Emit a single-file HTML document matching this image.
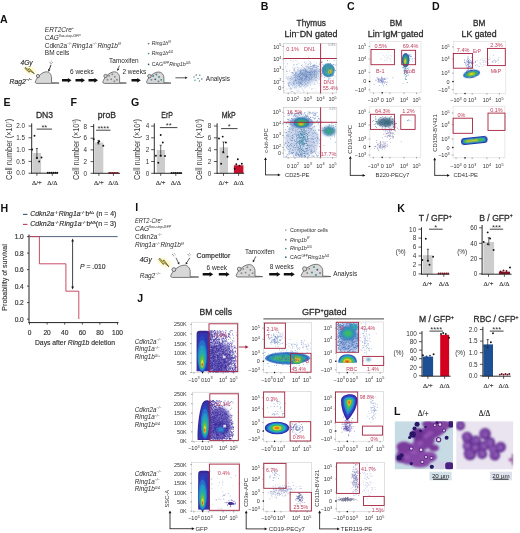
<!DOCTYPE html>
<html><head><meta charset="utf-8"><style>
html,body{margin:0;padding:0;background:#fff;}
body{width:520px;height:533px;overflow:hidden;}
svg{display:block;font-family:"Liberation Sans", sans-serif;-webkit-font-smoothing:antialiased;will-change:transform;}
</style></head><body>
<svg width="520" height="533" viewBox="0 0 520 533">
<defs><filter id="bl1" x="-50%" y="-50%" width="200%" height="200%"><feGaussianBlur stdDeviation="0.9"/></filter><filter id="bl2" x="-50%" y="-50%" width="200%" height="200%"><feGaussianBlur stdDeviation="1.6"/></filter><filter id="bl05" x="-50%" y="-50%" width="200%" height="200%"><feGaussianBlur stdDeviation="0.5"/></filter><filter id="bl065" x="-50%" y="-50%" width="200%" height="200%"><feGaussianBlur stdDeviation="0.85"/></filter><clipPath id="c1"><rect x="283.5" y="43.5" width="53.30000000000001" height="49.5"/></clipPath><clipPath id="c2"><rect x="283.5" y="107.3" width="53.30000000000001" height="50.2"/></clipPath><clipPath id="c3"><rect x="369.9" y="41.7" width="51.10000000000002" height="51.099999999999994"/></clipPath><clipPath id="c4"><rect x="369.9" y="106.2" width="50.900000000000034" height="50.999999999999986"/></clipPath><clipPath id="c5"><rect x="453.3" y="41.6" width="52.5" height="51.800000000000004"/></clipPath><clipPath id="c6"><rect x="453.1" y="106.2" width="51.799999999999955" height="51.60000000000001"/></clipPath><clipPath id="c7"><rect x="191.4" y="322.2" width="46.599999999999994" height="50.30000000000001"/></clipPath><clipPath id="c8"><rect x="192.3" y="392.2" width="46.29999999999998" height="49.10000000000002"/></clipPath><clipPath id="c9"><rect x="191.6" y="462.5" width="48.0" height="48.69999999999999"/></clipPath><clipPath id="c10"><rect x="263.6" y="322.6" width="48.0" height="49.799999999999955"/></clipPath><clipPath id="c11"><rect x="263.3" y="391.7" width="47.69999999999999" height="49.5"/></clipPath><clipPath id="c12"><rect x="263.6" y="462.7" width="48.0" height="48.5"/></clipPath><clipPath id="c13"><rect x="336.2" y="322.0" width="47.5" height="50.5"/></clipPath><clipPath id="c14"><rect x="335.5" y="391.7" width="48.19999999999999" height="49.5"/></clipPath><clipPath id="c15"><rect x="336.6" y="462.7" width="48.0" height="48.80000000000001"/></clipPath><clipPath id="c16"><rect x="394.6" y="421.2" width="58.39999999999998" height="48.19999999999999"/></clipPath><filter id="bl08" x="-50%" y="-50%" width="200%" height="200%"><feGaussianBlur stdDeviation="0.8"/></filter><clipPath id="c17"><rect x="456.2" y="421.2" width="57.19999999999999" height="48.400000000000034"/></clipPath></defs>
<rect x="0" y="0" width="520" height="533" fill="#fff"/>
<text x="0.1" y="22.7" font-size="10.6" fill="#111" font-weight="bold">A</text>
<text x="44.8" y="32.0" font-size="6.5" fill="#2a2a2a" font-style="italic">ERT2Cre<tspan font-size="3.8" dy="-2.60">+</tspan></text>
<text x="44.8" y="39.8" font-size="6.5" fill="#2a2a2a" font-style="italic">CAG<tspan font-size="3.5" dy="-2.60">flox-stop-GFP</tspan></text>
<text x="44.8" y="47.6" font-size="6.5" fill="#2a2a2a">Cdkn2a<tspan font-size="3.3" dy="-2.60">−/−</tspan><tspan dy="2.60" font-style="italic">Ring1a</tspan><tspan font-size="3.3" dy="-2.60">−/−</tspan><tspan dy="2.60" font-style="italic">Ring1b</tspan><tspan font-size="3.3" dy="-2.60" font-style="italic">f/f</tspan></text>
<text x="44.8" y="55.4" font-size="6.5" fill="#2a2a2a">BM cells</text>
<text x="20.5" y="65.0" font-size="6.6" fill="#2a2a2a" font-style="italic" stroke="#2a2a2a" stroke-width="0.16">4Gy</text>
<g transform="translate(24.2,70.5) rotate(-69)"><ellipse cx="2.00" cy="5.30" rx="3.20" ry="6.20" fill="#fbf6c0" filter="url(#bl1)"/><path d="M2.20,0.00 L0.10,5.30 L1.80,5.30 L0.60,10.60 L3.80,3.80 L2.10,3.80 L3.40,0.00 Z" fill="#e8d84a" stroke="#2e2e2e" stroke-width="0.55" stroke-linejoin="round"/></g>
<text x="9.6" y="84.0" font-size="6.8" fill="#2a2a2a" font-style="italic" stroke="#2a2a2a" stroke-width="0.16">Rag2<tspan font-size="4.2" dy="-2.80">−/−</tspan></text>
<path d="M35.30,82.00 C35.91,80.00 36.92,78.00 38.54,76.40 C40.87,73.60 43.91,71.80 46.44,71.80 C49.47,71.80 51.50,74.60 51.50,77.80 L51.50,82.70 C54.54,82.70 57.57,82.80 59.09,83.10 L51.50,83.40 L36.82,83.40 C35.91,83.40 35.10,82.80 35.30,82.00 Z" fill="#d8d8d8" stroke="#3a3a3a" stroke-width="0.65"/>
<circle cx="37.93" cy="76.00" r="1.62" fill="#d8d8d8" stroke="#3a3a3a" stroke-width="0.65"/>
<circle cx="50.00" cy="62.20" r="0.55" fill="#777"/>
<circle cx="51.60" cy="61.00" r="0.55" fill="#999"/>
<circle cx="51.00" cy="63.40" r="0.55" fill="#777"/>
<circle cx="52.60" cy="62.50" r="0.5" fill="#999"/>
<line x1="51.0" y1="64.8" x2="49.30528497696943" y2="69.3626942927746" stroke="#111" stroke-width="0.85"/>
<path d="M48.40,71.80 L48.09,68.91 L50.52,69.82 Z" fill="#111" stroke="none" stroke-width="0.8"/>
<path d="M62.0,79.0 L67.9,79.0 L67.9,77.89999999999999 L71.5,80.3 L67.9,82.7 L67.9,81.6 L62.0,81.6 Z" fill="#111" stroke="none" stroke-width="0.8"/>
<path d="M75.5,79.0 L81.4,79.0 L81.4,77.89999999999999 L85.0,80.3 L81.4,82.7 L81.4,81.6 L75.5,81.6 Z" fill="#111" stroke="none" stroke-width="0.8"/>
<path d="M88.5,79.0 L94.4,79.0 L94.4,77.89999999999999 L98.0,80.3 L94.4,82.7 L94.4,81.6 L88.5,81.6 Z" fill="#111" stroke="none" stroke-width="0.8"/>
<text x="70.0" y="73.8" font-size="6.5" fill="#2a2a2a">6 weeks</text>
<path d="M102.80,82.00 C103.43,80.00 104.48,78.00 106.16,76.40 C108.58,73.60 111.72,71.80 114.35,71.80 C117.50,71.80 119.60,74.60 119.60,77.80 L119.60,82.70 C122.33,82.70 125.06,82.80 126.42,83.10 L119.60,83.40 L104.38,83.40 C103.43,83.40 102.59,82.80 102.80,82.00 Z" fill="#d8d8d8" stroke="#3a3a3a" stroke-width="0.65"/>
<circle cx="105.53" cy="76.00" r="1.68" fill="#d8d8d8" stroke="#3a3a3a" stroke-width="0.65"/>
<circle cx="109.10" cy="75.80" r="0.95" fill="#8a8a8a"/>
<circle cx="112.25" cy="74.30" r="0.95" fill="#8a8a8a"/>
<circle cx="114.88" cy="76.80" r="0.95" fill="#8a8a8a"/>
<circle cx="111.20" cy="79.30" r="0.95" fill="#8a8a8a"/>
<circle cx="116.97" cy="79.80" r="0.95" fill="#8a8a8a"/>
<circle cx="107.52" cy="79.80" r="0.95" fill="#8a8a8a"/>
<circle cx="114.35" cy="81.30" r="0.95" fill="#8a8a8a"/>
<text x="109.0" y="63.4" font-size="6.5" fill="#2a2a2a">Tamoxifen</text>
<line x1="119.4" y1="65.6" x2="118.1640915828119" y2="68.93695272640785" stroke="#111" stroke-width="0.6"/>
<path d="M117.40,71.00 L117.13,68.55 L119.20,69.32 Z" fill="#111" stroke="none" stroke-width="0.8"/>
<text x="122.4" y="73.8" font-size="6.5" fill="#2a2a2a">2 weeks</text>
<path d="M131.5,79.0 L137.20000000000002,79.0 L137.20000000000002,77.89999999999999 L140.8,80.3 L137.20000000000002,82.7 L137.20000000000002,81.6 L131.5,81.6 Z" fill="#111" stroke="none" stroke-width="0.8"/>
<path d="M146.60,82.02 C147.25,80.06 148.33,78.09 150.06,76.52 C152.55,73.77 155.79,72.00 158.49,72.00 C161.74,72.00 163.90,74.75 163.90,77.90 L163.90,82.71 C166.71,82.71 169.52,82.81 170.93,83.10 L163.90,83.40 L148.22,83.40 C147.25,83.40 146.38,82.81 146.60,82.02 Z" fill="#d8d8d8" stroke="#3a3a3a" stroke-width="0.65"/>
<circle cx="149.41" cy="76.13" r="1.73" fill="#d8d8d8" stroke="#3a3a3a" stroke-width="0.65"/>
<circle cx="153.09" cy="75.93" r="0.95" fill="#3e8f88"/>
<circle cx="156.33" cy="74.46" r="0.95" fill="#607b8b"/>
<circle cx="159.03" cy="76.91" r="0.95" fill="#3e8f88"/>
<circle cx="155.25" cy="79.37" r="0.95" fill="#3c5f80"/>
<circle cx="161.20" cy="79.86" r="0.95" fill="#3e8f88"/>
<circle cx="151.47" cy="79.86" r="0.95" fill="#5a8aa0"/>
<circle cx="158.49" cy="81.33" r="0.95" fill="#607b8b"/>
<line x1="175.4" y1="77.8" x2="185.2" y2="77.8" stroke="#111" stroke-width="0.7"/>
<path d="M187.60,77.80 L185.20,79.00 L185.20,76.60 Z" fill="#111" stroke="none" stroke-width="0.8"/>
<circle cx="194.00" cy="77.00" r="0.7" fill="#3e8f88"/>
<circle cx="196.20" cy="75.00" r="0.7" fill="#555"/>
<circle cx="199.80" cy="75.20" r="0.7" fill="#3e8f88"/>
<circle cx="195.00" cy="80.30" r="0.7" fill="#3e8f88"/>
<circle cx="198.00" cy="78.50" r="0.7" fill="#607b8b"/>
<circle cx="201.80" cy="79.00" r="0.7" fill="#3c5f80"/>
<circle cx="199.50" cy="81.00" r="0.7" fill="#3e8f88"/>
<text x="205.8" y="81.2" font-size="6.5" fill="#2a2a2a">Analysis</text>
<circle cx="148.60" cy="43.60" r="0.85" fill="#777"/>
<text x="151.8" y="45.4" font-size="5.2" fill="#2a2a2a"><tspan font-style="italic">Ring1b</tspan><tspan font-size="3.0" dy="-2.40" font-style="italic">f/f</tspan></text>
<circle cx="148.60" cy="53.50" r="0.85" fill="#3e8f88"/>
<text x="151.8" y="55.3" font-size="5.2" fill="#2a2a2a"><tspan font-style="italic">Ring1b</tspan><tspan font-size="3.0" dy="-2.40" font-style="italic">Δ/Δ</tspan></text>
<circle cx="148.60" cy="64.40" r="0.85" fill="#3c5f80"/>
<text x="151.8" y="66.2" font-size="5.2" fill="#2a2a2a">CAG<tspan font-size="3.0" dy="-2.40">GFP</tspan><tspan dy="2.40" font-style="italic">Ring1b</tspan><tspan font-size="3.0" dy="-2.40" font-style="italic">Δ/Δ</tspan></text>
<text x="3.6" y="105.6" font-size="10.6" fill="#111" font-weight="bold">E</text>
<rect x="33.1" y="153.0" width="8.0" height="20.19999999999999" fill="#cdcdcd" stroke="none" stroke-width="0.8"/>
<line x1="31.7" y1="123.4" x2="31.7" y2="173.64999999999998" stroke="#222" stroke-width="0.95"/>
<line x1="31.25" y1="173.2" x2="57.9" y2="173.2" stroke="#222" stroke-width="0.95"/>
<line x1="28.5" y1="126.0" x2="31.7" y2="126.0" stroke="#222" stroke-width="0.75"/>
<text x="25.0" y="128.268" font-size="6.3" fill="#333" text-anchor="end">2.0</text>
<line x1="28.5" y1="137.8" x2="31.7" y2="137.8" stroke="#222" stroke-width="0.75"/>
<text x="25.0" y="140.068" font-size="6.3" fill="#333" text-anchor="end">1.5</text>
<line x1="28.5" y1="149.6" x2="31.7" y2="149.6" stroke="#222" stroke-width="0.75"/>
<text x="25.0" y="151.868" font-size="6.3" fill="#333" text-anchor="end">1.0</text>
<line x1="28.5" y1="161.4" x2="31.7" y2="161.4" stroke="#222" stroke-width="0.75"/>
<text x="25.0" y="163.668" font-size="6.3" fill="#333" text-anchor="end">0.5</text>
<line x1="28.5" y1="173.2" x2="31.7" y2="173.2" stroke="#222" stroke-width="0.75"/>
<text x="25.0" y="175.468" font-size="6.3" fill="#333" text-anchor="end">0.0</text>
<line x1="36.9" y1="148.5" x2="36.9" y2="158.0" stroke="#222" stroke-width="0.7"/>
<line x1="35.8" y1="148.5" x2="38.0" y2="148.5" stroke="#222" stroke-width="0.7"/>
<line x1="35.8" y1="158.0" x2="38.0" y2="158.0" stroke="#222" stroke-width="0.7"/>
<circle cx="34.50" cy="135.80" r="0.95" fill="#111"/>
<circle cx="32.10" cy="149.50" r="0.95" fill="#111"/>
<circle cx="36.90" cy="158.00" r="0.95" fill="#111"/>
<circle cx="41.50" cy="157.50" r="0.95" fill="#111"/>
<circle cx="39.20" cy="161.50" r="0.95" fill="#111"/>
<circle cx="47.80" cy="172.80" r="0.95" fill="#111"/>
<circle cx="49.70" cy="172.80" r="0.95" fill="#111"/>
<circle cx="51.60" cy="172.80" r="0.95" fill="#111"/>
<circle cx="53.50" cy="172.80" r="0.95" fill="#111"/>
<circle cx="55.40" cy="172.80" r="0.95" fill="#111"/>
<circle cx="57.30" cy="172.80" r="0.95" fill="#111"/>
<line x1="36.6" y1="129.1" x2="52.1" y2="129.1" stroke="#444" stroke-width="1.0"/>
<text x="44.35" y="129.9" font-size="7.6" fill="#333" text-anchor="middle" stroke="none">**</text>
<text x="44.5" y="118.0" font-size="8.6" fill="#2a2a2a" text-anchor="middle" stroke="#2a2a2a" stroke-width="0.26">DN3</text>
<line x1="36.9" y1="173.2" x2="36.9" y2="175.79999999999998" stroke="#222" stroke-width="0.75"/>
<text x="36.9" y="185.3" font-size="6.6" fill="#333" text-anchor="middle" font-family="Liberation Serif, serif" stroke="#333" stroke-width="0.16">Δ/+</text>
<line x1="52.3" y1="173.2" x2="52.3" y2="175.79999999999998" stroke="#222" stroke-width="0.75"/>
<text x="52.3" y="185.3" font-size="6.6" fill="#333" text-anchor="middle" font-family="Liberation Serif, serif" stroke="#333" stroke-width="0.16">Δ/Δ</text>
<text x="11.6" y="149.4" font-size="8.8" fill="#3a3a3a" text-anchor="middle" textLength="61" lengthAdjust="spacingAndGlyphs" stroke="none" transform="rotate(-90 11.6 149.4)">Cell number (×10<tspan font-size="4.4" dy="-3.00">7</tspan><tspan dy="3.00">)</tspan></text>
<text x="70.6" y="105.6" font-size="10.6" fill="#111" font-weight="bold">F</text>
<rect x="95.0" y="142.5" width="8.299999999999997" height="30.80000000000001" fill="#cdcdcd" stroke="none" stroke-width="0.8"/>
<line x1="93.7" y1="124.1" x2="93.7" y2="173.75" stroke="#222" stroke-width="0.95"/>
<line x1="93.25" y1="173.3" x2="120.0" y2="173.3" stroke="#222" stroke-width="0.95"/>
<line x1="90.5" y1="126.5" x2="93.7" y2="126.5" stroke="#222" stroke-width="0.75"/>
<text x="87.0" y="128.768" font-size="6.3" fill="#333" text-anchor="end">8</text>
<line x1="90.5" y1="138.2" x2="93.7" y2="138.2" stroke="#222" stroke-width="0.75"/>
<text x="87.0" y="140.468" font-size="6.3" fill="#333" text-anchor="end">6</text>
<line x1="90.5" y1="149.9" x2="93.7" y2="149.9" stroke="#222" stroke-width="0.75"/>
<text x="87.0" y="152.168" font-size="6.3" fill="#333" text-anchor="end">4</text>
<line x1="90.5" y1="161.6" x2="93.7" y2="161.6" stroke="#222" stroke-width="0.75"/>
<text x="87.0" y="163.868" font-size="6.3" fill="#333" text-anchor="end">2</text>
<line x1="90.5" y1="173.3" x2="93.7" y2="173.3" stroke="#222" stroke-width="0.75"/>
<text x="87.0" y="175.568" font-size="6.3" fill="#333" text-anchor="end">0</text>
<line x1="98.5" y1="140.4" x2="98.5" y2="144.0" stroke="#222" stroke-width="0.7"/>
<line x1="97.4" y1="140.4" x2="99.6" y2="140.4" stroke="#222" stroke-width="0.7"/>
<line x1="97.4" y1="144.0" x2="99.6" y2="144.0" stroke="#222" stroke-width="0.7"/>
<circle cx="93.70" cy="139.30" r="0.95" fill="#111"/>
<circle cx="99.30" cy="141.40" r="0.95" fill="#111"/>
<circle cx="103.30" cy="145.70" r="0.95" fill="#111"/>
<circle cx="98.20" cy="142.50" r="0.95" fill="#111"/>
<circle cx="109.20" cy="172.90" r="0.95" fill="#6d0f1c"/>
<circle cx="110.90" cy="172.90" r="0.95" fill="#6d0f1c"/>
<circle cx="112.60" cy="172.90" r="0.95" fill="#6d0f1c"/>
<circle cx="114.30" cy="172.90" r="0.95" fill="#6d0f1c"/>
<circle cx="116.00" cy="172.90" r="0.95" fill="#6d0f1c"/>
<circle cx="117.70" cy="172.90" r="0.95" fill="#6d0f1c"/>
<line x1="96.1" y1="130.2" x2="110.5" y2="130.2" stroke="#444" stroke-width="1.0"/>
<text x="103.3" y="131.0" font-size="7.6" fill="#333" text-anchor="middle" stroke="none">****</text>
<text x="106.9" y="117.8" font-size="8.6" fill="#2a2a2a" text-anchor="middle" stroke="#2a2a2a" stroke-width="0.26">proB</text>
<line x1="98.9" y1="173.3" x2="98.9" y2="175.9" stroke="#222" stroke-width="0.75"/>
<text x="98.9" y="185.3" font-size="6.6" fill="#333" text-anchor="middle" font-family="Liberation Serif, serif" stroke="#333" stroke-width="0.16">Δ/+</text>
<line x1="113.4" y1="173.3" x2="113.4" y2="175.9" stroke="#222" stroke-width="0.75"/>
<text x="113.4" y="185.3" font-size="6.6" fill="#333" text-anchor="middle" font-family="Liberation Serif, serif" stroke="#333" stroke-width="0.16">Δ/Δ</text>
<text x="79.0" y="149.6" font-size="8.8" fill="#3a3a3a" text-anchor="middle" textLength="61" lengthAdjust="spacingAndGlyphs" stroke="none" transform="rotate(-90 79.0 149.6)">Cell number (×10<tspan font-size="4.4" dy="-3.00">5</tspan><tspan dy="3.00">)</tspan></text>
<text x="131.0" y="105.6" font-size="10.6" fill="#111" font-weight="bold">G</text>
<rect x="156.7" y="150.0" width="8.300000000000011" height="23.30000000000001" fill="#cdcdcd" stroke="none" stroke-width="0.8"/>
<line x1="154.3" y1="123.3" x2="154.3" y2="173.75" stroke="#222" stroke-width="0.95"/>
<line x1="153.85000000000002" y1="173.3" x2="182.2" y2="173.3" stroke="#222" stroke-width="0.95"/>
<line x1="151.10000000000002" y1="126.0" x2="154.3" y2="126.0" stroke="#222" stroke-width="0.75"/>
<text x="149.2" y="128.268" font-size="6.3" fill="#333" text-anchor="end">4</text>
<line x1="151.10000000000002" y1="137.8" x2="154.3" y2="137.8" stroke="#222" stroke-width="0.75"/>
<text x="149.2" y="140.068" font-size="6.3" fill="#333" text-anchor="end">3</text>
<line x1="151.10000000000002" y1="149.7" x2="154.3" y2="149.7" stroke="#222" stroke-width="0.75"/>
<text x="149.2" y="151.968" font-size="6.3" fill="#333" text-anchor="end">2</text>
<line x1="151.10000000000002" y1="161.5" x2="154.3" y2="161.5" stroke="#222" stroke-width="0.75"/>
<text x="149.2" y="163.768" font-size="6.3" fill="#333" text-anchor="end">1</text>
<line x1="151.10000000000002" y1="173.3" x2="154.3" y2="173.3" stroke="#222" stroke-width="0.75"/>
<text x="149.2" y="175.568" font-size="6.3" fill="#333" text-anchor="end">0</text>
<line x1="160.7" y1="145.2" x2="160.7" y2="155.7" stroke="#222" stroke-width="0.7"/>
<line x1="159.6" y1="145.2" x2="161.79999999999998" y2="145.2" stroke="#222" stroke-width="0.7"/>
<line x1="159.6" y1="155.7" x2="161.79999999999998" y2="155.7" stroke="#222" stroke-width="0.7"/>
<circle cx="160.70" cy="135.00" r="0.95" fill="#111"/>
<circle cx="162.80" cy="142.50" r="0.95" fill="#111"/>
<circle cx="155.90" cy="155.70" r="0.95" fill="#111"/>
<circle cx="165.00" cy="156.00" r="0.95" fill="#111"/>
<circle cx="158.30" cy="162.70" r="0.95" fill="#111"/>
<circle cx="160.70" cy="155.70" r="0.95" fill="#111"/>
<circle cx="171.50" cy="172.90" r="0.95" fill="#111"/>
<circle cx="173.40" cy="172.90" r="0.95" fill="#111"/>
<circle cx="175.30" cy="172.90" r="0.95" fill="#111"/>
<circle cx="177.20" cy="172.90" r="0.95" fill="#111"/>
<circle cx="179.10" cy="172.90" r="0.95" fill="#111"/>
<circle cx="181.00" cy="172.90" r="0.95" fill="#111"/>
<line x1="159.9" y1="127.6" x2="177.4" y2="127.6" stroke="#444" stroke-width="1.0"/>
<text x="168.65" y="128.4" font-size="7.6" fill="#333" text-anchor="middle" stroke="none">**</text>
<text x="167.1" y="118.4" font-size="8.6" fill="#2a2a2a" text-anchor="middle" textLength="11.6" lengthAdjust="spacingAndGlyphs" stroke="#2a2a2a" stroke-width="0.26">ErP</text>
<line x1="160.7" y1="173.3" x2="160.7" y2="175.9" stroke="#222" stroke-width="0.75"/>
<text x="160.7" y="185.3" font-size="6.6" fill="#333" text-anchor="middle" font-family="Liberation Serif, serif" stroke="#333" stroke-width="0.16">Δ/+</text>
<line x1="175.8" y1="173.3" x2="175.8" y2="175.9" stroke="#222" stroke-width="0.75"/>
<text x="175.8" y="185.3" font-size="6.6" fill="#333" text-anchor="middle" font-family="Liberation Serif, serif" stroke="#333" stroke-width="0.16">Δ/Δ</text>
<text x="140.4" y="149.6" font-size="8.8" fill="#3a3a3a" text-anchor="middle" textLength="61" lengthAdjust="spacingAndGlyphs" stroke="none" transform="rotate(-90 140.4 149.6)">Cell number (×10<tspan font-size="4.4" dy="-3.00">4</tspan><tspan dy="3.00">)</tspan></text>
<rect x="219.5" y="147.3" width="8.5" height="26.0" fill="#cdcdcd" stroke="none" stroke-width="0.8"/>
<rect x="233.9" y="165.3" width="9.5" height="8.0" fill="#c8102e" stroke="none" stroke-width="0.8"/>
<line x1="217.1" y1="123.3" x2="217.1" y2="173.75" stroke="#222" stroke-width="0.95"/>
<line x1="216.65" y1="173.3" x2="244.2" y2="173.3" stroke="#222" stroke-width="0.95"/>
<line x1="213.9" y1="126.0" x2="217.1" y2="126.0" stroke="#222" stroke-width="0.75"/>
<text x="211.2" y="128.268" font-size="6.3" fill="#333" text-anchor="end">8</text>
<line x1="213.9" y1="137.8" x2="217.1" y2="137.8" stroke="#222" stroke-width="0.75"/>
<text x="211.2" y="140.068" font-size="6.3" fill="#333" text-anchor="end">6</text>
<line x1="213.9" y1="149.7" x2="217.1" y2="149.7" stroke="#222" stroke-width="0.75"/>
<text x="211.2" y="151.968" font-size="6.3" fill="#333" text-anchor="end">4</text>
<line x1="213.9" y1="161.5" x2="217.1" y2="161.5" stroke="#222" stroke-width="0.75"/>
<text x="211.2" y="163.768" font-size="6.3" fill="#333" text-anchor="end">2</text>
<line x1="213.9" y1="173.3" x2="217.1" y2="173.3" stroke="#222" stroke-width="0.75"/>
<text x="211.2" y="175.568" font-size="6.3" fill="#333" text-anchor="end">0</text>
<line x1="223.5" y1="142.0" x2="223.5" y2="152.8" stroke="#222" stroke-width="0.7"/>
<line x1="222.4" y1="142.0" x2="224.6" y2="142.0" stroke="#222" stroke-width="0.7"/>
<line x1="222.4" y1="152.8" x2="224.6" y2="152.8" stroke="#222" stroke-width="0.7"/>
<circle cx="222.70" cy="136.60" r="0.95" fill="#111"/>
<circle cx="219.00" cy="138.50" r="0.95" fill="#111"/>
<circle cx="225.90" cy="142.50" r="0.95" fill="#111"/>
<circle cx="227.50" cy="156.80" r="0.95" fill="#111"/>
<circle cx="221.10" cy="163.70" r="0.95" fill="#111"/>
<circle cx="223.20" cy="152.00" r="0.95" fill="#111"/>
<circle cx="237.80" cy="159.20" r="0.95" fill="#111"/>
<circle cx="241.80" cy="163.70" r="0.95" fill="#111"/>
<circle cx="234.70" cy="168.80" r="0.95" fill="#111"/>
<circle cx="239.40" cy="165.60" r="0.95" fill="#111"/>
<circle cx="236.30" cy="164.30" r="0.95" fill="#111"/>
<line x1="221.1" y1="128.6" x2="237.5" y2="128.6" stroke="#444" stroke-width="1.0"/>
<text x="229.3" y="129.4" font-size="7.6" fill="#333" text-anchor="middle" stroke="none">*</text>
<text x="228.7" y="118.1" font-size="8.6" fill="#2a2a2a" text-anchor="middle" textLength="14.0" lengthAdjust="spacingAndGlyphs" stroke="#2a2a2a" stroke-width="0.26">MkP</text>
<line x1="223.5" y1="173.3" x2="223.5" y2="175.9" stroke="#222" stroke-width="0.75"/>
<text x="223.5" y="185.3" font-size="6.6" fill="#333" text-anchor="middle" font-family="Liberation Serif, serif" stroke="#333" stroke-width="0.16">Δ/+</text>
<line x1="238.6" y1="173.3" x2="238.6" y2="175.9" stroke="#222" stroke-width="0.75"/>
<text x="238.6" y="185.3" font-size="6.6" fill="#333" text-anchor="middle" font-family="Liberation Serif, serif" stroke="#333" stroke-width="0.16">Δ/Δ</text>
<text x="202.4" y="149.6" font-size="8.8" fill="#3a3a3a" text-anchor="middle" textLength="61" lengthAdjust="spacingAndGlyphs" stroke="none" transform="rotate(-90 202.4 149.6)">Cell number (×10<tspan font-size="4.4" dy="-3.00">3</tspan><tspan dy="3.00">)</tspan></text>
<text x="397.2" y="212.0" font-size="10.6" fill="#111" font-weight="bold">K</text>
<rect x="422.6" y="255.2" width="10.099999999999966" height="19.0" fill="#cdcdcd" stroke="none" stroke-width="0.8"/>
<line x1="421.5" y1="227.3" x2="421.5" y2="274.65" stroke="#222" stroke-width="0.95"/>
<line x1="421.05" y1="274.2" x2="449.4" y2="274.2" stroke="#222" stroke-width="0.95"/>
<line x1="418.5" y1="229.2" x2="421.5" y2="229.2" stroke="#222" stroke-width="0.75"/>
<text x="416.2" y="231.504" font-size="6.4" fill="#333" text-anchor="end">10</text>
<line x1="418.5" y1="238.1" x2="421.5" y2="238.1" stroke="#222" stroke-width="0.75"/>
<text x="416.2" y="240.404" font-size="6.4" fill="#333" text-anchor="end">8</text>
<line x1="418.5" y1="247.1" x2="421.5" y2="247.1" stroke="#222" stroke-width="0.75"/>
<text x="416.2" y="249.404" font-size="6.4" fill="#333" text-anchor="end">6</text>
<line x1="418.5" y1="256.0" x2="421.5" y2="256.0" stroke="#222" stroke-width="0.75"/>
<text x="416.2" y="258.304" font-size="6.4" fill="#333" text-anchor="end">4</text>
<line x1="418.5" y1="264.9" x2="421.5" y2="264.9" stroke="#222" stroke-width="0.75"/>
<text x="416.2" y="267.20399999999995" font-size="6.4" fill="#333" text-anchor="end">2</text>
<line x1="418.5" y1="273.9" x2="421.5" y2="273.9" stroke="#222" stroke-width="0.75"/>
<text x="416.2" y="276.20399999999995" font-size="6.4" fill="#333" text-anchor="end">0</text>
<line x1="427.9" y1="249.3" x2="427.9" y2="260.8" stroke="#222" stroke-width="0.7"/>
<line x1="426.79999999999995" y1="249.3" x2="429.0" y2="249.3" stroke="#222" stroke-width="0.7"/>
<line x1="426.79999999999995" y1="260.8" x2="429.0" y2="260.8" stroke="#222" stroke-width="0.7"/>
<circle cx="425.80" cy="238.80" r="0.95" fill="#111"/>
<circle cx="422.30" cy="260.00" r="0.95" fill="#111"/>
<circle cx="433.10" cy="256.80" r="0.95" fill="#111"/>
<circle cx="429.50" cy="264.80" r="0.95" fill="#111"/>
<circle cx="427.90" cy="260.80" r="0.95" fill="#111"/>
<circle cx="438.60" cy="273.50" r="0.95" fill="#6d0f1c"/>
<circle cx="440.50" cy="273.50" r="0.95" fill="#6d0f1c"/>
<circle cx="442.40" cy="273.50" r="0.95" fill="#6d0f1c"/>
<circle cx="444.30" cy="273.50" r="0.95" fill="#6d0f1c"/>
<circle cx="446.20" cy="273.50" r="0.95" fill="#6d0f1c"/>
<circle cx="448.10" cy="273.50" r="0.95" fill="#6d0f1c"/>
<line x1="429.0" y1="229.2" x2="442.7" y2="229.2" stroke="#444" stroke-width="1.0"/>
<text x="435.85" y="230.0" font-size="7.6" fill="#333" text-anchor="middle" stroke="none">*</text>
<text x="435.2" y="221.0" font-size="8.6" fill="#2a2a2a" text-anchor="middle" stroke="#2a2a2a" stroke-width="0.26">T / GFP<tspan font-size="5.0" dy="-3.40">+</tspan></text>
<line x1="427.4" y1="274.2" x2="427.4" y2="276.8" stroke="#222" stroke-width="0.75"/>
<text x="427.4" y="286.4" font-size="6.6" fill="#333" text-anchor="middle" font-family="Liberation Serif, serif" stroke="#333" stroke-width="0.16">Δ/+</text>
<line x1="443.8" y1="274.2" x2="443.8" y2="276.8" stroke="#222" stroke-width="0.75"/>
<text x="443.8" y="286.4" font-size="6.6" fill="#333" text-anchor="middle" font-family="Liberation Serif, serif" stroke="#333" stroke-width="0.16">Δ/Δ</text>
<text x="400.8" y="253.5" font-size="6.4" fill="#333" text-anchor="middle">(%)</text>
<rect x="483.4" y="242.0" width="10.700000000000045" height="32.19999999999999" fill="#cdcdcd" stroke="none" stroke-width="0.8"/>
<rect x="498.9" y="271.7" width="11.100000000000023" height="2.5" fill="#8a1426" stroke="none" stroke-width="0.8"/>
<line x1="482.1" y1="225.0" x2="482.1" y2="274.65" stroke="#222" stroke-width="0.95"/>
<line x1="481.65000000000003" y1="274.2" x2="511.6" y2="274.2" stroke="#222" stroke-width="0.95"/>
<line x1="479.1" y1="227.8" x2="482.1" y2="227.8" stroke="#222" stroke-width="0.75"/>
<text x="477.3" y="230.104" font-size="6.4" fill="#333" text-anchor="end">60</text>
<line x1="479.1" y1="243.3" x2="482.1" y2="243.3" stroke="#222" stroke-width="0.75"/>
<text x="477.3" y="245.604" font-size="6.4" fill="#333" text-anchor="end">40</text>
<line x1="479.1" y1="258.7" x2="482.1" y2="258.7" stroke="#222" stroke-width="0.75"/>
<text x="477.3" y="261.00399999999996" font-size="6.4" fill="#333" text-anchor="end">20</text>
<line x1="479.1" y1="273.9" x2="482.1" y2="273.9" stroke="#222" stroke-width="0.75"/>
<text x="477.3" y="276.20399999999995" font-size="6.4" fill="#333" text-anchor="end">0</text>
<line x1="488.8" y1="237.7" x2="488.8" y2="244.9" stroke="#222" stroke-width="0.7"/>
<line x1="487.7" y1="237.7" x2="489.90000000000003" y2="237.7" stroke="#222" stroke-width="0.7"/>
<line x1="487.7" y1="244.9" x2="489.90000000000003" y2="244.9" stroke="#222" stroke-width="0.7"/>
<circle cx="487.70" cy="232.40" r="0.95" fill="#111"/>
<circle cx="483.70" cy="242.00" r="0.95" fill="#111"/>
<circle cx="490.10" cy="238.50" r="0.95" fill="#111"/>
<circle cx="493.60" cy="250.00" r="0.95" fill="#111"/>
<circle cx="487.70" cy="244.10" r="0.95" fill="#111"/>
<circle cx="510.00" cy="267.50" r="0.95" fill="#111"/>
<circle cx="500.50" cy="271.50" r="0.95" fill="#6d0f1c"/>
<circle cx="503.50" cy="270.50" r="0.95" fill="#6d0f1c"/>
<circle cx="506.50" cy="271.00" r="0.95" fill="#6d0f1c"/>
<circle cx="502.00" cy="272.50" r="0.95" fill="#6d0f1c"/>
<line x1="489.8" y1="229.2" x2="503.2" y2="229.2" stroke="#444" stroke-width="1.0"/>
<text x="496.5" y="230.0" font-size="7.6" fill="#333" text-anchor="middle" stroke="none">***</text>
<text x="496.0" y="220.7" font-size="8.6" fill="#2a2a2a" text-anchor="middle" stroke="#2a2a2a" stroke-width="0.26">B / GFP<tspan font-size="5.0" dy="-3.40">+</tspan></text>
<line x1="488.5" y1="274.2" x2="488.5" y2="276.8" stroke="#222" stroke-width="0.75"/>
<text x="488.5" y="286.4" font-size="6.6" fill="#333" text-anchor="middle" font-family="Liberation Serif, serif" stroke="#333" stroke-width="0.16">Δ/+</text>
<line x1="504.4" y1="274.2" x2="504.4" y2="276.8" stroke="#222" stroke-width="0.75"/>
<text x="504.4" y="286.4" font-size="6.6" fill="#333" text-anchor="middle" font-family="Liberation Serif, serif" stroke="#333" stroke-width="0.16">Δ/Δ</text>
<text x="462.2" y="253.5" font-size="6.4" fill="#333" text-anchor="middle">(%)</text>
<rect x="422.6" y="356.6" width="10.5" height="19.599999999999966" fill="#1c4f94" stroke="none" stroke-width="0.8"/>
<rect x="440.2" y="334.8" width="8.900000000000034" height="41.39999999999998" fill="#d4001f" stroke="none" stroke-width="0.8"/>
<line x1="422.0" y1="331.1" x2="422.0" y2="376.65" stroke="#222" stroke-width="0.95"/>
<line x1="421.55" y1="376.2" x2="450.6" y2="376.2" stroke="#222" stroke-width="0.95"/>
<line x1="419.0" y1="333.2" x2="422.0" y2="333.2" stroke="#222" stroke-width="0.75"/>
<text x="416.9" y="335.50399999999996" font-size="6.4" fill="#333" text-anchor="end">100</text>
<line x1="419.0" y1="341.7" x2="422.0" y2="341.7" stroke="#222" stroke-width="0.75"/>
<text x="416.9" y="344.00399999999996" font-size="6.4" fill="#333" text-anchor="end">80</text>
<line x1="419.0" y1="350.2" x2="422.0" y2="350.2" stroke="#222" stroke-width="0.75"/>
<text x="416.9" y="352.50399999999996" font-size="6.4" fill="#333" text-anchor="end">60</text>
<line x1="419.0" y1="358.7" x2="422.0" y2="358.7" stroke="#222" stroke-width="0.75"/>
<text x="416.9" y="361.00399999999996" font-size="6.4" fill="#333" text-anchor="end">40</text>
<line x1="419.0" y1="367.2" x2="422.0" y2="367.2" stroke="#222" stroke-width="0.75"/>
<text x="416.9" y="369.50399999999996" font-size="6.4" fill="#333" text-anchor="end">20</text>
<line x1="419.0" y1="375.8" x2="422.0" y2="375.8" stroke="#222" stroke-width="0.75"/>
<text x="416.9" y="378.104" font-size="6.4" fill="#333" text-anchor="end">0</text>
<circle cx="422.90" cy="355.20" r="0.95" fill="#111"/>
<circle cx="426.50" cy="356.40" r="0.95" fill="#1c3f74"/>
<circle cx="430.00" cy="355.60" r="0.95" fill="#1c3f74"/>
<circle cx="433.60" cy="354.20" r="0.95" fill="#111"/>
<circle cx="441.00" cy="334.00" r="0.95" fill="#111"/>
<circle cx="443.20" cy="333.00" r="0.95" fill="#111"/>
<circle cx="445.80" cy="334.00" r="0.95" fill="#111"/>
<circle cx="449.00" cy="337.80" r="0.95" fill="#111"/>
<line x1="429.5" y1="331.1" x2="443.0" y2="331.1" stroke="#444" stroke-width="1.0"/>
<text x="436.25" y="331.90000000000003" font-size="7.6" fill="#333" text-anchor="middle" stroke="none">****</text>
<text x="436.4" y="322.4" font-size="8.6" fill="#2a2a2a" text-anchor="middle" stroke="#2a2a2a" stroke-width="0.26">M / GFP<tspan font-size="5.0" dy="-3.40">+</tspan></text>
<line x1="427.9" y1="376.2" x2="427.9" y2="378.8" stroke="#222" stroke-width="0.75"/>
<text x="427.9" y="388.4" font-size="6.6" fill="#333" text-anchor="middle" font-family="Liberation Serif, serif" stroke="#333" stroke-width="0.16">Δ/+</text>
<line x1="444.6" y1="376.2" x2="444.6" y2="378.8" stroke="#222" stroke-width="0.75"/>
<text x="444.6" y="388.4" font-size="6.6" fill="#333" text-anchor="middle" font-family="Liberation Serif, serif" stroke="#333" stroke-width="0.16">Δ/Δ</text>
<text x="398.6" y="355.0" font-size="6.4" fill="#333" text-anchor="middle">(%)</text>
<rect x="483.4" y="344.4" width="9.600000000000023" height="31.80000000000001" fill="#1c4f94" stroke="none" stroke-width="0.8"/>
<line x1="482.9" y1="326.8" x2="482.9" y2="376.65" stroke="#222" stroke-width="0.95"/>
<line x1="482.45" y1="376.2" x2="510.8" y2="376.2" stroke="#222" stroke-width="0.95"/>
<line x1="479.9" y1="329.5" x2="482.9" y2="329.5" stroke="#222" stroke-width="0.75"/>
<text x="477.6" y="331.804" font-size="6.4" fill="#333" text-anchor="end">2.0</text>
<line x1="479.9" y1="341.1" x2="482.9" y2="341.1" stroke="#222" stroke-width="0.75"/>
<text x="477.6" y="343.404" font-size="6.4" fill="#333" text-anchor="end">1.5</text>
<line x1="479.9" y1="352.7" x2="482.9" y2="352.7" stroke="#222" stroke-width="0.75"/>
<text x="477.6" y="355.00399999999996" font-size="6.4" fill="#333" text-anchor="end">1.0</text>
<line x1="479.9" y1="364.3" x2="482.9" y2="364.3" stroke="#222" stroke-width="0.75"/>
<text x="477.6" y="366.604" font-size="6.4" fill="#333" text-anchor="end">0.5</text>
<line x1="479.9" y1="375.8" x2="482.9" y2="375.8" stroke="#222" stroke-width="0.75"/>
<text x="477.6" y="378.104" font-size="6.4" fill="#333" text-anchor="end">0.0</text>
<line x1="487.7" y1="339.6" x2="487.7" y2="347.9" stroke="#222" stroke-width="0.7"/>
<line x1="486.59999999999997" y1="339.6" x2="488.8" y2="339.6" stroke="#222" stroke-width="0.7"/>
<line x1="486.59999999999997" y1="347.9" x2="488.8" y2="347.9" stroke="#222" stroke-width="0.7"/>
<circle cx="493.00" cy="333.20" r="0.95" fill="#111"/>
<circle cx="490.90" cy="342.30" r="0.95" fill="#111"/>
<circle cx="484.50" cy="346.30" r="0.95" fill="#1c3f74"/>
<circle cx="499.80" cy="374.60" r="0.95" fill="#6d0f1c"/>
<circle cx="501.70" cy="374.00" r="0.95" fill="#6d0f1c"/>
<circle cx="503.60" cy="374.60" r="0.95" fill="#6d0f1c"/>
<circle cx="505.50" cy="374.00" r="0.95" fill="#6d0f1c"/>
<circle cx="507.40" cy="374.60" r="0.95" fill="#6d0f1c"/>
<circle cx="509.30" cy="374.00" r="0.95" fill="#6d0f1c"/>
<line x1="489.8" y1="331.1" x2="503.6" y2="331.1" stroke="#444" stroke-width="1.0"/>
<text x="496.70000000000005" y="331.90000000000003" font-size="7.6" fill="#333" text-anchor="middle" stroke="none">***</text>
<text x="496.0" y="322.4" font-size="8.4" fill="#2a2a2a" text-anchor="middle" stroke="#2a2a2a" stroke-width="0.26">RBC / GFP<tspan font-size="5.0" dy="-3.40">+</tspan></text>
<line x1="488.5" y1="376.2" x2="488.5" y2="378.8" stroke="#222" stroke-width="0.75"/>
<text x="488.5" y="388.4" font-size="6.6" fill="#333" text-anchor="middle" font-family="Liberation Serif, serif" stroke="#333" stroke-width="0.16">Δ/+</text>
<line x1="503.6" y1="376.2" x2="503.6" y2="378.8" stroke="#222" stroke-width="0.75"/>
<text x="503.6" y="388.4" font-size="6.6" fill="#333" text-anchor="middle" font-family="Liberation Serif, serif" stroke="#333" stroke-width="0.16">Δ/Δ</text>
<text x="460.2" y="355.0" font-size="6.4" fill="#333" text-anchor="middle">(%)</text>
<text x="0.6" y="212.0" font-size="10.6" fill="#111" font-weight="bold">H</text>
<line x1="23.0" y1="214.4" x2="27.4" y2="214.4" stroke="#3e5470" stroke-width="1.1"/>
<line x1="23.0" y1="224.4" x2="27.4" y2="224.4" stroke="#c23a55" stroke-width="1.1"/>
<text x="30.3" y="216.2" font-size="6.6" fill="#333" textLength="86" lengthAdjust="spacingAndGlyphs" stroke="#333" stroke-width="0.16"><tspan font-style="italic">Cdkn2a</tspan><tspan font-size="3.2" dy="-2.40">−/−</tspan><tspan dy="2.40" font-style="italic">Ring1a</tspan><tspan font-size="3.2" dy="-2.40">−/−</tspan><tspan dy="2.40">b</tspan><tspan font-size="3.2" dy="-2.40">Δ/+</tspan><tspan dy="2.40"> (n = 4)</tspan></text>
<text x="30.3" y="226.4" font-size="6.6" fill="#333" textLength="86" lengthAdjust="spacingAndGlyphs" stroke="#333" stroke-width="0.16"><tspan font-style="italic">Cdkn2a</tspan><tspan font-size="3.2" dy="-2.40">−/−</tspan><tspan dy="2.40" font-style="italic">Ring1a</tspan><tspan font-size="3.2" dy="-2.40">−/−</tspan><tspan dy="2.40">b</tspan><tspan font-size="3.2" dy="-2.40">Δ/Δ</tspan><tspan dy="2.40">(n = 3)</tspan></text>
<line x1="29.0" y1="234.5" x2="29.0" y2="322.8" stroke="#222" stroke-width="1.0"/>
<line x1="28.5" y1="322.6" x2="118.5" y2="322.6" stroke="#222" stroke-width="1.0"/>
<line x1="27.0" y1="236.6" x2="29.0" y2="236.6" stroke="#222" stroke-width="0.8"/>
<text x="23.8" y="239.0" font-size="6.6" fill="#333" text-anchor="end" stroke="#333" stroke-width="0.16">1.0</text>
<line x1="27.0" y1="253.1" x2="29.0" y2="253.1" stroke="#222" stroke-width="0.8"/>
<text x="23.8" y="255.5" font-size="6.6" fill="#333" text-anchor="end" stroke="#333" stroke-width="0.16">0.8</text>
<line x1="27.0" y1="269.6" x2="29.0" y2="269.6" stroke="#222" stroke-width="0.8"/>
<text x="23.8" y="272.0" font-size="6.6" fill="#333" text-anchor="end" stroke="#333" stroke-width="0.16">0.6</text>
<line x1="27.0" y1="286.1" x2="29.0" y2="286.1" stroke="#222" stroke-width="0.8"/>
<text x="23.8" y="288.5" font-size="6.6" fill="#333" text-anchor="end" stroke="#333" stroke-width="0.16">0.4</text>
<line x1="27.0" y1="302.6" x2="29.0" y2="302.6" stroke="#222" stroke-width="0.8"/>
<text x="23.8" y="305.0" font-size="6.6" fill="#333" text-anchor="end" stroke="#333" stroke-width="0.16">0.2</text>
<line x1="27.0" y1="319.1" x2="29.0" y2="319.1" stroke="#222" stroke-width="0.8"/>
<text x="23.8" y="321.5" font-size="6.6" fill="#333" text-anchor="end" stroke="#333" stroke-width="0.16">0.0</text>
<line x1="29.5" y1="322.6" x2="29.5" y2="324.6" stroke="#222" stroke-width="0.8"/>
<text x="29.5" y="334.6" font-size="6.6" fill="#333" text-anchor="middle" stroke="#333" stroke-width="0.16">0</text>
<line x1="47.1" y1="322.6" x2="47.1" y2="324.6" stroke="#222" stroke-width="0.8"/>
<text x="47.1" y="334.6" font-size="6.6" fill="#333" text-anchor="middle" stroke="#333" stroke-width="0.16">20</text>
<line x1="64.7" y1="322.6" x2="64.7" y2="324.6" stroke="#222" stroke-width="0.8"/>
<text x="64.7" y="334.6" font-size="6.6" fill="#333" text-anchor="middle" stroke="#333" stroke-width="0.16">40</text>
<line x1="82.3" y1="322.6" x2="82.3" y2="324.6" stroke="#222" stroke-width="0.8"/>
<text x="82.3" y="334.6" font-size="6.6" fill="#333" text-anchor="middle" stroke="#333" stroke-width="0.16">60</text>
<line x1="99.9" y1="322.6" x2="99.9" y2="324.6" stroke="#222" stroke-width="0.8"/>
<text x="99.9" y="334.6" font-size="6.6" fill="#333" text-anchor="middle" stroke="#333" stroke-width="0.16">80</text>
<line x1="117.5" y1="322.6" x2="117.5" y2="324.6" stroke="#222" stroke-width="0.8"/>
<text x="117.5" y="334.6" font-size="6.6" fill="#333" text-anchor="middle" stroke="#333" stroke-width="0.16">100</text>
<text x="75" y="344.6" font-size="6.8" fill="#333" text-anchor="middle" stroke="#333" stroke-width="0.16">Days after <tspan font-style="italic">Ring1b</tspan> deletion</text>
<text x="7.0" y="277.4" font-size="7.2" fill="#3a3a3a" text-anchor="middle" textLength="66.5" lengthAdjust="spacingAndGlyphs" transform="rotate(-90 7.0 277.4)" stroke="#3a3a3a" stroke-width="0.16">Probability of survival</text>
<path d="M29.3,236.60 L117.6,236.60" fill="none" stroke="#3e5470" stroke-width="0.9"/>
<path d="M29.3,236.60 L39.4,236.60 L39.4,263.8 L65.9,263.8 L65.9,291.2 L78.8,291.2 L78.8,319.10" fill="none" stroke="#c23a55" stroke-width="0.9"/>
<line x1="72.6" y1="240.5" x2="72.6" y2="287.6" stroke="#111" stroke-width="0.8"/>
<path d="M72.6,238.6 L71.3,241.6 L73.9,241.6 Z" fill="#111" stroke="none" stroke-width="0.8"/>
<path d="M72.6,289.6 L71.3,286.6 L73.9,286.6 Z" fill="#111" stroke="none" stroke-width="0.8"/>
<text x="80.0" y="269.2" font-size="6.8" fill="#333" stroke="#333" stroke-width="0.16"><tspan font-style="italic">P</tspan> = .010</text>
<text x="135.2" y="211.3" font-size="10.6" fill="#111" font-weight="bold">I</text>
<text x="135.0" y="222.8" font-size="6.5" fill="#2a2a2a" font-style="italic" textLength="27.6" lengthAdjust="spacingAndGlyphs">ERT2-Cre<tspan font-size="3.8" dy="-2.60">+</tspan></text>
<text x="135.0" y="230.8" font-size="6.5" fill="#2a2a2a" font-style="italic">CAG<tspan font-size="3.6" dy="-2.60">flox-stop-GFP</tspan></text>
<text x="135.0" y="238.9" font-size="6.5" fill="#2a2a2a">Cdkn2a<tspan font-size="3.3" dy="-2.60">−/−</tspan></text>
<text x="135.0" y="247.2" font-size="6.5" fill="#2a2a2a" font-style="italic">Ring1a<tspan font-size="3.3" dy="-2.60">−/−</tspan><tspan dy="2.60">Ring1b</tspan><tspan font-size="3.3" dy="-2.60">f/f</tspan></text>
<text x="139.7" y="261.9" font-size="6.6" fill="#2a2a2a" font-style="italic" stroke="#2a2a2a" stroke-width="0.16">4Gy</text>
<g transform="translate(157.9,261.7) rotate(-62)"><ellipse cx="2.30" cy="6.09" rx="3.68" ry="7.13" fill="#fbf6c0" filter="url(#bl1)"/><path d="M2.53,0.00 L0.11,6.09 L2.07,6.09 L0.69,12.19 L4.37,4.37 L2.42,4.37 L3.91,0.00 Z" fill="#e8d84a" stroke="#2e2e2e" stroke-width="0.55" stroke-linejoin="round"/></g>
<text x="139.7" y="277.9" font-size="6.5" fill="#2a2a2a" font-style="italic">Rag2<tspan font-size="3.8" dy="-2.80">−/−</tspan></text>
<path d="M170.70,275.93 C171.43,273.83 172.65,271.72 174.60,270.04 C177.40,267.09 181.06,265.20 184.11,265.20 C187.76,265.20 190.20,268.15 190.20,271.51 L190.20,276.67 C193.61,276.67 197.02,276.77 198.73,277.09 L190.20,277.41 L172.53,277.41 C171.43,277.41 170.46,276.77 170.70,275.93 Z" fill="#d8d8d8" stroke="#3a3a3a" stroke-width="0.65"/>
<circle cx="173.87" cy="269.62" r="1.95" fill="#d8d8d8" stroke="#3a3a3a" stroke-width="0.65"/>
<circle cx="172.60" cy="254.50" r="0.55" fill="#777"/>
<circle cx="174.20" cy="253.30" r="0.55" fill="#999"/>
<circle cx="173.60" cy="255.70" r="0.55" fill="#777"/>
<circle cx="175.20" cy="254.80" r="0.5" fill="#999"/>
<circle cx="188.00" cy="254.50" r="0.55" fill="#777"/>
<circle cx="189.60" cy="253.30" r="0.55" fill="#999"/>
<circle cx="189.00" cy="255.70" r="0.55" fill="#777"/>
<circle cx="190.60" cy="254.80" r="0.5" fill="#999"/>
<line x1="176.0" y1="257.8" x2="178.2958244013409" y2="262.5307896754903" stroke="#111" stroke-width="0.65"/>
<path d="M179.30,264.60 L177.26,263.03 L179.33,262.03 Z" fill="#111" stroke="none" stroke-width="0.8"/>
<line x1="189.8" y1="257.8" x2="186.8086336256604" y2="262.64316460607364" stroke="#111" stroke-width="0.65"/>
<path d="M185.60,264.60 L185.83,262.04 L187.79,263.25 Z" fill="#111" stroke="none" stroke-width="0.8"/>
<text x="196.5" y="257.7" font-size="6.9" fill="#2a2a2a" stroke="#2a2a2a" stroke-width="0.16">Competitor</text>
<text x="206.5" y="269.5" font-size="6.5" fill="#2a2a2a">6 week</text>
<path d="M202.7,273.0 L209.6,273.0 L209.6,271.90000000000003 L213.2,274.3 L209.6,276.7 L209.6,275.6 L202.7,275.6 Z" fill="#111" stroke="none" stroke-width="0.8"/>
<path d="M218.8,273.0 L226.0,273.0 L226.0,271.90000000000003 L229.6,274.3 L226.0,276.7 L226.0,275.6 L218.8,275.6 Z" fill="#111" stroke="none" stroke-width="0.8"/>
<path d="M236.20,275.51 C236.91,273.37 238.08,271.23 239.96,269.52 C242.66,266.53 246.19,264.60 249.12,264.60 C252.65,264.60 255.00,267.59 255.00,271.02 L255.00,276.26 C258.06,276.26 261.11,276.37 262.64,276.69 L255.00,277.01 L237.96,277.01 C236.91,277.01 235.96,276.37 236.20,275.51 Z" fill="#d8d8d8" stroke="#3a3a3a" stroke-width="0.65"/>
<circle cx="239.25" cy="269.09" r="1.88" fill="#d8d8d8" stroke="#3a3a3a" stroke-width="0.65"/>
<circle cx="243.25" cy="268.88" r="0.95" fill="#8a8a8a"/>
<circle cx="247.36" cy="267.27" r="0.95" fill="#8a8a8a"/>
<circle cx="250.30" cy="269.95" r="0.95" fill="#8a8a8a"/>
<circle cx="245.60" cy="272.62" r="0.95" fill="#8a8a8a"/>
<circle cx="252.65" cy="273.16" r="0.95" fill="#8a8a8a"/>
<circle cx="241.49" cy="273.16" r="0.95" fill="#8a8a8a"/>
<circle cx="249.12" cy="275.08" r="0.95" fill="#8a8a8a"/>
<text x="245.0" y="253.6" font-size="6.5" fill="#2a2a2a">Tamoxifen</text>
<line x1="255.8" y1="256.4" x2="253.8285912696499" y2="260.3428174607002" stroke="#111" stroke-width="0.65"/>
<path d="M252.80,262.40 L252.80,259.83 L254.86,260.86 Z" fill="#111" stroke="none" stroke-width="0.8"/>
<text x="269.8" y="269.1" font-size="6.5" fill="#2a2a2a">8 weeks</text>
<path d="M269.2,273.0 L276.79999999999995,273.0 L276.79999999999995,271.90000000000003 L280.4,274.3 L276.79999999999995,276.7 L276.79999999999995,275.6 L269.2,275.6 Z" fill="#111" stroke="none" stroke-width="0.8"/>
<path d="M283.8,273.0 L291.2,273.0 L291.2,271.90000000000003 L294.8,274.3 L291.2,276.7 L291.2,275.6 L283.8,275.6 Z" fill="#111" stroke="none" stroke-width="0.8"/>
<path d="M301.20,275.39 C302.01,273.21 303.35,271.04 305.50,269.30 C308.59,266.26 312.62,264.30 315.98,264.30 C320.01,264.30 322.70,267.34 322.70,270.82 L322.70,276.15 C325.93,276.15 329.15,276.26 330.76,276.58 L322.70,276.91 L303.22,276.91 C302.01,276.91 300.93,276.26 301.20,275.39 Z" fill="#d8d8d8" stroke="#3a3a3a" stroke-width="0.65"/>
<circle cx="304.69" cy="268.87" r="2.15" fill="#d8d8d8" stroke="#3a3a3a" stroke-width="0.65"/>
<circle cx="309.26" cy="268.65" r="0.95" fill="#8a8a8a"/>
<circle cx="313.97" cy="267.02" r="0.95" fill="#3e8f88"/>
<circle cx="317.32" cy="269.73" r="0.95" fill="#3c5f80"/>
<circle cx="311.95" cy="272.45" r="0.95" fill="#3e8f88"/>
<circle cx="320.01" cy="273.00" r="0.95" fill="#607b8b"/>
<circle cx="307.25" cy="273.00" r="0.95" fill="#8a8a8a"/>
<circle cx="315.98" cy="274.95" r="0.95" fill="#3e8f88"/>
<text x="333.3" y="275.8" font-size="6.4" fill="#2a2a2a">Analysis</text>
<circle cx="285.80" cy="230.00" r="0.85" fill="#999"/>
<text x="290.0" y="231.8" font-size="5.3" fill="#2a2a2a">Competitor cells</text>
<circle cx="285.80" cy="239.70" r="0.85" fill="#777"/>
<text x="290.0" y="241.5" font-size="5.3" fill="#2a2a2a"><tspan font-style="italic">Ring1b</tspan><tspan font-size="3.0" dy="-2.40" font-style="italic">f/f</tspan></text>
<circle cx="285.80" cy="248.50" r="0.85" fill="#3e8f88"/>
<text x="290.0" y="250.3" font-size="5.3" fill="#2a2a2a"><tspan font-style="italic">Ring1b</tspan><tspan font-size="3.0" dy="-2.40" font-style="italic">Δ/Δ</tspan></text>
<circle cx="285.80" cy="257.20" r="0.85" fill="#3c5f80"/>
<text x="290.0" y="259.0" font-size="5.3" fill="#2a2a2a">CAG<tspan font-size="3.0" dy="-2.40">GFP</tspan><tspan dy="2.40" font-style="italic">Ring1b</tspan><tspan font-size="3.0" dy="-2.40" font-style="italic">Δ/Δ</tspan></text>
<text x="260.8" y="9.6" font-size="10.6" fill="#111" font-weight="bold">B</text>
<text x="296.6" y="26.2" font-size="8.2" fill="#2a2a2a" textLength="29.4" lengthAdjust="spacingAndGlyphs" stroke="#2a2a2a" stroke-width="0.26">Thymus</text>
<text x="284.6" y="37.2" font-size="8.2" fill="#2a2a2a" textLength="52.9" lengthAdjust="spacingAndGlyphs" stroke="#2a2a2a" stroke-width="0.26">Lin<tspan font-size="4.8" dy="-3.00">−</tspan><tspan dy="3.00">DN gated</tspan></text>
<rect x="283.5" y="43.5" width="53.30000000000001" height="49.5" fill="none" stroke="#bdbdbd" stroke-width="0.55"/>
<g clip-path="url(#c1)">
<g filter="url(#bl2)" transform="rotate(-20 305 77)"><ellipse cx="305.00" cy="77.00" rx="18" ry="9" fill="#b4c4e2" fill-opacity="0.55"/><ellipse cx="305.00" cy="77.00" rx="12" ry="6" fill="#98b0d8" fill-opacity="0.5"/></g>
<g fill-opacity="0.72"><path fill="#7d97c9" d="M304.6 77.9h0.8v0.8h-0.8zM308.8 80.1h0.8v0.8h-0.8zM296.2 73.5h0.8v0.8h-0.8zM315.1 77.0h0.8v0.8h-0.8zM299.7 71.1h0.8v0.8h-0.8zM304.7 76.5h0.8v0.8h-0.8zM313.9 76.4h0.8v0.8h-0.8zM310.8 78.4h0.8v0.8h-0.8zM311.6 79.3h0.8v0.8h-0.8zM295.3 77.9h0.8v0.8h-0.8zM313.0 64.5h0.8v0.8h-0.8zM293.1 81.6h0.8v0.8h-0.8zM305.5 72.1h0.8v0.8h-0.8zM296.5 76.7h0.8v0.8h-0.8zM303.7 73.2h0.8v0.8h-0.8zM308.2 56.8h0.8v0.8h-0.8zM300.4 79.8h0.8v0.8h-0.8zM293.5 75.1h0.8v0.8h-0.8zM315.4 65.4h0.8v0.8h-0.8zM316.4 65.7h0.8v0.8h-0.8zM305.4 69.1h0.8v0.8h-0.8zM301.6 79.9h0.8v0.8h-0.8zM319.8 65.3h0.8v0.8h-0.8zM319.7 73.2h0.8v0.8h-0.8zM305.4 70.8h0.8v0.8h-0.8zM302.1 78.7h0.8v0.8h-0.8zM310.2 70.8h0.8v0.8h-0.8zM311.7 68.1h0.8v0.8h-0.8zM302.2 79.9h0.8v0.8h-0.8zM313.9 75.7h0.8v0.8h-0.8zM306.4 76.3h0.8v0.8h-0.8zM300.1 78.4h0.8v0.8h-0.8zM299.6 72.4h0.8v0.8h-0.8zM304.3 85.1h0.8v0.8h-0.8zM314.6 69.7h0.8v0.8h-0.8zM316.5 71.6h0.8v0.8h-0.8zM300.4 76.9h0.8v0.8h-0.8zM298.5 85.1h0.8v0.8h-0.8zM304.9 68.5h0.8v0.8h-0.8zM305.8 70.4h0.8v0.8h-0.8zM314.7 78.7h0.8v0.8h-0.8zM299.8 79.8h0.8v0.8h-0.8zM310.7 75.3h0.8v0.8h-0.8zM301.3 79.0h0.8v0.8h-0.8zM310.2 84.4h0.8v0.8h-0.8zM296.1 80.0h0.8v0.8h-0.8zM310.1 66.5h0.8v0.8h-0.8zM305.6 83.5h0.8v0.8h-0.8zM309.3 72.0h0.8v0.8h-0.8zM309.2 67.9h0.8v0.8h-0.8zM310.3 69.5h0.8v0.8h-0.8zM292.2 78.4h0.8v0.8h-0.8zM301.4 69.0h0.8v0.8h-0.8zM307.5 79.2h0.8v0.8h-0.8zM304.4 74.5h0.8v0.8h-0.8zM307.9 68.1h0.8v0.8h-0.8zM306.9 77.3h0.8v0.8h-0.8zM304.0 74.4h0.8v0.8h-0.8zM288.6 83.3h0.8v0.8h-0.8zM307.0 75.3h0.8v0.8h-0.8zM296.2 82.1h0.8v0.8h-0.8zM307.9 76.7h0.8v0.8h-0.8zM293.7 82.7h0.8v0.8h-0.8zM307.6 72.8h0.8v0.8h-0.8zM319.7 65.6h0.8v0.8h-0.8zM312.3 65.2h0.8v0.8h-0.8zM306.4 70.1h0.8v0.8h-0.8zM290.7 76.0h0.8v0.8h-0.8zM305.6 71.5h0.8v0.8h-0.8zM302.1 81.7h0.8v0.8h-0.8zM313.6 70.9h0.8v0.8h-0.8zM308.0 72.8h0.8v0.8h-0.8zM310.3 73.6h0.8v0.8h-0.8zM293.0 83.8h0.8v0.8h-0.8zM288.7 84.6h0.8v0.8h-0.8zM308.4 71.9h0.8v0.8h-0.8zM299.8 71.0h0.8v0.8h-0.8zM318.8 70.7h0.8v0.8h-0.8z"/><path fill="#5a88b8" d="M315.9 73.0h0.8v0.8h-0.8zM300.0 71.9h0.8v0.8h-0.8zM288.4 84.9h0.8v0.8h-0.8zM304.0 68.2h0.8v0.8h-0.8zM305.8 79.8h0.8v0.8h-0.8zM305.8 77.5h0.8v0.8h-0.8zM295.3 76.5h0.8v0.8h-0.8zM304.9 77.8h0.8v0.8h-0.8zM299.9 76.8h0.8v0.8h-0.8zM302.0 72.2h0.8v0.8h-0.8zM290.9 79.2h0.8v0.8h-0.8zM300.5 77.5h0.8v0.8h-0.8zM288.9 86.3h0.8v0.8h-0.8zM314.4 74.4h0.8v0.8h-0.8zM311.0 68.5h0.8v0.8h-0.8zM306.5 72.6h0.8v0.8h-0.8zM315.5 67.3h0.8v0.8h-0.8zM303.9 78.5h0.8v0.8h-0.8zM313.3 74.1h0.8v0.8h-0.8zM300.5 76.9h0.8v0.8h-0.8zM313.5 71.2h0.8v0.8h-0.8zM307.9 77.0h0.8v0.8h-0.8zM308.0 74.4h0.8v0.8h-0.8zM305.8 74.3h0.8v0.8h-0.8zM316.6 69.7h0.8v0.8h-0.8zM299.7 79.1h0.8v0.8h-0.8zM296.3 76.9h0.8v0.8h-0.8zM294.9 79.5h0.8v0.8h-0.8zM298.2 69.7h0.8v0.8h-0.8zM294.5 86.8h0.8v0.8h-0.8zM301.0 65.0h0.8v0.8h-0.8zM307.8 82.3h0.8v0.8h-0.8zM298.8 74.6h0.8v0.8h-0.8zM308.9 79.1h0.8v0.8h-0.8zM316.0 74.5h0.8v0.8h-0.8zM304.0 81.9h0.8v0.8h-0.8zM304.5 75.7h0.8v0.8h-0.8zM309.6 71.6h0.8v0.8h-0.8zM310.1 73.4h0.8v0.8h-0.8zM316.2 69.5h0.8v0.8h-0.8zM286.0 71.3h0.8v0.8h-0.8zM306.2 74.4h0.8v0.8h-0.8zM317.3 66.3h0.8v0.8h-0.8zM304.6 73.1h0.8v0.8h-0.8zM301.7 75.4h0.8v0.8h-0.8zM310.1 68.2h0.8v0.8h-0.8zM296.5 64.1h0.8v0.8h-0.8zM292.8 72.4h0.8v0.8h-0.8zM300.4 83.2h0.8v0.8h-0.8zM306.8 72.6h0.8v0.8h-0.8zM305.5 71.7h0.8v0.8h-0.8zM294.3 70.6h0.8v0.8h-0.8zM302.1 73.1h0.8v0.8h-0.8zM293.5 68.5h0.8v0.8h-0.8zM300.4 86.2h0.8v0.8h-0.8zM301.6 81.4h0.8v0.8h-0.8zM299.0 77.4h0.8v0.8h-0.8zM314.4 66.6h0.8v0.8h-0.8zM318.0 65.9h0.8v0.8h-0.8zM305.5 76.5h0.8v0.8h-0.8zM302.4 76.6h0.8v0.8h-0.8zM303.8 73.1h0.8v0.8h-0.8zM315.8 79.8h0.8v0.8h-0.8zM306.7 77.8h0.8v0.8h-0.8zM315.2 79.9h0.8v0.8h-0.8z"/><path fill="#a7b7da" d="M287.8 76.6h0.8v0.8h-0.8zM306.7 71.7h0.8v0.8h-0.8zM297.4 75.7h0.8v0.8h-0.8zM315.8 74.4h0.8v0.8h-0.8zM294.0 76.8h0.8v0.8h-0.8zM304.6 84.4h0.8v0.8h-0.8zM312.5 73.8h0.8v0.8h-0.8zM311.1 76.5h0.8v0.8h-0.8zM303.1 80.0h0.8v0.8h-0.8zM318.7 72.0h0.8v0.8h-0.8zM296.7 74.5h0.8v0.8h-0.8zM305.1 72.0h0.8v0.8h-0.8zM293.6 87.3h0.8v0.8h-0.8zM300.2 80.3h0.8v0.8h-0.8zM302.7 74.5h0.8v0.8h-0.8zM315.6 68.1h0.8v0.8h-0.8zM314.7 70.3h0.8v0.8h-0.8zM311.0 69.4h0.8v0.8h-0.8zM296.1 73.2h0.8v0.8h-0.8zM307.3 64.4h0.8v0.8h-0.8zM312.6 70.1h0.8v0.8h-0.8zM305.1 65.9h0.8v0.8h-0.8zM316.9 70.9h0.8v0.8h-0.8zM306.2 71.5h0.8v0.8h-0.8zM292.0 85.1h0.8v0.8h-0.8zM311.5 72.7h0.8v0.8h-0.8zM303.2 81.6h0.8v0.8h-0.8zM296.0 81.5h0.8v0.8h-0.8zM300.4 71.3h0.8v0.8h-0.8zM319.0 63.3h0.8v0.8h-0.8zM301.1 79.6h0.8v0.8h-0.8zM319.5 77.3h0.8v0.8h-0.8zM308.5 71.2h0.8v0.8h-0.8zM302.6 75.8h0.8v0.8h-0.8zM298.6 81.5h0.8v0.8h-0.8zM305.9 72.3h0.8v0.8h-0.8zM299.9 76.5h0.8v0.8h-0.8zM319.2 69.4h0.8v0.8h-0.8zM299.3 77.1h0.8v0.8h-0.8zM312.2 70.8h0.8v0.8h-0.8zM301.3 77.4h0.8v0.8h-0.8zM315.4 69.1h0.8v0.8h-0.8zM300.3 81.2h0.8v0.8h-0.8zM303.6 66.8h0.8v0.8h-0.8zM308.3 67.0h0.8v0.8h-0.8zM312.9 70.1h0.8v0.8h-0.8zM293.8 77.1h0.8v0.8h-0.8zM303.3 73.9h0.8v0.8h-0.8zM310.3 81.7h0.8v0.8h-0.8zM298.7 62.8h0.8v0.8h-0.8zM304.0 67.8h0.8v0.8h-0.8zM309.2 72.6h0.8v0.8h-0.8zM314.9 71.1h0.8v0.8h-0.8zM313.7 70.8h0.8v0.8h-0.8zM313.3 65.6h0.8v0.8h-0.8zM306.3 74.4h0.8v0.8h-0.8zM307.0 71.7h0.8v0.8h-0.8zM307.4 66.7h0.8v0.8h-0.8zM301.4 78.7h0.8v0.8h-0.8zM303.0 74.1h0.8v0.8h-0.8zM304.4 77.2h0.8v0.8h-0.8zM298.2 85.3h0.8v0.8h-0.8zM297.8 84.2h0.8v0.8h-0.8zM314.2 75.4h0.8v0.8h-0.8zM313.2 75.4h0.8v0.8h-0.8zM293.9 87.7h0.8v0.8h-0.8zM316.7 66.5h0.8v0.8h-0.8zM304.1 87.8h0.8v0.8h-0.8zM312.7 71.8h0.8v0.8h-0.8zM306.1 79.1h0.8v0.8h-0.8zM299.9 77.8h0.8v0.8h-0.8zM302.5 69.5h0.8v0.8h-0.8zM300.2 77.2h0.8v0.8h-0.8zM304.2 78.3h0.8v0.8h-0.8zM313.3 57.8h0.8v0.8h-0.8zM318.2 73.5h0.8v0.8h-0.8zM296.0 87.7h0.8v0.8h-0.8zM302.6 84.0h0.8v0.8h-0.8zM305.9 72.6h0.8v0.8h-0.8zM311.8 72.5h0.8v0.8h-0.8zM305.8 62.8h0.8v0.8h-0.8zM309.9 78.2h0.8v0.8h-0.8zM308.6 75.9h0.8v0.8h-0.8zM309.0 77.0h0.8v0.8h-0.8zM307.9 78.0h0.8v0.8h-0.8zM303.6 80.4h0.8v0.8h-0.8zM317.1 71.8h0.8v0.8h-0.8zM319.4 70.6h0.8v0.8h-0.8zM307.7 74.3h0.8v0.8h-0.8zM308.7 72.1h0.8v0.8h-0.8zM302.3 66.4h0.8v0.8h-0.8zM300.7 74.4h0.8v0.8h-0.8zM311.1 75.0h0.8v0.8h-0.8zM300.0 73.3h0.8v0.8h-0.8zM296.2 82.4h0.8v0.8h-0.8zM297.0 74.1h0.8v0.8h-0.8zM295.8 81.5h0.8v0.8h-0.8zM319.1 83.2h0.8v0.8h-0.8zM297.5 70.2h0.8v0.8h-0.8zM287.1 82.7h0.8v0.8h-0.8zM294.6 75.4h0.8v0.8h-0.8zM299.1 73.6h0.8v0.8h-0.8zM304.7 77.0h0.8v0.8h-0.8zM300.8 67.7h0.8v0.8h-0.8zM304.6 81.3h0.8v0.8h-0.8zM311.6 79.3h0.8v0.8h-0.8zM306.7 74.9h0.8v0.8h-0.8zM312.5 66.9h0.8v0.8h-0.8zM296.2 74.9h0.8v0.8h-0.8zM316.2 70.4h0.8v0.8h-0.8zM317.3 72.4h0.8v0.8h-0.8zM303.1 69.6h0.8v0.8h-0.8zM304.8 87.1h0.8v0.8h-0.8zM306.7 78.1h0.8v0.8h-0.8zM310.4 77.6h0.8v0.8h-0.8zM296.7 86.0h0.8v0.8h-0.8zM309.4 68.3h0.8v0.8h-0.8zM298.5 75.8h0.8v0.8h-0.8zM301.4 76.9h0.8v0.8h-0.8zM315.7 65.1h0.8v0.8h-0.8zM300.9 83.7h0.8v0.8h-0.8zM305.9 74.7h0.8v0.8h-0.8zM315.2 70.5h0.8v0.8h-0.8zM296.9 68.9h0.8v0.8h-0.8zM300.8 75.3h0.8v0.8h-0.8zM306.7 73.3h0.8v0.8h-0.8zM296.1 86.7h0.8v0.8h-0.8zM301.4 75.2h0.8v0.8h-0.8zM295.2 72.6h0.8v0.8h-0.8zM298.4 74.8h0.8v0.8h-0.8zM314.3 77.6h0.8v0.8h-0.8zM302.5 70.2h0.8v0.8h-0.8zM306.5 85.4h0.8v0.8h-0.8zM310.1 66.0h0.8v0.8h-0.8zM297.9 71.0h0.8v0.8h-0.8zM296.5 65.5h0.8v0.8h-0.8zM301.7 76.0h0.8v0.8h-0.8zM291.4 88.1h0.8v0.8h-0.8zM314.1 68.4h0.8v0.8h-0.8zM307.2 66.7h0.8v0.8h-0.8zM305.1 68.8h0.8v0.8h-0.8zM317.6 68.4h0.8v0.8h-0.8zM307.8 70.9h0.8v0.8h-0.8zM299.0 76.1h0.8v0.8h-0.8zM288.3 83.5h0.8v0.8h-0.8zM311.0 76.3h0.8v0.8h-0.8zM306.1 72.1h0.8v0.8h-0.8zM300.8 84.7h0.8v0.8h-0.8zM308.0 74.6h0.8v0.8h-0.8zM311.4 79.9h0.8v0.8h-0.8zM302.1 75.5h0.8v0.8h-0.8zM307.5 76.5h0.8v0.8h-0.8zM319.0 69.6h0.8v0.8h-0.8zM304.3 72.9h0.8v0.8h-0.8zM302.0 88.4h0.8v0.8h-0.8zM292.0 82.0h0.8v0.8h-0.8zM283.4 76.9h0.8v0.8h-0.8zM298.9 83.5h0.8v0.8h-0.8zM307.1 84.5h0.8v0.8h-0.8zM304.3 77.1h0.8v0.8h-0.8zM305.9 71.0h0.8v0.8h-0.8zM311.5 67.6h0.8v0.8h-0.8zM300.0 77.0h0.8v0.8h-0.8zM304.7 64.4h0.8v0.8h-0.8zM303.6 77.4h0.8v0.8h-0.8zM311.0 74.3h0.8v0.8h-0.8zM306.1 75.9h0.8v0.8h-0.8zM316.4 72.0h0.8v0.8h-0.8zM306.4 72.8h0.8v0.8h-0.8zM309.6 66.4h0.8v0.8h-0.8zM312.5 70.7h0.8v0.8h-0.8zM306.3 76.9h0.8v0.8h-0.8zM293.2 73.1h0.8v0.8h-0.8zM300.4 78.7h0.8v0.8h-0.8zM315.1 76.5h0.8v0.8h-0.8zM309.1 67.5h0.8v0.8h-0.8zM310.1 62.5h0.8v0.8h-0.8zM293.7 74.3h0.8v0.8h-0.8zM311.2 63.0h0.8v0.8h-0.8zM313.9 74.0h0.8v0.8h-0.8zM316.0 76.0h0.8v0.8h-0.8z"/><path fill="#8fa6d2" d="M314.7 72.0h0.8v0.8h-0.8zM305.6 77.6h0.8v0.8h-0.8zM300.3 82.0h0.8v0.8h-0.8zM289.5 88.4h0.8v0.8h-0.8zM296.6 75.7h0.8v0.8h-0.8zM313.6 69.0h0.8v0.8h-0.8zM303.1 74.3h0.8v0.8h-0.8zM314.2 70.2h0.8v0.8h-0.8zM304.3 70.6h0.8v0.8h-0.8zM294.1 80.8h0.8v0.8h-0.8zM301.8 70.3h0.8v0.8h-0.8zM307.3 78.3h0.8v0.8h-0.8zM294.9 79.0h0.8v0.8h-0.8zM307.1 71.5h0.8v0.8h-0.8zM306.0 71.1h0.8v0.8h-0.8zM305.8 75.5h0.8v0.8h-0.8zM318.9 71.0h0.8v0.8h-0.8zM309.3 82.5h0.8v0.8h-0.8zM305.0 74.9h0.8v0.8h-0.8zM303.1 69.3h0.8v0.8h-0.8zM297.1 79.7h0.8v0.8h-0.8zM299.7 79.9h0.8v0.8h-0.8zM314.5 69.4h0.8v0.8h-0.8zM311.5 71.3h0.8v0.8h-0.8zM307.5 76.9h0.8v0.8h-0.8zM303.4 73.1h0.8v0.8h-0.8zM314.2 73.6h0.8v0.8h-0.8zM307.9 74.0h0.8v0.8h-0.8zM311.0 70.1h0.8v0.8h-0.8zM292.5 82.8h0.8v0.8h-0.8zM311.9 71.5h0.8v0.8h-0.8zM294.6 73.9h0.8v0.8h-0.8zM299.6 77.1h0.8v0.8h-0.8zM286.1 69.5h0.8v0.8h-0.8zM312.7 72.6h0.8v0.8h-0.8zM302.6 75.4h0.8v0.8h-0.8zM290.7 72.0h0.8v0.8h-0.8zM294.7 74.6h0.8v0.8h-0.8zM308.7 73.6h0.8v0.8h-0.8zM294.5 77.1h0.8v0.8h-0.8zM301.1 70.9h0.8v0.8h-0.8zM306.5 76.1h0.8v0.8h-0.8zM307.7 81.5h0.8v0.8h-0.8zM307.2 74.9h0.8v0.8h-0.8zM298.8 70.4h0.8v0.8h-0.8zM316.8 82.6h0.8v0.8h-0.8zM310.8 74.6h0.8v0.8h-0.8zM315.5 65.4h0.8v0.8h-0.8zM305.6 73.3h0.8v0.8h-0.8zM316.5 74.7h0.8v0.8h-0.8zM304.3 78.3h0.8v0.8h-0.8zM300.5 78.7h0.8v0.8h-0.8zM299.8 81.3h0.8v0.8h-0.8zM310.8 72.1h0.8v0.8h-0.8zM301.1 77.4h0.8v0.8h-0.8zM297.3 79.1h0.8v0.8h-0.8zM305.7 71.4h0.8v0.8h-0.8zM312.7 79.4h0.8v0.8h-0.8zM303.0 69.9h0.8v0.8h-0.8zM317.0 68.3h0.8v0.8h-0.8zM295.1 74.1h0.8v0.8h-0.8zM309.9 68.5h0.8v0.8h-0.8zM295.7 79.1h0.8v0.8h-0.8zM304.7 75.3h0.8v0.8h-0.8zM307.1 74.0h0.8v0.8h-0.8zM301.0 77.3h0.8v0.8h-0.8zM290.1 82.4h0.8v0.8h-0.8zM311.1 66.3h0.8v0.8h-0.8zM297.0 75.3h0.8v0.8h-0.8zM317.4 78.0h0.8v0.8h-0.8zM289.7 77.9h0.8v0.8h-0.8zM303.0 72.3h0.8v0.8h-0.8zM300.1 75.2h0.8v0.8h-0.8z"/><path fill="#6a86bf" d="M295.0 76.3h0.8v0.8h-0.8zM315.0 71.3h0.8v0.8h-0.8zM309.9 71.9h0.8v0.8h-0.8zM298.9 74.5h0.8v0.8h-0.8zM302.7 69.7h0.8v0.8h-0.8zM303.6 72.2h0.8v0.8h-0.8zM299.8 72.9h0.8v0.8h-0.8zM304.1 72.8h0.8v0.8h-0.8zM309.8 62.8h0.8v0.8h-0.8zM305.2 71.7h0.8v0.8h-0.8zM305.1 63.4h0.8v0.8h-0.8zM307.5 85.5h0.8v0.8h-0.8zM310.7 70.4h0.8v0.8h-0.8zM311.6 71.1h0.8v0.8h-0.8zM312.9 70.8h0.8v0.8h-0.8zM305.0 78.6h0.8v0.8h-0.8zM316.0 77.1h0.8v0.8h-0.8zM312.8 66.6h0.8v0.8h-0.8zM295.7 72.2h0.8v0.8h-0.8zM300.2 71.9h0.8v0.8h-0.8zM288.0 83.6h0.8v0.8h-0.8zM297.2 76.4h0.8v0.8h-0.8zM314.6 70.5h0.8v0.8h-0.8zM299.3 76.2h0.8v0.8h-0.8zM300.0 73.4h0.8v0.8h-0.8zM316.3 74.7h0.8v0.8h-0.8zM307.5 74.2h0.8v0.8h-0.8zM296.1 83.2h0.8v0.8h-0.8zM295.5 60.3h0.8v0.8h-0.8zM306.8 65.6h0.8v0.8h-0.8zM297.3 77.9h0.8v0.8h-0.8zM295.7 79.8h0.8v0.8h-0.8zM312.0 69.5h0.8v0.8h-0.8zM309.1 78.2h0.8v0.8h-0.8zM306.2 66.6h0.8v0.8h-0.8zM302.6 74.1h0.8v0.8h-0.8zM306.1 75.0h0.8v0.8h-0.8zM297.8 75.7h0.8v0.8h-0.8zM307.9 74.9h0.8v0.8h-0.8zM286.7 77.5h0.8v0.8h-0.8zM311.0 75.8h0.8v0.8h-0.8zM313.5 66.8h0.8v0.8h-0.8zM301.5 64.8h0.8v0.8h-0.8zM305.7 84.3h0.8v0.8h-0.8zM305.2 76.2h0.8v0.8h-0.8zM294.2 69.2h0.8v0.8h-0.8zM300.6 79.3h0.8v0.8h-0.8zM307.5 74.2h0.8v0.8h-0.8zM315.3 73.7h0.8v0.8h-0.8zM298.8 82.2h0.8v0.8h-0.8zM301.3 74.3h0.8v0.8h-0.8zM304.5 73.8h0.8v0.8h-0.8zM310.6 70.9h0.8v0.8h-0.8zM304.8 80.5h0.8v0.8h-0.8zM302.9 79.8h0.8v0.8h-0.8zM307.5 82.9h0.8v0.8h-0.8zM298.1 74.1h0.8v0.8h-0.8zM316.2 71.5h0.8v0.8h-0.8zM294.9 72.6h0.8v0.8h-0.8zM299.2 78.4h0.8v0.8h-0.8zM306.6 76.7h0.8v0.8h-0.8zM309.6 78.4h0.8v0.8h-0.8zM301.1 74.2h0.8v0.8h-0.8zM299.1 84.3h0.8v0.8h-0.8zM301.3 79.6h0.8v0.8h-0.8zM304.2 79.1h0.8v0.8h-0.8zM305.6 77.5h0.8v0.8h-0.8zM290.0 87.5h0.8v0.8h-0.8zM314.0 75.3h0.8v0.8h-0.8zM319.1 64.2h0.8v0.8h-0.8zM294.6 80.6h0.8v0.8h-0.8zM301.9 84.1h0.8v0.8h-0.8zM300.7 70.0h0.8v0.8h-0.8zM298.7 75.7h0.8v0.8h-0.8zM306.5 69.5h0.8v0.8h-0.8zM310.3 79.5h0.8v0.8h-0.8zM304.7 71.6h0.8v0.8h-0.8z"/><path fill="#5d7cb8" d="M312.7 65.2h0.8v0.8h-0.8zM314.5 73.5h0.8v0.8h-0.8zM314.4 63.9h0.8v0.8h-0.8zM295.0 80.1h0.8v0.8h-0.8zM301.3 74.5h0.8v0.8h-0.8zM299.4 77.2h0.8v0.8h-0.8zM301.1 78.3h0.8v0.8h-0.8zM299.8 81.6h0.8v0.8h-0.8zM309.3 72.5h0.8v0.8h-0.8zM310.4 65.8h0.8v0.8h-0.8zM309.4 77.4h0.8v0.8h-0.8zM306.0 73.6h0.8v0.8h-0.8zM311.8 65.9h0.8v0.8h-0.8zM297.5 75.4h0.8v0.8h-0.8zM306.4 76.4h0.8v0.8h-0.8zM306.8 72.3h0.8v0.8h-0.8zM310.3 74.0h0.8v0.8h-0.8zM308.6 73.5h0.8v0.8h-0.8zM301.0 72.6h0.8v0.8h-0.8zM315.9 69.8h0.8v0.8h-0.8zM309.2 74.1h0.8v0.8h-0.8zM309.5 72.0h0.8v0.8h-0.8zM297.3 66.9h0.8v0.8h-0.8zM305.8 76.3h0.8v0.8h-0.8zM301.7 74.0h0.8v0.8h-0.8zM293.6 82.8h0.8v0.8h-0.8zM311.5 77.0h0.8v0.8h-0.8zM304.8 83.5h0.8v0.8h-0.8zM314.3 71.8h0.8v0.8h-0.8zM302.1 72.9h0.8v0.8h-0.8zM307.7 77.5h0.8v0.8h-0.8zM306.1 74.8h0.8v0.8h-0.8zM305.2 70.3h0.8v0.8h-0.8zM297.6 76.0h0.8v0.8h-0.8zM302.2 73.0h0.8v0.8h-0.8zM301.4 79.1h0.8v0.8h-0.8zM295.7 75.0h0.8v0.8h-0.8zM313.4 73.2h0.8v0.8h-0.8zM318.8 78.6h0.8v0.8h-0.8zM311.9 68.4h0.8v0.8h-0.8zM297.7 82.6h0.8v0.8h-0.8zM305.1 81.2h0.8v0.8h-0.8zM291.7 72.3h0.8v0.8h-0.8zM306.4 71.1h0.8v0.8h-0.8zM301.5 84.3h0.8v0.8h-0.8zM294.2 68.5h0.8v0.8h-0.8zM308.3 66.5h0.8v0.8h-0.8zM305.3 79.5h0.8v0.8h-0.8zM312.1 72.3h0.8v0.8h-0.8zM298.5 67.8h0.8v0.8h-0.8zM285.6 76.0h0.8v0.8h-0.8zM311.8 77.0h0.8v0.8h-0.8zM291.9 91.2h0.8v0.8h-0.8zM300.0 71.1h0.8v0.8h-0.8zM300.2 69.5h0.8v0.8h-0.8zM294.9 73.5h0.8v0.8h-0.8zM306.7 79.4h0.8v0.8h-0.8zM318.8 68.9h0.8v0.8h-0.8zM299.8 72.8h0.8v0.8h-0.8zM307.2 76.0h0.8v0.8h-0.8zM293.3 70.0h0.8v0.8h-0.8zM305.8 79.4h0.8v0.8h-0.8zM289.8 78.2h0.8v0.8h-0.8zM303.7 79.7h0.8v0.8h-0.8zM302.9 75.3h0.8v0.8h-0.8zM307.9 71.4h0.8v0.8h-0.8zM299.1 75.9h0.8v0.8h-0.8zM288.3 85.5h0.8v0.8h-0.8zM308.7 66.8h0.8v0.8h-0.8zM300.5 77.7h0.8v0.8h-0.8zM305.0 71.0h0.8v0.8h-0.8zM308.7 76.5h0.8v0.8h-0.8zM300.0 75.1h0.8v0.8h-0.8zM306.6 75.7h0.8v0.8h-0.8zM316.0 67.0h0.8v0.8h-0.8zM302.2 77.8h0.8v0.8h-0.8zM308.5 72.2h0.8v0.8h-0.8zM302.0 77.9h0.8v0.8h-0.8zM293.3 83.5h0.8v0.8h-0.8zM297.9 77.5h0.8v0.8h-0.8z"/><path fill="#4a78b0" d="M302.6 74.6h0.8v0.8h-0.8zM293.4 64.6h0.8v0.8h-0.8zM290.7 84.2h0.8v0.8h-0.8zM306.8 71.7h0.8v0.8h-0.8zM304.4 70.3h0.8v0.8h-0.8zM313.5 66.3h0.8v0.8h-0.8zM314.4 84.0h0.8v0.8h-0.8zM312.1 76.7h0.8v0.8h-0.8zM306.1 77.3h0.8v0.8h-0.8zM299.0 79.0h0.8v0.8h-0.8zM297.9 80.7h0.8v0.8h-0.8zM303.4 76.4h0.8v0.8h-0.8zM306.2 76.7h0.8v0.8h-0.8zM295.8 71.7h0.8v0.8h-0.8zM288.9 82.2h0.8v0.8h-0.8zM306.3 76.3h0.8v0.8h-0.8zM304.5 73.4h0.8v0.8h-0.8zM313.8 65.0h0.8v0.8h-0.8zM298.7 82.9h0.8v0.8h-0.8zM296.8 73.8h0.8v0.8h-0.8zM311.2 73.4h0.8v0.8h-0.8zM311.5 73.9h0.8v0.8h-0.8zM309.6 71.9h0.8v0.8h-0.8zM318.1 70.7h0.8v0.8h-0.8zM291.5 77.5h0.8v0.8h-0.8zM299.1 85.5h0.8v0.8h-0.8zM314.3 71.8h0.8v0.8h-0.8zM301.4 70.5h0.8v0.8h-0.8zM308.2 64.2h0.8v0.8h-0.8zM299.0 73.3h0.8v0.8h-0.8zM293.8 84.5h0.8v0.8h-0.8zM292.2 72.3h0.8v0.8h-0.8zM309.3 76.5h0.8v0.8h-0.8zM300.5 72.7h0.8v0.8h-0.8zM310.2 64.0h0.8v0.8h-0.8zM309.7 74.6h0.8v0.8h-0.8zM308.0 80.3h0.8v0.8h-0.8zM303.1 70.5h0.8v0.8h-0.8zM314.6 76.7h0.8v0.8h-0.8zM310.1 75.5h0.8v0.8h-0.8zM305.2 74.2h0.8v0.8h-0.8zM302.5 71.8h0.8v0.8h-0.8zM313.3 64.9h0.8v0.8h-0.8zM302.1 80.5h0.8v0.8h-0.8zM314.1 65.2h0.8v0.8h-0.8zM314.2 72.0h0.8v0.8h-0.8zM301.5 77.2h0.8v0.8h-0.8zM311.8 72.0h0.8v0.8h-0.8zM299.7 70.3h0.8v0.8h-0.8zM309.5 70.4h0.8v0.8h-0.8zM314.3 71.2h0.8v0.8h-0.8zM312.1 74.7h0.8v0.8h-0.8zM300.9 83.0h0.8v0.8h-0.8zM303.9 78.0h0.8v0.8h-0.8zM298.7 81.8h0.8v0.8h-0.8zM294.4 74.6h0.8v0.8h-0.8zM304.8 69.3h0.8v0.8h-0.8zM304.4 75.5h0.8v0.8h-0.8zM302.1 73.5h0.8v0.8h-0.8zM300.1 83.0h0.8v0.8h-0.8zM305.2 76.5h0.8v0.8h-0.8zM304.5 74.7h0.8v0.8h-0.8zM300.7 82.2h0.8v0.8h-0.8zM293.7 76.9h0.8v0.8h-0.8zM298.2 78.9h0.8v0.8h-0.8zM304.2 61.7h0.8v0.8h-0.8zM301.7 77.5h0.8v0.8h-0.8zM311.1 77.6h0.8v0.8h-0.8z"/></g>
<g fill-opacity="0.6"><path fill="#8fa6d2" d="M296.1 90.4h0.8v0.8h-0.8zM311.6 88.3h0.8v0.8h-0.8zM317.9 75.9h0.8v0.8h-0.8zM283.8 90.2h0.8v0.8h-0.8zM290.2 60.2h0.8v0.8h-0.8zM288.5 78.5h0.8v0.8h-0.8zM309.2 87.4h0.8v0.8h-0.8zM314.1 61.4h0.8v0.8h-0.8zM292.2 73.6h0.8v0.8h-0.8zM285.6 73.9h0.8v0.8h-0.8zM316.6 80.2h0.8v0.8h-0.8zM302.9 90.1h0.8v0.8h-0.8zM287.5 79.2h0.8v0.8h-0.8zM316.0 62.4h0.8v0.8h-0.8zM304.2 68.7h0.8v0.8h-0.8zM305.4 78.4h0.8v0.8h-0.8zM299.9 77.7h0.8v0.8h-0.8zM292.0 66.9h0.8v0.8h-0.8zM285.2 60.3h0.8v0.8h-0.8zM296.0 84.8h0.8v0.8h-0.8zM291.3 91.3h0.8v0.8h-0.8zM317.2 73.4h0.8v0.8h-0.8zM296.0 81.9h0.8v0.8h-0.8zM305.4 68.8h0.8v0.8h-0.8zM292.9 80.4h0.8v0.8h-0.8zM283.3 84.9h0.8v0.8h-0.8zM287.4 72.7h0.8v0.8h-0.8zM302.3 79.3h0.8v0.8h-0.8zM297.0 69.5h0.8v0.8h-0.8zM294.2 64.4h0.8v0.8h-0.8zM302.8 92.6h0.8v0.8h-0.8zM297.3 71.4h0.8v0.8h-0.8zM298.1 76.1h0.8v0.8h-0.8zM311.1 89.3h0.8v0.8h-0.8zM306.2 76.9h0.8v0.8h-0.8zM289.8 80.4h0.8v0.8h-0.8zM287.0 78.4h0.8v0.8h-0.8zM283.5 59.7h0.8v0.8h-0.8zM311.2 78.3h0.8v0.8h-0.8zM288.4 76.7h0.8v0.8h-0.8zM306.8 82.2h0.8v0.8h-0.8zM293.2 60.7h0.8v0.8h-0.8zM286.8 89.4h0.8v0.8h-0.8zM285.4 65.9h0.8v0.8h-0.8zM318.9 61.8h0.8v0.8h-0.8zM298.2 72.8h0.8v0.8h-0.8zM291.8 60.8h0.8v0.8h-0.8zM303.0 85.6h0.8v0.8h-0.8zM288.9 71.3h0.8v0.8h-0.8zM297.9 80.4h0.8v0.8h-0.8zM290.7 91.0h0.8v0.8h-0.8zM290.6 87.9h0.8v0.8h-0.8zM302.6 73.0h0.8v0.8h-0.8zM283.7 83.1h0.8v0.8h-0.8zM303.6 71.5h0.8v0.8h-0.8zM310.8 66.0h0.8v0.8h-0.8zM297.8 89.6h0.8v0.8h-0.8z"/><path fill="#a7b7da" d="M285.7 71.4h0.8v0.8h-0.8zM310.5 61.6h0.8v0.8h-0.8zM284.1 86.2h0.8v0.8h-0.8zM283.9 91.5h0.8v0.8h-0.8zM292.3 86.6h0.8v0.8h-0.8zM306.4 74.9h0.8v0.8h-0.8zM308.8 63.0h0.8v0.8h-0.8zM309.3 61.1h0.8v0.8h-0.8zM287.1 63.6h0.8v0.8h-0.8zM302.9 67.1h0.8v0.8h-0.8zM297.6 90.9h0.8v0.8h-0.8zM304.9 79.5h0.8v0.8h-0.8zM283.5 63.2h0.8v0.8h-0.8zM306.2 86.3h0.8v0.8h-0.8zM286.8 63.6h0.8v0.8h-0.8zM287.2 71.1h0.8v0.8h-0.8zM302.6 64.5h0.8v0.8h-0.8zM300.6 86.6h0.8v0.8h-0.8zM283.6 71.3h0.8v0.8h-0.8zM316.5 63.8h0.8v0.8h-0.8zM294.9 87.5h0.8v0.8h-0.8zM315.7 91.2h0.8v0.8h-0.8zM307.8 74.6h0.8v0.8h-0.8zM307.8 77.0h0.8v0.8h-0.8zM303.6 78.6h0.8v0.8h-0.8zM295.6 77.1h0.8v0.8h-0.8zM289.4 70.1h0.8v0.8h-0.8zM313.3 76.5h0.8v0.8h-0.8zM297.6 62.9h0.8v0.8h-0.8zM315.8 76.6h0.8v0.8h-0.8zM304.1 73.2h0.8v0.8h-0.8zM287.0 62.9h0.8v0.8h-0.8zM305.5 86.2h0.8v0.8h-0.8zM285.1 67.5h0.8v0.8h-0.8zM284.7 90.3h0.8v0.8h-0.8zM297.3 83.3h0.8v0.8h-0.8zM300.8 85.8h0.8v0.8h-0.8zM313.3 71.2h0.8v0.8h-0.8zM284.0 86.2h0.8v0.8h-0.8zM299.3 87.2h0.8v0.8h-0.8zM290.9 88.4h0.8v0.8h-0.8zM310.0 84.9h0.8v0.8h-0.8zM290.0 89.0h0.8v0.8h-0.8zM294.5 67.1h0.8v0.8h-0.8zM315.3 88.0h0.8v0.8h-0.8z"/><path fill="#b8c4e0" d="M312.9 88.2h0.8v0.8h-0.8zM305.7 65.2h0.8v0.8h-0.8zM300.1 79.0h0.8v0.8h-0.8zM317.3 72.4h0.8v0.8h-0.8zM297.6 90.7h0.8v0.8h-0.8zM295.5 67.6h0.8v0.8h-0.8zM312.5 89.7h0.8v0.8h-0.8zM288.5 82.1h0.8v0.8h-0.8zM307.5 67.1h0.8v0.8h-0.8zM318.5 85.2h0.8v0.8h-0.8zM284.4 80.8h0.8v0.8h-0.8zM298.9 91.0h0.8v0.8h-0.8zM301.8 88.8h0.8v0.8h-0.8zM286.3 77.6h0.8v0.8h-0.8zM297.2 77.7h0.8v0.8h-0.8zM303.0 91.6h0.8v0.8h-0.8zM294.9 70.4h0.8v0.8h-0.8zM293.5 92.2h0.8v0.8h-0.8zM285.6 88.4h0.8v0.8h-0.8zM307.1 76.7h0.8v0.8h-0.8zM286.6 87.9h0.8v0.8h-0.8zM288.6 87.7h0.8v0.8h-0.8zM315.0 79.7h0.8v0.8h-0.8zM314.2 82.5h0.8v0.8h-0.8zM309.5 69.3h0.8v0.8h-0.8zM294.9 85.6h0.8v0.8h-0.8zM296.9 67.3h0.8v0.8h-0.8zM318.1 66.4h0.8v0.8h-0.8zM284.9 78.3h0.8v0.8h-0.8zM294.1 77.3h0.8v0.8h-0.8zM313.3 83.6h0.8v0.8h-0.8zM318.3 75.7h0.8v0.8h-0.8zM307.1 69.4h0.8v0.8h-0.8zM313.1 92.3h0.8v0.8h-0.8zM290.7 89.1h0.8v0.8h-0.8zM306.4 61.0h0.8v0.8h-0.8zM308.3 59.7h0.8v0.8h-0.8zM307.5 66.1h0.8v0.8h-0.8zM317.7 75.8h0.8v0.8h-0.8zM294.9 83.2h0.8v0.8h-0.8zM297.2 61.4h0.8v0.8h-0.8zM304.4 91.3h0.8v0.8h-0.8zM294.6 89.3h0.8v0.8h-0.8zM294.2 79.5h0.8v0.8h-0.8zM286.3 65.2h0.8v0.8h-0.8zM289.9 91.7h0.8v0.8h-0.8zM297.6 71.6h0.8v0.8h-0.8zM302.6 72.3h0.8v0.8h-0.8zM306.9 91.3h0.8v0.8h-0.8zM297.3 75.0h0.8v0.8h-0.8zM308.9 62.7h0.8v0.8h-0.8zM287.9 82.9h0.8v0.8h-0.8zM304.9 74.2h0.8v0.8h-0.8zM307.9 62.6h0.8v0.8h-0.8zM307.1 78.4h0.8v0.8h-0.8zM289.6 87.7h0.8v0.8h-0.8zM312.9 72.8h0.8v0.8h-0.8zM317.3 65.4h0.8v0.8h-0.8z"/></g>
<g filter="url(#bl05)"><ellipse cx="328.30" cy="70.30" rx="6.6" ry="7.3" fill="#6a9ccc" fill-opacity="0.9"/><ellipse cx="328.30" cy="70.30" rx="5.8" ry="6.4" fill="#3a8cb4" fill-opacity="1"/><ellipse cx="328.80" cy="70.60" rx="4.6" ry="5.0" fill="#3aa0a0" fill-opacity="1"/><ellipse cx="329.40" cy="71.00" rx="3.4" ry="3.6" fill="#4ab078" fill-opacity="1"/><ellipse cx="330.00" cy="71.40" rx="2.2" ry="2.4" fill="#b8c030" fill-opacity="1"/><ellipse cx="330.30" cy="71.60" rx="1.2" ry="1.3" fill="#e0b020" fill-opacity="1"/></g>
<g fill-opacity="0.8"><path fill="#2a8aa0" d="M325.4 63.9h0.8v0.8h-0.8zM328.0 78.6h0.8v0.8h-0.8zM329.4 68.8h0.8v0.8h-0.8zM324.6 66.9h0.8v0.8h-0.8zM331.6 76.0h0.8v0.8h-0.8zM322.2 66.9h0.8v0.8h-0.8zM333.2 66.9h0.8v0.8h-0.8zM329.7 69.1h0.8v0.8h-0.8zM328.6 66.9h0.8v0.8h-0.8zM325.3 70.1h0.8v0.8h-0.8zM331.8 74.7h0.8v0.8h-0.8zM328.9 68.0h0.8v0.8h-0.8zM330.2 74.1h0.8v0.8h-0.8zM327.9 68.0h0.8v0.8h-0.8zM326.8 71.4h0.8v0.8h-0.8zM321.4 62.3h0.8v0.8h-0.8zM333.0 74.2h0.8v0.8h-0.8zM324.5 74.1h0.8v0.8h-0.8zM322.2 73.3h0.8v0.8h-0.8zM323.8 69.5h0.8v0.8h-0.8zM329.9 68.4h0.8v0.8h-0.8zM335.1 70.1h0.8v0.8h-0.8zM323.8 67.8h0.8v0.8h-0.8zM327.3 65.9h0.8v0.8h-0.8zM324.1 68.1h0.8v0.8h-0.8zM322.2 70.7h0.8v0.8h-0.8zM327.1 67.6h0.8v0.8h-0.8zM329.6 67.9h0.8v0.8h-0.8zM328.9 67.9h0.8v0.8h-0.8zM323.1 69.5h0.8v0.8h-0.8zM327.7 68.6h0.8v0.8h-0.8zM330.7 64.8h0.8v0.8h-0.8zM322.0 68.3h0.8v0.8h-0.8zM328.6 69.7h0.8v0.8h-0.8zM324.8 74.1h0.8v0.8h-0.8zM325.7 74.3h0.8v0.8h-0.8z"/><path fill="#7aa4d0" d="M328.6 69.3h0.8v0.8h-0.8zM327.9 68.0h0.8v0.8h-0.8zM327.6 71.8h0.8v0.8h-0.8zM324.5 71.4h0.8v0.8h-0.8zM326.1 65.1h0.8v0.8h-0.8zM328.1 73.3h0.8v0.8h-0.8zM324.2 77.1h0.8v0.8h-0.8zM324.3 67.0h0.8v0.8h-0.8zM321.8 61.0h0.8v0.8h-0.8zM332.9 71.4h0.8v0.8h-0.8zM335.9 63.8h0.8v0.8h-0.8zM327.0 67.4h0.8v0.8h-0.8zM327.9 69.6h0.8v0.8h-0.8zM329.6 67.3h0.8v0.8h-0.8zM326.0 72.5h0.8v0.8h-0.8zM330.2 76.1h0.8v0.8h-0.8zM331.5 64.5h0.8v0.8h-0.8zM330.5 69.3h0.8v0.8h-0.8zM328.1 74.1h0.8v0.8h-0.8zM321.3 72.9h0.8v0.8h-0.8zM333.3 78.4h0.8v0.8h-0.8zM332.5 69.7h0.8v0.8h-0.8zM332.9 72.7h0.8v0.8h-0.8zM333.7 60.1h0.8v0.8h-0.8zM329.7 78.0h0.8v0.8h-0.8z"/><path fill="#5a90c4" d="M334.5 76.5h0.8v0.8h-0.8zM321.4 62.1h0.8v0.8h-0.8zM333.4 69.8h0.8v0.8h-0.8zM321.9 69.6h0.8v0.8h-0.8zM323.6 72.3h0.8v0.8h-0.8zM329.0 72.3h0.8v0.8h-0.8zM329.0 73.6h0.8v0.8h-0.8zM332.1 75.2h0.8v0.8h-0.8zM328.1 67.2h0.8v0.8h-0.8zM330.9 71.3h0.8v0.8h-0.8zM331.9 70.6h0.8v0.8h-0.8zM327.2 72.7h0.8v0.8h-0.8zM327.7 65.9h0.8v0.8h-0.8zM325.7 66.5h0.8v0.8h-0.8zM323.4 66.1h0.8v0.8h-0.8zM330.6 65.8h0.8v0.8h-0.8zM328.4 70.1h0.8v0.8h-0.8zM323.7 69.4h0.8v0.8h-0.8zM326.4 71.3h0.8v0.8h-0.8zM322.0 71.6h0.8v0.8h-0.8zM333.3 70.5h0.8v0.8h-0.8zM326.0 70.5h0.8v0.8h-0.8zM320.4 74.1h0.8v0.8h-0.8zM333.4 75.1h0.8v0.8h-0.8z"/><path fill="#3a7ab0" d="M327.7 68.7h0.8v0.8h-0.8zM334.6 64.6h0.8v0.8h-0.8zM333.9 68.8h0.8v0.8h-0.8zM325.0 69.0h0.8v0.8h-0.8zM329.7 73.5h0.8v0.8h-0.8zM332.5 70.3h0.8v0.8h-0.8zM330.6 72.4h0.8v0.8h-0.8zM326.7 75.5h0.8v0.8h-0.8zM333.0 69.2h0.8v0.8h-0.8zM329.8 75.2h0.8v0.8h-0.8zM327.0 68.4h0.8v0.8h-0.8zM329.5 67.0h0.8v0.8h-0.8zM325.3 66.5h0.8v0.8h-0.8zM328.9 71.3h0.8v0.8h-0.8zM322.6 64.3h0.8v0.8h-0.8zM331.2 65.8h0.8v0.8h-0.8zM330.6 69.3h0.8v0.8h-0.8zM329.3 78.4h0.8v0.8h-0.8zM328.6 74.8h0.8v0.8h-0.8zM327.1 60.1h0.8v0.8h-0.8zM331.1 73.9h0.8v0.8h-0.8zM320.8 61.8h0.8v0.8h-0.8zM328.3 67.5h0.8v0.8h-0.8zM326.9 70.7h0.8v0.8h-0.8zM330.1 63.0h0.8v0.8h-0.8zM332.0 73.2h0.8v0.8h-0.8zM332.9 64.1h0.8v0.8h-0.8zM321.5 75.6h0.8v0.8h-0.8zM332.1 66.2h0.8v0.8h-0.8z"/></g>
</g>
<line x1="283.5" y1="58.5" x2="336.8" y2="58.5" stroke="#a5223f" stroke-width="0.95"/>
<line x1="320.6" y1="43.5" x2="320.6" y2="93.0" stroke="#a5223f" stroke-width="0.95"/>
<text x="281.4" y="48.5" font-size="5.5" fill="#333" text-anchor="end">10<tspan font-size="3.8" dy="-2.30">5</tspan></text>
<text x="281.4" y="60.9" font-size="5.5" fill="#333" text-anchor="end">10<tspan font-size="3.8" dy="-2.30">4</tspan></text>
<text x="281.4" y="71.6" font-size="5.5" fill="#333" text-anchor="end">10<tspan font-size="3.8" dy="-2.30">3</tspan></text>
<text x="281.4" y="83.5" font-size="5.5" fill="#333" text-anchor="end">10<tspan font-size="3.8" dy="-2.30">2</tspan></text>
<text x="281.4" y="89.7" font-size="5.5" fill="#333" text-anchor="end">0</text>
<text x="288.2" y="101.0" font-size="5.5" fill="#333" text-anchor="middle">0</text>
<text x="294.9" y="101.0" font-size="5.5" fill="#333" text-anchor="middle">10<tspan font-size="3.8" dy="-2.30">2</tspan></text>
<text x="307.7" y="101.0" font-size="5.5" fill="#333" text-anchor="middle">10<tspan font-size="3.8" dy="-2.30">3</tspan></text>
<text x="320.4" y="101.0" font-size="5.5" fill="#333" text-anchor="middle">10<tspan font-size="3.8" dy="-2.30">4</tspan></text>
<text x="332.6" y="101.0" font-size="5.5" fill="#333" text-anchor="middle">10<tspan font-size="3.8" dy="-2.30">5</tspan></text>
<line x1="282.2" y1="46.5" x2="283.8" y2="46.5" stroke="#666" stroke-width="0.55"/>
<line x1="282.2" y1="58.9" x2="283.8" y2="58.9" stroke="#666" stroke-width="0.55"/>
<line x1="282.2" y1="69.6" x2="283.8" y2="69.6" stroke="#666" stroke-width="0.55"/>
<line x1="282.2" y1="81.5" x2="283.8" y2="81.5" stroke="#666" stroke-width="0.55"/>
<line x1="282.2" y1="87.7" x2="283.8" y2="87.7" stroke="#666" stroke-width="0.55"/>
<line x1="288.2" y1="92.7" x2="288.2" y2="94.3" stroke="#666" stroke-width="0.55"/>
<line x1="294.9" y1="92.7" x2="294.9" y2="94.3" stroke="#666" stroke-width="0.55"/>
<line x1="307.7" y1="92.7" x2="307.7" y2="94.3" stroke="#666" stroke-width="0.55"/>
<line x1="320.4" y1="92.7" x2="320.4" y2="94.3" stroke="#666" stroke-width="0.55"/>
<line x1="332.6" y1="92.7" x2="332.6" y2="94.3" stroke="#666" stroke-width="0.55"/>
<text x="286.3" y="50.9" font-size="5.5" fill="#c0415e">0.1%</text>
<text x="304.0" y="50.9" font-size="5.5" fill="#c0415e">DN1</text>
<text x="323.4" y="84.3" font-size="5.3" fill="#c0415e">DN3</text>
<text x="322.9" y="90.2" font-size="5.3" fill="#c0415e">55.4%</text>
<text x="335.5" y="46.0" font-size="2.6" fill="#888" text-anchor="end">0.18%</text>
<rect x="283.5" y="107.3" width="53.30000000000001" height="50.2" fill="none" stroke="#bdbdbd" stroke-width="0.55"/>
<g clip-path="url(#c2)">
<g filter="url(#bl2)"><ellipse cx="302.00" cy="140.00" rx="17" ry="17" fill="#b0c0e0" fill-opacity="0.6"/></g>
<g fill-opacity="0.8"><path fill="#a7b7da" d="M294.6 126.8h0.8v0.8h-0.8zM303.1 146.1h0.8v0.8h-0.8zM308.9 121.5h0.8v0.8h-0.8zM306.0 117.1h0.8v0.8h-0.8zM299.7 137.9h0.8v0.8h-0.8zM308.4 113.3h0.8v0.8h-0.8zM301.8 138.5h0.8v0.8h-0.8zM302.3 135.6h0.8v0.8h-0.8zM302.3 148.1h0.8v0.8h-0.8zM298.9 139.2h0.8v0.8h-0.8zM301.9 149.1h0.8v0.8h-0.8zM311.3 146.6h0.8v0.8h-0.8zM305.5 130.1h0.8v0.8h-0.8zM284.6 149.6h0.8v0.8h-0.8zM309.5 125.7h0.8v0.8h-0.8zM287.3 149.3h0.8v0.8h-0.8zM296.5 120.6h0.8v0.8h-0.8zM296.1 154.3h0.8v0.8h-0.8zM311.4 139.1h0.8v0.8h-0.8zM284.5 149.2h0.8v0.8h-0.8zM302.6 122.1h0.8v0.8h-0.8zM302.0 131.5h0.8v0.8h-0.8zM316.4 138.8h0.8v0.8h-0.8zM312.4 152.0h0.8v0.8h-0.8zM303.1 127.6h0.8v0.8h-0.8zM314.7 132.5h0.8v0.8h-0.8zM284.2 149.3h0.8v0.8h-0.8zM297.9 133.6h0.8v0.8h-0.8zM303.4 114.8h0.8v0.8h-0.8zM306.7 142.8h0.8v0.8h-0.8zM313.9 125.4h0.8v0.8h-0.8zM296.8 150.4h0.8v0.8h-0.8zM305.9 121.4h0.8v0.8h-0.8zM304.4 151.9h0.8v0.8h-0.8zM303.8 117.9h0.8v0.8h-0.8zM290.8 144.2h0.8v0.8h-0.8zM298.7 127.0h0.8v0.8h-0.8zM300.8 130.5h0.8v0.8h-0.8zM290.7 112.6h0.8v0.8h-0.8zM312.5 152.7h0.8v0.8h-0.8zM302.8 122.1h0.8v0.8h-0.8zM307.9 118.0h0.8v0.8h-0.8zM296.2 131.4h0.8v0.8h-0.8zM289.0 143.0h0.8v0.8h-0.8zM294.7 128.7h0.8v0.8h-0.8zM289.1 153.9h0.8v0.8h-0.8zM310.4 122.1h0.8v0.8h-0.8zM296.3 139.1h0.8v0.8h-0.8zM309.1 138.3h0.8v0.8h-0.8zM283.6 120.8h0.8v0.8h-0.8zM295.4 116.2h0.8v0.8h-0.8zM298.9 118.7h0.8v0.8h-0.8zM309.8 117.3h0.8v0.8h-0.8zM299.8 115.5h0.8v0.8h-0.8zM309.2 127.6h0.8v0.8h-0.8zM306.0 120.2h0.8v0.8h-0.8zM303.1 139.6h0.8v0.8h-0.8zM294.1 145.0h0.8v0.8h-0.8zM296.9 148.3h0.8v0.8h-0.8zM292.2 143.2h0.8v0.8h-0.8zM300.4 134.6h0.8v0.8h-0.8zM299.1 142.2h0.8v0.8h-0.8zM306.8 133.7h0.8v0.8h-0.8zM313.2 121.2h0.8v0.8h-0.8zM301.0 131.8h0.8v0.8h-0.8zM304.6 141.2h0.8v0.8h-0.8zM292.5 143.6h0.8v0.8h-0.8zM297.8 137.5h0.8v0.8h-0.8zM314.8 135.5h0.8v0.8h-0.8zM293.2 136.0h0.8v0.8h-0.8zM309.9 113.3h0.8v0.8h-0.8zM306.5 116.1h0.8v0.8h-0.8zM311.8 144.3h0.8v0.8h-0.8zM301.0 113.2h0.8v0.8h-0.8zM293.5 134.0h0.8v0.8h-0.8zM309.8 121.7h0.8v0.8h-0.8zM305.4 116.1h0.8v0.8h-0.8zM295.9 134.3h0.8v0.8h-0.8zM311.5 119.2h0.8v0.8h-0.8zM312.6 156.1h0.8v0.8h-0.8zM289.6 153.3h0.8v0.8h-0.8zM313.2 138.2h0.8v0.8h-0.8zM295.0 124.1h0.8v0.8h-0.8zM294.2 117.7h0.8v0.8h-0.8zM313.5 111.6h0.8v0.8h-0.8zM307.5 121.1h0.8v0.8h-0.8zM300.0 156.3h0.8v0.8h-0.8zM292.4 128.3h0.8v0.8h-0.8zM298.1 150.1h0.8v0.8h-0.8zM294.8 114.3h0.8v0.8h-0.8zM299.7 153.4h0.8v0.8h-0.8zM295.1 121.7h0.8v0.8h-0.8zM290.5 150.5h0.8v0.8h-0.8zM290.4 125.4h0.8v0.8h-0.8zM295.4 130.4h0.8v0.8h-0.8zM294.4 150.2h0.8v0.8h-0.8zM284.3 113.3h0.8v0.8h-0.8zM290.6 111.7h0.8v0.8h-0.8zM310.2 134.0h0.8v0.8h-0.8zM303.7 116.9h0.8v0.8h-0.8zM317.3 156.1h0.8v0.8h-0.8zM292.6 137.7h0.8v0.8h-0.8zM302.3 150.4h0.8v0.8h-0.8zM305.1 115.2h0.8v0.8h-0.8zM305.3 148.9h0.8v0.8h-0.8zM315.1 116.7h0.8v0.8h-0.8zM311.4 135.1h0.8v0.8h-0.8zM296.2 155.4h0.8v0.8h-0.8z"/><path fill="#5d7cb8" d="M293.1 124.0h0.8v0.8h-0.8zM306.3 140.5h0.8v0.8h-0.8zM307.7 130.0h0.8v0.8h-0.8zM317.2 138.3h0.8v0.8h-0.8zM313.9 126.1h0.8v0.8h-0.8zM307.2 139.0h0.8v0.8h-0.8zM312.9 133.3h0.8v0.8h-0.8zM307.0 136.6h0.8v0.8h-0.8zM296.3 135.7h0.8v0.8h-0.8zM306.1 121.8h0.8v0.8h-0.8zM291.0 137.5h0.8v0.8h-0.8zM316.0 140.5h0.8v0.8h-0.8zM296.5 141.7h0.8v0.8h-0.8zM314.6 120.8h0.8v0.8h-0.8zM297.4 113.1h0.8v0.8h-0.8zM311.2 152.7h0.8v0.8h-0.8zM292.1 137.4h0.8v0.8h-0.8zM307.8 145.5h0.8v0.8h-0.8zM312.5 138.4h0.8v0.8h-0.8zM307.4 152.7h0.8v0.8h-0.8zM315.3 133.2h0.8v0.8h-0.8zM300.8 111.9h0.8v0.8h-0.8zM306.6 124.4h0.8v0.8h-0.8zM301.2 155.9h0.8v0.8h-0.8zM289.0 145.2h0.8v0.8h-0.8zM302.5 124.7h0.8v0.8h-0.8zM299.6 112.1h0.8v0.8h-0.8zM312.6 155.3h0.8v0.8h-0.8zM313.2 117.4h0.8v0.8h-0.8zM298.9 151.5h0.8v0.8h-0.8zM299.3 143.7h0.8v0.8h-0.8zM305.5 139.5h0.8v0.8h-0.8zM307.2 138.8h0.8v0.8h-0.8zM309.6 141.1h0.8v0.8h-0.8zM314.1 114.9h0.8v0.8h-0.8zM298.7 114.3h0.8v0.8h-0.8zM291.8 149.7h0.8v0.8h-0.8zM304.8 123.1h0.8v0.8h-0.8zM287.8 121.7h0.8v0.8h-0.8zM297.5 116.9h0.8v0.8h-0.8zM308.9 155.5h0.8v0.8h-0.8zM290.4 112.3h0.8v0.8h-0.8zM294.8 130.6h0.8v0.8h-0.8zM295.3 153.8h0.8v0.8h-0.8zM310.7 149.8h0.8v0.8h-0.8zM287.0 140.4h0.8v0.8h-0.8zM284.2 144.5h0.8v0.8h-0.8zM316.2 120.9h0.8v0.8h-0.8zM295.5 143.6h0.8v0.8h-0.8zM305.8 116.4h0.8v0.8h-0.8zM300.4 155.1h0.8v0.8h-0.8zM314.8 137.7h0.8v0.8h-0.8zM311.3 138.5h0.8v0.8h-0.8zM305.7 148.3h0.8v0.8h-0.8zM290.8 145.1h0.8v0.8h-0.8zM319.4 142.9h0.8v0.8h-0.8zM305.3 131.4h0.8v0.8h-0.8zM301.2 144.4h0.8v0.8h-0.8zM292.3 153.1h0.8v0.8h-0.8zM310.7 122.4h0.8v0.8h-0.8zM287.2 126.2h0.8v0.8h-0.8zM295.9 143.2h0.8v0.8h-0.8zM298.4 141.8h0.8v0.8h-0.8zM290.9 132.1h0.8v0.8h-0.8zM313.4 156.3h0.8v0.8h-0.8zM295.6 130.2h0.8v0.8h-0.8zM286.8 135.6h0.8v0.8h-0.8zM296.2 126.8h0.8v0.8h-0.8zM292.8 127.4h0.8v0.8h-0.8zM294.7 140.9h0.8v0.8h-0.8zM302.8 121.5h0.8v0.8h-0.8zM319.1 118.8h0.8v0.8h-0.8zM298.2 153.9h0.8v0.8h-0.8zM287.8 142.1h0.8v0.8h-0.8zM287.3 144.8h0.8v0.8h-0.8zM298.4 113.1h0.8v0.8h-0.8zM288.1 148.9h0.8v0.8h-0.8zM309.5 128.6h0.8v0.8h-0.8zM297.7 119.5h0.8v0.8h-0.8zM297.4 130.9h0.8v0.8h-0.8zM292.9 147.4h0.8v0.8h-0.8zM311.7 138.3h0.8v0.8h-0.8zM292.0 153.0h0.8v0.8h-0.8zM295.1 114.8h0.8v0.8h-0.8zM308.2 150.2h0.8v0.8h-0.8zM315.3 114.6h0.8v0.8h-0.8zM310.2 121.3h0.8v0.8h-0.8zM299.6 137.4h0.8v0.8h-0.8zM307.3 125.6h0.8v0.8h-0.8zM305.5 139.8h0.8v0.8h-0.8zM307.4 148.6h0.8v0.8h-0.8zM311.8 152.0h0.8v0.8h-0.8zM297.0 153.4h0.8v0.8h-0.8zM312.9 146.3h0.8v0.8h-0.8zM295.1 147.0h0.8v0.8h-0.8zM319.3 129.7h0.8v0.8h-0.8zM298.3 140.8h0.8v0.8h-0.8zM312.3 123.5h0.8v0.8h-0.8zM300.5 126.6h0.8v0.8h-0.8zM290.0 143.9h0.8v0.8h-0.8zM298.1 137.3h0.8v0.8h-0.8zM287.9 151.4h0.8v0.8h-0.8zM299.5 126.2h0.8v0.8h-0.8zM302.7 118.4h0.8v0.8h-0.8zM305.0 117.8h0.8v0.8h-0.8zM285.6 123.4h0.8v0.8h-0.8zM303.3 126.4h0.8v0.8h-0.8zM297.7 147.1h0.8v0.8h-0.8zM295.9 120.1h0.8v0.8h-0.8zM292.2 119.1h0.8v0.8h-0.8zM299.6 117.9h0.8v0.8h-0.8zM310.5 129.7h0.8v0.8h-0.8zM296.2 139.8h0.8v0.8h-0.8zM307.8 140.3h0.8v0.8h-0.8zM311.2 150.9h0.8v0.8h-0.8zM307.2 120.5h0.8v0.8h-0.8zM301.4 141.3h0.8v0.8h-0.8zM299.2 155.7h0.8v0.8h-0.8zM302.7 138.1h0.8v0.8h-0.8zM301.8 139.3h0.8v0.8h-0.8zM291.9 126.6h0.8v0.8h-0.8zM304.6 139.9h0.8v0.8h-0.8zM304.6 116.3h0.8v0.8h-0.8zM288.3 136.2h0.8v0.8h-0.8z"/><path fill="#6a86bf" d="M296.2 137.7h0.8v0.8h-0.8zM286.7 122.6h0.8v0.8h-0.8zM295.2 115.8h0.8v0.8h-0.8zM298.6 136.1h0.8v0.8h-0.8zM315.5 144.9h0.8v0.8h-0.8zM297.7 126.1h0.8v0.8h-0.8zM297.3 129.1h0.8v0.8h-0.8zM307.8 118.5h0.8v0.8h-0.8zM308.6 132.0h0.8v0.8h-0.8zM289.5 114.5h0.8v0.8h-0.8zM307.9 125.0h0.8v0.8h-0.8zM308.3 118.6h0.8v0.8h-0.8zM314.0 151.3h0.8v0.8h-0.8zM292.7 116.4h0.8v0.8h-0.8zM304.0 142.9h0.8v0.8h-0.8zM291.0 140.1h0.8v0.8h-0.8zM297.4 126.7h0.8v0.8h-0.8zM318.6 129.4h0.8v0.8h-0.8zM303.5 132.0h0.8v0.8h-0.8zM297.8 134.3h0.8v0.8h-0.8zM297.9 137.7h0.8v0.8h-0.8zM290.1 139.6h0.8v0.8h-0.8zM319.5 125.5h0.8v0.8h-0.8zM306.5 153.4h0.8v0.8h-0.8zM314.1 112.9h0.8v0.8h-0.8zM309.3 131.2h0.8v0.8h-0.8zM305.8 141.4h0.8v0.8h-0.8zM310.3 150.6h0.8v0.8h-0.8zM299.6 150.3h0.8v0.8h-0.8zM292.4 137.5h0.8v0.8h-0.8zM318.6 152.7h0.8v0.8h-0.8zM312.4 112.0h0.8v0.8h-0.8zM294.6 148.5h0.8v0.8h-0.8zM286.2 122.9h0.8v0.8h-0.8zM309.4 145.1h0.8v0.8h-0.8zM310.9 129.5h0.8v0.8h-0.8zM312.5 112.8h0.8v0.8h-0.8zM313.1 140.9h0.8v0.8h-0.8zM301.8 154.0h0.8v0.8h-0.8zM288.7 131.5h0.8v0.8h-0.8zM300.4 120.6h0.8v0.8h-0.8zM297.2 115.8h0.8v0.8h-0.8zM289.0 113.4h0.8v0.8h-0.8zM316.7 137.1h0.8v0.8h-0.8zM295.3 133.4h0.8v0.8h-0.8zM309.5 144.8h0.8v0.8h-0.8zM306.8 149.7h0.8v0.8h-0.8zM303.4 130.0h0.8v0.8h-0.8zM300.7 153.9h0.8v0.8h-0.8zM308.5 135.0h0.8v0.8h-0.8zM298.7 149.3h0.8v0.8h-0.8zM307.1 118.9h0.8v0.8h-0.8zM296.3 152.5h0.8v0.8h-0.8zM289.0 131.5h0.8v0.8h-0.8zM296.6 123.9h0.8v0.8h-0.8zM299.2 130.7h0.8v0.8h-0.8zM285.1 128.9h0.8v0.8h-0.8zM293.7 143.5h0.8v0.8h-0.8zM288.1 142.2h0.8v0.8h-0.8zM312.5 136.2h0.8v0.8h-0.8zM308.5 123.4h0.8v0.8h-0.8zM307.7 145.4h0.8v0.8h-0.8zM310.7 128.1h0.8v0.8h-0.8zM304.8 142.9h0.8v0.8h-0.8zM288.8 146.4h0.8v0.8h-0.8zM312.7 151.3h0.8v0.8h-0.8zM303.3 138.9h0.8v0.8h-0.8zM314.2 118.7h0.8v0.8h-0.8zM306.3 149.9h0.8v0.8h-0.8zM296.3 139.0h0.8v0.8h-0.8zM309.5 124.2h0.8v0.8h-0.8zM305.2 156.3h0.8v0.8h-0.8zM314.1 142.0h0.8v0.8h-0.8zM299.4 147.7h0.8v0.8h-0.8zM301.6 115.5h0.8v0.8h-0.8zM298.9 151.7h0.8v0.8h-0.8zM309.3 147.3h0.8v0.8h-0.8zM301.2 129.6h0.8v0.8h-0.8zM298.3 127.6h0.8v0.8h-0.8zM295.9 144.8h0.8v0.8h-0.8zM298.3 124.6h0.8v0.8h-0.8zM295.7 153.3h0.8v0.8h-0.8zM295.9 133.7h0.8v0.8h-0.8zM298.0 117.8h0.8v0.8h-0.8zM296.4 116.0h0.8v0.8h-0.8zM291.6 122.0h0.8v0.8h-0.8zM306.9 147.0h0.8v0.8h-0.8zM291.9 135.2h0.8v0.8h-0.8zM292.4 138.2h0.8v0.8h-0.8zM293.8 143.5h0.8v0.8h-0.8zM289.7 151.4h0.8v0.8h-0.8zM313.8 112.7h0.8v0.8h-0.8zM306.9 136.3h0.8v0.8h-0.8zM288.0 119.1h0.8v0.8h-0.8zM312.3 151.7h0.8v0.8h-0.8zM311.0 137.7h0.8v0.8h-0.8zM314.4 148.7h0.8v0.8h-0.8zM285.7 143.3h0.8v0.8h-0.8zM314.2 132.0h0.8v0.8h-0.8zM288.4 153.5h0.8v0.8h-0.8zM297.4 154.3h0.8v0.8h-0.8zM302.2 120.1h0.8v0.8h-0.8zM305.4 142.9h0.8v0.8h-0.8zM306.9 145.0h0.8v0.8h-0.8zM306.6 150.0h0.8v0.8h-0.8zM292.4 130.3h0.8v0.8h-0.8zM289.1 150.9h0.8v0.8h-0.8zM301.2 154.9h0.8v0.8h-0.8zM296.8 144.8h0.8v0.8h-0.8zM294.0 133.8h0.8v0.8h-0.8zM306.1 115.5h0.8v0.8h-0.8zM316.3 121.8h0.8v0.8h-0.8zM313.5 126.8h0.8v0.8h-0.8zM304.9 113.9h0.8v0.8h-0.8zM295.0 128.8h0.8v0.8h-0.8zM290.9 143.1h0.8v0.8h-0.8zM316.5 115.8h0.8v0.8h-0.8zM295.4 131.7h0.8v0.8h-0.8zM301.8 133.2h0.8v0.8h-0.8zM297.1 135.3h0.8v0.8h-0.8zM292.9 155.3h0.8v0.8h-0.8zM317.4 134.0h0.8v0.8h-0.8z"/><path fill="#b8c4e0" d="M295.4 143.6h0.8v0.8h-0.8zM304.5 125.4h0.8v0.8h-0.8zM311.6 156.5h0.8v0.8h-0.8zM296.0 143.9h0.8v0.8h-0.8zM310.9 140.8h0.8v0.8h-0.8zM314.3 145.0h0.8v0.8h-0.8zM299.8 137.9h0.8v0.8h-0.8zM317.0 146.4h0.8v0.8h-0.8zM299.7 115.6h0.8v0.8h-0.8zM292.5 123.7h0.8v0.8h-0.8zM305.8 128.5h0.8v0.8h-0.8zM314.2 137.6h0.8v0.8h-0.8zM284.9 150.8h0.8v0.8h-0.8zM298.3 141.6h0.8v0.8h-0.8zM291.3 136.4h0.8v0.8h-0.8zM301.3 153.9h0.8v0.8h-0.8zM301.3 136.0h0.8v0.8h-0.8zM310.6 150.1h0.8v0.8h-0.8zM296.4 126.1h0.8v0.8h-0.8zM285.7 133.3h0.8v0.8h-0.8zM308.5 130.7h0.8v0.8h-0.8zM299.2 137.6h0.8v0.8h-0.8zM316.4 120.7h0.8v0.8h-0.8zM309.0 141.7h0.8v0.8h-0.8zM293.1 125.6h0.8v0.8h-0.8zM299.3 156.2h0.8v0.8h-0.8zM290.9 115.4h0.8v0.8h-0.8zM283.5 154.7h0.8v0.8h-0.8zM305.7 141.0h0.8v0.8h-0.8zM306.9 119.0h0.8v0.8h-0.8zM312.1 122.1h0.8v0.8h-0.8zM287.0 114.8h0.8v0.8h-0.8zM303.0 153.0h0.8v0.8h-0.8zM294.5 133.3h0.8v0.8h-0.8zM301.6 119.9h0.8v0.8h-0.8zM295.0 130.2h0.8v0.8h-0.8zM312.5 126.9h0.8v0.8h-0.8zM304.1 148.4h0.8v0.8h-0.8zM306.7 126.0h0.8v0.8h-0.8zM313.7 138.4h0.8v0.8h-0.8zM298.6 125.6h0.8v0.8h-0.8zM292.6 132.2h0.8v0.8h-0.8zM319.4 153.4h0.8v0.8h-0.8zM303.7 132.0h0.8v0.8h-0.8zM315.2 156.9h0.8v0.8h-0.8zM303.8 120.5h0.8v0.8h-0.8zM302.0 150.3h0.8v0.8h-0.8zM302.2 136.6h0.8v0.8h-0.8zM289.8 111.8h0.8v0.8h-0.8zM283.2 157.0h0.8v0.8h-0.8zM296.3 123.3h0.8v0.8h-0.8zM294.9 129.8h0.8v0.8h-0.8zM310.0 121.9h0.8v0.8h-0.8zM305.6 150.8h0.8v0.8h-0.8zM290.1 133.2h0.8v0.8h-0.8zM292.7 119.9h0.8v0.8h-0.8zM298.4 139.7h0.8v0.8h-0.8zM307.9 138.2h0.8v0.8h-0.8zM311.1 138.5h0.8v0.8h-0.8zM303.3 148.6h0.8v0.8h-0.8zM313.4 152.3h0.8v0.8h-0.8zM303.0 113.4h0.8v0.8h-0.8zM294.3 116.0h0.8v0.8h-0.8zM295.0 149.4h0.8v0.8h-0.8zM296.7 156.4h0.8v0.8h-0.8zM307.5 146.4h0.8v0.8h-0.8zM284.3 143.5h0.8v0.8h-0.8zM307.5 122.1h0.8v0.8h-0.8zM290.7 146.8h0.8v0.8h-0.8zM305.3 112.3h0.8v0.8h-0.8zM313.8 122.5h0.8v0.8h-0.8zM298.7 121.4h0.8v0.8h-0.8zM289.4 148.8h0.8v0.8h-0.8zM301.0 136.3h0.8v0.8h-0.8zM288.1 154.8h0.8v0.8h-0.8zM295.7 118.6h0.8v0.8h-0.8zM296.4 151.7h0.8v0.8h-0.8zM295.2 141.2h0.8v0.8h-0.8zM303.3 136.6h0.8v0.8h-0.8zM286.3 129.8h0.8v0.8h-0.8zM306.8 131.8h0.8v0.8h-0.8zM304.4 135.7h0.8v0.8h-0.8zM300.4 118.7h0.8v0.8h-0.8zM295.8 141.8h0.8v0.8h-0.8zM317.3 119.4h0.8v0.8h-0.8zM313.6 133.6h0.8v0.8h-0.8zM311.0 121.4h0.8v0.8h-0.8zM296.0 126.1h0.8v0.8h-0.8zM290.5 135.1h0.8v0.8h-0.8zM296.2 148.6h0.8v0.8h-0.8zM315.7 132.1h0.8v0.8h-0.8zM293.3 156.4h0.8v0.8h-0.8zM318.6 150.9h0.8v0.8h-0.8zM289.7 138.1h0.8v0.8h-0.8zM292.7 135.9h0.8v0.8h-0.8zM301.8 135.8h0.8v0.8h-0.8zM297.0 122.0h0.8v0.8h-0.8zM300.3 135.1h0.8v0.8h-0.8zM289.7 126.7h0.8v0.8h-0.8z"/><path fill="#5a88b8" d="M301.6 152.3h0.8v0.8h-0.8zM292.3 137.6h0.8v0.8h-0.8zM305.1 115.2h0.8v0.8h-0.8zM306.6 153.6h0.8v0.8h-0.8zM315.1 112.8h0.8v0.8h-0.8zM302.5 149.8h0.8v0.8h-0.8zM303.5 119.9h0.8v0.8h-0.8zM309.1 122.6h0.8v0.8h-0.8zM295.0 141.0h0.8v0.8h-0.8zM304.0 157.1h0.8v0.8h-0.8zM296.5 135.3h0.8v0.8h-0.8zM297.8 113.4h0.8v0.8h-0.8zM307.2 143.9h0.8v0.8h-0.8zM309.8 112.0h0.8v0.8h-0.8zM289.4 127.5h0.8v0.8h-0.8zM298.2 143.3h0.8v0.8h-0.8zM288.5 134.8h0.8v0.8h-0.8zM312.1 133.4h0.8v0.8h-0.8zM297.5 147.2h0.8v0.8h-0.8zM313.4 130.1h0.8v0.8h-0.8zM299.9 126.8h0.8v0.8h-0.8zM297.5 132.8h0.8v0.8h-0.8zM309.8 145.7h0.8v0.8h-0.8zM293.1 152.1h0.8v0.8h-0.8zM299.6 149.7h0.8v0.8h-0.8zM310.3 116.9h0.8v0.8h-0.8zM307.6 152.6h0.8v0.8h-0.8zM296.3 143.4h0.8v0.8h-0.8zM302.8 137.0h0.8v0.8h-0.8zM289.9 148.3h0.8v0.8h-0.8zM314.3 150.2h0.8v0.8h-0.8zM302.8 127.1h0.8v0.8h-0.8zM302.6 116.4h0.8v0.8h-0.8zM296.1 136.2h0.8v0.8h-0.8zM306.2 116.0h0.8v0.8h-0.8zM311.4 141.8h0.8v0.8h-0.8zM294.5 147.3h0.8v0.8h-0.8zM301.9 116.9h0.8v0.8h-0.8zM285.2 142.6h0.8v0.8h-0.8zM297.8 117.7h0.8v0.8h-0.8zM310.1 127.9h0.8v0.8h-0.8zM318.7 118.3h0.8v0.8h-0.8zM297.6 135.4h0.8v0.8h-0.8zM300.0 120.6h0.8v0.8h-0.8zM311.4 128.5h0.8v0.8h-0.8zM294.1 114.7h0.8v0.8h-0.8zM310.6 153.2h0.8v0.8h-0.8zM318.9 139.6h0.8v0.8h-0.8zM292.8 128.2h0.8v0.8h-0.8zM310.8 148.6h0.8v0.8h-0.8zM297.1 149.8h0.8v0.8h-0.8zM289.8 124.8h0.8v0.8h-0.8zM317.2 120.8h0.8v0.8h-0.8zM296.4 152.3h0.8v0.8h-0.8zM287.2 119.0h0.8v0.8h-0.8zM289.5 119.8h0.8v0.8h-0.8zM283.6 131.6h0.8v0.8h-0.8zM303.8 116.1h0.8v0.8h-0.8zM286.8 154.0h0.8v0.8h-0.8zM292.0 118.6h0.8v0.8h-0.8zM319.6 126.8h0.8v0.8h-0.8zM293.2 146.6h0.8v0.8h-0.8zM298.8 120.3h0.8v0.8h-0.8zM297.5 120.0h0.8v0.8h-0.8zM304.2 126.2h0.8v0.8h-0.8zM316.7 112.3h0.8v0.8h-0.8zM296.6 116.8h0.8v0.8h-0.8zM308.8 146.6h0.8v0.8h-0.8zM300.0 127.4h0.8v0.8h-0.8zM304.2 112.6h0.8v0.8h-0.8zM286.5 135.1h0.8v0.8h-0.8zM297.4 118.0h0.8v0.8h-0.8zM292.8 129.7h0.8v0.8h-0.8zM305.1 153.5h0.8v0.8h-0.8zM311.6 131.8h0.8v0.8h-0.8zM309.0 154.7h0.8v0.8h-0.8zM291.8 128.9h0.8v0.8h-0.8zM292.2 135.1h0.8v0.8h-0.8zM312.7 139.1h0.8v0.8h-0.8zM289.7 148.7h0.8v0.8h-0.8zM304.1 121.6h0.8v0.8h-0.8zM288.5 128.7h0.8v0.8h-0.8zM295.4 118.4h0.8v0.8h-0.8zM290.0 119.7h0.8v0.8h-0.8zM319.4 121.4h0.8v0.8h-0.8zM299.3 116.9h0.8v0.8h-0.8zM297.6 132.0h0.8v0.8h-0.8zM299.4 116.9h0.8v0.8h-0.8zM304.6 131.6h0.8v0.8h-0.8zM304.6 131.8h0.8v0.8h-0.8zM297.1 123.9h0.8v0.8h-0.8zM289.2 128.5h0.8v0.8h-0.8zM297.9 148.0h0.8v0.8h-0.8zM310.5 124.0h0.8v0.8h-0.8zM308.2 127.8h0.8v0.8h-0.8zM283.3 149.6h0.8v0.8h-0.8zM313.4 115.0h0.8v0.8h-0.8zM303.3 135.7h0.8v0.8h-0.8zM317.1 135.8h0.8v0.8h-0.8zM299.2 156.4h0.8v0.8h-0.8zM318.2 129.6h0.8v0.8h-0.8zM305.9 130.7h0.8v0.8h-0.8zM300.8 153.0h0.8v0.8h-0.8zM314.5 117.7h0.8v0.8h-0.8zM285.9 146.6h0.8v0.8h-0.8zM288.5 115.1h0.8v0.8h-0.8zM301.3 154.4h0.8v0.8h-0.8zM296.8 140.8h0.8v0.8h-0.8zM290.8 153.3h0.8v0.8h-0.8zM305.8 151.4h0.8v0.8h-0.8z"/><path fill="#8fa6d2" d="M296.2 146.8h0.8v0.8h-0.8zM318.1 117.8h0.8v0.8h-0.8zM302.5 149.8h0.8v0.8h-0.8zM287.6 118.6h0.8v0.8h-0.8zM296.7 141.9h0.8v0.8h-0.8zM289.9 136.1h0.8v0.8h-0.8zM315.3 114.2h0.8v0.8h-0.8zM288.4 153.3h0.8v0.8h-0.8zM293.4 125.4h0.8v0.8h-0.8zM294.0 114.7h0.8v0.8h-0.8zM300.0 113.1h0.8v0.8h-0.8zM302.7 122.5h0.8v0.8h-0.8zM306.0 116.6h0.8v0.8h-0.8zM313.2 114.9h0.8v0.8h-0.8zM310.5 138.6h0.8v0.8h-0.8zM283.2 133.8h0.8v0.8h-0.8zM299.3 141.7h0.8v0.8h-0.8zM307.4 150.2h0.8v0.8h-0.8zM308.9 139.4h0.8v0.8h-0.8zM316.3 125.7h0.8v0.8h-0.8zM296.4 151.8h0.8v0.8h-0.8zM286.2 147.1h0.8v0.8h-0.8zM292.0 152.8h0.8v0.8h-0.8zM300.3 151.6h0.8v0.8h-0.8zM306.3 145.3h0.8v0.8h-0.8zM300.3 133.4h0.8v0.8h-0.8zM303.5 149.0h0.8v0.8h-0.8zM307.7 156.3h0.8v0.8h-0.8zM317.0 137.7h0.8v0.8h-0.8zM298.7 126.9h0.8v0.8h-0.8zM298.0 153.2h0.8v0.8h-0.8zM307.3 119.8h0.8v0.8h-0.8zM313.8 114.2h0.8v0.8h-0.8zM312.0 123.0h0.8v0.8h-0.8zM291.7 112.9h0.8v0.8h-0.8zM308.8 112.3h0.8v0.8h-0.8zM298.0 113.9h0.8v0.8h-0.8zM316.1 155.4h0.8v0.8h-0.8zM308.2 133.3h0.8v0.8h-0.8zM299.1 115.5h0.8v0.8h-0.8zM316.2 112.7h0.8v0.8h-0.8zM305.1 157.0h0.8v0.8h-0.8zM290.7 128.1h0.8v0.8h-0.8zM310.1 118.8h0.8v0.8h-0.8zM305.2 152.7h0.8v0.8h-0.8zM299.4 118.1h0.8v0.8h-0.8zM291.4 114.2h0.8v0.8h-0.8zM304.6 131.0h0.8v0.8h-0.8zM304.7 117.7h0.8v0.8h-0.8zM302.6 150.5h0.8v0.8h-0.8zM289.0 151.9h0.8v0.8h-0.8zM294.6 112.9h0.8v0.8h-0.8zM303.4 120.9h0.8v0.8h-0.8zM289.0 118.5h0.8v0.8h-0.8zM292.0 149.1h0.8v0.8h-0.8zM305.2 119.8h0.8v0.8h-0.8zM311.5 145.9h0.8v0.8h-0.8zM306.4 118.6h0.8v0.8h-0.8zM312.6 122.0h0.8v0.8h-0.8zM309.5 145.1h0.8v0.8h-0.8zM293.7 135.9h0.8v0.8h-0.8zM295.5 112.8h0.8v0.8h-0.8zM307.1 122.9h0.8v0.8h-0.8zM308.8 119.3h0.8v0.8h-0.8zM299.4 152.1h0.8v0.8h-0.8zM289.4 127.4h0.8v0.8h-0.8zM290.3 120.9h0.8v0.8h-0.8zM298.3 145.9h0.8v0.8h-0.8zM300.0 137.7h0.8v0.8h-0.8zM309.5 135.2h0.8v0.8h-0.8zM297.5 145.9h0.8v0.8h-0.8zM306.5 148.7h0.8v0.8h-0.8zM294.1 124.1h0.8v0.8h-0.8zM306.8 148.4h0.8v0.8h-0.8zM299.2 140.3h0.8v0.8h-0.8zM304.9 132.6h0.8v0.8h-0.8zM296.7 156.6h0.8v0.8h-0.8zM316.8 142.9h0.8v0.8h-0.8zM312.9 114.2h0.8v0.8h-0.8zM290.5 126.9h0.8v0.8h-0.8zM301.1 134.0h0.8v0.8h-0.8zM301.4 135.6h0.8v0.8h-0.8zM305.6 118.0h0.8v0.8h-0.8zM302.5 147.8h0.8v0.8h-0.8zM289.1 149.8h0.8v0.8h-0.8zM301.7 118.1h0.8v0.8h-0.8zM312.7 136.2h0.8v0.8h-0.8zM295.9 151.6h0.8v0.8h-0.8zM294.2 139.9h0.8v0.8h-0.8zM313.8 155.5h0.8v0.8h-0.8zM309.8 143.3h0.8v0.8h-0.8zM309.9 119.4h0.8v0.8h-0.8zM295.6 134.7h0.8v0.8h-0.8zM311.5 145.7h0.8v0.8h-0.8zM298.5 122.9h0.8v0.8h-0.8zM308.7 114.1h0.8v0.8h-0.8zM304.1 112.6h0.8v0.8h-0.8zM284.8 156.3h0.8v0.8h-0.8zM305.3 132.4h0.8v0.8h-0.8zM304.1 116.9h0.8v0.8h-0.8zM307.0 113.6h0.8v0.8h-0.8zM303.4 136.1h0.8v0.8h-0.8zM306.9 113.6h0.8v0.8h-0.8zM291.6 128.4h0.8v0.8h-0.8zM304.7 156.2h0.8v0.8h-0.8zM306.5 122.0h0.8v0.8h-0.8zM301.3 153.9h0.8v0.8h-0.8zM285.2 141.9h0.8v0.8h-0.8zM295.6 127.5h0.8v0.8h-0.8zM314.5 147.5h0.8v0.8h-0.8zM312.1 117.1h0.8v0.8h-0.8zM298.1 137.4h0.8v0.8h-0.8zM306.1 139.8h0.8v0.8h-0.8zM309.2 147.7h0.8v0.8h-0.8zM291.4 113.7h0.8v0.8h-0.8zM311.4 155.5h0.8v0.8h-0.8zM309.4 113.1h0.8v0.8h-0.8zM300.5 145.5h0.8v0.8h-0.8zM313.6 143.0h0.8v0.8h-0.8zM316.2 154.3h0.8v0.8h-0.8zM303.1 119.1h0.8v0.8h-0.8zM289.8 138.0h0.8v0.8h-0.8z"/><path fill="#7d97c9" d="M309.5 111.8h0.8v0.8h-0.8zM291.5 146.0h0.8v0.8h-0.8zM297.4 121.2h0.8v0.8h-0.8zM294.0 112.7h0.8v0.8h-0.8zM304.2 143.4h0.8v0.8h-0.8zM318.0 123.7h0.8v0.8h-0.8zM313.4 141.8h0.8v0.8h-0.8zM298.3 154.2h0.8v0.8h-0.8zM314.0 118.0h0.8v0.8h-0.8zM315.1 118.2h0.8v0.8h-0.8zM303.5 134.8h0.8v0.8h-0.8zM314.5 123.3h0.8v0.8h-0.8zM290.4 153.4h0.8v0.8h-0.8zM300.2 120.8h0.8v0.8h-0.8zM295.7 154.6h0.8v0.8h-0.8zM296.3 141.7h0.8v0.8h-0.8zM286.2 137.9h0.8v0.8h-0.8zM308.3 143.8h0.8v0.8h-0.8zM303.7 151.5h0.8v0.8h-0.8zM306.3 128.7h0.8v0.8h-0.8zM316.4 134.2h0.8v0.8h-0.8zM295.0 149.5h0.8v0.8h-0.8zM312.2 127.4h0.8v0.8h-0.8zM308.1 153.6h0.8v0.8h-0.8zM299.5 134.5h0.8v0.8h-0.8zM293.4 155.9h0.8v0.8h-0.8zM301.9 138.4h0.8v0.8h-0.8zM301.7 121.1h0.8v0.8h-0.8zM300.0 146.6h0.8v0.8h-0.8zM297.6 111.9h0.8v0.8h-0.8zM305.3 156.1h0.8v0.8h-0.8zM306.9 121.5h0.8v0.8h-0.8zM310.7 122.9h0.8v0.8h-0.8zM312.5 142.1h0.8v0.8h-0.8zM304.0 121.7h0.8v0.8h-0.8zM291.9 152.2h0.8v0.8h-0.8zM292.5 134.8h0.8v0.8h-0.8zM295.6 134.0h0.8v0.8h-0.8zM301.5 135.3h0.8v0.8h-0.8zM303.5 114.5h0.8v0.8h-0.8zM308.1 141.6h0.8v0.8h-0.8zM296.3 114.5h0.8v0.8h-0.8zM302.0 155.8h0.8v0.8h-0.8zM311.0 151.1h0.8v0.8h-0.8zM291.0 140.2h0.8v0.8h-0.8zM306.8 132.8h0.8v0.8h-0.8zM305.8 118.7h0.8v0.8h-0.8zM307.0 124.6h0.8v0.8h-0.8zM305.5 137.3h0.8v0.8h-0.8zM296.7 129.2h0.8v0.8h-0.8zM305.0 156.0h0.8v0.8h-0.8zM306.1 141.4h0.8v0.8h-0.8zM307.3 134.8h0.8v0.8h-0.8zM308.3 118.7h0.8v0.8h-0.8zM286.1 132.0h0.8v0.8h-0.8zM292.6 134.6h0.8v0.8h-0.8zM298.4 132.9h0.8v0.8h-0.8zM298.8 151.2h0.8v0.8h-0.8zM303.6 130.4h0.8v0.8h-0.8zM309.8 122.3h0.8v0.8h-0.8zM313.7 132.2h0.8v0.8h-0.8zM313.1 147.5h0.8v0.8h-0.8zM287.7 114.6h0.8v0.8h-0.8zM305.8 141.6h0.8v0.8h-0.8zM303.0 124.9h0.8v0.8h-0.8zM306.4 143.1h0.8v0.8h-0.8zM287.3 126.2h0.8v0.8h-0.8zM292.0 138.3h0.8v0.8h-0.8zM313.3 141.3h0.8v0.8h-0.8zM292.9 150.1h0.8v0.8h-0.8zM303.3 144.9h0.8v0.8h-0.8zM295.2 116.5h0.8v0.8h-0.8zM317.5 152.4h0.8v0.8h-0.8zM286.8 148.0h0.8v0.8h-0.8zM293.7 115.3h0.8v0.8h-0.8zM318.3 122.0h0.8v0.8h-0.8zM306.2 130.5h0.8v0.8h-0.8zM297.9 116.2h0.8v0.8h-0.8zM297.0 125.0h0.8v0.8h-0.8zM303.9 153.1h0.8v0.8h-0.8zM306.0 133.3h0.8v0.8h-0.8zM307.8 117.1h0.8v0.8h-0.8zM297.8 117.3h0.8v0.8h-0.8zM315.1 130.2h0.8v0.8h-0.8zM306.6 151.3h0.8v0.8h-0.8zM299.3 136.0h0.8v0.8h-0.8zM291.3 113.6h0.8v0.8h-0.8zM304.3 131.9h0.8v0.8h-0.8zM296.4 115.1h0.8v0.8h-0.8zM300.1 123.9h0.8v0.8h-0.8zM317.8 155.1h0.8v0.8h-0.8zM317.6 141.6h0.8v0.8h-0.8zM296.4 152.4h0.8v0.8h-0.8zM301.7 156.5h0.8v0.8h-0.8zM304.7 134.1h0.8v0.8h-0.8zM284.4 137.3h0.8v0.8h-0.8zM309.3 132.5h0.8v0.8h-0.8zM317.3 139.6h0.8v0.8h-0.8zM294.2 144.9h0.8v0.8h-0.8zM309.3 149.0h0.8v0.8h-0.8zM291.2 112.6h0.8v0.8h-0.8zM300.4 132.7h0.8v0.8h-0.8zM286.7 154.7h0.8v0.8h-0.8zM302.7 155.1h0.8v0.8h-0.8zM314.7 151.7h0.8v0.8h-0.8zM307.7 111.6h0.8v0.8h-0.8zM313.7 145.5h0.8v0.8h-0.8zM291.4 126.3h0.8v0.8h-0.8zM307.2 115.6h0.8v0.8h-0.8zM302.5 129.3h0.8v0.8h-0.8zM316.6 155.0h0.8v0.8h-0.8zM295.5 122.3h0.8v0.8h-0.8zM306.0 150.6h0.8v0.8h-0.8zM294.9 155.3h0.8v0.8h-0.8zM305.0 141.3h0.8v0.8h-0.8z"/><path fill="#4a78b0" d="M305.5 148.0h0.8v0.8h-0.8zM287.0 144.9h0.8v0.8h-0.8zM307.8 127.5h0.8v0.8h-0.8zM296.0 145.8h0.8v0.8h-0.8zM287.5 133.8h0.8v0.8h-0.8zM307.0 136.3h0.8v0.8h-0.8zM314.9 113.5h0.8v0.8h-0.8zM296.9 113.5h0.8v0.8h-0.8zM300.8 114.1h0.8v0.8h-0.8zM294.3 122.9h0.8v0.8h-0.8zM288.5 119.9h0.8v0.8h-0.8zM310.5 116.7h0.8v0.8h-0.8zM288.7 123.6h0.8v0.8h-0.8zM300.0 153.5h0.8v0.8h-0.8zM291.3 152.1h0.8v0.8h-0.8zM307.2 145.1h0.8v0.8h-0.8zM288.0 145.9h0.8v0.8h-0.8zM311.4 112.8h0.8v0.8h-0.8zM306.9 148.2h0.8v0.8h-0.8zM315.6 151.4h0.8v0.8h-0.8zM309.2 118.1h0.8v0.8h-0.8zM301.5 152.5h0.8v0.8h-0.8zM293.1 115.7h0.8v0.8h-0.8zM317.5 120.4h0.8v0.8h-0.8zM311.5 144.6h0.8v0.8h-0.8zM288.0 112.2h0.8v0.8h-0.8zM311.2 121.3h0.8v0.8h-0.8zM310.7 124.1h0.8v0.8h-0.8zM315.1 153.0h0.8v0.8h-0.8zM303.7 151.2h0.8v0.8h-0.8zM305.3 133.2h0.8v0.8h-0.8zM288.1 122.5h0.8v0.8h-0.8zM298.6 115.2h0.8v0.8h-0.8zM300.2 126.3h0.8v0.8h-0.8zM317.7 137.8h0.8v0.8h-0.8zM299.6 150.4h0.8v0.8h-0.8zM302.5 143.4h0.8v0.8h-0.8zM299.9 136.7h0.8v0.8h-0.8zM301.4 114.0h0.8v0.8h-0.8zM307.1 137.4h0.8v0.8h-0.8zM305.2 123.4h0.8v0.8h-0.8zM292.1 120.6h0.8v0.8h-0.8zM301.4 122.2h0.8v0.8h-0.8zM298.7 127.6h0.8v0.8h-0.8zM301.8 144.0h0.8v0.8h-0.8zM317.9 118.2h0.8v0.8h-0.8zM295.6 154.6h0.8v0.8h-0.8zM306.5 133.3h0.8v0.8h-0.8zM307.8 155.7h0.8v0.8h-0.8zM301.1 149.3h0.8v0.8h-0.8zM309.3 111.7h0.8v0.8h-0.8zM301.8 119.2h0.8v0.8h-0.8zM302.1 122.9h0.8v0.8h-0.8zM301.8 116.6h0.8v0.8h-0.8zM287.6 121.3h0.8v0.8h-0.8zM311.6 149.9h0.8v0.8h-0.8zM298.4 155.1h0.8v0.8h-0.8zM297.8 118.9h0.8v0.8h-0.8zM296.9 137.9h0.8v0.8h-0.8zM319.6 121.1h0.8v0.8h-0.8zM289.7 129.6h0.8v0.8h-0.8zM297.0 120.7h0.8v0.8h-0.8zM303.8 156.0h0.8v0.8h-0.8zM294.3 114.2h0.8v0.8h-0.8zM304.9 138.8h0.8v0.8h-0.8zM307.3 116.3h0.8v0.8h-0.8zM317.7 123.4h0.8v0.8h-0.8zM299.7 112.4h0.8v0.8h-0.8zM304.6 138.0h0.8v0.8h-0.8zM319.3 146.1h0.8v0.8h-0.8zM297.6 120.7h0.8v0.8h-0.8zM301.8 120.3h0.8v0.8h-0.8zM303.5 144.5h0.8v0.8h-0.8zM286.3 156.1h0.8v0.8h-0.8zM308.3 132.3h0.8v0.8h-0.8zM291.9 140.1h0.8v0.8h-0.8zM296.3 118.0h0.8v0.8h-0.8zM305.8 126.1h0.8v0.8h-0.8zM303.7 133.3h0.8v0.8h-0.8zM306.2 141.0h0.8v0.8h-0.8zM300.3 154.0h0.8v0.8h-0.8zM307.5 138.1h0.8v0.8h-0.8zM287.8 131.0h0.8v0.8h-0.8zM308.4 116.5h0.8v0.8h-0.8zM283.8 116.0h0.8v0.8h-0.8zM310.4 151.7h0.8v0.8h-0.8zM306.1 143.1h0.8v0.8h-0.8zM317.5 116.3h0.8v0.8h-0.8zM306.6 114.9h0.8v0.8h-0.8zM307.7 128.4h0.8v0.8h-0.8zM300.4 133.1h0.8v0.8h-0.8zM316.2 148.7h0.8v0.8h-0.8zM298.2 123.8h0.8v0.8h-0.8zM291.3 123.7h0.8v0.8h-0.8zM316.9 156.4h0.8v0.8h-0.8zM293.7 144.9h0.8v0.8h-0.8zM285.6 132.1h0.8v0.8h-0.8zM300.1 128.9h0.8v0.8h-0.8zM301.0 133.6h0.8v0.8h-0.8zM291.0 118.1h0.8v0.8h-0.8z"/></g>
<g fill-opacity="0.85"><path fill="#4a90b0" d="M301.0 131.0h0.8v0.8h-0.8zM302.6 145.3h0.8v0.8h-0.8zM301.2 137.1h0.8v0.8h-0.8zM300.9 140.0h0.8v0.8h-0.8zM303.8 143.6h0.8v0.8h-0.8zM300.6 132.6h0.8v0.8h-0.8zM306.4 139.2h0.8v0.8h-0.8zM304.0 152.8h0.8v0.8h-0.8zM298.8 131.6h0.8v0.8h-0.8zM301.6 147.8h0.8v0.8h-0.8zM298.1 135.0h0.8v0.8h-0.8zM299.1 137.6h0.8v0.8h-0.8zM298.8 155.5h0.8v0.8h-0.8zM305.2 136.0h0.8v0.8h-0.8zM299.8 145.0h0.8v0.8h-0.8zM297.3 136.9h0.8v0.8h-0.8zM300.2 139.9h0.8v0.8h-0.8zM304.6 151.4h0.8v0.8h-0.8zM303.4 127.1h0.8v0.8h-0.8zM304.0 128.8h0.8v0.8h-0.8zM304.4 138.2h0.8v0.8h-0.8zM302.3 146.5h0.8v0.8h-0.8zM300.7 132.8h0.8v0.8h-0.8zM302.9 131.9h0.8v0.8h-0.8zM303.0 133.8h0.8v0.8h-0.8zM302.5 135.5h0.8v0.8h-0.8zM303.8 131.7h0.8v0.8h-0.8zM304.8 150.8h0.8v0.8h-0.8zM300.0 147.1h0.8v0.8h-0.8zM299.0 147.9h0.8v0.8h-0.8zM299.1 131.1h0.8v0.8h-0.8zM301.0 140.1h0.8v0.8h-0.8zM301.7 137.8h0.8v0.8h-0.8zM301.8 134.1h0.8v0.8h-0.8zM301.0 139.4h0.8v0.8h-0.8zM303.3 136.1h0.8v0.8h-0.8zM303.7 142.8h0.8v0.8h-0.8zM305.2 140.5h0.8v0.8h-0.8zM301.1 134.4h0.8v0.8h-0.8zM303.8 144.2h0.8v0.8h-0.8z"/><path fill="#3e7fa8" d="M303.3 136.3h0.8v0.8h-0.8zM302.4 141.8h0.8v0.8h-0.8zM298.4 140.9h0.8v0.8h-0.8zM300.6 141.1h0.8v0.8h-0.8zM300.5 153.7h0.8v0.8h-0.8zM303.5 142.8h0.8v0.8h-0.8zM301.1 129.0h0.8v0.8h-0.8zM306.5 147.9h0.8v0.8h-0.8zM300.5 148.4h0.8v0.8h-0.8zM301.0 129.8h0.8v0.8h-0.8zM301.1 141.9h0.8v0.8h-0.8zM304.1 143.2h0.8v0.8h-0.8zM300.3 134.2h0.8v0.8h-0.8zM302.5 143.7h0.8v0.8h-0.8zM304.4 130.8h0.8v0.8h-0.8zM303.0 136.4h0.8v0.8h-0.8zM301.9 143.7h0.8v0.8h-0.8zM299.5 142.9h0.8v0.8h-0.8zM300.4 131.5h0.8v0.8h-0.8zM302.4 134.8h0.8v0.8h-0.8zM304.5 155.1h0.8v0.8h-0.8zM299.7 146.3h0.8v0.8h-0.8zM302.1 134.1h0.8v0.8h-0.8zM302.3 138.5h0.8v0.8h-0.8zM300.5 138.5h0.8v0.8h-0.8zM304.8 139.0h0.8v0.8h-0.8zM304.9 130.4h0.8v0.8h-0.8zM300.1 131.4h0.8v0.8h-0.8zM299.5 133.6h0.8v0.8h-0.8zM305.5 148.3h0.8v0.8h-0.8zM299.5 133.4h0.8v0.8h-0.8zM300.0 146.4h0.8v0.8h-0.8zM297.3 141.6h0.8v0.8h-0.8zM302.4 150.2h0.8v0.8h-0.8zM299.8 144.9h0.8v0.8h-0.8zM301.0 149.4h0.8v0.8h-0.8zM301.8 142.4h0.8v0.8h-0.8zM302.4 131.4h0.8v0.8h-0.8zM304.2 133.7h0.8v0.8h-0.8zM300.8 141.4h0.8v0.8h-0.8zM301.5 142.8h0.8v0.8h-0.8zM303.7 152.9h0.8v0.8h-0.8zM304.0 134.3h0.8v0.8h-0.8zM304.0 155.3h0.8v0.8h-0.8zM299.1 135.7h0.8v0.8h-0.8zM301.9 143.6h0.8v0.8h-0.8z"/><path fill="#3a88a8" d="M304.2 129.5h0.8v0.8h-0.8zM299.5 140.0h0.8v0.8h-0.8zM303.8 127.5h0.8v0.8h-0.8zM301.2 149.1h0.8v0.8h-0.8zM303.1 143.5h0.8v0.8h-0.8zM305.8 135.2h0.8v0.8h-0.8zM302.6 153.3h0.8v0.8h-0.8zM294.1 139.6h0.8v0.8h-0.8zM302.7 150.3h0.8v0.8h-0.8zM298.9 140.8h0.8v0.8h-0.8zM303.4 142.3h0.8v0.8h-0.8zM303.1 139.6h0.8v0.8h-0.8zM302.3 131.5h0.8v0.8h-0.8zM297.6 149.1h0.8v0.8h-0.8zM303.0 136.9h0.8v0.8h-0.8zM296.6 142.5h0.8v0.8h-0.8zM301.0 137.0h0.8v0.8h-0.8zM308.4 138.5h0.8v0.8h-0.8zM305.6 134.4h0.8v0.8h-0.8zM303.1 129.3h0.8v0.8h-0.8zM299.8 137.2h0.8v0.8h-0.8zM303.7 136.7h0.8v0.8h-0.8zM299.3 144.2h0.8v0.8h-0.8zM302.9 140.3h0.8v0.8h-0.8zM302.6 141.6h0.8v0.8h-0.8zM299.5 135.0h0.8v0.8h-0.8zM301.3 157.0h0.8v0.8h-0.8zM303.5 137.4h0.8v0.8h-0.8zM299.4 141.6h0.8v0.8h-0.8zM302.1 131.1h0.8v0.8h-0.8zM299.6 137.6h0.8v0.8h-0.8zM298.5 154.0h0.8v0.8h-0.8zM297.7 134.1h0.8v0.8h-0.8zM303.6 145.9h0.8v0.8h-0.8zM305.3 137.8h0.8v0.8h-0.8zM301.8 141.7h0.8v0.8h-0.8zM303.6 151.0h0.8v0.8h-0.8zM300.6 141.0h0.8v0.8h-0.8zM301.4 141.2h0.8v0.8h-0.8z"/><path fill="#2f8a9a" d="M307.0 139.5h0.8v0.8h-0.8zM301.3 143.4h0.8v0.8h-0.8zM298.9 140.3h0.8v0.8h-0.8zM302.2 137.4h0.8v0.8h-0.8zM300.4 137.3h0.8v0.8h-0.8zM300.0 133.3h0.8v0.8h-0.8zM302.8 130.4h0.8v0.8h-0.8zM300.6 139.6h0.8v0.8h-0.8zM299.5 142.9h0.8v0.8h-0.8zM301.0 151.3h0.8v0.8h-0.8zM298.9 142.4h0.8v0.8h-0.8zM300.0 142.8h0.8v0.8h-0.8zM302.4 141.2h0.8v0.8h-0.8zM298.9 144.4h0.8v0.8h-0.8zM307.0 134.1h0.8v0.8h-0.8zM302.5 140.3h0.8v0.8h-0.8zM306.6 144.9h0.8v0.8h-0.8zM304.2 139.0h0.8v0.8h-0.8zM307.1 141.3h0.8v0.8h-0.8zM301.2 134.9h0.8v0.8h-0.8zM299.8 125.8h0.8v0.8h-0.8zM303.3 136.8h0.8v0.8h-0.8zM302.0 139.9h0.8v0.8h-0.8zM303.4 143.9h0.8v0.8h-0.8zM304.1 136.6h0.8v0.8h-0.8zM299.8 141.8h0.8v0.8h-0.8zM303.3 133.7h0.8v0.8h-0.8zM299.5 148.6h0.8v0.8h-0.8zM301.8 133.2h0.8v0.8h-0.8z"/></g>
<g filter="url(#bl05)"><ellipse cx="301.50" cy="122.80" rx="12" ry="6.0" fill="#7a9ad0" fill-opacity="0.8"/><ellipse cx="301.50" cy="122.80" rx="8.2" ry="5.0" fill="#3a80b4" fill-opacity="1"/><ellipse cx="301.50" cy="122.80" rx="6.4" ry="4.0" fill="#2a96a0" fill-opacity="1"/><ellipse cx="301.50" cy="122.80" rx="4.8" ry="3.0" fill="#3aa870" fill-opacity="1"/><ellipse cx="301.10" cy="123.80" rx="3.2" ry="2.1" fill="#80b840" fill-opacity="1"/><ellipse cx="301.10" cy="124.20" rx="1.7" ry="1.2" fill="#d0b428" fill-opacity="1"/></g>
<g filter="url(#bl1)"><ellipse cx="329.00" cy="131.00" rx="7.2" ry="5.2" fill="#7aa0c8" fill-opacity="0.85"/><ellipse cx="329.00" cy="131.00" rx="5.8" ry="4.0" fill="#3a8aac" fill-opacity="1"/><ellipse cx="329.00" cy="131.00" rx="4.0" ry="2.8" fill="#35a090" fill-opacity="1"/><ellipse cx="329.00" cy="131.00" rx="2.2" ry="1.6" fill="#48ac70" fill-opacity="1"/></g>
<g fill-opacity="0.85"><path fill="#5a90c0" d="M329.3 125.4h0.8v0.8h-0.8zM334.0 136.5h0.8v0.8h-0.8zM327.6 127.1h0.8v0.8h-0.8zM331.5 130.5h0.8v0.8h-0.8zM325.7 130.8h0.8v0.8h-0.8zM332.7 125.3h0.8v0.8h-0.8zM320.3 131.9h0.8v0.8h-0.8zM331.1 124.8h0.8v0.8h-0.8zM327.3 132.8h0.8v0.8h-0.8zM332.3 129.0h0.8v0.8h-0.8zM331.6 122.9h0.8v0.8h-0.8zM323.3 130.2h0.8v0.8h-0.8zM321.4 120.8h0.8v0.8h-0.8zM321.9 127.6h0.8v0.8h-0.8zM330.0 138.5h0.8v0.8h-0.8zM334.1 134.6h0.8v0.8h-0.8zM330.6 129.3h0.8v0.8h-0.8zM325.0 128.0h0.8v0.8h-0.8zM323.6 145.2h0.8v0.8h-0.8zM327.5 134.3h0.8v0.8h-0.8zM327.8 129.3h0.8v0.8h-0.8zM333.4 127.1h0.8v0.8h-0.8zM327.4 132.5h0.8v0.8h-0.8zM330.9 129.6h0.8v0.8h-0.8z"/><path fill="#3a8aac" d="M321.6 130.3h0.8v0.8h-0.8zM328.4 133.5h0.8v0.8h-0.8zM322.3 130.2h0.8v0.8h-0.8zM332.4 128.3h0.8v0.8h-0.8zM328.3 127.5h0.8v0.8h-0.8zM331.8 128.4h0.8v0.8h-0.8zM335.2 124.3h0.8v0.8h-0.8zM329.9 127.7h0.8v0.8h-0.8zM324.2 127.4h0.8v0.8h-0.8zM334.2 129.2h0.8v0.8h-0.8zM333.0 125.5h0.8v0.8h-0.8zM322.1 130.3h0.8v0.8h-0.8zM330.2 134.9h0.8v0.8h-0.8zM327.4 134.9h0.8v0.8h-0.8zM327.6 128.9h0.8v0.8h-0.8zM327.8 126.5h0.8v0.8h-0.8zM330.3 127.9h0.8v0.8h-0.8zM328.8 124.3h0.8v0.8h-0.8zM328.4 129.5h0.8v0.8h-0.8zM326.1 129.8h0.8v0.8h-0.8zM330.4 129.8h0.8v0.8h-0.8zM328.7 125.4h0.8v0.8h-0.8zM335.2 126.3h0.8v0.8h-0.8zM334.9 141.7h0.8v0.8h-0.8zM327.8 133.8h0.8v0.8h-0.8zM324.5 126.9h0.8v0.8h-0.8z"/></g>
</g>
<line x1="283.5" y1="122.3" x2="337.0" y2="122.3" stroke="#a5223f" stroke-width="0.95"/>
<line x1="320.6" y1="107.3" x2="320.6" y2="157.5" stroke="#a5223f" stroke-width="0.95"/>
<text x="281.0" y="114.3" font-size="5.5" fill="#333" text-anchor="end">10<tspan font-size="3.8" dy="-2.30">5</tspan></text>
<text x="281.0" y="125.8" font-size="5.5" fill="#333" text-anchor="end">10<tspan font-size="3.8" dy="-2.30">4</tspan></text>
<text x="281.0" y="137.6" font-size="5.5" fill="#333" text-anchor="end">10<tspan font-size="3.8" dy="-2.30">3</tspan></text>
<text x="281.0" y="149.4" font-size="5.5" fill="#333" text-anchor="end">10<tspan font-size="3.8" dy="-2.30">2</tspan></text>
<text x="281.0" y="155.1" font-size="5.5" fill="#333" text-anchor="end">0</text>
<text x="288.2" y="167.6" font-size="5.5" fill="#333" text-anchor="middle">0</text>
<text x="294.9" y="167.6" font-size="5.5" fill="#333" text-anchor="middle">10<tspan font-size="3.8" dy="-2.30">2</tspan></text>
<text x="307.7" y="167.6" font-size="5.5" fill="#333" text-anchor="middle">10<tspan font-size="3.8" dy="-2.30">3</tspan></text>
<text x="320.4" y="167.6" font-size="5.5" fill="#333" text-anchor="middle">10<tspan font-size="3.8" dy="-2.30">4</tspan></text>
<text x="332.6" y="167.6" font-size="5.5" fill="#333" text-anchor="middle">10<tspan font-size="3.8" dy="-2.30">5</tspan></text>
<line x1="282.2" y1="112.3" x2="283.8" y2="112.3" stroke="#666" stroke-width="0.55"/>
<line x1="282.2" y1="123.8" x2="283.8" y2="123.8" stroke="#666" stroke-width="0.55"/>
<line x1="282.2" y1="135.6" x2="283.8" y2="135.6" stroke="#666" stroke-width="0.55"/>
<line x1="282.2" y1="147.4" x2="283.8" y2="147.4" stroke="#666" stroke-width="0.55"/>
<line x1="282.2" y1="153.1" x2="283.8" y2="153.1" stroke="#666" stroke-width="0.55"/>
<line x1="288.2" y1="157.2" x2="288.2" y2="158.8" stroke="#666" stroke-width="0.55"/>
<line x1="294.9" y1="157.2" x2="294.9" y2="158.8" stroke="#666" stroke-width="0.55"/>
<line x1="307.7" y1="157.2" x2="307.7" y2="158.8" stroke="#666" stroke-width="0.55"/>
<line x1="320.4" y1="157.2" x2="320.4" y2="158.8" stroke="#666" stroke-width="0.55"/>
<line x1="332.6" y1="157.2" x2="332.6" y2="158.8" stroke="#666" stroke-width="0.55"/>
<text x="286.8" y="114.4" font-size="5.5" fill="#c0415e">16.5%</text>
<text x="320.8" y="155.8" font-size="5.5" fill="#c0415e">17.7%</text>
<text x="335.5" y="110.0" font-size="2.6" fill="#888" text-anchor="end">0.5%</text>
<text x="268.5" y="140.6" font-size="5.8" fill="#333" text-anchor="middle" transform="rotate(-90 268.5 140.6)">c-kit-APC</text>
<line x1="265.5" y1="174.9" x2="265.5" y2="159.39999999999998" stroke="#111" stroke-width="0.8"/>
<path d="M265.5,157.2 L264.1,160.0 L266.9,160.0 Z" fill="#111" stroke="none" stroke-width="0.8"/>
<line x1="265.1" y1="174.9" x2="278.40000000000003" y2="174.9" stroke="#111" stroke-width="0.8"/>
<path d="M280.6,174.9 L277.8,173.5 L277.8,176.3 Z" fill="#111" stroke="none" stroke-width="0.8"/>
<text x="285.0" y="177.4" font-size="5.8" fill="#333">CD25-PE</text>
<text x="347.0" y="9.6" font-size="10.6" fill="#111" font-weight="bold">C</text>
<text x="396.0" y="26.2" font-size="8.2" fill="#2a2a2a" text-anchor="middle" stroke="#2a2a2a" stroke-width="0.26">BM</text>
<text x="367.8" y="37.2" font-size="8.2" fill="#2a2a2a" textLength="55.6" lengthAdjust="spacingAndGlyphs" stroke="#2a2a2a" stroke-width="0.26">Lin<tspan font-size="4.8" dy="-3.00">−</tspan><tspan dy="3.00">IgM</tspan><tspan font-size="4.8" dy="-3.00">−</tspan><tspan dy="3.00">gated</tspan></text>
<rect x="369.9" y="41.7" width="51.10000000000002" height="51.099999999999994" fill="none" stroke="#d5d5d5" stroke-width="0.55"/>
<g clip-path="url(#c3)">
<g fill-opacity="0.85"><path fill="#6a7ab8" d="M378.4 80.0h0.8v0.8h-0.8zM383.1 85.5h0.8v0.8h-0.8zM382.0 80.6h0.8v0.8h-0.8zM378.0 79.2h0.8v0.8h-0.8zM380.4 79.5h0.8v0.8h-0.8zM380.8 78.6h0.8v0.8h-0.8zM379.6 80.2h0.8v0.8h-0.8zM386.7 77.8h0.8v0.8h-0.8zM381.3 76.6h0.8v0.8h-0.8zM380.1 80.1h0.8v0.8h-0.8zM380.4 79.7h0.8v0.8h-0.8zM385.7 82.2h0.8v0.8h-0.8zM381.4 80.8h0.8v0.8h-0.8zM381.0 80.1h0.8v0.8h-0.8zM383.1 80.5h0.8v0.8h-0.8zM381.6 81.1h0.8v0.8h-0.8zM392.5 77.5h0.8v0.8h-0.8zM380.8 80.9h0.8v0.8h-0.8zM377.6 78.0h0.8v0.8h-0.8z"/><path fill="#8a8ac8" d="M380.7 81.0h0.8v0.8h-0.8zM383.3 78.4h0.8v0.8h-0.8zM378.1 79.1h0.8v0.8h-0.8zM378.2 79.4h0.8v0.8h-0.8zM381.5 82.4h0.8v0.8h-0.8zM373.7 83.9h0.8v0.8h-0.8zM387.3 81.7h0.8v0.8h-0.8zM380.5 82.5h0.8v0.8h-0.8zM378.0 80.8h0.8v0.8h-0.8zM378.9 81.1h0.8v0.8h-0.8zM378.5 80.4h0.8v0.8h-0.8zM383.7 80.9h0.8v0.8h-0.8zM380.8 80.7h0.8v0.8h-0.8zM384.1 78.4h0.8v0.8h-0.8zM377.7 78.6h0.8v0.8h-0.8zM381.0 77.0h0.8v0.8h-0.8zM384.1 78.0h0.8v0.8h-0.8zM379.2 85.0h0.8v0.8h-0.8zM385.1 80.9h0.8v0.8h-0.8zM375.7 80.2h0.8v0.8h-0.8zM376.8 78.7h0.8v0.8h-0.8zM382.5 82.3h0.8v0.8h-0.8zM379.5 81.9h0.8v0.8h-0.8zM384.7 77.8h0.8v0.8h-0.8zM383.8 79.0h0.8v0.8h-0.8zM381.7 78.6h0.8v0.8h-0.8zM378.3 77.7h0.8v0.8h-0.8zM381.8 79.4h0.8v0.8h-0.8zM375.4 79.8h0.8v0.8h-0.8z"/><path fill="#7d8fc9" d="M382.8 78.4h0.8v0.8h-0.8zM384.3 82.4h0.8v0.8h-0.8zM382.4 84.3h0.8v0.8h-0.8zM382.1 82.4h0.8v0.8h-0.8zM383.9 78.8h0.8v0.8h-0.8zM382.5 81.9h0.8v0.8h-0.8zM381.5 81.9h0.8v0.8h-0.8zM386.2 84.1h0.8v0.8h-0.8zM382.1 81.5h0.8v0.8h-0.8zM381.9 81.4h0.8v0.8h-0.8zM382.0 78.8h0.8v0.8h-0.8zM377.6 82.2h0.8v0.8h-0.8zM384.0 82.7h0.8v0.8h-0.8zM381.6 77.5h0.8v0.8h-0.8zM381.6 78.2h0.8v0.8h-0.8zM383.0 81.0h0.8v0.8h-0.8zM379.4 79.0h0.8v0.8h-0.8zM376.7 77.3h0.8v0.8h-0.8zM380.9 79.6h0.8v0.8h-0.8zM384.6 78.9h0.8v0.8h-0.8z"/><path fill="#a0a8d8" d="M379.5 79.1h0.8v0.8h-0.8zM381.1 78.8h0.8v0.8h-0.8zM377.4 80.9h0.8v0.8h-0.8zM383.5 82.5h0.8v0.8h-0.8zM379.9 78.4h0.8v0.8h-0.8zM378.3 81.0h0.8v0.8h-0.8zM379.2 78.5h0.8v0.8h-0.8zM383.1 79.5h0.8v0.8h-0.8zM382.3 79.7h0.8v0.8h-0.8zM385.3 79.1h0.8v0.8h-0.8zM385.5 78.9h0.8v0.8h-0.8zM379.9 80.2h0.8v0.8h-0.8z"/></g>
<g fill-opacity="0.85"><path fill="#b8d0e0" d="M386.4 59.7h0.8v0.8h-0.8zM390.3 55.1h0.8v0.8h-0.8zM390.8 56.4h0.8v0.8h-0.8zM389.4 58.5h0.8v0.8h-0.8zM386.0 55.2h0.8v0.8h-0.8zM383.2 55.2h0.8v0.8h-0.8z"/><path fill="#a7c8da" d="M380.4 58.6h0.8v0.8h-0.8zM386.9 57.1h0.8v0.8h-0.8zM390.5 60.6h0.8v0.8h-0.8zM384.6 56.5h0.8v0.8h-0.8zM386.6 58.5h0.8v0.8h-0.8zM387.7 51.5h0.8v0.8h-0.8zM390.3 58.5h0.8v0.8h-0.8zM388.4 55.7h0.8v0.8h-0.8zM384.1 60.2h0.8v0.8h-0.8z"/></g>
<g fill-opacity="0.85"><path fill="#3a9ab0" d="M404.5 69.9h0.8v0.8h-0.8zM406.1 63.8h0.8v0.8h-0.8zM406.6 71.0h0.8v0.8h-0.8zM405.1 78.9h0.8v0.8h-0.8zM406.7 68.3h0.8v0.8h-0.8zM402.2 66.9h0.8v0.8h-0.8zM405.9 79.1h0.8v0.8h-0.8zM404.2 67.5h0.8v0.8h-0.8zM406.9 82.1h0.8v0.8h-0.8zM404.6 66.3h0.8v0.8h-0.8zM405.6 65.6h0.8v0.8h-0.8zM408.3 69.2h0.8v0.8h-0.8zM405.2 71.3h0.8v0.8h-0.8zM406.7 74.9h0.8v0.8h-0.8zM405.3 69.3h0.8v0.8h-0.8zM404.3 72.0h0.8v0.8h-0.8zM405.8 72.0h0.8v0.8h-0.8zM406.0 71.0h0.8v0.8h-0.8zM403.3 65.6h0.8v0.8h-0.8z"/><path fill="#7d97c9" d="M405.6 72.2h0.8v0.8h-0.8zM407.7 72.3h0.8v0.8h-0.8zM405.0 70.6h0.8v0.8h-0.8zM405.0 68.1h0.8v0.8h-0.8zM407.6 68.2h0.8v0.8h-0.8zM405.4 60.5h0.8v0.8h-0.8zM404.5 62.0h0.8v0.8h-0.8zM404.2 68.8h0.8v0.8h-0.8zM402.7 83.0h0.8v0.8h-0.8zM404.6 70.0h0.8v0.8h-0.8zM404.0 72.0h0.8v0.8h-0.8zM405.9 70.6h0.8v0.8h-0.8zM405.4 66.8h0.8v0.8h-0.8zM406.2 71.0h0.8v0.8h-0.8zM403.3 67.7h0.8v0.8h-0.8zM404.4 73.6h0.8v0.8h-0.8zM406.2 75.4h0.8v0.8h-0.8zM405.0 74.1h0.8v0.8h-0.8z"/><path fill="#5a9abf" d="M407.4 73.2h0.8v0.8h-0.8zM404.9 70.1h0.8v0.8h-0.8zM406.0 75.9h0.8v0.8h-0.8zM405.3 76.4h0.8v0.8h-0.8zM403.5 73.3h0.8v0.8h-0.8zM403.2 69.7h0.8v0.8h-0.8zM404.5 65.3h0.8v0.8h-0.8zM407.0 72.9h0.8v0.8h-0.8zM404.8 68.0h0.8v0.8h-0.8zM404.5 67.0h0.8v0.8h-0.8zM403.7 62.3h0.8v0.8h-0.8zM405.2 77.9h0.8v0.8h-0.8zM405.4 73.9h0.8v0.8h-0.8zM404.6 75.4h0.8v0.8h-0.8zM406.8 72.2h0.8v0.8h-0.8zM406.3 64.9h0.8v0.8h-0.8zM403.2 61.3h0.8v0.8h-0.8zM405.1 64.6h0.8v0.8h-0.8zM405.1 77.7h0.8v0.8h-0.8z"/><path fill="#6f8fc6" d="M406.4 69.7h0.8v0.8h-0.8zM408.2 71.8h0.8v0.8h-0.8zM406.2 73.1h0.8v0.8h-0.8zM406.6 68.8h0.8v0.8h-0.8zM405.3 68.1h0.8v0.8h-0.8zM408.6 67.0h0.8v0.8h-0.8zM403.2 67.1h0.8v0.8h-0.8zM405.3 70.3h0.8v0.8h-0.8zM403.6 71.0h0.8v0.8h-0.8zM404.2 70.3h0.8v0.8h-0.8zM403.8 69.9h0.8v0.8h-0.8zM404.4 68.7h0.8v0.8h-0.8zM408.3 74.6h0.8v0.8h-0.8zM404.4 71.3h0.8v0.8h-0.8z"/></g>
<g fill-opacity="0.85"><path fill="#8aa6d8" d="M406.2 59.6h0.8v0.8h-0.8zM409.0 57.9h0.8v0.8h-0.8zM407.0 57.3h0.8v0.8h-0.8zM411.1 56.1h0.8v0.8h-0.8zM406.4 58.3h0.8v0.8h-0.8zM408.9 55.4h0.8v0.8h-0.8zM411.7 59.4h0.8v0.8h-0.8zM409.2 59.7h0.8v0.8h-0.8zM406.1 56.2h0.8v0.8h-0.8zM405.1 56.6h0.8v0.8h-0.8zM408.1 57.7h0.8v0.8h-0.8zM407.9 54.0h0.8v0.8h-0.8z"/><path fill="#6f8fd0" d="M407.6 59.9h0.8v0.8h-0.8zM408.9 54.7h0.8v0.8h-0.8zM409.3 55.6h0.8v0.8h-0.8zM404.1 54.9h0.8v0.8h-0.8zM405.2 59.3h0.8v0.8h-0.8zM412.0 60.7h0.8v0.8h-0.8zM406.1 55.7h0.8v0.8h-0.8zM414.1 57.9h0.8v0.8h-0.8zM408.5 56.3h0.8v0.8h-0.8zM407.9 55.6h0.8v0.8h-0.8zM407.8 56.2h0.8v0.8h-0.8zM406.5 55.4h0.8v0.8h-0.8zM409.6 57.9h0.8v0.8h-0.8zM410.5 55.8h0.8v0.8h-0.8z"/><path fill="#5a7ac0" d="M408.2 54.7h0.8v0.8h-0.8zM407.9 55.6h0.8v0.8h-0.8zM408.4 57.4h0.8v0.8h-0.8zM404.5 55.6h0.8v0.8h-0.8zM408.4 58.9h0.8v0.8h-0.8zM408.7 54.4h0.8v0.8h-0.8zM405.9 55.9h0.8v0.8h-0.8zM410.5 54.4h0.8v0.8h-0.8zM408.4 54.5h0.8v0.8h-0.8zM408.7 54.4h0.8v0.8h-0.8zM410.2 56.0h0.8v0.8h-0.8zM411.7 58.0h0.8v0.8h-0.8zM408.3 59.4h0.8v0.8h-0.8zM408.0 56.0h0.8v0.8h-0.8z"/></g>
<g filter="url(#bl05)"><ellipse cx="405.60" cy="60.20" rx="3.8" ry="7.2" fill="#3a5aa8" fill-opacity="1"/><ellipse cx="405.60" cy="60.20" rx="3.0" ry="6.0" fill="#2a7aa8" fill-opacity="1"/><ellipse cx="405.60" cy="60.20" rx="2.2" ry="4.6" fill="#2a9a90" fill-opacity="1"/><ellipse cx="405.30" cy="61.00" rx="1.6" ry="3.4" fill="#60b048" fill-opacity="1"/><ellipse cx="405.20" cy="61.60" rx="1.0" ry="2.4" fill="#e0d020" fill-opacity="1"/></g>
</g>
<rect x="371.0" y="49.5" width="23.399999999999977" height="15.200000000000003" fill="none" stroke="#a5223f" stroke-width="0.9"/>
<rect x="401.7" y="50.3" width="13.900000000000034" height="14.400000000000006" fill="none" stroke="#a5223f" stroke-width="0.9"/>
<text x="366.2" y="48.6" font-size="5.5" fill="#333" text-anchor="end">10<tspan font-size="3.8" dy="-2.30">5</tspan></text>
<text x="366.2" y="61.0" font-size="5.5" fill="#333" text-anchor="end">10<tspan font-size="3.8" dy="-2.30">4</tspan></text>
<text x="366.2" y="74.4" font-size="5.5" fill="#333" text-anchor="end">10<tspan font-size="3.8" dy="-2.30">3</tspan></text>
<text x="366.2" y="83.4" font-size="5.5" fill="#333" text-anchor="end">0</text>
<text x="366.2" y="91.8" font-size="5.5" fill="#333" text-anchor="end">−10<tspan font-size="3.8" dy="-2.30">3</tspan></text>
<text x="373.4" y="101.9" font-size="5.5" fill="#333" text-anchor="middle">−10<tspan font-size="3.8" dy="-2.30">3</tspan></text>
<text x="382.2" y="101.9" font-size="5.5" fill="#333" text-anchor="middle">0</text>
<text x="389.9" y="101.9" font-size="5.5" fill="#333" text-anchor="middle">10<tspan font-size="3.8" dy="-2.30">3</tspan></text>
<text x="404.0" y="101.9" font-size="5.5" fill="#333" text-anchor="middle">10<tspan font-size="3.8" dy="-2.30">4</tspan></text>
<text x="416.5" y="101.9" font-size="5.5" fill="#333" text-anchor="middle">10<tspan font-size="3.8" dy="-2.30">5</tspan></text>
<line x1="368.59999999999997" y1="46.6" x2="370.2" y2="46.6" stroke="#666" stroke-width="0.55"/>
<line x1="368.59999999999997" y1="59.0" x2="370.2" y2="59.0" stroke="#666" stroke-width="0.55"/>
<line x1="368.59999999999997" y1="72.4" x2="370.2" y2="72.4" stroke="#666" stroke-width="0.55"/>
<line x1="368.59999999999997" y1="81.4" x2="370.2" y2="81.4" stroke="#666" stroke-width="0.55"/>
<line x1="368.59999999999997" y1="89.8" x2="370.2" y2="89.8" stroke="#666" stroke-width="0.55"/>
<line x1="373.4" y1="92.5" x2="373.4" y2="94.1" stroke="#666" stroke-width="0.55"/>
<line x1="382.2" y1="92.5" x2="382.2" y2="94.1" stroke="#666" stroke-width="0.55"/>
<line x1="389.9" y1="92.5" x2="389.9" y2="94.1" stroke="#666" stroke-width="0.55"/>
<line x1="404.0" y1="92.5" x2="404.0" y2="94.1" stroke="#666" stroke-width="0.55"/>
<line x1="416.5" y1="92.5" x2="416.5" y2="94.1" stroke="#666" stroke-width="0.55"/>
<circle cx="369.60" cy="81.40" r="0.75" fill="#111"/>
<circle cx="382.20" cy="92.80" r="0.7" fill="#111"/>
<text x="374.4" y="48.1" font-size="5.5" fill="#c0415e">0.5%</text>
<text x="402.8" y="48.1" font-size="5.5" fill="#c0415e">69.4%</text>
<text x="376.0" y="72.7" font-size="5.5" fill="#c0415e">B-1</text>
<text x="403.9" y="72.7" font-size="5.5" fill="#c0415e">proB</text>
<rect x="369.9" y="106.2" width="50.900000000000034" height="50.999999999999986" fill="none" stroke="#d5d5d5" stroke-width="0.55"/>
<g clip-path="url(#c4)">
<g fill-opacity="0.85"><path fill="#8b8cb8" d="M392.4 137.5h0.8v0.8h-0.8zM383.0 119.2h0.8v0.8h-0.8zM388.5 132.3h0.8v0.8h-0.8zM383.3 133.8h0.8v0.8h-0.8zM391.7 136.1h0.8v0.8h-0.8zM387.9 132.7h0.8v0.8h-0.8zM400.8 141.4h0.8v0.8h-0.8zM389.7 135.2h0.8v0.8h-0.8zM393.1 129.8h0.8v0.8h-0.8zM389.6 131.7h0.8v0.8h-0.8zM390.3 141.8h0.8v0.8h-0.8zM385.4 125.0h0.8v0.8h-0.8zM384.4 125.4h0.8v0.8h-0.8zM393.8 123.4h0.8v0.8h-0.8zM394.9 129.6h0.8v0.8h-0.8zM388.1 127.2h0.8v0.8h-0.8zM390.4 123.4h0.8v0.8h-0.8zM389.7 132.0h0.8v0.8h-0.8zM391.7 133.5h0.8v0.8h-0.8zM386.8 125.7h0.8v0.8h-0.8zM393.0 136.4h0.8v0.8h-0.8zM390.0 132.8h0.8v0.8h-0.8zM388.6 132.5h0.8v0.8h-0.8zM388.5 129.5h0.8v0.8h-0.8zM386.8 137.0h0.8v0.8h-0.8zM391.9 123.6h0.8v0.8h-0.8zM387.4 129.7h0.8v0.8h-0.8zM383.4 130.0h0.8v0.8h-0.8zM387.0 132.7h0.8v0.8h-0.8zM386.6 132.9h0.8v0.8h-0.8zM395.0 126.5h0.8v0.8h-0.8zM388.0 126.9h0.8v0.8h-0.8zM390.7 128.2h0.8v0.8h-0.8zM384.7 136.1h0.8v0.8h-0.8z"/><path fill="#a0a0c8" d="M387.7 132.4h0.8v0.8h-0.8zM386.7 141.0h0.8v0.8h-0.8zM389.1 131.0h0.8v0.8h-0.8zM389.7 134.0h0.8v0.8h-0.8zM387.1 130.8h0.8v0.8h-0.8zM388.9 134.4h0.8v0.8h-0.8zM394.9 123.9h0.8v0.8h-0.8zM385.3 126.9h0.8v0.8h-0.8zM389.4 129.1h0.8v0.8h-0.8zM388.8 129.1h0.8v0.8h-0.8zM385.9 133.1h0.8v0.8h-0.8zM383.7 124.6h0.8v0.8h-0.8zM389.0 139.0h0.8v0.8h-0.8zM388.3 135.1h0.8v0.8h-0.8zM388.1 128.9h0.8v0.8h-0.8zM381.9 137.5h0.8v0.8h-0.8zM389.3 127.0h0.8v0.8h-0.8zM384.6 132.4h0.8v0.8h-0.8zM386.5 133.1h0.8v0.8h-0.8zM391.0 130.2h0.8v0.8h-0.8zM393.8 134.2h0.8v0.8h-0.8zM391.3 129.9h0.8v0.8h-0.8zM384.9 131.3h0.8v0.8h-0.8zM398.5 129.1h0.8v0.8h-0.8zM389.1 134.6h0.8v0.8h-0.8zM390.3 136.2h0.8v0.8h-0.8zM392.9 126.1h0.8v0.8h-0.8zM385.3 130.3h0.8v0.8h-0.8zM389.0 136.1h0.8v0.8h-0.8zM386.8 126.0h0.8v0.8h-0.8zM387.7 125.0h0.8v0.8h-0.8zM387.3 131.0h0.8v0.8h-0.8zM391.2 132.5h0.8v0.8h-0.8z"/><path fill="#7478b0" d="M392.6 137.8h0.8v0.8h-0.8zM392.5 131.9h0.8v0.8h-0.8zM389.1 130.0h0.8v0.8h-0.8zM395.3 130.7h0.8v0.8h-0.8zM394.2 129.9h0.8v0.8h-0.8zM387.8 135.2h0.8v0.8h-0.8zM392.2 134.7h0.8v0.8h-0.8zM391.7 127.0h0.8v0.8h-0.8zM390.1 132.8h0.8v0.8h-0.8zM390.3 138.2h0.8v0.8h-0.8zM385.8 124.0h0.8v0.8h-0.8zM389.4 128.0h0.8v0.8h-0.8zM390.7 133.0h0.8v0.8h-0.8zM392.8 125.6h0.8v0.8h-0.8zM387.5 124.9h0.8v0.8h-0.8zM393.0 135.9h0.8v0.8h-0.8zM386.8 126.3h0.8v0.8h-0.8zM389.6 135.5h0.8v0.8h-0.8zM397.0 128.3h0.8v0.8h-0.8zM391.7 127.0h0.8v0.8h-0.8zM385.6 133.7h0.8v0.8h-0.8zM394.9 127.2h0.8v0.8h-0.8zM388.9 124.6h0.8v0.8h-0.8z"/><path fill="#9a9ac8" d="M392.0 133.2h0.8v0.8h-0.8zM386.5 136.0h0.8v0.8h-0.8zM390.4 129.6h0.8v0.8h-0.8zM385.6 130.1h0.8v0.8h-0.8zM387.4 125.0h0.8v0.8h-0.8zM390.5 130.6h0.8v0.8h-0.8zM392.8 136.1h0.8v0.8h-0.8zM380.3 125.6h0.8v0.8h-0.8zM389.1 131.4h0.8v0.8h-0.8zM387.0 135.8h0.8v0.8h-0.8zM387.5 132.8h0.8v0.8h-0.8zM389.9 135.5h0.8v0.8h-0.8zM386.6 129.3h0.8v0.8h-0.8zM393.1 127.1h0.8v0.8h-0.8zM390.4 130.2h0.8v0.8h-0.8zM384.7 128.6h0.8v0.8h-0.8zM384.8 127.6h0.8v0.8h-0.8zM387.8 135.6h0.8v0.8h-0.8zM393.2 132.9h0.8v0.8h-0.8zM396.8 126.8h0.8v0.8h-0.8z"/></g>
<g fill-opacity="0.85"><path fill="#a0a0c8" d="M381.5 143.9h0.8v0.8h-0.8zM381.8 146.0h0.8v0.8h-0.8zM380.3 141.8h0.8v0.8h-0.8zM379.8 146.6h0.8v0.8h-0.8zM381.8 146.4h0.8v0.8h-0.8zM379.6 147.3h0.8v0.8h-0.8zM384.0 148.7h0.8v0.8h-0.8zM385.0 147.2h0.8v0.8h-0.8zM380.3 145.0h0.8v0.8h-0.8zM386.8 146.1h0.8v0.8h-0.8zM378.2 144.7h0.8v0.8h-0.8zM380.3 145.8h0.8v0.8h-0.8zM380.4 146.0h0.8v0.8h-0.8zM382.3 141.6h0.8v0.8h-0.8zM382.6 144.6h0.8v0.8h-0.8zM382.8 144.7h0.8v0.8h-0.8zM384.1 143.0h0.8v0.8h-0.8zM379.8 144.5h0.8v0.8h-0.8zM383.0 141.6h0.8v0.8h-0.8zM387.0 145.0h0.8v0.8h-0.8zM382.2 148.9h0.8v0.8h-0.8zM381.8 146.2h0.8v0.8h-0.8zM380.3 143.9h0.8v0.8h-0.8zM383.7 147.4h0.8v0.8h-0.8zM382.2 148.9h0.8v0.8h-0.8z"/><path fill="#8a8ab8" d="M384.6 146.5h0.8v0.8h-0.8zM380.8 146.8h0.8v0.8h-0.8zM379.8 142.5h0.8v0.8h-0.8zM377.1 147.9h0.8v0.8h-0.8zM377.2 148.5h0.8v0.8h-0.8zM382.3 147.2h0.8v0.8h-0.8zM385.7 145.4h0.8v0.8h-0.8zM376.1 141.9h0.8v0.8h-0.8zM374.8 145.9h0.8v0.8h-0.8zM377.7 143.8h0.8v0.8h-0.8zM383.8 145.9h0.8v0.8h-0.8zM379.1 146.6h0.8v0.8h-0.8zM380.5 148.1h0.8v0.8h-0.8zM379.7 147.3h0.8v0.8h-0.8zM379.5 143.2h0.8v0.8h-0.8zM380.5 143.6h0.8v0.8h-0.8zM379.2 146.2h0.8v0.8h-0.8zM378.7 146.5h0.8v0.8h-0.8zM379.5 147.4h0.8v0.8h-0.8zM384.5 144.3h0.8v0.8h-0.8zM378.4 149.4h0.8v0.8h-0.8zM384.7 141.6h0.8v0.8h-0.8zM382.2 145.2h0.8v0.8h-0.8zM383.6 146.6h0.8v0.8h-0.8zM383.4 143.6h0.8v0.8h-0.8zM379.4 146.0h0.8v0.8h-0.8zM382.2 147.5h0.8v0.8h-0.8z"/><path fill="#7a7ab0" d="M384.0 145.6h0.8v0.8h-0.8zM380.1 140.9h0.8v0.8h-0.8zM385.0 142.8h0.8v0.8h-0.8zM374.0 148.2h0.8v0.8h-0.8zM377.4 143.7h0.8v0.8h-0.8zM383.1 146.1h0.8v0.8h-0.8zM382.4 146.7h0.8v0.8h-0.8zM386.7 143.7h0.8v0.8h-0.8zM379.3 145.0h0.8v0.8h-0.8zM385.2 145.3h0.8v0.8h-0.8zM378.3 150.3h0.8v0.8h-0.8zM377.5 147.0h0.8v0.8h-0.8zM374.5 146.1h0.8v0.8h-0.8zM380.2 141.9h0.8v0.8h-0.8zM376.2 140.2h0.8v0.8h-0.8zM375.5 146.1h0.8v0.8h-0.8zM380.2 144.6h0.8v0.8h-0.8zM377.3 144.6h0.8v0.8h-0.8z"/></g>
<g fill-opacity="0.85"><path fill="#5a9abf" d="M407.0 120.2h0.8v0.8h-0.8zM407.6 119.9h0.8v0.8h-0.8zM408.7 119.7h0.8v0.8h-0.8zM407.3 120.0h0.8v0.8h-0.8zM410.6 120.5h0.8v0.8h-0.8zM408.1 119.6h0.8v0.8h-0.8z"/></g>
<g filter="url(#bl1)"><ellipse cx="385.60" cy="122.20" rx="9" ry="4.6" fill="#90a0c0" fill-opacity="0.75"/><ellipse cx="385.60" cy="122.20" rx="7.6" ry="3.6" fill="#5a7a98" fill-opacity="0.95"/><ellipse cx="385.60" cy="122.20" rx="5.6" ry="2.8" fill="#3a6a7e" fill-opacity="1"/><ellipse cx="385.60" cy="122.20" rx="3.4" ry="1.8" fill="#2e6670" fill-opacity="1"/></g>
<g fill-opacity="0.85"><path fill="#6a7fa0" d="M387.4 122.2h0.8v0.8h-0.8zM387.2 118.5h0.8v0.8h-0.8zM384.0 120.3h0.8v0.8h-0.8zM389.3 119.9h0.8v0.8h-0.8zM385.5 117.7h0.8v0.8h-0.8zM380.8 117.0h0.8v0.8h-0.8zM380.8 120.4h0.8v0.8h-0.8zM390.6 121.3h0.8v0.8h-0.8zM380.5 120.4h0.8v0.8h-0.8zM374.7 117.4h0.8v0.8h-0.8zM388.7 126.3h0.8v0.8h-0.8zM377.2 123.4h0.8v0.8h-0.8zM395.4 123.3h0.8v0.8h-0.8zM382.4 119.8h0.8v0.8h-0.8zM385.6 124.0h0.8v0.8h-0.8zM380.6 125.1h0.8v0.8h-0.8zM383.1 122.0h0.8v0.8h-0.8zM386.9 123.7h0.8v0.8h-0.8zM382.4 116.2h0.8v0.8h-0.8zM384.9 126.0h0.8v0.8h-0.8zM381.4 120.8h0.8v0.8h-0.8zM385.0 116.8h0.8v0.8h-0.8zM385.7 121.8h0.8v0.8h-0.8zM383.2 121.6h0.8v0.8h-0.8zM392.4 118.9h0.8v0.8h-0.8zM387.6 119.3h0.8v0.8h-0.8zM384.2 120.7h0.8v0.8h-0.8zM392.7 120.0h0.8v0.8h-0.8zM381.9 121.7h0.8v0.8h-0.8zM375.0 126.1h0.8v0.8h-0.8zM388.8 118.8h0.8v0.8h-0.8zM382.6 122.5h0.8v0.8h-0.8zM381.8 120.4h0.8v0.8h-0.8zM379.3 122.8h0.8v0.8h-0.8zM376.0 122.4h0.8v0.8h-0.8zM394.3 121.7h0.8v0.8h-0.8zM383.2 119.9h0.8v0.8h-0.8zM384.3 121.1h0.8v0.8h-0.8zM380.2 119.2h0.8v0.8h-0.8zM381.4 124.3h0.8v0.8h-0.8zM387.8 124.2h0.8v0.8h-0.8zM382.6 118.0h0.8v0.8h-0.8zM373.0 120.1h0.8v0.8h-0.8zM385.5 125.2h0.8v0.8h-0.8zM389.1 123.3h0.8v0.8h-0.8zM383.2 120.5h0.8v0.8h-0.8zM389.4 121.0h0.8v0.8h-0.8zM384.5 119.8h0.8v0.8h-0.8zM385.9 122.3h0.8v0.8h-0.8zM381.3 121.3h0.8v0.8h-0.8zM387.4 119.3h0.8v0.8h-0.8zM385.4 120.4h0.8v0.8h-0.8zM383.6 119.0h0.8v0.8h-0.8zM381.0 123.1h0.8v0.8h-0.8zM387.9 124.6h0.8v0.8h-0.8zM383.9 120.3h0.8v0.8h-0.8zM381.8 122.6h0.8v0.8h-0.8zM382.1 123.4h0.8v0.8h-0.8zM386.6 123.6h0.8v0.8h-0.8zM385.6 119.0h0.8v0.8h-0.8zM395.6 123.2h0.8v0.8h-0.8zM390.1 125.6h0.8v0.8h-0.8z"/><path fill="#2f6a7a" d="M385.4 120.1h0.8v0.8h-0.8zM387.9 123.4h0.8v0.8h-0.8zM378.1 119.0h0.8v0.8h-0.8zM379.1 124.9h0.8v0.8h-0.8zM385.5 125.8h0.8v0.8h-0.8zM392.9 124.0h0.8v0.8h-0.8zM384.9 124.1h0.8v0.8h-0.8zM385.6 119.7h0.8v0.8h-0.8zM391.9 121.1h0.8v0.8h-0.8zM386.1 122.1h0.8v0.8h-0.8zM391.9 118.9h0.8v0.8h-0.8zM384.1 119.8h0.8v0.8h-0.8zM384.3 120.4h0.8v0.8h-0.8zM379.2 121.7h0.8v0.8h-0.8zM390.8 122.2h0.8v0.8h-0.8zM378.2 121.7h0.8v0.8h-0.8zM378.3 120.2h0.8v0.8h-0.8zM382.1 124.3h0.8v0.8h-0.8zM379.8 123.0h0.8v0.8h-0.8zM376.2 121.4h0.8v0.8h-0.8zM383.2 120.8h0.8v0.8h-0.8zM394.5 123.1h0.8v0.8h-0.8zM389.0 121.5h0.8v0.8h-0.8zM378.5 123.6h0.8v0.8h-0.8zM376.0 127.2h0.8v0.8h-0.8zM391.0 116.3h0.8v0.8h-0.8zM393.5 121.5h0.8v0.8h-0.8zM377.5 120.9h0.8v0.8h-0.8zM388.7 123.6h0.8v0.8h-0.8zM388.4 123.8h0.8v0.8h-0.8zM385.0 125.9h0.8v0.8h-0.8zM388.8 122.6h0.8v0.8h-0.8zM377.6 124.3h0.8v0.8h-0.8zM383.6 120.2h0.8v0.8h-0.8zM387.7 124.4h0.8v0.8h-0.8zM386.8 122.8h0.8v0.8h-0.8zM394.2 123.8h0.8v0.8h-0.8zM381.2 119.2h0.8v0.8h-0.8zM392.1 123.1h0.8v0.8h-0.8z"/><path fill="#5a6a8a" d="M376.1 121.2h0.8v0.8h-0.8zM386.9 124.0h0.8v0.8h-0.8zM379.4 123.7h0.8v0.8h-0.8zM391.4 118.5h0.8v0.8h-0.8zM384.4 117.4h0.8v0.8h-0.8zM392.0 122.8h0.8v0.8h-0.8zM377.4 122.2h0.8v0.8h-0.8zM392.4 118.3h0.8v0.8h-0.8zM377.1 123.3h0.8v0.8h-0.8zM381.9 122.1h0.8v0.8h-0.8zM390.0 122.6h0.8v0.8h-0.8zM387.3 121.2h0.8v0.8h-0.8zM384.4 122.8h0.8v0.8h-0.8zM381.5 125.4h0.8v0.8h-0.8zM392.6 118.6h0.8v0.8h-0.8zM380.2 121.4h0.8v0.8h-0.8zM388.4 118.8h0.8v0.8h-0.8zM382.1 126.0h0.8v0.8h-0.8zM383.8 119.4h0.8v0.8h-0.8zM382.4 119.4h0.8v0.8h-0.8zM381.8 123.0h0.8v0.8h-0.8zM382.5 124.5h0.8v0.8h-0.8zM389.7 124.1h0.8v0.8h-0.8zM389.0 124.9h0.8v0.8h-0.8zM383.3 125.4h0.8v0.8h-0.8zM387.0 122.9h0.8v0.8h-0.8zM386.4 122.4h0.8v0.8h-0.8zM379.4 117.8h0.8v0.8h-0.8zM382.9 118.1h0.8v0.8h-0.8zM372.3 120.9h0.8v0.8h-0.8zM387.8 121.7h0.8v0.8h-0.8zM388.6 118.9h0.8v0.8h-0.8zM387.8 122.4h0.8v0.8h-0.8zM395.9 123.1h0.8v0.8h-0.8zM382.7 123.2h0.8v0.8h-0.8zM394.3 121.6h0.8v0.8h-0.8zM381.0 124.3h0.8v0.8h-0.8zM385.9 124.7h0.8v0.8h-0.8zM381.5 119.2h0.8v0.8h-0.8zM389.3 122.1h0.8v0.8h-0.8zM385.4 124.0h0.8v0.8h-0.8zM392.0 121.2h0.8v0.8h-0.8zM381.2 120.1h0.8v0.8h-0.8zM373.7 124.2h0.8v0.8h-0.8zM385.4 122.4h0.8v0.8h-0.8zM383.5 119.5h0.8v0.8h-0.8zM382.9 123.4h0.8v0.8h-0.8z"/><path fill="#3c6f86" d="M393.3 125.9h0.8v0.8h-0.8zM384.9 122.2h0.8v0.8h-0.8zM380.8 124.7h0.8v0.8h-0.8zM380.3 124.4h0.8v0.8h-0.8zM374.9 120.9h0.8v0.8h-0.8zM389.3 124.8h0.8v0.8h-0.8zM388.6 121.8h0.8v0.8h-0.8zM380.3 121.0h0.8v0.8h-0.8zM394.6 125.0h0.8v0.8h-0.8zM378.5 123.3h0.8v0.8h-0.8zM388.8 120.3h0.8v0.8h-0.8zM379.7 123.7h0.8v0.8h-0.8zM388.3 122.2h0.8v0.8h-0.8zM389.1 125.2h0.8v0.8h-0.8zM389.3 120.4h0.8v0.8h-0.8zM382.8 119.8h0.8v0.8h-0.8zM386.8 122.7h0.8v0.8h-0.8zM386.4 117.9h0.8v0.8h-0.8zM382.9 122.5h0.8v0.8h-0.8zM381.9 127.6h0.8v0.8h-0.8zM375.0 116.0h0.8v0.8h-0.8zM384.3 123.6h0.8v0.8h-0.8zM389.0 117.6h0.8v0.8h-0.8zM387.0 122.5h0.8v0.8h-0.8zM375.5 118.6h0.8v0.8h-0.8zM389.3 118.6h0.8v0.8h-0.8zM389.7 117.7h0.8v0.8h-0.8zM381.9 122.5h0.8v0.8h-0.8zM387.9 125.8h0.8v0.8h-0.8zM391.4 121.7h0.8v0.8h-0.8zM379.0 121.4h0.8v0.8h-0.8zM384.0 125.0h0.8v0.8h-0.8zM385.7 119.9h0.8v0.8h-0.8zM385.9 126.0h0.8v0.8h-0.8z"/><path fill="#4d7f96" d="M386.4 119.9h0.8v0.8h-0.8zM387.2 119.3h0.8v0.8h-0.8zM386.6 124.9h0.8v0.8h-0.8zM384.7 122.3h0.8v0.8h-0.8zM394.1 124.1h0.8v0.8h-0.8zM389.4 124.6h0.8v0.8h-0.8zM384.5 125.9h0.8v0.8h-0.8zM380.3 120.9h0.8v0.8h-0.8zM388.7 121.4h0.8v0.8h-0.8zM383.1 119.7h0.8v0.8h-0.8zM375.0 123.6h0.8v0.8h-0.8zM391.0 122.0h0.8v0.8h-0.8zM384.8 123.6h0.8v0.8h-0.8zM384.9 120.6h0.8v0.8h-0.8zM380.8 123.2h0.8v0.8h-0.8zM376.4 121.2h0.8v0.8h-0.8zM381.4 124.6h0.8v0.8h-0.8zM383.6 124.2h0.8v0.8h-0.8zM382.4 122.5h0.8v0.8h-0.8zM394.2 121.1h0.8v0.8h-0.8zM389.6 119.3h0.8v0.8h-0.8zM376.7 122.7h0.8v0.8h-0.8zM384.6 119.4h0.8v0.8h-0.8zM391.1 121.6h0.8v0.8h-0.8zM380.9 123.1h0.8v0.8h-0.8zM381.8 120.6h0.8v0.8h-0.8zM375.4 119.4h0.8v0.8h-0.8zM380.9 122.8h0.8v0.8h-0.8zM380.1 117.0h0.8v0.8h-0.8zM379.1 119.4h0.8v0.8h-0.8zM383.4 120.2h0.8v0.8h-0.8zM383.2 123.2h0.8v0.8h-0.8zM384.9 124.8h0.8v0.8h-0.8zM380.5 124.2h0.8v0.8h-0.8zM390.3 116.6h0.8v0.8h-0.8zM380.8 120.1h0.8v0.8h-0.8zM383.0 120.6h0.8v0.8h-0.8zM384.4 121.3h0.8v0.8h-0.8z"/></g>
</g>
<rect x="370.5" y="114.3" width="23.899999999999977" height="15.100000000000009" fill="none" stroke="#a5223f" stroke-width="0.9"/>
<rect x="400.8" y="114.9" width="14.300000000000011" height="14.5" fill="none" stroke="#a5223f" stroke-width="0.9"/>
<text x="366.2" y="114.2" font-size="5.5" fill="#333" text-anchor="end">10<tspan font-size="3.8" dy="-2.30">5</tspan></text>
<text x="366.2" y="127.0" font-size="5.5" fill="#333" text-anchor="end">10<tspan font-size="3.8" dy="-2.30">4</tspan></text>
<text x="366.2" y="141.0" font-size="5.5" fill="#333" text-anchor="end">10<tspan font-size="3.8" dy="-2.30">3</tspan></text>
<text x="366.2" y="148.6" font-size="5.5" fill="#333" text-anchor="end">0</text>
<text x="366.2" y="157.0" font-size="5.5" fill="#333" text-anchor="end">−10<tspan font-size="3.8" dy="-2.30">3</tspan></text>
<text x="373.4" y="167.8" font-size="5.5" fill="#333" text-anchor="middle">−10<tspan font-size="3.8" dy="-2.30">3</tspan></text>
<text x="382.2" y="167.8" font-size="5.5" fill="#333" text-anchor="middle">0</text>
<text x="389.9" y="167.8" font-size="5.5" fill="#333" text-anchor="middle">10<tspan font-size="3.8" dy="-2.30">3</tspan></text>
<text x="404.0" y="167.8" font-size="5.5" fill="#333" text-anchor="middle">10<tspan font-size="3.8" dy="-2.30">4</tspan></text>
<text x="416.5" y="167.8" font-size="5.5" fill="#333" text-anchor="middle">10<tspan font-size="3.8" dy="-2.30">5</tspan></text>
<line x1="368.59999999999997" y1="112.2" x2="370.2" y2="112.2" stroke="#666" stroke-width="0.55"/>
<line x1="368.59999999999997" y1="125.0" x2="370.2" y2="125.0" stroke="#666" stroke-width="0.55"/>
<line x1="368.59999999999997" y1="139.0" x2="370.2" y2="139.0" stroke="#666" stroke-width="0.55"/>
<line x1="368.59999999999997" y1="146.6" x2="370.2" y2="146.6" stroke="#666" stroke-width="0.55"/>
<line x1="368.59999999999997" y1="155.0" x2="370.2" y2="155.0" stroke="#666" stroke-width="0.55"/>
<line x1="373.4" y1="156.89999999999998" x2="373.4" y2="158.5" stroke="#666" stroke-width="0.55"/>
<line x1="382.2" y1="156.89999999999998" x2="382.2" y2="158.5" stroke="#666" stroke-width="0.55"/>
<line x1="389.9" y1="156.89999999999998" x2="389.9" y2="158.5" stroke="#666" stroke-width="0.55"/>
<line x1="404.0" y1="156.89999999999998" x2="404.0" y2="158.5" stroke="#666" stroke-width="0.55"/>
<line x1="416.5" y1="156.89999999999998" x2="416.5" y2="158.5" stroke="#666" stroke-width="0.55"/>
<circle cx="369.60" cy="146.60" r="0.75" fill="#111"/>
<circle cx="382.20" cy="157.20" r="0.7" fill="#111"/>
<text x="374.9" y="112.7" font-size="5.5" fill="#c0415e">64.3%</text>
<text x="402.2" y="112.7" font-size="5.5" fill="#c0415e">1.2%</text>
<text x="352.4" y="139.3" font-size="5.8" fill="#333" text-anchor="middle" transform="rotate(-90 352.4 139.3)">CD19-APC</text>
<line x1="350.3" y1="175.4" x2="350.3" y2="158.2" stroke="#111" stroke-width="0.8"/>
<path d="M350.3,156.0 L348.90000000000003,158.8 L351.7,158.8 Z" fill="#111" stroke="none" stroke-width="0.8"/>
<line x1="349.90000000000003" y1="175.4" x2="363.2" y2="175.4" stroke="#111" stroke-width="0.8"/>
<path d="M365.4,175.4 L362.59999999999997,174.0 L362.59999999999997,176.8 Z" fill="#111" stroke="none" stroke-width="0.8"/>
<text x="375.6" y="177.4" font-size="5.8" fill="#333">B220-PECy7</text>
<text x="432.0" y="9.6" font-size="10.6" fill="#111" font-weight="bold">D</text>
<text x="479.2" y="26.2" font-size="8.2" fill="#2a2a2a" text-anchor="middle" stroke="#2a2a2a" stroke-width="0.26">BM</text>
<text x="461.5" y="37.2" font-size="8.2" fill="#2a2a2a" textLength="35.1" lengthAdjust="spacingAndGlyphs" stroke="#2a2a2a" stroke-width="0.26">LK gated</text>
<rect x="453.3" y="41.6" width="52.5" height="51.800000000000004" fill="none" stroke="#d5d5d5" stroke-width="0.55"/>
<g clip-path="url(#c5)">
<g fill-opacity="0.85"><path fill="#7d8fc9" d="M467.3 64.0h0.8v0.8h-0.8zM470.4 67.6h0.8v0.8h-0.8zM467.4 70.3h0.8v0.8h-0.8zM470.7 62.1h0.8v0.8h-0.8zM471.2 63.3h0.8v0.8h-0.8zM466.6 61.4h0.8v0.8h-0.8zM465.9 63.5h0.8v0.8h-0.8zM470.7 66.5h0.8v0.8h-0.8zM463.9 59.3h0.8v0.8h-0.8zM469.4 62.6h0.8v0.8h-0.8zM467.9 69.1h0.8v0.8h-0.8zM468.3 65.1h0.8v0.8h-0.8zM469.7 66.7h0.8v0.8h-0.8zM469.7 69.6h0.8v0.8h-0.8zM468.7 62.3h0.8v0.8h-0.8zM466.2 70.2h0.8v0.8h-0.8zM467.0 67.5h0.8v0.8h-0.8z"/><path fill="#8a7ac8" d="M472.2 61.4h0.8v0.8h-0.8zM468.2 62.4h0.8v0.8h-0.8zM468.4 66.0h0.8v0.8h-0.8zM471.3 60.7h0.8v0.8h-0.8zM472.6 67.9h0.8v0.8h-0.8zM470.2 60.0h0.8v0.8h-0.8zM468.3 64.1h0.8v0.8h-0.8zM470.6 61.4h0.8v0.8h-0.8zM470.7 67.1h0.8v0.8h-0.8zM468.0 63.8h0.8v0.8h-0.8zM468.9 63.4h0.8v0.8h-0.8zM471.0 61.9h0.8v0.8h-0.8zM465.2 62.6h0.8v0.8h-0.8zM471.9 66.6h0.8v0.8h-0.8zM465.1 64.5h0.8v0.8h-0.8zM471.0 56.8h0.8v0.8h-0.8zM466.4 66.6h0.8v0.8h-0.8z"/><path fill="#5d6cb8" d="M466.2 65.2h0.8v0.8h-0.8zM468.3 67.4h0.8v0.8h-0.8zM474.9 61.6h0.8v0.8h-0.8zM467.4 67.7h0.8v0.8h-0.8zM469.3 59.4h0.8v0.8h-0.8zM468.5 62.6h0.8v0.8h-0.8zM466.7 60.9h0.8v0.8h-0.8zM466.3 71.1h0.8v0.8h-0.8zM468.6 67.9h0.8v0.8h-0.8zM468.2 70.4h0.8v0.8h-0.8zM466.6 62.5h0.8v0.8h-0.8zM464.1 62.1h0.8v0.8h-0.8zM471.0 63.5h0.8v0.8h-0.8zM473.2 62.6h0.8v0.8h-0.8z"/><path fill="#4a5aa8" d="M469.7 62.1h0.8v0.8h-0.8zM469.1 66.0h0.8v0.8h-0.8zM470.7 68.6h0.8v0.8h-0.8zM467.4 64.4h0.8v0.8h-0.8zM468.0 60.0h0.8v0.8h-0.8zM467.6 58.1h0.8v0.8h-0.8zM467.9 61.8h0.8v0.8h-0.8zM468.1 60.7h0.8v0.8h-0.8zM466.5 60.2h0.8v0.8h-0.8zM467.7 68.4h0.8v0.8h-0.8zM467.4 70.5h0.8v0.8h-0.8zM467.4 58.9h0.8v0.8h-0.8zM467.9 62.5h0.8v0.8h-0.8zM470.4 65.5h0.8v0.8h-0.8zM467.6 56.6h0.8v0.8h-0.8zM471.5 63.4h0.8v0.8h-0.8zM468.3 66.7h0.8v0.8h-0.8zM475.1 61.5h0.8v0.8h-0.8zM464.0 60.4h0.8v0.8h-0.8zM467.6 61.2h0.8v0.8h-0.8zM467.9 65.7h0.8v0.8h-0.8zM468.9 61.4h0.8v0.8h-0.8z"/></g>
<g fill-opacity="0.85"><path fill="#8fa6d2" d="M497.7 58.7h0.8v0.8h-0.8zM488.7 59.1h0.8v0.8h-0.8zM480.3 59.5h0.8v0.8h-0.8zM495.2 60.9h0.8v0.8h-0.8zM494.4 60.5h0.8v0.8h-0.8zM484.6 64.4h0.8v0.8h-0.8zM485.4 61.7h0.8v0.8h-0.8zM487.7 62.5h0.8v0.8h-0.8zM475.1 65.1h0.8v0.8h-0.8zM495.1 62.0h0.8v0.8h-0.8zM478.6 66.2h0.8v0.8h-0.8zM491.8 61.8h0.8v0.8h-0.8zM495.4 60.6h0.8v0.8h-0.8zM486.8 61.4h0.8v0.8h-0.8zM498.3 59.7h0.8v0.8h-0.8zM484.7 58.2h0.8v0.8h-0.8zM487.6 62.5h0.8v0.8h-0.8zM496.0 60.9h0.8v0.8h-0.8zM488.1 59.5h0.8v0.8h-0.8zM480.6 63.7h0.8v0.8h-0.8zM498.5 57.3h0.8v0.8h-0.8zM476.8 60.2h0.8v0.8h-0.8zM481.7 58.4h0.8v0.8h-0.8zM485.4 60.8h0.8v0.8h-0.8zM493.1 55.3h0.8v0.8h-0.8z"/><path fill="#c0b0dc" d="M487.3 62.6h0.8v0.8h-0.8zM487.5 58.5h0.8v0.8h-0.8zM490.2 58.0h0.8v0.8h-0.8zM483.4 61.6h0.8v0.8h-0.8zM482.6 61.9h0.8v0.8h-0.8zM493.6 59.5h0.8v0.8h-0.8zM488.3 63.5h0.8v0.8h-0.8zM492.5 61.5h0.8v0.8h-0.8zM492.5 61.0h0.8v0.8h-0.8zM472.6 62.1h0.8v0.8h-0.8zM467.3 67.2h0.8v0.8h-0.8zM476.5 64.1h0.8v0.8h-0.8zM483.0 62.0h0.8v0.8h-0.8zM482.0 60.2h0.8v0.8h-0.8zM497.7 62.8h0.8v0.8h-0.8zM483.6 60.1h0.8v0.8h-0.8zM492.6 60.6h0.8v0.8h-0.8zM489.5 64.7h0.8v0.8h-0.8zM486.9 58.4h0.8v0.8h-0.8z"/><path fill="#a7b7da" d="M497.6 60.0h0.8v0.8h-0.8zM492.6 62.3h0.8v0.8h-0.8zM481.8 66.2h0.8v0.8h-0.8zM494.2 59.7h0.8v0.8h-0.8zM485.9 65.3h0.8v0.8h-0.8zM477.4 65.3h0.8v0.8h-0.8zM479.1 66.1h0.8v0.8h-0.8zM479.4 62.4h0.8v0.8h-0.8zM473.3 59.8h0.8v0.8h-0.8zM489.3 56.8h0.8v0.8h-0.8zM491.8 61.1h0.8v0.8h-0.8zM483.0 64.4h0.8v0.8h-0.8zM487.5 63.4h0.8v0.8h-0.8zM479.8 62.7h0.8v0.8h-0.8z"/></g>
<g filter="url(#bl05)" transform="rotate(-12 471.6 74.0)"><ellipse cx="471.60" cy="74.00" rx="8.6" ry="3.9" fill="#2a4ab0" fill-opacity="1"/><ellipse cx="471.60" cy="74.00" rx="7.4" ry="3.1" fill="#2a9ac8" fill-opacity="1"/><ellipse cx="471.60" cy="74.00" rx="6.0" ry="2.5" fill="#3aac58" fill-opacity="1"/><ellipse cx="471.60" cy="74.00" rx="3.6" ry="1.7" fill="#9cc42c" fill-opacity="1"/><ellipse cx="471.60" cy="74.00" rx="2.0" ry="1.1" fill="#e0d020" fill-opacity="1"/></g>
</g>
<rect x="453.3" y="53.5" width="19.19999999999999" height="14.700000000000003" fill="none" stroke="#a5223f" stroke-width="0.9"/>
<rect x="487.5" y="48.4" width="17.80000000000001" height="17.199999999999996" fill="none" stroke="#a5223f" stroke-width="0.9"/>
<text x="449.6" y="48.9" font-size="5.5" fill="#333" text-anchor="end">10<tspan font-size="3.8" dy="-2.30">5</tspan></text>
<text x="449.6" y="61.0" font-size="5.5" fill="#333" text-anchor="end">10<tspan font-size="3.8" dy="-2.30">4</tspan></text>
<text x="449.6" y="75.1" font-size="5.5" fill="#333" text-anchor="end">10<tspan font-size="3.8" dy="-2.30">3</tspan></text>
<text x="449.6" y="83.6" font-size="5.5" fill="#333" text-anchor="end">0</text>
<text x="449.6" y="91.7" font-size="5.5" fill="#333" text-anchor="end">−10<tspan font-size="3.8" dy="-2.30">3</tspan></text>
<text x="456.0" y="101.9" font-size="5.5" fill="#333" text-anchor="middle">−10<tspan font-size="3.8" dy="-2.30">3</tspan></text>
<text x="465.0" y="101.9" font-size="5.5" fill="#333" text-anchor="middle">0</text>
<text x="472.2" y="101.9" font-size="5.5" fill="#333" text-anchor="middle">10<tspan font-size="3.8" dy="-2.30">3</tspan></text>
<text x="486.9" y="101.9" font-size="5.5" fill="#333" text-anchor="middle">10<tspan font-size="3.8" dy="-2.30">4</tspan></text>
<text x="499.4" y="101.9" font-size="5.5" fill="#333" text-anchor="middle">10<tspan font-size="3.8" dy="-2.30">5</tspan></text>
<line x1="452.0" y1="46.9" x2="453.6" y2="46.9" stroke="#666" stroke-width="0.55"/>
<line x1="452.0" y1="59.0" x2="453.6" y2="59.0" stroke="#666" stroke-width="0.55"/>
<line x1="452.0" y1="73.1" x2="453.6" y2="73.1" stroke="#666" stroke-width="0.55"/>
<line x1="452.0" y1="81.6" x2="453.6" y2="81.6" stroke="#666" stroke-width="0.55"/>
<line x1="452.0" y1="89.7" x2="453.6" y2="89.7" stroke="#666" stroke-width="0.55"/>
<line x1="456.0" y1="93.10000000000001" x2="456.0" y2="94.7" stroke="#666" stroke-width="0.55"/>
<line x1="465.0" y1="93.10000000000001" x2="465.0" y2="94.7" stroke="#666" stroke-width="0.55"/>
<line x1="472.2" y1="93.10000000000001" x2="472.2" y2="94.7" stroke="#666" stroke-width="0.55"/>
<line x1="486.9" y1="93.10000000000001" x2="486.9" y2="94.7" stroke="#666" stroke-width="0.55"/>
<line x1="499.4" y1="93.10000000000001" x2="499.4" y2="94.7" stroke="#666" stroke-width="0.55"/>
<circle cx="453.00" cy="81.60" r="0.75" fill="#111"/>
<circle cx="465.00" cy="93.40" r="0.7" fill="#111"/>
<text x="456.8" y="51.6" font-size="5.5" fill="#c0415e">7.4%</text>
<text x="473.0" y="52.6" font-size="4.8" fill="#c0415e">ErP</text>
<text x="490.2" y="46.7" font-size="5.5" fill="#c0415e">2.3%</text>
<text x="490.8" y="73.1" font-size="5.2" fill="#c0415e">MkP</text>
<rect x="453.1" y="106.2" width="51.799999999999955" height="51.60000000000001" fill="none" stroke="#d5d5d5" stroke-width="0.55"/>
<g clip-path="url(#c6)">
<g filter="url(#bl05)" transform="rotate(-6 474.3 140.4)"><rect x="461.0" y="136.9" width="26.6" height="7.2" rx="3.6" fill="#1c2a98"/><rect x="462.0" y="137.7" width="24.6" height="5.6" rx="2.8" fill="#2a5cc8"/><rect x="463.0" y="138.4" width="22.4" height="4.2" rx="2.1" fill="#2aa8c0"/><rect x="464.0" y="139.0" width="19.4" height="3.0" rx="1.5" fill="#48b848"/><rect x="466.0" y="139.6" width="12.0" height="1.8" rx="0.9" fill="#b8c430"/></g>
</g>
<rect x="453.1" y="118.2" width="19.399999999999977" height="15.100000000000009" fill="none" stroke="#a5223f" stroke-width="0.9"/>
<rect x="488.0" y="113.1" width="17.0" height="17.30000000000001" fill="none" stroke="#a5223f" stroke-width="0.9"/>
<text x="449.6" y="115.0" font-size="5.5" fill="#333" text-anchor="end">10<tspan font-size="3.8" dy="-2.30">5</tspan></text>
<text x="449.6" y="126.7" font-size="5.5" fill="#333" text-anchor="end">10<tspan font-size="3.8" dy="-2.30">4</tspan></text>
<text x="449.6" y="141.0" font-size="5.5" fill="#333" text-anchor="end">10<tspan font-size="3.8" dy="-2.30">3</tspan></text>
<text x="449.6" y="149.6" font-size="5.5" fill="#333" text-anchor="end">0</text>
<text x="449.6" y="157.0" font-size="5.5" fill="#333" text-anchor="end">−10<tspan font-size="3.8" dy="-2.30">3</tspan></text>
<text x="456.0" y="167.8" font-size="5.5" fill="#333" text-anchor="middle">−10<tspan font-size="3.8" dy="-2.30">3</tspan></text>
<text x="465.0" y="167.8" font-size="5.5" fill="#333" text-anchor="middle">0</text>
<text x="472.2" y="167.8" font-size="5.5" fill="#333" text-anchor="middle">10<tspan font-size="3.8" dy="-2.30">3</tspan></text>
<text x="486.9" y="167.8" font-size="5.5" fill="#333" text-anchor="middle">10<tspan font-size="3.8" dy="-2.30">4</tspan></text>
<text x="499.4" y="167.8" font-size="5.5" fill="#333" text-anchor="middle">10<tspan font-size="3.8" dy="-2.30">5</tspan></text>
<line x1="451.8" y1="113.0" x2="453.40000000000003" y2="113.0" stroke="#666" stroke-width="0.55"/>
<line x1="451.8" y1="124.7" x2="453.40000000000003" y2="124.7" stroke="#666" stroke-width="0.55"/>
<line x1="451.8" y1="139.0" x2="453.40000000000003" y2="139.0" stroke="#666" stroke-width="0.55"/>
<line x1="451.8" y1="147.6" x2="453.40000000000003" y2="147.6" stroke="#666" stroke-width="0.55"/>
<line x1="451.8" y1="155.0" x2="453.40000000000003" y2="155.0" stroke="#666" stroke-width="0.55"/>
<line x1="456.0" y1="157.5" x2="456.0" y2="159.10000000000002" stroke="#666" stroke-width="0.55"/>
<line x1="465.0" y1="157.5" x2="465.0" y2="159.10000000000002" stroke="#666" stroke-width="0.55"/>
<line x1="472.2" y1="157.5" x2="472.2" y2="159.10000000000002" stroke="#666" stroke-width="0.55"/>
<line x1="486.9" y1="157.5" x2="486.9" y2="159.10000000000002" stroke="#666" stroke-width="0.55"/>
<line x1="499.4" y1="157.5" x2="499.4" y2="159.10000000000002" stroke="#666" stroke-width="0.55"/>
<circle cx="452.80" cy="147.60" r="0.75" fill="#111"/>
<circle cx="465.00" cy="157.80" r="0.7" fill="#111"/>
<text x="457.4" y="116.7" font-size="5.5" fill="#c0415e">0%</text>
<text x="490.2" y="111.8" font-size="5.5" fill="#c0415e">0.1%</text>
<text x="436.6" y="133.0" font-size="5.8" fill="#333" text-anchor="middle" transform="rotate(-90 436.6 133.0)">CD150-BV421</text>
<line x1="434.7" y1="175.4" x2="434.7" y2="159.7" stroke="#111" stroke-width="0.8"/>
<path d="M434.7,157.5 L433.3,160.3 L436.09999999999997,160.3 Z" fill="#111" stroke="none" stroke-width="0.8"/>
<line x1="434.3" y1="175.4" x2="447.6" y2="175.4" stroke="#111" stroke-width="0.8"/>
<path d="M449.8,175.4 L447.0,174.0 L447.0,176.8 Z" fill="#111" stroke="none" stroke-width="0.8"/>
<text x="453.4" y="177.4" font-size="5.8" fill="#333">CD41-PE</text>
<text x="137.2" y="302.2" font-size="10.6" fill="#111" font-weight="bold">J</text>
<text x="215.7" y="314.8" font-size="8.6" fill="#2a2a2a" text-anchor="middle" stroke="#2a2a2a" stroke-width="0.26">BM cells</text>
<text x="302.0" y="314.8" font-size="8.4" fill="#2a2a2a" textLength="44.5" lengthAdjust="spacingAndGlyphs" stroke="#2a2a2a" stroke-width="0.26">GFP<tspan font-size="5.0" dy="-3.20">+</tspan><tspan dy="3.20">gated</tspan></text>
<line x1="263.4" y1="318.8" x2="384.0" y2="318.8" stroke="#6a6a6a" stroke-width="1.3"/>
<text x="134.8" y="343.8" font-size="6.3" fill="#2a2a2a" font-style="italic">Cdkn2a<tspan font-size="3.3" dy="-2.60">−/−</tspan></text>
<text x="134.8" y="351.45" font-size="6.3" fill="#2a2a2a" font-style="italic">Ring1a<tspan font-size="3.3" dy="-2.60">−/−</tspan></text>
<text x="134.8" y="359.1" font-size="6.3" fill="#2a2a2a" font-style="italic">Ring1b<tspan font-size="3.3" dy="-2.60">Δ/+</tspan></text>
<text x="134.8" y="411.8" font-size="6.3" fill="#2a2a2a" font-style="italic">Cdkn2a<tspan font-size="3.3" dy="-2.60">−/−</tspan></text>
<text x="134.8" y="419.45" font-size="6.3" fill="#2a2a2a" font-style="italic">Ring1a<tspan font-size="3.3" dy="-2.60">−/−</tspan></text>
<text x="134.8" y="427.1" font-size="6.3" fill="#2a2a2a" font-style="italic">Ring1b<tspan font-size="3.3" dy="-2.60">Δ/Δ</tspan></text>
<text x="134.8" y="475.9" font-size="6.3" fill="#2a2a2a" font-style="italic">Cdkn2a<tspan font-size="3.3" dy="-2.60">−/−</tspan></text>
<text x="134.8" y="483.54999999999995" font-size="6.3" fill="#2a2a2a" font-style="italic">Ring1a<tspan font-size="3.3" dy="-2.60">−/−</tspan></text>
<text x="134.8" y="491.2" font-size="6.3" fill="#2a2a2a" font-style="italic">Ring1b<tspan font-size="3.3" dy="-2.60">Δ/Δ</tspan></text>
<rect x="191.4" y="322.2" width="46.599999999999994" height="50.30000000000001" fill="none" stroke="#c8c8c8" stroke-width="0.55"/>
<g clip-path="url(#c7)">
<g filter="url(#bl2)"><ellipse cx="220.00" cy="357.00" rx="12" ry="14" fill="#5a4cb4" fill-opacity="0.6"/><ellipse cx="218.00" cy="365.00" rx="9" ry="6" fill="#4a3aa8" fill-opacity="0.5"/></g>
<g fill-opacity="0.8"><path fill="#3a2896" d="M224.6 347.4h0.8v0.8h-0.8zM224.3 352.1h0.8v0.8h-0.8zM221.5 338.6h0.8v0.8h-0.8zM213.4 359.6h0.8v0.8h-0.8zM219.2 358.0h0.8v0.8h-0.8zM211.5 344.8h0.8v0.8h-0.8zM229.1 356.6h0.8v0.8h-0.8zM214.3 361.3h0.8v0.8h-0.8zM224.5 360.7h0.8v0.8h-0.8zM230.8 362.1h0.8v0.8h-0.8zM212.3 362.9h0.8v0.8h-0.8zM226.8 346.7h0.8v0.8h-0.8zM213.0 339.8h0.8v0.8h-0.8zM218.4 361.7h0.8v0.8h-0.8zM210.7 338.8h0.8v0.8h-0.8zM212.0 370.2h0.8v0.8h-0.8zM225.6 346.9h0.8v0.8h-0.8zM208.6 359.9h0.8v0.8h-0.8zM234.6 364.6h0.8v0.8h-0.8zM215.9 347.5h0.8v0.8h-0.8zM234.9 356.7h0.8v0.8h-0.8zM219.9 346.0h0.8v0.8h-0.8zM222.3 349.8h0.8v0.8h-0.8zM210.6 360.6h0.8v0.8h-0.8zM225.2 358.9h0.8v0.8h-0.8zM233.4 360.9h0.8v0.8h-0.8zM212.7 351.9h0.8v0.8h-0.8zM210.5 370.9h0.8v0.8h-0.8zM208.9 352.8h0.8v0.8h-0.8zM224.9 368.6h0.8v0.8h-0.8zM222.8 351.0h0.8v0.8h-0.8zM221.1 359.1h0.8v0.8h-0.8zM227.0 358.7h0.8v0.8h-0.8zM233.7 362.7h0.8v0.8h-0.8zM214.4 367.9h0.8v0.8h-0.8zM210.7 334.3h0.8v0.8h-0.8zM212.5 332.3h0.8v0.8h-0.8zM221.1 335.7h0.8v0.8h-0.8zM218.8 364.5h0.8v0.8h-0.8zM210.0 348.9h0.8v0.8h-0.8zM224.4 356.6h0.8v0.8h-0.8zM225.6 366.2h0.8v0.8h-0.8zM209.4 346.8h0.8v0.8h-0.8zM225.2 355.6h0.8v0.8h-0.8zM221.2 371.4h0.8v0.8h-0.8zM212.9 342.6h0.8v0.8h-0.8zM212.4 349.2h0.8v0.8h-0.8zM216.9 356.3h0.8v0.8h-0.8zM224.8 362.4h0.8v0.8h-0.8zM216.2 352.8h0.8v0.8h-0.8zM216.7 363.2h0.8v0.8h-0.8zM218.9 359.6h0.8v0.8h-0.8zM213.1 346.0h0.8v0.8h-0.8zM220.5 368.7h0.8v0.8h-0.8zM211.9 335.7h0.8v0.8h-0.8zM219.9 360.0h0.8v0.8h-0.8zM210.5 359.5h0.8v0.8h-0.8zM214.9 371.3h0.8v0.8h-0.8zM216.5 363.3h0.8v0.8h-0.8zM215.0 332.4h0.8v0.8h-0.8zM221.1 368.1h0.8v0.8h-0.8zM228.1 347.6h0.8v0.8h-0.8zM214.0 362.7h0.8v0.8h-0.8zM210.2 367.5h0.8v0.8h-0.8zM216.0 347.1h0.8v0.8h-0.8zM212.1 365.6h0.8v0.8h-0.8zM213.6 359.1h0.8v0.8h-0.8zM226.4 369.4h0.8v0.8h-0.8zM213.5 345.5h0.8v0.8h-0.8zM228.3 358.4h0.8v0.8h-0.8zM209.2 364.8h0.8v0.8h-0.8zM225.7 369.6h0.8v0.8h-0.8zM214.3 371.0h0.8v0.8h-0.8zM223.6 370.1h0.8v0.8h-0.8zM218.5 370.0h0.8v0.8h-0.8zM230.0 358.2h0.8v0.8h-0.8zM212.8 351.6h0.8v0.8h-0.8zM215.2 368.9h0.8v0.8h-0.8zM225.5 355.3h0.8v0.8h-0.8zM211.8 353.3h0.8v0.8h-0.8zM209.9 334.9h0.8v0.8h-0.8zM217.0 347.9h0.8v0.8h-0.8zM210.5 362.8h0.8v0.8h-0.8zM215.5 369.2h0.8v0.8h-0.8zM217.5 371.7h0.8v0.8h-0.8zM212.4 366.0h0.8v0.8h-0.8zM222.4 368.6h0.8v0.8h-0.8zM232.0 340.4h0.8v0.8h-0.8zM225.6 349.9h0.8v0.8h-0.8zM211.5 371.1h0.8v0.8h-0.8zM230.5 371.3h0.8v0.8h-0.8zM225.2 364.7h0.8v0.8h-0.8zM210.0 332.6h0.8v0.8h-0.8zM231.2 355.0h0.8v0.8h-0.8zM220.7 365.2h0.8v0.8h-0.8zM209.1 349.6h0.8v0.8h-0.8zM219.2 365.9h0.8v0.8h-0.8zM227.3 363.6h0.8v0.8h-0.8zM219.6 362.3h0.8v0.8h-0.8zM215.8 337.0h0.8v0.8h-0.8zM233.9 357.7h0.8v0.8h-0.8zM211.5 342.3h0.8v0.8h-0.8zM212.0 356.5h0.8v0.8h-0.8zM233.2 351.9h0.8v0.8h-0.8zM230.0 350.3h0.8v0.8h-0.8zM214.1 366.6h0.8v0.8h-0.8zM218.6 349.1h0.8v0.8h-0.8zM218.2 368.5h0.8v0.8h-0.8zM228.0 368.6h0.8v0.8h-0.8zM231.5 371.0h0.8v0.8h-0.8zM234.7 351.1h0.8v0.8h-0.8zM220.4 348.2h0.8v0.8h-0.8zM225.2 367.1h0.8v0.8h-0.8zM222.9 356.8h0.8v0.8h-0.8zM212.3 347.1h0.8v0.8h-0.8zM230.8 364.0h0.8v0.8h-0.8zM209.9 371.1h0.8v0.8h-0.8zM217.0 368.2h0.8v0.8h-0.8zM214.4 361.6h0.8v0.8h-0.8zM224.3 345.3h0.8v0.8h-0.8zM209.8 337.5h0.8v0.8h-0.8zM234.1 361.3h0.8v0.8h-0.8zM223.3 352.6h0.8v0.8h-0.8zM225.5 370.0h0.8v0.8h-0.8zM228.1 334.7h0.8v0.8h-0.8zM210.6 352.4h0.8v0.8h-0.8zM210.1 355.7h0.8v0.8h-0.8zM210.1 366.7h0.8v0.8h-0.8zM210.5 360.9h0.8v0.8h-0.8zM234.2 366.8h0.8v0.8h-0.8zM210.4 363.3h0.8v0.8h-0.8zM230.3 350.0h0.8v0.8h-0.8zM220.7 371.8h0.8v0.8h-0.8zM211.8 345.2h0.8v0.8h-0.8zM225.1 366.1h0.8v0.8h-0.8zM210.5 361.6h0.8v0.8h-0.8zM218.8 348.5h0.8v0.8h-0.8zM230.1 358.1h0.8v0.8h-0.8zM217.4 354.7h0.8v0.8h-0.8zM217.9 341.4h0.8v0.8h-0.8zM229.1 371.2h0.8v0.8h-0.8zM214.2 333.0h0.8v0.8h-0.8zM209.8 359.2h0.8v0.8h-0.8zM217.9 349.3h0.8v0.8h-0.8zM211.0 354.8h0.8v0.8h-0.8zM208.9 344.3h0.8v0.8h-0.8zM215.8 345.8h0.8v0.8h-0.8zM209.4 362.2h0.8v0.8h-0.8zM213.2 355.0h0.8v0.8h-0.8zM234.2 368.9h0.8v0.8h-0.8zM209.4 350.3h0.8v0.8h-0.8zM226.5 356.2h0.8v0.8h-0.8zM221.8 339.8h0.8v0.8h-0.8zM228.6 346.2h0.8v0.8h-0.8zM219.5 356.5h0.8v0.8h-0.8zM224.7 366.7h0.8v0.8h-0.8zM221.0 369.8h0.8v0.8h-0.8zM222.8 337.2h0.8v0.8h-0.8zM221.6 340.0h0.8v0.8h-0.8zM211.3 367.0h0.8v0.8h-0.8zM222.5 371.3h0.8v0.8h-0.8zM210.8 346.0h0.8v0.8h-0.8zM226.1 361.7h0.8v0.8h-0.8zM228.1 368.8h0.8v0.8h-0.8zM222.4 360.2h0.8v0.8h-0.8zM209.7 353.9h0.8v0.8h-0.8zM211.1 357.7h0.8v0.8h-0.8zM212.5 356.2h0.8v0.8h-0.8zM211.0 366.5h0.8v0.8h-0.8zM229.7 362.5h0.8v0.8h-0.8zM219.8 364.4h0.8v0.8h-0.8zM213.5 363.4h0.8v0.8h-0.8zM230.6 362.0h0.8v0.8h-0.8zM210.8 332.5h0.8v0.8h-0.8zM215.1 353.4h0.8v0.8h-0.8zM209.7 333.3h0.8v0.8h-0.8zM216.3 367.0h0.8v0.8h-0.8zM215.4 365.8h0.8v0.8h-0.8zM209.2 367.0h0.8v0.8h-0.8zM232.6 362.7h0.8v0.8h-0.8zM211.2 331.1h0.8v0.8h-0.8zM222.4 364.0h0.8v0.8h-0.8zM230.6 344.9h0.8v0.8h-0.8zM232.4 358.4h0.8v0.8h-0.8zM211.1 353.2h0.8v0.8h-0.8zM222.8 367.1h0.8v0.8h-0.8zM209.1 353.7h0.8v0.8h-0.8zM229.7 356.6h0.8v0.8h-0.8zM212.8 357.4h0.8v0.8h-0.8zM215.4 362.9h0.8v0.8h-0.8zM220.1 367.3h0.8v0.8h-0.8zM214.2 335.9h0.8v0.8h-0.8zM229.0 357.8h0.8v0.8h-0.8zM217.1 370.0h0.8v0.8h-0.8zM212.7 348.7h0.8v0.8h-0.8zM226.1 370.4h0.8v0.8h-0.8zM223.4 351.2h0.8v0.8h-0.8zM217.8 365.7h0.8v0.8h-0.8zM232.6 371.8h0.8v0.8h-0.8zM223.1 341.2h0.8v0.8h-0.8zM224.0 370.4h0.8v0.8h-0.8zM211.7 347.9h0.8v0.8h-0.8zM231.6 330.5h0.8v0.8h-0.8zM228.5 354.7h0.8v0.8h-0.8zM217.3 365.8h0.8v0.8h-0.8zM219.2 369.7h0.8v0.8h-0.8zM214.3 346.8h0.8v0.8h-0.8zM208.9 340.3h0.8v0.8h-0.8zM209.6 358.0h0.8v0.8h-0.8zM215.4 355.6h0.8v0.8h-0.8zM226.7 353.6h0.8v0.8h-0.8zM218.5 363.6h0.8v0.8h-0.8zM227.8 371.1h0.8v0.8h-0.8zM209.7 330.6h0.8v0.8h-0.8zM219.7 364.7h0.8v0.8h-0.8zM212.5 349.6h0.8v0.8h-0.8zM228.4 363.3h0.8v0.8h-0.8zM212.8 363.9h0.8v0.8h-0.8zM215.8 372.1h0.8v0.8h-0.8zM220.8 371.7h0.8v0.8h-0.8zM214.5 346.0h0.8v0.8h-0.8zM224.5 358.0h0.8v0.8h-0.8zM224.7 358.4h0.8v0.8h-0.8zM213.6 358.5h0.8v0.8h-0.8zM232.1 340.5h0.8v0.8h-0.8zM221.1 363.7h0.8v0.8h-0.8zM208.6 348.4h0.8v0.8h-0.8zM230.2 356.9h0.8v0.8h-0.8zM222.0 341.3h0.8v0.8h-0.8zM219.7 353.6h0.8v0.8h-0.8zM222.1 356.9h0.8v0.8h-0.8zM218.4 358.9h0.8v0.8h-0.8zM221.6 368.5h0.8v0.8h-0.8zM223.2 358.7h0.8v0.8h-0.8zM220.7 366.2h0.8v0.8h-0.8zM228.7 363.8h0.8v0.8h-0.8zM217.3 368.1h0.8v0.8h-0.8zM230.6 363.5h0.8v0.8h-0.8zM209.2 358.9h0.8v0.8h-0.8zM219.0 351.0h0.8v0.8h-0.8zM221.0 367.1h0.8v0.8h-0.8zM225.0 345.3h0.8v0.8h-0.8zM214.2 349.7h0.8v0.8h-0.8zM225.7 354.5h0.8v0.8h-0.8zM215.4 359.0h0.8v0.8h-0.8zM217.4 365.0h0.8v0.8h-0.8zM209.2 332.7h0.8v0.8h-0.8zM231.8 360.9h0.8v0.8h-0.8zM223.0 366.2h0.8v0.8h-0.8zM219.9 345.1h0.8v0.8h-0.8zM232.0 356.7h0.8v0.8h-0.8zM211.8 347.4h0.8v0.8h-0.8zM227.8 332.9h0.8v0.8h-0.8zM218.6 350.6h0.8v0.8h-0.8zM215.3 354.5h0.8v0.8h-0.8zM211.5 349.4h0.8v0.8h-0.8zM215.4 354.4h0.8v0.8h-0.8zM227.7 349.8h0.8v0.8h-0.8zM220.5 351.8h0.8v0.8h-0.8zM214.0 346.3h0.8v0.8h-0.8zM215.4 363.0h0.8v0.8h-0.8zM234.9 366.6h0.8v0.8h-0.8zM215.2 346.7h0.8v0.8h-0.8zM227.8 357.5h0.8v0.8h-0.8zM220.0 331.7h0.8v0.8h-0.8zM215.4 346.1h0.8v0.8h-0.8zM220.7 354.7h0.8v0.8h-0.8zM225.1 335.2h0.8v0.8h-0.8zM226.9 371.5h0.8v0.8h-0.8zM221.2 367.2h0.8v0.8h-0.8zM217.1 361.4h0.8v0.8h-0.8zM216.0 337.5h0.8v0.8h-0.8zM219.4 350.5h0.8v0.8h-0.8zM221.0 357.4h0.8v0.8h-0.8zM222.7 349.3h0.8v0.8h-0.8zM210.4 337.4h0.8v0.8h-0.8zM218.2 363.0h0.8v0.8h-0.8zM221.0 363.0h0.8v0.8h-0.8zM220.7 332.6h0.8v0.8h-0.8zM226.3 362.0h0.8v0.8h-0.8zM222.1 358.5h0.8v0.8h-0.8zM211.6 352.3h0.8v0.8h-0.8zM212.4 367.5h0.8v0.8h-0.8zM216.9 351.8h0.8v0.8h-0.8zM217.2 359.0h0.8v0.8h-0.8zM210.1 350.3h0.8v0.8h-0.8zM213.1 360.9h0.8v0.8h-0.8zM210.7 338.7h0.8v0.8h-0.8zM234.3 364.2h0.8v0.8h-0.8zM213.0 352.5h0.8v0.8h-0.8zM213.4 347.0h0.8v0.8h-0.8zM211.7 345.7h0.8v0.8h-0.8zM227.7 372.0h0.8v0.8h-0.8zM223.9 335.5h0.8v0.8h-0.8zM215.2 358.5h0.8v0.8h-0.8zM217.1 364.7h0.8v0.8h-0.8zM220.3 361.8h0.8v0.8h-0.8zM224.6 341.3h0.8v0.8h-0.8zM213.9 370.0h0.8v0.8h-0.8zM218.2 369.4h0.8v0.8h-0.8zM224.4 368.3h0.8v0.8h-0.8zM225.4 332.5h0.8v0.8h-0.8zM216.2 371.1h0.8v0.8h-0.8zM210.1 339.5h0.8v0.8h-0.8zM221.1 349.7h0.8v0.8h-0.8zM214.2 354.4h0.8v0.8h-0.8zM216.5 345.5h0.8v0.8h-0.8zM227.4 362.2h0.8v0.8h-0.8zM214.0 356.1h0.8v0.8h-0.8zM216.7 364.8h0.8v0.8h-0.8zM208.9 370.1h0.8v0.8h-0.8zM223.0 338.2h0.8v0.8h-0.8zM220.8 355.2h0.8v0.8h-0.8zM211.0 346.7h0.8v0.8h-0.8zM216.4 345.0h0.8v0.8h-0.8zM226.0 368.4h0.8v0.8h-0.8zM220.6 364.6h0.8v0.8h-0.8zM209.8 350.8h0.8v0.8h-0.8z"/><path fill="#5040b0" d="M222.4 363.2h0.8v0.8h-0.8zM224.8 353.8h0.8v0.8h-0.8zM229.1 351.7h0.8v0.8h-0.8zM230.7 366.5h0.8v0.8h-0.8zM220.9 359.9h0.8v0.8h-0.8zM218.0 333.4h0.8v0.8h-0.8zM223.1 370.0h0.8v0.8h-0.8zM215.3 332.6h0.8v0.8h-0.8zM228.9 363.9h0.8v0.8h-0.8zM210.2 367.6h0.8v0.8h-0.8zM209.7 370.5h0.8v0.8h-0.8zM235.4 369.8h0.8v0.8h-0.8zM212.3 353.4h0.8v0.8h-0.8zM209.2 366.0h0.8v0.8h-0.8zM234.2 360.1h0.8v0.8h-0.8zM214.2 336.8h0.8v0.8h-0.8zM217.4 357.4h0.8v0.8h-0.8zM217.4 349.9h0.8v0.8h-0.8zM216.6 333.3h0.8v0.8h-0.8zM214.6 339.3h0.8v0.8h-0.8zM224.7 355.8h0.8v0.8h-0.8zM231.8 372.1h0.8v0.8h-0.8zM211.4 343.9h0.8v0.8h-0.8zM214.0 368.8h0.8v0.8h-0.8zM212.1 335.2h0.8v0.8h-0.8zM219.1 352.7h0.8v0.8h-0.8zM216.8 358.2h0.8v0.8h-0.8zM235.9 355.9h0.8v0.8h-0.8zM211.5 352.0h0.8v0.8h-0.8zM221.7 348.7h0.8v0.8h-0.8zM214.6 367.2h0.8v0.8h-0.8zM216.6 345.2h0.8v0.8h-0.8zM223.5 366.2h0.8v0.8h-0.8zM211.2 365.3h0.8v0.8h-0.8zM215.0 368.6h0.8v0.8h-0.8zM221.9 344.0h0.8v0.8h-0.8zM210.2 369.1h0.8v0.8h-0.8zM214.0 366.5h0.8v0.8h-0.8zM225.6 359.9h0.8v0.8h-0.8zM231.6 370.7h0.8v0.8h-0.8zM220.1 359.2h0.8v0.8h-0.8zM211.1 352.0h0.8v0.8h-0.8zM219.4 364.4h0.8v0.8h-0.8zM209.5 354.1h0.8v0.8h-0.8zM211.1 356.6h0.8v0.8h-0.8zM227.4 358.1h0.8v0.8h-0.8zM234.7 347.3h0.8v0.8h-0.8zM215.4 339.4h0.8v0.8h-0.8zM209.8 332.0h0.8v0.8h-0.8zM211.3 366.0h0.8v0.8h-0.8zM229.0 347.0h0.8v0.8h-0.8zM218.8 360.8h0.8v0.8h-0.8zM214.3 342.9h0.8v0.8h-0.8zM212.4 345.3h0.8v0.8h-0.8zM212.0 357.0h0.8v0.8h-0.8zM215.8 368.0h0.8v0.8h-0.8zM231.4 358.2h0.8v0.8h-0.8zM214.7 369.7h0.8v0.8h-0.8zM224.0 352.5h0.8v0.8h-0.8zM211.4 347.5h0.8v0.8h-0.8zM218.8 331.7h0.8v0.8h-0.8zM216.6 370.3h0.8v0.8h-0.8zM214.3 334.5h0.8v0.8h-0.8zM214.3 330.5h0.8v0.8h-0.8zM231.8 361.5h0.8v0.8h-0.8zM220.0 370.2h0.8v0.8h-0.8zM230.4 368.6h0.8v0.8h-0.8zM212.3 343.6h0.8v0.8h-0.8zM208.9 363.3h0.8v0.8h-0.8zM223.7 370.5h0.8v0.8h-0.8zM222.2 362.2h0.8v0.8h-0.8zM216.2 370.5h0.8v0.8h-0.8zM219.6 363.5h0.8v0.8h-0.8zM220.2 356.9h0.8v0.8h-0.8zM213.1 360.6h0.8v0.8h-0.8zM219.7 344.1h0.8v0.8h-0.8zM209.6 362.6h0.8v0.8h-0.8zM212.6 338.9h0.8v0.8h-0.8zM220.8 371.9h0.8v0.8h-0.8zM222.8 365.7h0.8v0.8h-0.8zM216.7 331.3h0.8v0.8h-0.8zM210.0 336.1h0.8v0.8h-0.8zM212.1 338.2h0.8v0.8h-0.8zM233.2 372.1h0.8v0.8h-0.8zM220.1 348.5h0.8v0.8h-0.8zM223.3 360.3h0.8v0.8h-0.8zM221.7 344.2h0.8v0.8h-0.8zM216.1 347.8h0.8v0.8h-0.8zM210.6 347.4h0.8v0.8h-0.8zM220.0 366.2h0.8v0.8h-0.8zM214.1 371.1h0.8v0.8h-0.8zM221.8 344.2h0.8v0.8h-0.8zM230.5 361.1h0.8v0.8h-0.8zM220.4 367.0h0.8v0.8h-0.8zM223.8 348.0h0.8v0.8h-0.8zM209.6 361.2h0.8v0.8h-0.8zM230.4 359.2h0.8v0.8h-0.8zM219.4 368.0h0.8v0.8h-0.8zM211.9 358.4h0.8v0.8h-0.8zM209.2 349.1h0.8v0.8h-0.8zM217.6 351.5h0.8v0.8h-0.8zM213.9 343.3h0.8v0.8h-0.8zM227.0 355.2h0.8v0.8h-0.8zM226.9 337.2h0.8v0.8h-0.8zM215.0 369.0h0.8v0.8h-0.8zM224.4 358.0h0.8v0.8h-0.8zM214.0 336.5h0.8v0.8h-0.8zM221.4 370.3h0.8v0.8h-0.8zM220.1 362.0h0.8v0.8h-0.8zM215.4 352.1h0.8v0.8h-0.8zM220.7 335.1h0.8v0.8h-0.8zM216.3 368.9h0.8v0.8h-0.8zM209.7 350.8h0.8v0.8h-0.8zM208.9 344.7h0.8v0.8h-0.8zM220.4 366.4h0.8v0.8h-0.8zM218.7 358.7h0.8v0.8h-0.8zM226.0 366.8h0.8v0.8h-0.8zM211.8 346.4h0.8v0.8h-0.8zM223.2 369.2h0.8v0.8h-0.8zM221.5 362.9h0.8v0.8h-0.8zM228.8 364.2h0.8v0.8h-0.8zM210.3 366.5h0.8v0.8h-0.8zM213.8 365.5h0.8v0.8h-0.8zM220.8 364.0h0.8v0.8h-0.8zM211.6 349.1h0.8v0.8h-0.8zM224.6 368.9h0.8v0.8h-0.8zM231.1 371.8h0.8v0.8h-0.8zM211.9 361.9h0.8v0.8h-0.8zM227.4 367.0h0.8v0.8h-0.8zM212.4 362.8h0.8v0.8h-0.8zM230.8 346.3h0.8v0.8h-0.8zM220.1 364.6h0.8v0.8h-0.8zM226.9 353.5h0.8v0.8h-0.8zM218.8 359.5h0.8v0.8h-0.8zM216.0 354.1h0.8v0.8h-0.8zM210.7 370.8h0.8v0.8h-0.8zM221.7 347.1h0.8v0.8h-0.8zM209.0 368.4h0.8v0.8h-0.8zM229.2 370.7h0.8v0.8h-0.8zM208.9 364.2h0.8v0.8h-0.8zM209.5 368.1h0.8v0.8h-0.8zM221.1 346.4h0.8v0.8h-0.8zM224.9 363.9h0.8v0.8h-0.8zM221.0 357.8h0.8v0.8h-0.8zM211.6 360.4h0.8v0.8h-0.8zM212.3 360.6h0.8v0.8h-0.8zM212.0 364.6h0.8v0.8h-0.8zM212.1 371.7h0.8v0.8h-0.8zM219.5 342.1h0.8v0.8h-0.8zM224.5 345.8h0.8v0.8h-0.8zM212.8 350.9h0.8v0.8h-0.8zM230.7 368.3h0.8v0.8h-0.8zM225.6 353.6h0.8v0.8h-0.8zM227.0 360.6h0.8v0.8h-0.8zM214.7 367.5h0.8v0.8h-0.8zM220.1 367.2h0.8v0.8h-0.8zM225.6 350.7h0.8v0.8h-0.8zM210.0 337.7h0.8v0.8h-0.8zM224.7 348.0h0.8v0.8h-0.8zM220.2 348.4h0.8v0.8h-0.8zM220.6 359.8h0.8v0.8h-0.8zM214.5 344.7h0.8v0.8h-0.8zM235.4 368.2h0.8v0.8h-0.8zM222.8 345.8h0.8v0.8h-0.8zM235.6 361.9h0.8v0.8h-0.8zM235.4 358.9h0.8v0.8h-0.8zM218.7 362.2h0.8v0.8h-0.8zM225.9 350.0h0.8v0.8h-0.8zM210.0 346.9h0.8v0.8h-0.8zM211.1 358.6h0.8v0.8h-0.8zM218.6 362.9h0.8v0.8h-0.8zM210.2 354.8h0.8v0.8h-0.8zM229.3 352.2h0.8v0.8h-0.8zM211.3 349.4h0.8v0.8h-0.8zM211.7 363.9h0.8v0.8h-0.8zM220.6 335.7h0.8v0.8h-0.8zM230.3 369.1h0.8v0.8h-0.8zM226.4 357.7h0.8v0.8h-0.8zM216.8 352.0h0.8v0.8h-0.8zM212.0 343.2h0.8v0.8h-0.8zM221.3 336.3h0.8v0.8h-0.8zM216.9 330.0h0.8v0.8h-0.8zM214.7 361.5h0.8v0.8h-0.8zM222.1 343.8h0.8v0.8h-0.8zM234.2 353.5h0.8v0.8h-0.8zM211.1 362.0h0.8v0.8h-0.8zM215.4 346.4h0.8v0.8h-0.8zM210.7 356.6h0.8v0.8h-0.8zM212.4 360.6h0.8v0.8h-0.8zM221.1 359.3h0.8v0.8h-0.8zM223.6 366.7h0.8v0.8h-0.8zM213.9 363.8h0.8v0.8h-0.8zM216.5 332.6h0.8v0.8h-0.8zM228.0 371.6h0.8v0.8h-0.8zM224.7 364.7h0.8v0.8h-0.8zM225.7 358.5h0.8v0.8h-0.8zM210.4 344.8h0.8v0.8h-0.8zM217.8 351.4h0.8v0.8h-0.8zM235.3 363.4h0.8v0.8h-0.8zM209.2 340.1h0.8v0.8h-0.8zM208.6 342.5h0.8v0.8h-0.8zM228.4 335.5h0.8v0.8h-0.8zM220.8 345.8h0.8v0.8h-0.8zM217.8 365.8h0.8v0.8h-0.8zM222.1 338.0h0.8v0.8h-0.8zM211.5 339.2h0.8v0.8h-0.8zM229.9 368.5h0.8v0.8h-0.8zM219.4 337.9h0.8v0.8h-0.8zM226.2 353.0h0.8v0.8h-0.8zM214.8 340.9h0.8v0.8h-0.8zM212.4 336.6h0.8v0.8h-0.8zM222.3 342.2h0.8v0.8h-0.8zM225.2 371.9h0.8v0.8h-0.8zM209.3 367.8h0.8v0.8h-0.8zM218.4 338.6h0.8v0.8h-0.8zM212.8 336.5h0.8v0.8h-0.8zM233.1 337.7h0.8v0.8h-0.8zM210.2 367.4h0.8v0.8h-0.8zM224.1 361.9h0.8v0.8h-0.8zM233.1 350.7h0.8v0.8h-0.8zM229.3 370.5h0.8v0.8h-0.8zM221.6 360.5h0.8v0.8h-0.8zM214.4 357.7h0.8v0.8h-0.8zM210.7 332.8h0.8v0.8h-0.8zM216.1 360.5h0.8v0.8h-0.8zM219.1 345.0h0.8v0.8h-0.8zM214.6 342.2h0.8v0.8h-0.8zM213.6 360.3h0.8v0.8h-0.8zM226.4 340.2h0.8v0.8h-0.8zM209.3 348.3h0.8v0.8h-0.8zM223.2 349.8h0.8v0.8h-0.8zM209.9 355.2h0.8v0.8h-0.8zM216.0 361.9h0.8v0.8h-0.8zM228.4 356.5h0.8v0.8h-0.8zM209.2 352.9h0.8v0.8h-0.8zM208.8 355.5h0.8v0.8h-0.8zM213.8 364.4h0.8v0.8h-0.8zM220.7 348.3h0.8v0.8h-0.8zM226.4 335.9h0.8v0.8h-0.8zM209.8 333.5h0.8v0.8h-0.8zM217.7 337.4h0.8v0.8h-0.8zM235.3 360.3h0.8v0.8h-0.8zM215.5 347.2h0.8v0.8h-0.8zM214.0 361.7h0.8v0.8h-0.8zM213.9 357.1h0.8v0.8h-0.8zM232.4 351.7h0.8v0.8h-0.8zM213.9 335.4h0.8v0.8h-0.8zM213.4 369.7h0.8v0.8h-0.8zM217.9 344.9h0.8v0.8h-0.8zM218.4 347.8h0.8v0.8h-0.8zM212.9 371.7h0.8v0.8h-0.8zM223.6 369.6h0.8v0.8h-0.8zM231.6 346.7h0.8v0.8h-0.8zM230.6 368.3h0.8v0.8h-0.8zM224.7 360.4h0.8v0.8h-0.8zM217.5 366.0h0.8v0.8h-0.8zM233.5 370.7h0.8v0.8h-0.8zM212.9 341.0h0.8v0.8h-0.8zM229.2 333.8h0.8v0.8h-0.8zM233.2 358.5h0.8v0.8h-0.8zM232.5 365.7h0.8v0.8h-0.8zM221.6 349.5h0.8v0.8h-0.8zM217.8 371.8h0.8v0.8h-0.8zM210.5 346.5h0.8v0.8h-0.8zM225.5 368.3h0.8v0.8h-0.8zM210.9 356.7h0.8v0.8h-0.8zM224.8 368.1h0.8v0.8h-0.8zM234.9 366.6h0.8v0.8h-0.8zM212.1 348.9h0.8v0.8h-0.8zM208.6 356.4h0.8v0.8h-0.8zM222.1 369.9h0.8v0.8h-0.8zM222.6 371.7h0.8v0.8h-0.8zM210.8 347.5h0.8v0.8h-0.8zM217.3 341.5h0.8v0.8h-0.8zM224.4 360.9h0.8v0.8h-0.8zM224.3 359.4h0.8v0.8h-0.8zM226.8 364.2h0.8v0.8h-0.8zM213.5 353.1h0.8v0.8h-0.8zM209.9 362.5h0.8v0.8h-0.8zM214.2 369.7h0.8v0.8h-0.8zM210.0 331.1h0.8v0.8h-0.8zM216.2 365.7h0.8v0.8h-0.8zM222.1 358.9h0.8v0.8h-0.8zM235.8 365.7h0.8v0.8h-0.8zM224.7 341.1h0.8v0.8h-0.8zM234.7 351.0h0.8v0.8h-0.8zM232.0 351.4h0.8v0.8h-0.8zM226.4 354.7h0.8v0.8h-0.8zM229.7 355.4h0.8v0.8h-0.8zM218.3 345.5h0.8v0.8h-0.8zM211.7 347.0h0.8v0.8h-0.8zM219.4 353.4h0.8v0.8h-0.8zM224.8 367.8h0.8v0.8h-0.8zM219.1 354.3h0.8v0.8h-0.8zM210.3 365.5h0.8v0.8h-0.8zM219.0 349.1h0.8v0.8h-0.8zM213.7 363.2h0.8v0.8h-0.8zM210.0 363.4h0.8v0.8h-0.8zM210.0 357.0h0.8v0.8h-0.8zM212.8 349.9h0.8v0.8h-0.8zM208.7 334.7h0.8v0.8h-0.8zM212.0 369.9h0.8v0.8h-0.8zM217.9 366.5h0.8v0.8h-0.8zM213.7 365.6h0.8v0.8h-0.8zM211.4 358.6h0.8v0.8h-0.8zM215.3 351.5h0.8v0.8h-0.8zM223.2 331.6h0.8v0.8h-0.8zM232.9 353.4h0.8v0.8h-0.8zM223.1 371.2h0.8v0.8h-0.8z"/><path fill="#6a5cbc" d="M209.6 347.5h0.8v0.8h-0.8zM216.5 337.3h0.8v0.8h-0.8zM211.0 355.8h0.8v0.8h-0.8zM225.4 370.3h0.8v0.8h-0.8zM216.4 351.6h0.8v0.8h-0.8zM211.9 364.6h0.8v0.8h-0.8zM210.1 361.4h0.8v0.8h-0.8zM225.3 347.8h0.8v0.8h-0.8zM210.3 345.8h0.8v0.8h-0.8zM228.0 369.1h0.8v0.8h-0.8zM213.9 362.0h0.8v0.8h-0.8zM223.5 363.2h0.8v0.8h-0.8zM220.7 342.5h0.8v0.8h-0.8zM213.6 371.3h0.8v0.8h-0.8zM223.8 363.5h0.8v0.8h-0.8zM213.3 357.9h0.8v0.8h-0.8zM228.0 355.6h0.8v0.8h-0.8zM228.2 339.3h0.8v0.8h-0.8zM209.4 365.3h0.8v0.8h-0.8zM222.2 330.7h0.8v0.8h-0.8zM211.4 355.8h0.8v0.8h-0.8zM214.7 331.8h0.8v0.8h-0.8zM225.4 366.7h0.8v0.8h-0.8zM213.2 345.9h0.8v0.8h-0.8zM208.7 344.8h0.8v0.8h-0.8zM209.6 344.6h0.8v0.8h-0.8zM214.0 351.0h0.8v0.8h-0.8zM209.9 356.6h0.8v0.8h-0.8zM214.6 347.8h0.8v0.8h-0.8zM235.3 365.6h0.8v0.8h-0.8zM210.2 357.9h0.8v0.8h-0.8zM210.6 348.7h0.8v0.8h-0.8zM212.4 359.9h0.8v0.8h-0.8zM225.4 355.6h0.8v0.8h-0.8zM232.7 335.3h0.8v0.8h-0.8zM217.3 364.6h0.8v0.8h-0.8zM229.7 356.3h0.8v0.8h-0.8zM223.7 343.4h0.8v0.8h-0.8zM209.0 369.7h0.8v0.8h-0.8zM210.1 369.5h0.8v0.8h-0.8zM231.1 366.6h0.8v0.8h-0.8zM219.5 370.0h0.8v0.8h-0.8zM233.9 356.0h0.8v0.8h-0.8zM227.1 349.6h0.8v0.8h-0.8zM210.1 362.0h0.8v0.8h-0.8zM214.3 339.4h0.8v0.8h-0.8zM220.7 368.9h0.8v0.8h-0.8zM213.8 353.4h0.8v0.8h-0.8zM231.3 357.4h0.8v0.8h-0.8zM211.4 350.0h0.8v0.8h-0.8zM208.9 359.2h0.8v0.8h-0.8zM209.0 332.2h0.8v0.8h-0.8zM210.7 362.2h0.8v0.8h-0.8zM217.4 361.1h0.8v0.8h-0.8zM221.8 358.3h0.8v0.8h-0.8zM213.6 361.1h0.8v0.8h-0.8zM225.2 360.4h0.8v0.8h-0.8zM225.9 345.0h0.8v0.8h-0.8zM211.1 355.9h0.8v0.8h-0.8zM234.4 355.2h0.8v0.8h-0.8zM217.5 352.5h0.8v0.8h-0.8zM223.6 358.0h0.8v0.8h-0.8zM224.4 338.8h0.8v0.8h-0.8zM216.3 348.5h0.8v0.8h-0.8zM209.7 338.5h0.8v0.8h-0.8zM212.6 369.8h0.8v0.8h-0.8zM222.0 366.5h0.8v0.8h-0.8zM224.0 358.0h0.8v0.8h-0.8zM231.1 363.4h0.8v0.8h-0.8zM226.0 337.6h0.8v0.8h-0.8zM218.6 366.6h0.8v0.8h-0.8zM217.0 331.7h0.8v0.8h-0.8zM211.8 364.9h0.8v0.8h-0.8zM220.4 349.6h0.8v0.8h-0.8zM230.4 360.3h0.8v0.8h-0.8zM215.2 362.4h0.8v0.8h-0.8zM210.5 333.8h0.8v0.8h-0.8zM222.2 330.4h0.8v0.8h-0.8zM221.1 338.8h0.8v0.8h-0.8zM221.5 364.9h0.8v0.8h-0.8zM218.8 367.4h0.8v0.8h-0.8zM229.6 367.1h0.8v0.8h-0.8zM215.4 344.9h0.8v0.8h-0.8zM222.5 354.2h0.8v0.8h-0.8zM226.7 356.7h0.8v0.8h-0.8zM225.1 340.1h0.8v0.8h-0.8zM223.5 359.0h0.8v0.8h-0.8zM223.7 364.1h0.8v0.8h-0.8zM210.5 365.8h0.8v0.8h-0.8zM221.8 344.4h0.8v0.8h-0.8zM209.3 357.3h0.8v0.8h-0.8zM225.3 338.0h0.8v0.8h-0.8zM219.9 363.5h0.8v0.8h-0.8zM222.2 346.3h0.8v0.8h-0.8zM208.6 357.0h0.8v0.8h-0.8zM230.9 363.5h0.8v0.8h-0.8zM214.8 371.1h0.8v0.8h-0.8zM214.9 357.7h0.8v0.8h-0.8zM221.2 351.8h0.8v0.8h-0.8zM213.1 361.3h0.8v0.8h-0.8zM218.2 359.4h0.8v0.8h-0.8zM209.7 371.7h0.8v0.8h-0.8zM208.7 357.5h0.8v0.8h-0.8zM211.9 366.8h0.8v0.8h-0.8zM211.5 367.8h0.8v0.8h-0.8zM211.8 365.6h0.8v0.8h-0.8zM227.8 356.6h0.8v0.8h-0.8zM229.3 361.9h0.8v0.8h-0.8zM215.9 369.6h0.8v0.8h-0.8zM225.3 351.3h0.8v0.8h-0.8zM211.6 343.1h0.8v0.8h-0.8zM225.4 372.0h0.8v0.8h-0.8zM219.0 369.1h0.8v0.8h-0.8zM217.5 368.0h0.8v0.8h-0.8zM227.7 348.0h0.8v0.8h-0.8zM211.9 371.7h0.8v0.8h-0.8zM224.0 354.6h0.8v0.8h-0.8zM210.6 365.8h0.8v0.8h-0.8zM214.9 356.2h0.8v0.8h-0.8zM217.0 366.8h0.8v0.8h-0.8zM229.7 370.6h0.8v0.8h-0.8zM208.7 332.7h0.8v0.8h-0.8zM218.3 361.6h0.8v0.8h-0.8zM220.5 350.6h0.8v0.8h-0.8zM209.8 354.2h0.8v0.8h-0.8zM209.1 371.9h0.8v0.8h-0.8zM213.3 347.3h0.8v0.8h-0.8zM215.9 336.8h0.8v0.8h-0.8zM214.1 370.4h0.8v0.8h-0.8zM216.5 360.4h0.8v0.8h-0.8zM214.9 363.6h0.8v0.8h-0.8zM224.6 365.3h0.8v0.8h-0.8zM221.2 353.5h0.8v0.8h-0.8zM218.1 345.9h0.8v0.8h-0.8zM215.9 348.9h0.8v0.8h-0.8zM217.7 355.1h0.8v0.8h-0.8zM213.3 363.4h0.8v0.8h-0.8zM216.7 369.9h0.8v0.8h-0.8zM221.0 367.4h0.8v0.8h-0.8zM209.2 369.0h0.8v0.8h-0.8zM222.6 350.9h0.8v0.8h-0.8zM214.2 343.9h0.8v0.8h-0.8zM209.4 353.2h0.8v0.8h-0.8zM219.2 360.7h0.8v0.8h-0.8zM217.9 334.9h0.8v0.8h-0.8zM210.0 339.6h0.8v0.8h-0.8zM218.3 335.9h0.8v0.8h-0.8zM210.2 359.0h0.8v0.8h-0.8zM211.7 366.5h0.8v0.8h-0.8zM223.7 368.3h0.8v0.8h-0.8zM227.4 358.7h0.8v0.8h-0.8zM212.5 336.3h0.8v0.8h-0.8zM225.9 330.5h0.8v0.8h-0.8zM232.6 354.2h0.8v0.8h-0.8zM223.0 370.1h0.8v0.8h-0.8zM210.3 347.2h0.8v0.8h-0.8zM215.6 346.5h0.8v0.8h-0.8zM212.3 368.1h0.8v0.8h-0.8zM230.1 330.5h0.8v0.8h-0.8zM226.9 370.4h0.8v0.8h-0.8zM210.5 355.7h0.8v0.8h-0.8zM209.3 362.9h0.8v0.8h-0.8zM212.3 346.9h0.8v0.8h-0.8zM216.0 362.3h0.8v0.8h-0.8zM228.3 336.3h0.8v0.8h-0.8zM231.6 346.6h0.8v0.8h-0.8zM232.2 354.9h0.8v0.8h-0.8zM210.2 371.2h0.8v0.8h-0.8zM219.2 363.5h0.8v0.8h-0.8zM221.1 337.5h0.8v0.8h-0.8zM221.0 362.3h0.8v0.8h-0.8zM209.8 369.6h0.8v0.8h-0.8zM214.9 370.8h0.8v0.8h-0.8zM218.0 331.6h0.8v0.8h-0.8zM223.4 335.6h0.8v0.8h-0.8zM230.7 361.0h0.8v0.8h-0.8zM235.8 368.7h0.8v0.8h-0.8zM224.3 341.4h0.8v0.8h-0.8zM214.9 355.8h0.8v0.8h-0.8zM213.7 342.3h0.8v0.8h-0.8zM219.8 360.7h0.8v0.8h-0.8zM216.2 339.8h0.8v0.8h-0.8zM225.4 356.4h0.8v0.8h-0.8zM210.8 355.8h0.8v0.8h-0.8zM211.4 360.8h0.8v0.8h-0.8zM224.8 371.4h0.8v0.8h-0.8zM221.9 347.5h0.8v0.8h-0.8zM225.1 352.0h0.8v0.8h-0.8zM220.5 362.1h0.8v0.8h-0.8zM217.4 367.4h0.8v0.8h-0.8zM235.5 356.8h0.8v0.8h-0.8zM228.1 370.7h0.8v0.8h-0.8zM224.9 337.4h0.8v0.8h-0.8zM219.8 354.2h0.8v0.8h-0.8zM210.0 354.7h0.8v0.8h-0.8zM217.7 358.4h0.8v0.8h-0.8zM211.1 334.0h0.8v0.8h-0.8zM218.2 367.9h0.8v0.8h-0.8zM211.3 347.5h0.8v0.8h-0.8zM226.4 356.7h0.8v0.8h-0.8zM228.7 358.8h0.8v0.8h-0.8zM221.1 357.8h0.8v0.8h-0.8zM228.6 358.9h0.8v0.8h-0.8zM212.8 351.3h0.8v0.8h-0.8zM211.5 334.9h0.8v0.8h-0.8zM225.2 367.9h0.8v0.8h-0.8zM224.4 367.1h0.8v0.8h-0.8zM232.0 348.8h0.8v0.8h-0.8zM223.2 358.9h0.8v0.8h-0.8zM209.0 353.5h0.8v0.8h-0.8zM234.8 356.1h0.8v0.8h-0.8zM224.1 352.0h0.8v0.8h-0.8zM214.1 362.2h0.8v0.8h-0.8zM214.3 350.1h0.8v0.8h-0.8zM208.9 348.3h0.8v0.8h-0.8zM227.0 349.6h0.8v0.8h-0.8zM211.4 358.9h0.8v0.8h-0.8zM211.5 368.2h0.8v0.8h-0.8zM215.2 340.6h0.8v0.8h-0.8zM229.9 346.7h0.8v0.8h-0.8zM231.7 362.9h0.8v0.8h-0.8zM221.0 361.8h0.8v0.8h-0.8zM232.1 359.5h0.8v0.8h-0.8zM225.6 358.4h0.8v0.8h-0.8zM209.3 351.1h0.8v0.8h-0.8zM210.6 359.3h0.8v0.8h-0.8zM215.1 342.8h0.8v0.8h-0.8zM217.1 336.3h0.8v0.8h-0.8zM210.8 365.7h0.8v0.8h-0.8zM226.8 364.9h0.8v0.8h-0.8zM221.3 363.6h0.8v0.8h-0.8zM212.3 367.8h0.8v0.8h-0.8zM216.8 330.8h0.8v0.8h-0.8zM221.1 357.5h0.8v0.8h-0.8zM211.6 350.0h0.8v0.8h-0.8zM217.6 360.6h0.8v0.8h-0.8zM211.8 334.0h0.8v0.8h-0.8zM223.6 350.4h0.8v0.8h-0.8zM235.3 368.8h0.8v0.8h-0.8zM231.7 370.6h0.8v0.8h-0.8zM216.8 342.1h0.8v0.8h-0.8zM213.6 357.4h0.8v0.8h-0.8zM227.6 356.8h0.8v0.8h-0.8zM212.0 354.7h0.8v0.8h-0.8zM208.9 367.3h0.8v0.8h-0.8zM217.7 363.7h0.8v0.8h-0.8zM218.1 343.2h0.8v0.8h-0.8zM226.4 365.0h0.8v0.8h-0.8zM232.9 362.9h0.8v0.8h-0.8zM222.5 334.6h0.8v0.8h-0.8zM211.3 350.2h0.8v0.8h-0.8zM208.7 357.1h0.8v0.8h-0.8zM221.4 361.8h0.8v0.8h-0.8zM225.5 357.5h0.8v0.8h-0.8zM228.8 333.4h0.8v0.8h-0.8zM230.0 342.7h0.8v0.8h-0.8zM230.2 369.0h0.8v0.8h-0.8zM218.8 330.8h0.8v0.8h-0.8zM220.0 333.9h0.8v0.8h-0.8zM212.7 368.0h0.8v0.8h-0.8zM227.6 355.2h0.8v0.8h-0.8zM212.2 367.5h0.8v0.8h-0.8zM209.0 371.7h0.8v0.8h-0.8zM212.4 342.8h0.8v0.8h-0.8zM222.2 367.1h0.8v0.8h-0.8zM229.2 369.3h0.8v0.8h-0.8zM225.5 372.0h0.8v0.8h-0.8zM234.8 352.1h0.8v0.8h-0.8zM209.8 359.2h0.8v0.8h-0.8zM212.2 334.8h0.8v0.8h-0.8zM208.6 362.1h0.8v0.8h-0.8zM228.0 362.3h0.8v0.8h-0.8zM212.2 349.2h0.8v0.8h-0.8zM212.7 363.1h0.8v0.8h-0.8zM209.5 340.3h0.8v0.8h-0.8zM213.9 355.5h0.8v0.8h-0.8zM213.5 343.5h0.8v0.8h-0.8zM209.1 367.5h0.8v0.8h-0.8zM210.7 351.2h0.8v0.8h-0.8zM212.9 350.6h0.8v0.8h-0.8zM224.5 337.8h0.8v0.8h-0.8zM213.8 358.8h0.8v0.8h-0.8zM217.4 370.8h0.8v0.8h-0.8zM214.6 357.3h0.8v0.8h-0.8zM214.2 332.0h0.8v0.8h-0.8zM215.5 367.3h0.8v0.8h-0.8zM223.8 351.3h0.8v0.8h-0.8zM219.4 343.9h0.8v0.8h-0.8zM222.4 370.6h0.8v0.8h-0.8zM231.2 351.5h0.8v0.8h-0.8zM223.6 365.0h0.8v0.8h-0.8zM217.3 367.9h0.8v0.8h-0.8zM219.8 353.5h0.8v0.8h-0.8zM232.4 357.0h0.8v0.8h-0.8zM222.7 346.3h0.8v0.8h-0.8zM213.1 364.0h0.8v0.8h-0.8zM219.4 341.3h0.8v0.8h-0.8zM218.6 351.8h0.8v0.8h-0.8zM210.7 366.0h0.8v0.8h-0.8zM211.7 337.1h0.8v0.8h-0.8zM211.2 356.9h0.8v0.8h-0.8zM233.1 353.5h0.8v0.8h-0.8zM220.8 344.0h0.8v0.8h-0.8zM227.7 362.7h0.8v0.8h-0.8zM225.6 368.9h0.8v0.8h-0.8zM210.9 355.8h0.8v0.8h-0.8zM208.7 355.1h0.8v0.8h-0.8zM218.0 351.2h0.8v0.8h-0.8zM223.7 366.1h0.8v0.8h-0.8zM213.2 339.9h0.8v0.8h-0.8zM229.1 363.5h0.8v0.8h-0.8zM213.6 371.2h0.8v0.8h-0.8zM214.0 364.9h0.8v0.8h-0.8zM213.4 332.9h0.8v0.8h-0.8zM231.3 345.6h0.8v0.8h-0.8zM216.7 365.1h0.8v0.8h-0.8zM221.1 331.0h0.8v0.8h-0.8zM220.5 352.2h0.8v0.8h-0.8zM232.6 360.2h0.8v0.8h-0.8zM234.1 362.4h0.8v0.8h-0.8zM212.4 352.7h0.8v0.8h-0.8zM209.0 363.2h0.8v0.8h-0.8zM219.5 370.1h0.8v0.8h-0.8zM213.9 369.0h0.8v0.8h-0.8zM223.3 369.0h0.8v0.8h-0.8zM210.9 336.2h0.8v0.8h-0.8zM219.1 364.8h0.8v0.8h-0.8zM221.7 361.0h0.8v0.8h-0.8zM227.7 346.4h0.8v0.8h-0.8zM225.2 361.8h0.8v0.8h-0.8zM210.3 352.4h0.8v0.8h-0.8zM222.4 348.9h0.8v0.8h-0.8zM212.7 357.8h0.8v0.8h-0.8zM214.3 338.6h0.8v0.8h-0.8zM209.2 349.8h0.8v0.8h-0.8zM213.4 364.2h0.8v0.8h-0.8zM219.7 356.3h0.8v0.8h-0.8zM219.1 362.2h0.8v0.8h-0.8zM227.8 362.3h0.8v0.8h-0.8zM213.6 357.5h0.8v0.8h-0.8zM214.0 340.2h0.8v0.8h-0.8zM222.9 370.9h0.8v0.8h-0.8zM221.9 333.0h0.8v0.8h-0.8zM231.0 344.6h0.8v0.8h-0.8zM232.1 350.4h0.8v0.8h-0.8zM222.5 339.7h0.8v0.8h-0.8zM230.0 363.3h0.8v0.8h-0.8zM225.5 370.3h0.8v0.8h-0.8zM214.1 340.9h0.8v0.8h-0.8zM214.3 355.4h0.8v0.8h-0.8zM214.8 365.2h0.8v0.8h-0.8zM209.3 346.1h0.8v0.8h-0.8z"/><path fill="#3a30a0" d="M230.8 370.7h0.8v0.8h-0.8zM209.1 333.8h0.8v0.8h-0.8zM218.0 368.2h0.8v0.8h-0.8zM216.4 336.9h0.8v0.8h-0.8zM212.7 360.3h0.8v0.8h-0.8zM229.7 334.8h0.8v0.8h-0.8zM226.2 370.2h0.8v0.8h-0.8zM226.4 350.5h0.8v0.8h-0.8zM227.0 370.2h0.8v0.8h-0.8zM224.4 370.8h0.8v0.8h-0.8zM215.0 353.7h0.8v0.8h-0.8zM212.4 334.8h0.8v0.8h-0.8zM208.8 349.6h0.8v0.8h-0.8zM214.2 330.1h0.8v0.8h-0.8zM216.8 350.2h0.8v0.8h-0.8zM221.7 342.7h0.8v0.8h-0.8zM210.2 368.4h0.8v0.8h-0.8zM210.1 351.5h0.8v0.8h-0.8zM217.4 347.4h0.8v0.8h-0.8zM214.2 346.5h0.8v0.8h-0.8zM213.7 350.2h0.8v0.8h-0.8zM218.7 358.4h0.8v0.8h-0.8zM208.8 348.9h0.8v0.8h-0.8zM210.3 343.9h0.8v0.8h-0.8zM213.9 370.0h0.8v0.8h-0.8zM225.2 367.1h0.8v0.8h-0.8zM231.6 357.8h0.8v0.8h-0.8zM208.7 369.6h0.8v0.8h-0.8zM217.3 358.2h0.8v0.8h-0.8zM218.9 356.0h0.8v0.8h-0.8zM212.8 368.7h0.8v0.8h-0.8zM230.9 347.7h0.8v0.8h-0.8zM226.7 357.4h0.8v0.8h-0.8zM228.9 348.1h0.8v0.8h-0.8zM220.3 365.6h0.8v0.8h-0.8zM229.2 360.3h0.8v0.8h-0.8zM223.7 352.2h0.8v0.8h-0.8zM223.7 362.5h0.8v0.8h-0.8zM219.5 367.9h0.8v0.8h-0.8zM228.6 334.3h0.8v0.8h-0.8zM225.6 357.0h0.8v0.8h-0.8zM218.3 348.8h0.8v0.8h-0.8zM215.0 346.3h0.8v0.8h-0.8zM226.1 341.0h0.8v0.8h-0.8zM217.3 370.9h0.8v0.8h-0.8zM228.7 345.7h0.8v0.8h-0.8zM223.6 359.1h0.8v0.8h-0.8zM222.1 334.1h0.8v0.8h-0.8zM214.6 348.8h0.8v0.8h-0.8zM209.5 362.0h0.8v0.8h-0.8zM210.7 358.3h0.8v0.8h-0.8zM217.9 354.8h0.8v0.8h-0.8zM212.6 353.4h0.8v0.8h-0.8zM215.8 367.0h0.8v0.8h-0.8zM226.2 369.7h0.8v0.8h-0.8zM221.4 364.8h0.8v0.8h-0.8zM225.7 367.3h0.8v0.8h-0.8zM210.0 359.4h0.8v0.8h-0.8zM212.0 365.4h0.8v0.8h-0.8zM231.5 355.2h0.8v0.8h-0.8zM208.6 346.2h0.8v0.8h-0.8zM211.8 332.6h0.8v0.8h-0.8zM218.6 368.7h0.8v0.8h-0.8zM216.1 338.3h0.8v0.8h-0.8zM212.6 358.1h0.8v0.8h-0.8zM212.0 356.5h0.8v0.8h-0.8zM221.5 357.2h0.8v0.8h-0.8zM209.4 330.8h0.8v0.8h-0.8zM220.1 371.9h0.8v0.8h-0.8zM224.6 361.0h0.8v0.8h-0.8zM209.5 356.9h0.8v0.8h-0.8zM209.8 352.8h0.8v0.8h-0.8zM219.5 355.2h0.8v0.8h-0.8zM224.9 332.3h0.8v0.8h-0.8zM211.4 366.2h0.8v0.8h-0.8zM228.7 369.4h0.8v0.8h-0.8zM215.4 371.8h0.8v0.8h-0.8zM218.3 370.5h0.8v0.8h-0.8zM233.6 345.2h0.8v0.8h-0.8zM210.7 341.2h0.8v0.8h-0.8zM216.8 333.7h0.8v0.8h-0.8zM218.8 351.4h0.8v0.8h-0.8zM222.7 359.5h0.8v0.8h-0.8zM226.3 354.5h0.8v0.8h-0.8zM231.0 357.0h0.8v0.8h-0.8zM230.0 359.0h0.8v0.8h-0.8zM211.0 368.5h0.8v0.8h-0.8zM227.7 360.6h0.8v0.8h-0.8zM233.3 360.3h0.8v0.8h-0.8zM224.8 367.8h0.8v0.8h-0.8zM213.0 331.1h0.8v0.8h-0.8zM225.8 362.6h0.8v0.8h-0.8zM218.0 339.6h0.8v0.8h-0.8zM213.6 369.9h0.8v0.8h-0.8zM210.8 371.4h0.8v0.8h-0.8zM213.6 370.5h0.8v0.8h-0.8zM226.2 370.0h0.8v0.8h-0.8zM210.1 346.9h0.8v0.8h-0.8zM213.6 356.3h0.8v0.8h-0.8zM226.2 339.0h0.8v0.8h-0.8zM224.7 361.6h0.8v0.8h-0.8zM234.9 370.2h0.8v0.8h-0.8zM210.5 362.0h0.8v0.8h-0.8zM233.0 370.0h0.8v0.8h-0.8zM214.9 357.2h0.8v0.8h-0.8zM212.8 370.6h0.8v0.8h-0.8zM226.4 335.4h0.8v0.8h-0.8zM220.3 350.4h0.8v0.8h-0.8zM211.5 347.3h0.8v0.8h-0.8zM222.7 353.4h0.8v0.8h-0.8zM214.6 366.6h0.8v0.8h-0.8zM212.7 368.1h0.8v0.8h-0.8zM223.0 350.4h0.8v0.8h-0.8zM216.5 360.6h0.8v0.8h-0.8zM230.5 363.2h0.8v0.8h-0.8zM223.9 366.7h0.8v0.8h-0.8zM216.6 338.8h0.8v0.8h-0.8zM214.5 362.5h0.8v0.8h-0.8zM224.5 343.0h0.8v0.8h-0.8zM222.8 371.6h0.8v0.8h-0.8zM225.5 353.3h0.8v0.8h-0.8zM217.2 340.4h0.8v0.8h-0.8zM226.6 368.8h0.8v0.8h-0.8zM233.5 346.5h0.8v0.8h-0.8zM218.3 358.2h0.8v0.8h-0.8zM224.3 334.9h0.8v0.8h-0.8zM209.0 347.0h0.8v0.8h-0.8zM210.8 350.6h0.8v0.8h-0.8zM215.4 338.6h0.8v0.8h-0.8zM234.1 371.5h0.8v0.8h-0.8zM216.8 335.1h0.8v0.8h-0.8zM225.9 367.3h0.8v0.8h-0.8zM224.7 353.0h0.8v0.8h-0.8zM234.2 363.4h0.8v0.8h-0.8zM224.3 360.8h0.8v0.8h-0.8zM217.8 356.6h0.8v0.8h-0.8zM214.4 359.9h0.8v0.8h-0.8zM209.4 366.9h0.8v0.8h-0.8zM233.9 365.3h0.8v0.8h-0.8zM222.8 345.3h0.8v0.8h-0.8zM232.4 368.5h0.8v0.8h-0.8zM229.8 357.8h0.8v0.8h-0.8zM225.5 367.3h0.8v0.8h-0.8zM209.3 365.7h0.8v0.8h-0.8zM231.1 343.5h0.8v0.8h-0.8zM224.3 352.2h0.8v0.8h-0.8zM227.2 341.8h0.8v0.8h-0.8zM221.2 365.3h0.8v0.8h-0.8zM218.3 367.2h0.8v0.8h-0.8zM213.6 353.5h0.8v0.8h-0.8zM221.6 333.3h0.8v0.8h-0.8zM220.9 367.2h0.8v0.8h-0.8zM218.9 370.1h0.8v0.8h-0.8zM212.9 346.2h0.8v0.8h-0.8zM217.6 365.9h0.8v0.8h-0.8zM233.9 357.2h0.8v0.8h-0.8zM228.2 365.8h0.8v0.8h-0.8zM223.6 359.0h0.8v0.8h-0.8zM223.7 371.7h0.8v0.8h-0.8zM222.8 361.1h0.8v0.8h-0.8zM234.6 368.0h0.8v0.8h-0.8zM216.1 337.8h0.8v0.8h-0.8zM218.6 350.0h0.8v0.8h-0.8zM225.2 330.4h0.8v0.8h-0.8zM220.9 370.7h0.8v0.8h-0.8zM231.4 356.4h0.8v0.8h-0.8zM230.3 341.4h0.8v0.8h-0.8zM234.5 357.3h0.8v0.8h-0.8zM210.2 370.7h0.8v0.8h-0.8zM213.7 361.2h0.8v0.8h-0.8zM212.3 359.3h0.8v0.8h-0.8zM217.1 339.2h0.8v0.8h-0.8zM216.7 334.0h0.8v0.8h-0.8zM216.5 370.8h0.8v0.8h-0.8zM216.3 371.0h0.8v0.8h-0.8zM211.9 337.1h0.8v0.8h-0.8zM212.9 361.5h0.8v0.8h-0.8zM234.9 370.8h0.8v0.8h-0.8zM220.7 367.3h0.8v0.8h-0.8zM209.6 351.4h0.8v0.8h-0.8zM232.2 333.6h0.8v0.8h-0.8zM220.2 336.0h0.8v0.8h-0.8zM236.1 334.7h0.8v0.8h-0.8zM214.1 332.9h0.8v0.8h-0.8zM215.1 365.4h0.8v0.8h-0.8zM219.6 358.6h0.8v0.8h-0.8zM211.5 350.4h0.8v0.8h-0.8zM217.3 336.2h0.8v0.8h-0.8zM220.5 364.6h0.8v0.8h-0.8zM211.3 367.8h0.8v0.8h-0.8zM234.6 347.2h0.8v0.8h-0.8zM214.3 344.4h0.8v0.8h-0.8zM211.3 335.5h0.8v0.8h-0.8zM228.8 364.1h0.8v0.8h-0.8zM212.6 351.8h0.8v0.8h-0.8zM213.3 355.4h0.8v0.8h-0.8zM231.2 360.8h0.8v0.8h-0.8zM223.2 361.2h0.8v0.8h-0.8zM214.1 347.2h0.8v0.8h-0.8zM209.5 336.2h0.8v0.8h-0.8zM222.0 339.9h0.8v0.8h-0.8zM216.2 371.8h0.8v0.8h-0.8zM226.2 336.6h0.8v0.8h-0.8zM231.8 349.1h0.8v0.8h-0.8zM229.5 363.6h0.8v0.8h-0.8zM220.2 347.3h0.8v0.8h-0.8zM214.0 369.6h0.8v0.8h-0.8zM216.9 345.9h0.8v0.8h-0.8zM211.4 337.4h0.8v0.8h-0.8zM235.4 369.9h0.8v0.8h-0.8zM229.7 337.3h0.8v0.8h-0.8zM209.8 347.1h0.8v0.8h-0.8zM219.6 346.8h0.8v0.8h-0.8zM234.7 355.1h0.8v0.8h-0.8zM225.3 357.9h0.8v0.8h-0.8zM216.0 368.8h0.8v0.8h-0.8zM217.3 360.0h0.8v0.8h-0.8zM215.8 354.9h0.8v0.8h-0.8zM227.1 355.1h0.8v0.8h-0.8zM214.2 340.0h0.8v0.8h-0.8zM222.6 358.8h0.8v0.8h-0.8zM218.6 370.6h0.8v0.8h-0.8zM209.8 363.2h0.8v0.8h-0.8zM224.1 366.5h0.8v0.8h-0.8zM210.0 364.6h0.8v0.8h-0.8zM224.5 346.7h0.8v0.8h-0.8zM216.2 342.5h0.8v0.8h-0.8zM223.6 333.9h0.8v0.8h-0.8zM209.4 341.5h0.8v0.8h-0.8zM221.9 370.1h0.8v0.8h-0.8zM216.1 370.1h0.8v0.8h-0.8zM222.1 355.8h0.8v0.8h-0.8zM223.7 339.6h0.8v0.8h-0.8zM224.8 336.0h0.8v0.8h-0.8zM216.3 340.7h0.8v0.8h-0.8zM233.2 362.3h0.8v0.8h-0.8zM210.6 353.3h0.8v0.8h-0.8zM212.8 360.9h0.8v0.8h-0.8zM213.5 357.9h0.8v0.8h-0.8zM216.3 368.2h0.8v0.8h-0.8zM214.2 366.6h0.8v0.8h-0.8zM226.9 365.0h0.8v0.8h-0.8zM226.1 370.9h0.8v0.8h-0.8zM219.9 364.5h0.8v0.8h-0.8zM208.8 368.0h0.8v0.8h-0.8zM218.1 369.1h0.8v0.8h-0.8zM210.2 343.9h0.8v0.8h-0.8zM215.6 343.1h0.8v0.8h-0.8zM230.2 366.5h0.8v0.8h-0.8zM214.7 370.1h0.8v0.8h-0.8zM223.3 347.4h0.8v0.8h-0.8zM210.9 340.0h0.8v0.8h-0.8zM229.4 346.2h0.8v0.8h-0.8zM230.9 351.2h0.8v0.8h-0.8zM231.8 356.6h0.8v0.8h-0.8zM218.7 339.5h0.8v0.8h-0.8zM232.7 357.5h0.8v0.8h-0.8zM208.9 369.8h0.8v0.8h-0.8zM213.1 330.9h0.8v0.8h-0.8zM218.9 342.0h0.8v0.8h-0.8zM212.9 368.5h0.8v0.8h-0.8zM227.4 351.5h0.8v0.8h-0.8zM216.3 348.3h0.8v0.8h-0.8zM214.2 368.9h0.8v0.8h-0.8zM212.1 354.3h0.8v0.8h-0.8zM217.1 337.2h0.8v0.8h-0.8zM226.7 344.0h0.8v0.8h-0.8zM225.4 349.8h0.8v0.8h-0.8zM222.6 361.8h0.8v0.8h-0.8zM221.3 369.1h0.8v0.8h-0.8zM213.0 344.7h0.8v0.8h-0.8zM218.5 350.7h0.8v0.8h-0.8zM210.0 360.6h0.8v0.8h-0.8zM231.6 360.1h0.8v0.8h-0.8zM227.8 361.2h0.8v0.8h-0.8zM215.4 334.9h0.8v0.8h-0.8zM210.6 365.7h0.8v0.8h-0.8zM228.1 336.1h0.8v0.8h-0.8zM212.1 363.2h0.8v0.8h-0.8zM225.5 354.2h0.8v0.8h-0.8zM225.0 364.8h0.8v0.8h-0.8zM211.3 332.4h0.8v0.8h-0.8zM217.6 340.8h0.8v0.8h-0.8zM223.2 352.9h0.8v0.8h-0.8zM224.4 355.6h0.8v0.8h-0.8zM210.3 342.2h0.8v0.8h-0.8zM230.5 370.7h0.8v0.8h-0.8zM234.6 370.9h0.8v0.8h-0.8zM217.3 343.2h0.8v0.8h-0.8zM228.6 366.1h0.8v0.8h-0.8zM224.6 350.8h0.8v0.8h-0.8zM228.9 336.6h0.8v0.8h-0.8zM216.1 369.3h0.8v0.8h-0.8zM214.5 364.8h0.8v0.8h-0.8zM211.2 345.4h0.8v0.8h-0.8zM226.8 368.3h0.8v0.8h-0.8zM210.9 340.6h0.8v0.8h-0.8zM223.1 338.3h0.8v0.8h-0.8zM209.6 339.3h0.8v0.8h-0.8zM224.8 360.8h0.8v0.8h-0.8zM212.8 350.8h0.8v0.8h-0.8zM211.4 354.5h0.8v0.8h-0.8zM220.8 361.9h0.8v0.8h-0.8zM213.6 334.3h0.8v0.8h-0.8zM215.5 348.6h0.8v0.8h-0.8zM217.3 351.4h0.8v0.8h-0.8zM235.5 367.0h0.8v0.8h-0.8zM214.1 369.0h0.8v0.8h-0.8zM225.2 371.5h0.8v0.8h-0.8zM211.5 342.1h0.8v0.8h-0.8zM219.1 365.9h0.8v0.8h-0.8zM231.8 346.0h0.8v0.8h-0.8zM215.5 365.9h0.8v0.8h-0.8zM226.0 357.3h0.8v0.8h-0.8zM212.5 358.1h0.8v0.8h-0.8zM231.5 344.2h0.8v0.8h-0.8zM210.8 365.5h0.8v0.8h-0.8zM221.5 345.1h0.8v0.8h-0.8zM214.0 356.3h0.8v0.8h-0.8zM218.7 361.9h0.8v0.8h-0.8zM209.8 341.8h0.8v0.8h-0.8zM217.2 368.1h0.8v0.8h-0.8zM228.0 368.4h0.8v0.8h-0.8zM210.6 345.4h0.8v0.8h-0.8zM219.3 343.1h0.8v0.8h-0.8zM209.3 341.3h0.8v0.8h-0.8zM209.0 355.7h0.8v0.8h-0.8zM217.2 356.8h0.8v0.8h-0.8zM218.7 371.5h0.8v0.8h-0.8zM222.8 352.7h0.8v0.8h-0.8zM217.8 349.9h0.8v0.8h-0.8zM214.4 363.7h0.8v0.8h-0.8zM215.3 355.9h0.8v0.8h-0.8zM215.9 371.6h0.8v0.8h-0.8zM213.6 356.0h0.8v0.8h-0.8zM212.9 360.1h0.8v0.8h-0.8zM225.1 369.1h0.8v0.8h-0.8zM209.7 354.9h0.8v0.8h-0.8zM219.6 346.5h0.8v0.8h-0.8zM215.8 361.9h0.8v0.8h-0.8zM225.1 336.7h0.8v0.8h-0.8zM217.8 341.8h0.8v0.8h-0.8zM214.7 351.4h0.8v0.8h-0.8zM220.4 353.3h0.8v0.8h-0.8zM230.8 329.9h0.8v0.8h-0.8zM213.8 364.2h0.8v0.8h-0.8zM213.0 354.0h0.8v0.8h-0.8zM226.6 362.2h0.8v0.8h-0.8zM211.7 363.1h0.8v0.8h-0.8zM229.0 351.3h0.8v0.8h-0.8zM217.6 340.7h0.8v0.8h-0.8zM210.2 371.6h0.8v0.8h-0.8zM221.7 360.5h0.8v0.8h-0.8zM230.9 363.9h0.8v0.8h-0.8zM215.9 346.6h0.8v0.8h-0.8zM227.6 364.5h0.8v0.8h-0.8zM220.6 370.2h0.8v0.8h-0.8zM211.4 333.7h0.8v0.8h-0.8z"/><path fill="#8a80cc" d="M211.3 354.6h0.8v0.8h-0.8zM226.7 355.0h0.8v0.8h-0.8zM213.3 355.2h0.8v0.8h-0.8zM211.3 342.6h0.8v0.8h-0.8zM235.3 363.0h0.8v0.8h-0.8zM213.8 348.6h0.8v0.8h-0.8zM230.4 361.7h0.8v0.8h-0.8zM235.9 370.6h0.8v0.8h-0.8zM211.9 361.2h0.8v0.8h-0.8zM214.6 349.1h0.8v0.8h-0.8zM208.7 345.7h0.8v0.8h-0.8zM226.8 344.5h0.8v0.8h-0.8zM216.3 363.6h0.8v0.8h-0.8zM217.8 356.3h0.8v0.8h-0.8zM214.4 362.2h0.8v0.8h-0.8zM215.0 342.6h0.8v0.8h-0.8zM223.2 359.9h0.8v0.8h-0.8zM212.1 353.2h0.8v0.8h-0.8zM216.0 336.5h0.8v0.8h-0.8zM224.8 363.4h0.8v0.8h-0.8zM228.2 371.6h0.8v0.8h-0.8zM212.2 358.7h0.8v0.8h-0.8zM219.2 361.0h0.8v0.8h-0.8zM230.8 364.0h0.8v0.8h-0.8zM224.3 354.5h0.8v0.8h-0.8zM217.3 367.5h0.8v0.8h-0.8zM222.6 355.0h0.8v0.8h-0.8zM231.7 369.4h0.8v0.8h-0.8zM220.4 352.0h0.8v0.8h-0.8zM219.5 352.2h0.8v0.8h-0.8zM227.9 349.5h0.8v0.8h-0.8zM209.8 364.4h0.8v0.8h-0.8zM222.9 361.5h0.8v0.8h-0.8zM220.7 345.8h0.8v0.8h-0.8zM230.1 363.5h0.8v0.8h-0.8zM211.8 349.7h0.8v0.8h-0.8zM217.6 337.2h0.8v0.8h-0.8zM209.5 370.5h0.8v0.8h-0.8zM234.4 366.8h0.8v0.8h-0.8zM212.6 369.0h0.8v0.8h-0.8zM216.6 372.0h0.8v0.8h-0.8zM232.5 350.4h0.8v0.8h-0.8zM224.6 340.5h0.8v0.8h-0.8zM211.5 356.5h0.8v0.8h-0.8zM236.1 353.0h0.8v0.8h-0.8zM225.8 358.6h0.8v0.8h-0.8zM212.9 344.1h0.8v0.8h-0.8zM234.8 368.1h0.8v0.8h-0.8zM216.9 371.5h0.8v0.8h-0.8zM214.7 359.4h0.8v0.8h-0.8zM221.2 354.0h0.8v0.8h-0.8zM229.7 369.7h0.8v0.8h-0.8zM222.6 365.8h0.8v0.8h-0.8zM212.5 334.7h0.8v0.8h-0.8zM216.2 368.0h0.8v0.8h-0.8zM212.8 371.8h0.8v0.8h-0.8zM229.1 370.1h0.8v0.8h-0.8zM212.0 331.5h0.8v0.8h-0.8zM228.1 341.9h0.8v0.8h-0.8zM210.8 369.4h0.8v0.8h-0.8zM215.7 349.9h0.8v0.8h-0.8zM231.8 368.0h0.8v0.8h-0.8zM217.4 370.2h0.8v0.8h-0.8zM213.9 336.7h0.8v0.8h-0.8zM215.3 344.4h0.8v0.8h-0.8zM213.6 369.8h0.8v0.8h-0.8zM216.8 369.6h0.8v0.8h-0.8zM213.7 345.2h0.8v0.8h-0.8zM227.7 367.3h0.8v0.8h-0.8zM209.6 354.6h0.8v0.8h-0.8zM214.4 341.0h0.8v0.8h-0.8zM226.0 361.4h0.8v0.8h-0.8zM217.0 370.9h0.8v0.8h-0.8zM223.9 366.3h0.8v0.8h-0.8zM217.6 362.2h0.8v0.8h-0.8zM212.4 341.5h0.8v0.8h-0.8zM222.6 358.0h0.8v0.8h-0.8zM219.3 350.8h0.8v0.8h-0.8zM212.3 331.0h0.8v0.8h-0.8zM211.0 370.0h0.8v0.8h-0.8zM216.5 369.2h0.8v0.8h-0.8zM217.8 354.2h0.8v0.8h-0.8zM209.9 336.5h0.8v0.8h-0.8zM228.5 370.6h0.8v0.8h-0.8zM222.2 366.4h0.8v0.8h-0.8zM234.7 354.7h0.8v0.8h-0.8zM224.0 340.2h0.8v0.8h-0.8zM210.1 358.4h0.8v0.8h-0.8zM223.0 368.6h0.8v0.8h-0.8zM214.6 352.7h0.8v0.8h-0.8zM217.4 345.3h0.8v0.8h-0.8zM213.0 344.4h0.8v0.8h-0.8zM226.8 362.0h0.8v0.8h-0.8zM222.3 354.2h0.8v0.8h-0.8zM220.6 333.5h0.8v0.8h-0.8zM221.6 356.7h0.8v0.8h-0.8zM219.2 367.7h0.8v0.8h-0.8zM228.5 347.9h0.8v0.8h-0.8zM229.3 368.5h0.8v0.8h-0.8zM223.4 364.3h0.8v0.8h-0.8zM231.0 342.8h0.8v0.8h-0.8zM216.2 350.3h0.8v0.8h-0.8zM222.8 340.4h0.8v0.8h-0.8zM211.9 345.0h0.8v0.8h-0.8zM235.1 369.8h0.8v0.8h-0.8zM219.8 364.2h0.8v0.8h-0.8zM213.1 348.2h0.8v0.8h-0.8zM225.4 368.9h0.8v0.8h-0.8zM216.5 370.3h0.8v0.8h-0.8zM225.5 347.6h0.8v0.8h-0.8zM212.7 363.9h0.8v0.8h-0.8zM211.6 343.0h0.8v0.8h-0.8zM209.3 369.0h0.8v0.8h-0.8zM224.5 359.0h0.8v0.8h-0.8zM226.3 350.8h0.8v0.8h-0.8zM226.2 341.2h0.8v0.8h-0.8zM214.7 369.6h0.8v0.8h-0.8zM217.8 371.9h0.8v0.8h-0.8zM213.3 343.3h0.8v0.8h-0.8zM214.2 339.0h0.8v0.8h-0.8zM224.9 360.3h0.8v0.8h-0.8zM228.9 362.3h0.8v0.8h-0.8zM213.2 344.5h0.8v0.8h-0.8zM208.9 339.3h0.8v0.8h-0.8zM223.6 332.4h0.8v0.8h-0.8zM218.0 368.5h0.8v0.8h-0.8zM211.2 348.0h0.8v0.8h-0.8zM232.5 351.7h0.8v0.8h-0.8zM218.5 335.6h0.8v0.8h-0.8zM214.2 350.9h0.8v0.8h-0.8zM210.6 359.4h0.8v0.8h-0.8zM215.0 348.9h0.8v0.8h-0.8zM223.5 345.7h0.8v0.8h-0.8zM216.1 359.2h0.8v0.8h-0.8zM229.5 362.0h0.8v0.8h-0.8zM226.2 359.3h0.8v0.8h-0.8zM221.9 355.1h0.8v0.8h-0.8zM226.5 366.5h0.8v0.8h-0.8zM229.1 345.1h0.8v0.8h-0.8zM219.6 364.7h0.8v0.8h-0.8zM215.6 347.0h0.8v0.8h-0.8zM216.0 368.4h0.8v0.8h-0.8zM218.8 353.0h0.8v0.8h-0.8zM228.4 369.4h0.8v0.8h-0.8zM214.7 350.4h0.8v0.8h-0.8zM209.1 336.1h0.8v0.8h-0.8zM227.5 357.2h0.8v0.8h-0.8zM215.8 335.0h0.8v0.8h-0.8zM231.1 356.2h0.8v0.8h-0.8zM215.9 362.5h0.8v0.8h-0.8zM210.1 356.9h0.8v0.8h-0.8zM209.6 356.9h0.8v0.8h-0.8zM231.0 358.7h0.8v0.8h-0.8zM219.2 351.1h0.8v0.8h-0.8zM214.0 363.3h0.8v0.8h-0.8zM215.2 370.2h0.8v0.8h-0.8zM209.3 369.8h0.8v0.8h-0.8zM224.2 352.5h0.8v0.8h-0.8zM223.3 366.9h0.8v0.8h-0.8zM220.9 343.2h0.8v0.8h-0.8zM213.3 366.1h0.8v0.8h-0.8zM213.1 364.5h0.8v0.8h-0.8zM209.6 347.5h0.8v0.8h-0.8zM228.2 359.1h0.8v0.8h-0.8zM218.8 366.8h0.8v0.8h-0.8zM210.0 360.7h0.8v0.8h-0.8zM229.4 368.1h0.8v0.8h-0.8zM218.4 335.8h0.8v0.8h-0.8zM214.2 334.4h0.8v0.8h-0.8zM222.1 339.4h0.8v0.8h-0.8zM210.7 370.7h0.8v0.8h-0.8zM213.0 368.0h0.8v0.8h-0.8zM218.3 357.7h0.8v0.8h-0.8zM222.7 355.6h0.8v0.8h-0.8zM227.3 348.1h0.8v0.8h-0.8zM213.3 356.0h0.8v0.8h-0.8zM211.4 348.9h0.8v0.8h-0.8zM214.8 367.8h0.8v0.8h-0.8zM210.4 345.3h0.8v0.8h-0.8zM215.7 339.2h0.8v0.8h-0.8zM216.6 366.6h0.8v0.8h-0.8zM232.8 348.7h0.8v0.8h-0.8zM209.8 359.9h0.8v0.8h-0.8zM216.0 351.3h0.8v0.8h-0.8zM221.4 352.0h0.8v0.8h-0.8zM219.2 365.3h0.8v0.8h-0.8zM216.1 344.5h0.8v0.8h-0.8zM231.1 362.1h0.8v0.8h-0.8zM226.1 357.4h0.8v0.8h-0.8zM223.3 357.8h0.8v0.8h-0.8zM224.7 335.0h0.8v0.8h-0.8zM214.4 361.0h0.8v0.8h-0.8zM235.0 348.2h0.8v0.8h-0.8zM220.3 343.2h0.8v0.8h-0.8zM235.9 348.1h0.8v0.8h-0.8zM226.0 364.3h0.8v0.8h-0.8zM211.9 350.7h0.8v0.8h-0.8zM225.6 339.8h0.8v0.8h-0.8zM216.1 341.3h0.8v0.8h-0.8zM212.7 368.6h0.8v0.8h-0.8zM226.0 349.5h0.8v0.8h-0.8zM213.2 362.1h0.8v0.8h-0.8zM224.0 354.3h0.8v0.8h-0.8zM208.6 357.3h0.8v0.8h-0.8zM231.6 356.3h0.8v0.8h-0.8zM222.1 360.1h0.8v0.8h-0.8zM214.1 358.6h0.8v0.8h-0.8zM219.3 362.2h0.8v0.8h-0.8zM213.5 367.0h0.8v0.8h-0.8zM220.1 364.0h0.8v0.8h-0.8zM228.4 356.6h0.8v0.8h-0.8zM235.5 371.0h0.8v0.8h-0.8zM217.2 339.1h0.8v0.8h-0.8zM222.3 339.6h0.8v0.8h-0.8zM231.6 342.1h0.8v0.8h-0.8zM217.8 370.5h0.8v0.8h-0.8zM218.8 339.5h0.8v0.8h-0.8zM211.2 366.5h0.8v0.8h-0.8zM214.5 370.4h0.8v0.8h-0.8zM235.6 331.9h0.8v0.8h-0.8zM232.4 364.0h0.8v0.8h-0.8zM222.1 361.7h0.8v0.8h-0.8zM209.3 343.5h0.8v0.8h-0.8zM226.7 355.7h0.8v0.8h-0.8zM218.3 369.7h0.8v0.8h-0.8zM228.9 353.3h0.8v0.8h-0.8zM210.1 352.5h0.8v0.8h-0.8zM232.9 361.4h0.8v0.8h-0.8zM210.9 350.8h0.8v0.8h-0.8zM221.3 348.7h0.8v0.8h-0.8zM234.3 365.0h0.8v0.8h-0.8zM211.7 370.9h0.8v0.8h-0.8zM215.9 359.9h0.8v0.8h-0.8zM227.6 368.8h0.8v0.8h-0.8zM231.5 362.4h0.8v0.8h-0.8zM215.6 348.3h0.8v0.8h-0.8zM226.0 350.6h0.8v0.8h-0.8zM226.1 352.4h0.8v0.8h-0.8zM218.4 353.9h0.8v0.8h-0.8zM209.2 366.2h0.8v0.8h-0.8zM221.8 341.6h0.8v0.8h-0.8zM230.1 355.6h0.8v0.8h-0.8zM228.8 353.2h0.8v0.8h-0.8zM209.3 360.4h0.8v0.8h-0.8zM229.3 358.9h0.8v0.8h-0.8zM224.1 334.3h0.8v0.8h-0.8zM212.8 352.7h0.8v0.8h-0.8zM222.4 351.2h0.8v0.8h-0.8zM222.2 348.1h0.8v0.8h-0.8zM214.3 361.2h0.8v0.8h-0.8zM223.6 344.1h0.8v0.8h-0.8zM211.6 335.2h0.8v0.8h-0.8zM221.6 361.2h0.8v0.8h-0.8zM227.0 360.6h0.8v0.8h-0.8zM216.3 363.1h0.8v0.8h-0.8zM222.5 366.9h0.8v0.8h-0.8zM230.5 338.6h0.8v0.8h-0.8zM230.9 350.9h0.8v0.8h-0.8zM232.1 330.0h0.8v0.8h-0.8zM230.6 368.3h0.8v0.8h-0.8zM215.1 356.7h0.8v0.8h-0.8zM232.4 350.9h0.8v0.8h-0.8zM211.7 335.9h0.8v0.8h-0.8zM220.5 360.5h0.8v0.8h-0.8zM221.2 346.8h0.8v0.8h-0.8zM213.0 344.8h0.8v0.8h-0.8zM226.7 360.0h0.8v0.8h-0.8zM208.7 368.1h0.8v0.8h-0.8zM217.4 357.1h0.8v0.8h-0.8zM210.3 364.0h0.8v0.8h-0.8zM218.7 361.2h0.8v0.8h-0.8zM227.5 371.2h0.8v0.8h-0.8zM214.4 372.0h0.8v0.8h-0.8zM231.2 359.8h0.8v0.8h-0.8zM209.1 370.9h0.8v0.8h-0.8zM212.1 371.2h0.8v0.8h-0.8zM220.4 332.4h0.8v0.8h-0.8zM217.1 365.7h0.8v0.8h-0.8zM214.9 357.8h0.8v0.8h-0.8zM215.3 338.7h0.8v0.8h-0.8zM215.8 365.7h0.8v0.8h-0.8zM214.1 367.3h0.8v0.8h-0.8zM218.8 348.2h0.8v0.8h-0.8zM229.3 358.6h0.8v0.8h-0.8zM223.4 346.3h0.8v0.8h-0.8zM211.1 331.8h0.8v0.8h-0.8zM217.9 370.9h0.8v0.8h-0.8zM214.4 366.2h0.8v0.8h-0.8zM228.8 367.6h0.8v0.8h-0.8zM210.3 358.8h0.8v0.8h-0.8zM210.1 341.4h0.8v0.8h-0.8zM210.7 367.2h0.8v0.8h-0.8zM213.5 348.8h0.8v0.8h-0.8zM214.8 355.1h0.8v0.8h-0.8zM210.1 368.6h0.8v0.8h-0.8zM210.1 361.8h0.8v0.8h-0.8zM212.9 362.3h0.8v0.8h-0.8zM218.8 348.5h0.8v0.8h-0.8zM208.9 369.4h0.8v0.8h-0.8zM229.3 363.4h0.8v0.8h-0.8zM217.8 367.2h0.8v0.8h-0.8zM215.8 359.5h0.8v0.8h-0.8zM215.7 366.8h0.8v0.8h-0.8zM211.7 370.1h0.8v0.8h-0.8zM209.2 339.6h0.8v0.8h-0.8zM217.2 367.9h0.8v0.8h-0.8z"/><path fill="#2e2488" d="M228.9 358.6h0.8v0.8h-0.8zM209.8 362.8h0.8v0.8h-0.8zM226.8 371.6h0.8v0.8h-0.8zM227.8 360.1h0.8v0.8h-0.8zM222.7 351.6h0.8v0.8h-0.8zM214.6 330.4h0.8v0.8h-0.8zM235.1 358.3h0.8v0.8h-0.8zM213.9 339.0h0.8v0.8h-0.8zM212.4 350.1h0.8v0.8h-0.8zM211.6 350.7h0.8v0.8h-0.8zM212.4 367.0h0.8v0.8h-0.8zM213.5 367.8h0.8v0.8h-0.8zM218.0 349.4h0.8v0.8h-0.8zM222.4 340.9h0.8v0.8h-0.8zM214.7 351.0h0.8v0.8h-0.8zM213.4 340.1h0.8v0.8h-0.8zM223.2 349.2h0.8v0.8h-0.8zM218.6 363.1h0.8v0.8h-0.8zM209.6 348.5h0.8v0.8h-0.8zM213.6 351.9h0.8v0.8h-0.8zM215.7 368.4h0.8v0.8h-0.8zM215.7 334.0h0.8v0.8h-0.8zM223.5 363.5h0.8v0.8h-0.8zM212.0 365.4h0.8v0.8h-0.8zM217.8 372.0h0.8v0.8h-0.8zM222.6 368.0h0.8v0.8h-0.8zM209.0 346.7h0.8v0.8h-0.8zM226.2 356.0h0.8v0.8h-0.8zM215.5 351.0h0.8v0.8h-0.8zM223.7 371.4h0.8v0.8h-0.8zM220.9 356.5h0.8v0.8h-0.8zM222.3 350.9h0.8v0.8h-0.8zM212.1 362.6h0.8v0.8h-0.8zM216.0 349.3h0.8v0.8h-0.8zM228.4 349.7h0.8v0.8h-0.8zM223.7 360.0h0.8v0.8h-0.8zM213.5 336.1h0.8v0.8h-0.8zM216.7 366.2h0.8v0.8h-0.8zM224.6 357.8h0.8v0.8h-0.8zM209.8 357.9h0.8v0.8h-0.8zM209.5 366.1h0.8v0.8h-0.8zM220.4 369.3h0.8v0.8h-0.8zM213.9 333.7h0.8v0.8h-0.8zM225.5 342.5h0.8v0.8h-0.8zM219.0 364.4h0.8v0.8h-0.8zM210.1 342.5h0.8v0.8h-0.8zM211.8 363.5h0.8v0.8h-0.8zM219.0 342.1h0.8v0.8h-0.8zM211.5 366.7h0.8v0.8h-0.8zM219.0 367.9h0.8v0.8h-0.8zM216.9 354.4h0.8v0.8h-0.8zM225.9 362.2h0.8v0.8h-0.8zM210.0 361.3h0.8v0.8h-0.8zM213.5 358.3h0.8v0.8h-0.8zM218.7 332.6h0.8v0.8h-0.8zM210.3 360.7h0.8v0.8h-0.8zM218.3 368.6h0.8v0.8h-0.8zM210.8 343.4h0.8v0.8h-0.8zM235.0 367.1h0.8v0.8h-0.8zM214.9 338.1h0.8v0.8h-0.8zM229.2 348.7h0.8v0.8h-0.8zM216.5 339.4h0.8v0.8h-0.8zM219.6 337.0h0.8v0.8h-0.8zM221.8 352.7h0.8v0.8h-0.8zM213.5 357.0h0.8v0.8h-0.8zM208.9 368.3h0.8v0.8h-0.8zM211.7 352.6h0.8v0.8h-0.8zM225.0 361.7h0.8v0.8h-0.8zM214.1 366.3h0.8v0.8h-0.8zM226.1 366.2h0.8v0.8h-0.8zM212.1 349.2h0.8v0.8h-0.8zM234.2 364.3h0.8v0.8h-0.8zM212.4 330.3h0.8v0.8h-0.8zM210.9 357.1h0.8v0.8h-0.8zM213.5 347.2h0.8v0.8h-0.8zM209.2 347.3h0.8v0.8h-0.8zM209.9 360.0h0.8v0.8h-0.8zM212.6 365.2h0.8v0.8h-0.8zM217.5 357.6h0.8v0.8h-0.8zM209.0 351.5h0.8v0.8h-0.8zM232.3 367.6h0.8v0.8h-0.8zM214.7 342.9h0.8v0.8h-0.8zM221.6 369.7h0.8v0.8h-0.8zM218.3 355.4h0.8v0.8h-0.8zM219.0 369.0h0.8v0.8h-0.8zM230.3 361.9h0.8v0.8h-0.8zM210.2 353.1h0.8v0.8h-0.8zM220.0 362.8h0.8v0.8h-0.8zM228.2 358.2h0.8v0.8h-0.8zM224.6 365.4h0.8v0.8h-0.8zM215.9 349.1h0.8v0.8h-0.8zM215.8 348.1h0.8v0.8h-0.8zM219.7 354.9h0.8v0.8h-0.8zM232.6 367.9h0.8v0.8h-0.8zM211.0 335.3h0.8v0.8h-0.8zM211.8 339.5h0.8v0.8h-0.8zM213.0 351.6h0.8v0.8h-0.8zM223.8 359.8h0.8v0.8h-0.8zM215.8 360.0h0.8v0.8h-0.8zM219.2 339.1h0.8v0.8h-0.8zM224.3 367.6h0.8v0.8h-0.8zM230.2 350.8h0.8v0.8h-0.8zM231.7 367.6h0.8v0.8h-0.8zM209.4 345.5h0.8v0.8h-0.8zM216.7 367.0h0.8v0.8h-0.8zM211.0 364.2h0.8v0.8h-0.8zM210.6 339.4h0.8v0.8h-0.8zM212.9 348.8h0.8v0.8h-0.8zM218.9 340.9h0.8v0.8h-0.8zM213.1 357.2h0.8v0.8h-0.8zM210.8 357.2h0.8v0.8h-0.8zM236.0 370.9h0.8v0.8h-0.8zM215.3 331.6h0.8v0.8h-0.8zM228.6 333.9h0.8v0.8h-0.8zM218.0 361.0h0.8v0.8h-0.8zM233.4 370.2h0.8v0.8h-0.8zM217.6 356.8h0.8v0.8h-0.8zM216.0 351.9h0.8v0.8h-0.8zM214.6 355.6h0.8v0.8h-0.8zM222.8 352.3h0.8v0.8h-0.8zM221.0 343.0h0.8v0.8h-0.8zM224.1 354.1h0.8v0.8h-0.8zM208.9 345.5h0.8v0.8h-0.8zM212.4 368.4h0.8v0.8h-0.8zM223.9 361.0h0.8v0.8h-0.8zM214.4 347.7h0.8v0.8h-0.8zM213.3 331.7h0.8v0.8h-0.8zM209.2 360.3h0.8v0.8h-0.8zM222.3 346.1h0.8v0.8h-0.8zM211.4 368.0h0.8v0.8h-0.8zM222.1 366.0h0.8v0.8h-0.8zM217.0 356.0h0.8v0.8h-0.8zM224.6 368.9h0.8v0.8h-0.8zM233.4 356.9h0.8v0.8h-0.8zM211.9 349.7h0.8v0.8h-0.8zM220.4 331.5h0.8v0.8h-0.8zM213.0 355.2h0.8v0.8h-0.8zM225.5 366.1h0.8v0.8h-0.8zM231.4 365.0h0.8v0.8h-0.8zM209.7 366.8h0.8v0.8h-0.8zM228.9 351.5h0.8v0.8h-0.8zM208.8 359.8h0.8v0.8h-0.8zM210.7 364.8h0.8v0.8h-0.8zM213.5 360.7h0.8v0.8h-0.8zM216.8 365.0h0.8v0.8h-0.8zM218.9 353.5h0.8v0.8h-0.8zM222.3 342.7h0.8v0.8h-0.8zM212.6 370.7h0.8v0.8h-0.8zM210.6 349.1h0.8v0.8h-0.8zM216.8 355.2h0.8v0.8h-0.8zM213.1 356.2h0.8v0.8h-0.8zM221.1 347.6h0.8v0.8h-0.8zM223.7 334.3h0.8v0.8h-0.8zM224.5 356.2h0.8v0.8h-0.8zM211.0 330.3h0.8v0.8h-0.8zM218.9 362.9h0.8v0.8h-0.8zM225.9 350.3h0.8v0.8h-0.8zM212.6 347.8h0.8v0.8h-0.8zM232.2 349.8h0.8v0.8h-0.8zM209.8 354.8h0.8v0.8h-0.8zM224.0 362.0h0.8v0.8h-0.8zM217.9 355.9h0.8v0.8h-0.8zM211.5 350.5h0.8v0.8h-0.8zM212.3 350.1h0.8v0.8h-0.8zM215.3 351.9h0.8v0.8h-0.8zM233.6 348.0h0.8v0.8h-0.8zM229.0 354.1h0.8v0.8h-0.8zM215.1 342.5h0.8v0.8h-0.8zM216.4 342.8h0.8v0.8h-0.8zM215.4 351.6h0.8v0.8h-0.8zM217.7 368.3h0.8v0.8h-0.8zM233.3 372.1h0.8v0.8h-0.8zM217.5 366.9h0.8v0.8h-0.8zM217.8 363.3h0.8v0.8h-0.8zM230.3 352.1h0.8v0.8h-0.8zM221.2 351.3h0.8v0.8h-0.8zM211.4 351.5h0.8v0.8h-0.8zM221.4 349.1h0.8v0.8h-0.8zM209.0 358.7h0.8v0.8h-0.8zM211.9 336.4h0.8v0.8h-0.8zM228.2 354.1h0.8v0.8h-0.8zM231.6 357.6h0.8v0.8h-0.8zM215.5 365.1h0.8v0.8h-0.8zM211.7 368.1h0.8v0.8h-0.8zM210.3 367.5h0.8v0.8h-0.8zM215.4 351.5h0.8v0.8h-0.8zM209.9 362.8h0.8v0.8h-0.8zM208.7 364.1h0.8v0.8h-0.8zM230.1 350.8h0.8v0.8h-0.8zM215.8 370.8h0.8v0.8h-0.8zM209.9 338.2h0.8v0.8h-0.8zM210.6 357.6h0.8v0.8h-0.8zM214.4 334.7h0.8v0.8h-0.8zM211.6 350.1h0.8v0.8h-0.8zM227.2 354.8h0.8v0.8h-0.8zM222.2 352.7h0.8v0.8h-0.8zM209.6 364.4h0.8v0.8h-0.8zM209.7 338.5h0.8v0.8h-0.8zM211.2 339.2h0.8v0.8h-0.8zM214.0 353.6h0.8v0.8h-0.8zM231.4 357.5h0.8v0.8h-0.8zM234.7 365.2h0.8v0.8h-0.8zM214.5 357.2h0.8v0.8h-0.8zM235.7 359.9h0.8v0.8h-0.8zM209.4 371.6h0.8v0.8h-0.8zM222.6 337.7h0.8v0.8h-0.8zM214.4 359.8h0.8v0.8h-0.8zM217.3 365.3h0.8v0.8h-0.8zM234.9 367.5h0.8v0.8h-0.8zM225.4 371.0h0.8v0.8h-0.8zM218.9 348.2h0.8v0.8h-0.8zM208.6 357.7h0.8v0.8h-0.8zM229.2 355.3h0.8v0.8h-0.8zM232.7 371.4h0.8v0.8h-0.8zM220.2 357.2h0.8v0.8h-0.8zM216.9 331.8h0.8v0.8h-0.8zM215.5 372.0h0.8v0.8h-0.8zM215.7 369.0h0.8v0.8h-0.8zM211.2 335.7h0.8v0.8h-0.8zM225.9 356.8h0.8v0.8h-0.8zM220.6 346.5h0.8v0.8h-0.8zM221.7 364.9h0.8v0.8h-0.8zM217.5 371.6h0.8v0.8h-0.8zM235.3 358.7h0.8v0.8h-0.8zM217.5 351.1h0.8v0.8h-0.8zM209.0 357.6h0.8v0.8h-0.8zM227.7 369.9h0.8v0.8h-0.8zM212.5 370.7h0.8v0.8h-0.8zM210.3 344.7h0.8v0.8h-0.8zM223.6 361.9h0.8v0.8h-0.8zM209.2 366.9h0.8v0.8h-0.8zM217.5 369.5h0.8v0.8h-0.8zM222.2 334.8h0.8v0.8h-0.8zM229.1 344.1h0.8v0.8h-0.8zM213.1 372.1h0.8v0.8h-0.8zM209.5 343.3h0.8v0.8h-0.8zM234.8 360.8h0.8v0.8h-0.8zM218.0 359.2h0.8v0.8h-0.8zM229.4 366.7h0.8v0.8h-0.8zM218.9 347.3h0.8v0.8h-0.8zM217.9 365.3h0.8v0.8h-0.8zM233.9 347.2h0.8v0.8h-0.8zM228.5 362.9h0.8v0.8h-0.8zM227.2 364.5h0.8v0.8h-0.8zM210.1 365.7h0.8v0.8h-0.8zM229.8 354.6h0.8v0.8h-0.8zM219.3 369.8h0.8v0.8h-0.8zM219.6 344.6h0.8v0.8h-0.8zM213.6 369.4h0.8v0.8h-0.8zM220.4 367.2h0.8v0.8h-0.8zM219.5 361.4h0.8v0.8h-0.8zM212.5 355.9h0.8v0.8h-0.8zM210.8 334.1h0.8v0.8h-0.8zM227.1 351.7h0.8v0.8h-0.8zM211.7 336.5h0.8v0.8h-0.8zM216.1 345.3h0.8v0.8h-0.8zM209.3 351.8h0.8v0.8h-0.8zM220.4 347.2h0.8v0.8h-0.8zM219.2 354.4h0.8v0.8h-0.8zM227.2 356.9h0.8v0.8h-0.8zM226.2 368.8h0.8v0.8h-0.8zM223.7 348.9h0.8v0.8h-0.8zM224.7 350.7h0.8v0.8h-0.8zM218.2 338.7h0.8v0.8h-0.8zM225.0 364.9h0.8v0.8h-0.8zM215.5 361.1h0.8v0.8h-0.8zM211.9 367.5h0.8v0.8h-0.8zM211.5 339.2h0.8v0.8h-0.8zM209.2 344.6h0.8v0.8h-0.8zM208.9 363.2h0.8v0.8h-0.8zM224.6 367.1h0.8v0.8h-0.8zM212.5 341.3h0.8v0.8h-0.8zM214.5 356.2h0.8v0.8h-0.8zM231.8 363.0h0.8v0.8h-0.8zM215.9 350.1h0.8v0.8h-0.8zM224.5 354.4h0.8v0.8h-0.8zM228.8 349.2h0.8v0.8h-0.8zM235.1 350.6h0.8v0.8h-0.8zM221.5 334.4h0.8v0.8h-0.8zM223.6 334.5h0.8v0.8h-0.8zM213.6 348.7h0.8v0.8h-0.8zM225.1 354.2h0.8v0.8h-0.8zM228.9 363.0h0.8v0.8h-0.8zM223.1 346.4h0.8v0.8h-0.8zM211.6 357.3h0.8v0.8h-0.8zM218.0 356.9h0.8v0.8h-0.8zM216.8 348.6h0.8v0.8h-0.8zM231.9 357.7h0.8v0.8h-0.8zM232.0 368.5h0.8v0.8h-0.8zM212.9 354.5h0.8v0.8h-0.8zM211.5 365.8h0.8v0.8h-0.8zM210.8 365.3h0.8v0.8h-0.8zM217.5 354.8h0.8v0.8h-0.8zM222.8 342.2h0.8v0.8h-0.8zM214.8 332.9h0.8v0.8h-0.8zM209.3 335.1h0.8v0.8h-0.8zM222.4 359.8h0.8v0.8h-0.8zM222.0 351.5h0.8v0.8h-0.8zM215.9 362.9h0.8v0.8h-0.8zM217.9 345.3h0.8v0.8h-0.8zM225.6 365.7h0.8v0.8h-0.8zM223.8 361.6h0.8v0.8h-0.8zM232.8 357.8h0.8v0.8h-0.8zM219.4 334.9h0.8v0.8h-0.8zM232.4 369.1h0.8v0.8h-0.8zM212.6 337.8h0.8v0.8h-0.8zM209.1 349.6h0.8v0.8h-0.8zM217.6 355.8h0.8v0.8h-0.8zM216.0 346.3h0.8v0.8h-0.8zM222.7 363.7h0.8v0.8h-0.8zM210.5 334.7h0.8v0.8h-0.8zM211.6 357.5h0.8v0.8h-0.8zM211.1 341.9h0.8v0.8h-0.8zM227.7 343.3h0.8v0.8h-0.8zM215.4 370.4h0.8v0.8h-0.8zM234.1 364.0h0.8v0.8h-0.8zM209.0 346.9h0.8v0.8h-0.8zM216.7 357.3h0.8v0.8h-0.8zM212.6 351.8h0.8v0.8h-0.8zM226.5 349.1h0.8v0.8h-0.8zM219.2 360.9h0.8v0.8h-0.8zM210.8 334.2h0.8v0.8h-0.8zM213.2 341.5h0.8v0.8h-0.8zM224.8 361.6h0.8v0.8h-0.8zM212.3 350.2h0.8v0.8h-0.8zM217.2 342.6h0.8v0.8h-0.8zM225.5 358.0h0.8v0.8h-0.8zM216.3 354.8h0.8v0.8h-0.8zM231.1 359.5h0.8v0.8h-0.8zM221.6 353.6h0.8v0.8h-0.8zM218.5 332.7h0.8v0.8h-0.8zM211.5 351.7h0.8v0.8h-0.8zM221.4 369.4h0.8v0.8h-0.8zM227.8 345.3h0.8v0.8h-0.8zM223.8 358.7h0.8v0.8h-0.8zM229.7 332.0h0.8v0.8h-0.8zM222.0 366.4h0.8v0.8h-0.8zM217.3 355.1h0.8v0.8h-0.8zM218.1 370.6h0.8v0.8h-0.8zM228.3 358.7h0.8v0.8h-0.8zM211.0 347.3h0.8v0.8h-0.8zM210.8 364.7h0.8v0.8h-0.8zM228.7 368.0h0.8v0.8h-0.8zM225.0 337.7h0.8v0.8h-0.8zM209.9 369.0h0.8v0.8h-0.8zM225.3 371.2h0.8v0.8h-0.8z"/><path fill="#4634a6" d="M218.0 357.3h0.8v0.8h-0.8zM224.7 360.0h0.8v0.8h-0.8zM211.4 353.6h0.8v0.8h-0.8zM212.1 356.5h0.8v0.8h-0.8zM216.3 370.0h0.8v0.8h-0.8zM229.7 371.3h0.8v0.8h-0.8zM219.1 352.8h0.8v0.8h-0.8zM220.0 366.3h0.8v0.8h-0.8zM225.0 356.7h0.8v0.8h-0.8zM228.1 371.3h0.8v0.8h-0.8zM232.4 369.1h0.8v0.8h-0.8zM227.6 346.2h0.8v0.8h-0.8zM215.4 372.0h0.8v0.8h-0.8zM220.3 343.4h0.8v0.8h-0.8zM215.1 370.8h0.8v0.8h-0.8zM209.0 357.1h0.8v0.8h-0.8zM211.4 364.0h0.8v0.8h-0.8zM216.5 349.0h0.8v0.8h-0.8zM226.0 365.8h0.8v0.8h-0.8zM209.2 365.5h0.8v0.8h-0.8zM224.4 355.9h0.8v0.8h-0.8zM219.7 343.3h0.8v0.8h-0.8zM227.5 343.1h0.8v0.8h-0.8zM215.0 367.8h0.8v0.8h-0.8zM214.3 361.2h0.8v0.8h-0.8zM217.2 333.8h0.8v0.8h-0.8zM227.1 370.8h0.8v0.8h-0.8zM232.2 342.7h0.8v0.8h-0.8zM228.6 364.6h0.8v0.8h-0.8zM214.1 359.1h0.8v0.8h-0.8zM223.5 367.1h0.8v0.8h-0.8zM229.7 359.2h0.8v0.8h-0.8zM215.5 357.1h0.8v0.8h-0.8zM218.5 362.5h0.8v0.8h-0.8zM220.3 357.0h0.8v0.8h-0.8zM220.1 331.2h0.8v0.8h-0.8zM210.6 365.1h0.8v0.8h-0.8zM224.7 355.9h0.8v0.8h-0.8zM234.9 367.0h0.8v0.8h-0.8zM220.7 369.5h0.8v0.8h-0.8zM214.6 364.3h0.8v0.8h-0.8zM227.5 371.5h0.8v0.8h-0.8zM219.5 330.0h0.8v0.8h-0.8zM231.5 350.3h0.8v0.8h-0.8zM221.6 354.2h0.8v0.8h-0.8zM234.3 368.8h0.8v0.8h-0.8zM212.4 348.3h0.8v0.8h-0.8zM230.2 343.3h0.8v0.8h-0.8zM229.4 367.5h0.8v0.8h-0.8zM233.6 369.6h0.8v0.8h-0.8zM215.0 359.6h0.8v0.8h-0.8zM230.8 358.1h0.8v0.8h-0.8zM228.2 357.4h0.8v0.8h-0.8zM210.8 338.1h0.8v0.8h-0.8zM226.2 371.8h0.8v0.8h-0.8zM225.0 359.8h0.8v0.8h-0.8zM223.3 365.3h0.8v0.8h-0.8zM220.6 348.1h0.8v0.8h-0.8zM234.8 365.7h0.8v0.8h-0.8zM214.7 341.0h0.8v0.8h-0.8zM218.9 352.8h0.8v0.8h-0.8zM223.8 365.0h0.8v0.8h-0.8zM211.2 346.2h0.8v0.8h-0.8zM215.1 339.2h0.8v0.8h-0.8zM213.6 339.3h0.8v0.8h-0.8zM216.3 360.8h0.8v0.8h-0.8zM222.6 352.9h0.8v0.8h-0.8zM229.3 363.0h0.8v0.8h-0.8zM212.0 354.9h0.8v0.8h-0.8zM213.8 352.6h0.8v0.8h-0.8zM209.2 346.8h0.8v0.8h-0.8zM226.6 360.6h0.8v0.8h-0.8zM227.7 365.1h0.8v0.8h-0.8zM213.8 362.5h0.8v0.8h-0.8zM227.0 367.5h0.8v0.8h-0.8zM211.8 360.8h0.8v0.8h-0.8zM217.5 363.3h0.8v0.8h-0.8zM216.1 368.4h0.8v0.8h-0.8zM221.5 357.4h0.8v0.8h-0.8zM215.1 362.0h0.8v0.8h-0.8zM227.0 344.9h0.8v0.8h-0.8zM211.6 358.7h0.8v0.8h-0.8zM217.5 339.0h0.8v0.8h-0.8zM217.4 370.1h0.8v0.8h-0.8zM220.1 351.1h0.8v0.8h-0.8zM224.7 361.9h0.8v0.8h-0.8zM213.5 340.7h0.8v0.8h-0.8zM216.8 359.3h0.8v0.8h-0.8zM217.8 353.3h0.8v0.8h-0.8zM234.1 357.7h0.8v0.8h-0.8zM229.3 359.6h0.8v0.8h-0.8zM209.1 359.6h0.8v0.8h-0.8zM211.8 341.9h0.8v0.8h-0.8zM232.7 371.4h0.8v0.8h-0.8zM220.6 369.5h0.8v0.8h-0.8zM218.8 357.2h0.8v0.8h-0.8zM233.5 360.0h0.8v0.8h-0.8zM211.5 348.3h0.8v0.8h-0.8zM227.1 354.6h0.8v0.8h-0.8zM212.8 370.8h0.8v0.8h-0.8zM223.6 362.2h0.8v0.8h-0.8zM223.5 368.9h0.8v0.8h-0.8zM226.8 361.7h0.8v0.8h-0.8zM210.9 349.3h0.8v0.8h-0.8zM227.9 366.3h0.8v0.8h-0.8zM211.4 369.5h0.8v0.8h-0.8zM221.1 354.4h0.8v0.8h-0.8zM224.8 363.7h0.8v0.8h-0.8zM212.8 360.8h0.8v0.8h-0.8zM216.5 369.9h0.8v0.8h-0.8zM217.7 353.2h0.8v0.8h-0.8zM211.3 332.3h0.8v0.8h-0.8zM217.3 368.5h0.8v0.8h-0.8zM218.9 344.6h0.8v0.8h-0.8zM215.1 338.7h0.8v0.8h-0.8zM214.7 369.0h0.8v0.8h-0.8zM208.8 359.7h0.8v0.8h-0.8zM226.8 356.6h0.8v0.8h-0.8zM217.0 372.0h0.8v0.8h-0.8zM217.2 366.5h0.8v0.8h-0.8zM229.5 354.3h0.8v0.8h-0.8zM223.3 359.4h0.8v0.8h-0.8zM224.3 358.6h0.8v0.8h-0.8zM226.7 362.0h0.8v0.8h-0.8zM214.4 344.7h0.8v0.8h-0.8zM211.5 362.2h0.8v0.8h-0.8zM232.9 365.1h0.8v0.8h-0.8zM228.0 353.5h0.8v0.8h-0.8zM211.9 357.2h0.8v0.8h-0.8zM232.4 352.2h0.8v0.8h-0.8zM220.6 358.5h0.8v0.8h-0.8zM233.0 370.0h0.8v0.8h-0.8zM224.4 362.8h0.8v0.8h-0.8zM222.0 364.9h0.8v0.8h-0.8zM212.8 369.8h0.8v0.8h-0.8zM212.3 350.5h0.8v0.8h-0.8zM217.2 350.0h0.8v0.8h-0.8zM227.8 348.1h0.8v0.8h-0.8zM210.9 349.3h0.8v0.8h-0.8zM221.8 364.5h0.8v0.8h-0.8zM210.7 346.2h0.8v0.8h-0.8zM210.8 357.0h0.8v0.8h-0.8zM208.6 338.9h0.8v0.8h-0.8zM235.2 368.7h0.8v0.8h-0.8zM213.9 357.4h0.8v0.8h-0.8zM229.8 362.7h0.8v0.8h-0.8zM221.9 341.4h0.8v0.8h-0.8zM213.7 358.6h0.8v0.8h-0.8zM208.6 370.8h0.8v0.8h-0.8zM227.1 347.5h0.8v0.8h-0.8zM210.0 371.6h0.8v0.8h-0.8zM214.7 370.5h0.8v0.8h-0.8zM220.2 345.7h0.8v0.8h-0.8zM226.5 346.2h0.8v0.8h-0.8zM216.4 368.8h0.8v0.8h-0.8zM215.3 359.4h0.8v0.8h-0.8zM212.2 366.5h0.8v0.8h-0.8zM216.9 369.6h0.8v0.8h-0.8zM227.9 369.4h0.8v0.8h-0.8zM211.0 351.1h0.8v0.8h-0.8zM224.9 348.3h0.8v0.8h-0.8zM220.3 353.8h0.8v0.8h-0.8zM232.5 353.5h0.8v0.8h-0.8zM209.6 361.7h0.8v0.8h-0.8zM212.4 367.0h0.8v0.8h-0.8zM226.2 353.1h0.8v0.8h-0.8zM212.4 353.6h0.8v0.8h-0.8zM223.1 361.5h0.8v0.8h-0.8zM214.6 347.2h0.8v0.8h-0.8zM209.8 330.4h0.8v0.8h-0.8zM216.4 364.5h0.8v0.8h-0.8zM216.8 364.9h0.8v0.8h-0.8zM209.2 334.7h0.8v0.8h-0.8zM216.4 363.2h0.8v0.8h-0.8zM225.4 344.3h0.8v0.8h-0.8zM224.4 354.9h0.8v0.8h-0.8zM223.0 333.8h0.8v0.8h-0.8zM224.1 366.9h0.8v0.8h-0.8zM229.0 355.5h0.8v0.8h-0.8zM218.3 367.3h0.8v0.8h-0.8zM229.4 331.2h0.8v0.8h-0.8zM211.0 354.7h0.8v0.8h-0.8zM218.3 345.9h0.8v0.8h-0.8zM219.1 334.3h0.8v0.8h-0.8zM228.5 333.3h0.8v0.8h-0.8zM216.4 367.4h0.8v0.8h-0.8zM229.3 342.7h0.8v0.8h-0.8zM234.5 371.4h0.8v0.8h-0.8zM221.8 334.9h0.8v0.8h-0.8zM233.5 340.7h0.8v0.8h-0.8zM211.9 336.3h0.8v0.8h-0.8zM210.3 350.4h0.8v0.8h-0.8zM223.7 336.0h0.8v0.8h-0.8zM209.0 351.5h0.8v0.8h-0.8zM235.7 356.5h0.8v0.8h-0.8zM221.1 355.5h0.8v0.8h-0.8zM221.0 358.3h0.8v0.8h-0.8zM209.0 361.6h0.8v0.8h-0.8zM212.9 352.6h0.8v0.8h-0.8zM211.5 347.3h0.8v0.8h-0.8zM217.2 364.7h0.8v0.8h-0.8zM214.4 330.3h0.8v0.8h-0.8zM214.5 350.4h0.8v0.8h-0.8zM232.0 354.0h0.8v0.8h-0.8zM235.7 361.3h0.8v0.8h-0.8zM226.6 356.3h0.8v0.8h-0.8zM210.2 342.4h0.8v0.8h-0.8zM218.8 355.4h0.8v0.8h-0.8zM217.5 356.0h0.8v0.8h-0.8zM220.8 367.4h0.8v0.8h-0.8zM225.6 370.5h0.8v0.8h-0.8zM233.1 358.0h0.8v0.8h-0.8zM217.0 363.6h0.8v0.8h-0.8zM210.2 339.2h0.8v0.8h-0.8zM210.1 342.5h0.8v0.8h-0.8zM219.7 339.5h0.8v0.8h-0.8zM212.5 367.8h0.8v0.8h-0.8zM230.9 360.1h0.8v0.8h-0.8zM210.5 363.2h0.8v0.8h-0.8zM211.6 330.8h0.8v0.8h-0.8zM228.1 362.4h0.8v0.8h-0.8zM213.2 370.0h0.8v0.8h-0.8zM230.6 366.8h0.8v0.8h-0.8zM215.2 342.1h0.8v0.8h-0.8zM214.3 363.5h0.8v0.8h-0.8zM232.8 367.1h0.8v0.8h-0.8zM217.0 371.1h0.8v0.8h-0.8zM218.7 349.6h0.8v0.8h-0.8zM219.6 357.5h0.8v0.8h-0.8zM231.5 370.1h0.8v0.8h-0.8zM221.4 366.5h0.8v0.8h-0.8zM212.2 345.9h0.8v0.8h-0.8zM212.8 339.3h0.8v0.8h-0.8zM218.9 362.1h0.8v0.8h-0.8zM220.0 369.1h0.8v0.8h-0.8zM219.8 343.7h0.8v0.8h-0.8zM233.8 368.5h0.8v0.8h-0.8zM219.2 359.9h0.8v0.8h-0.8zM210.4 338.0h0.8v0.8h-0.8zM228.8 367.6h0.8v0.8h-0.8zM217.6 363.6h0.8v0.8h-0.8zM222.3 365.4h0.8v0.8h-0.8zM216.9 341.4h0.8v0.8h-0.8zM213.7 345.0h0.8v0.8h-0.8zM208.9 347.6h0.8v0.8h-0.8zM210.1 336.9h0.8v0.8h-0.8zM212.4 354.0h0.8v0.8h-0.8zM225.4 358.1h0.8v0.8h-0.8zM235.9 367.1h0.8v0.8h-0.8zM214.1 352.0h0.8v0.8h-0.8zM229.1 348.5h0.8v0.8h-0.8zM220.8 362.9h0.8v0.8h-0.8zM210.1 333.9h0.8v0.8h-0.8zM211.9 363.0h0.8v0.8h-0.8zM216.7 371.0h0.8v0.8h-0.8zM228.3 346.4h0.8v0.8h-0.8zM210.4 350.9h0.8v0.8h-0.8zM223.3 349.4h0.8v0.8h-0.8zM217.9 366.1h0.8v0.8h-0.8zM215.7 370.8h0.8v0.8h-0.8zM213.7 364.2h0.8v0.8h-0.8zM228.1 364.2h0.8v0.8h-0.8zM209.7 351.2h0.8v0.8h-0.8zM210.3 357.5h0.8v0.8h-0.8zM212.5 334.6h0.8v0.8h-0.8zM213.4 369.1h0.8v0.8h-0.8zM226.4 360.9h0.8v0.8h-0.8zM213.3 347.7h0.8v0.8h-0.8zM234.7 362.9h0.8v0.8h-0.8zM217.6 347.7h0.8v0.8h-0.8zM212.7 364.6h0.8v0.8h-0.8zM210.8 369.1h0.8v0.8h-0.8zM216.0 339.9h0.8v0.8h-0.8zM208.9 356.8h0.8v0.8h-0.8zM216.8 351.3h0.8v0.8h-0.8zM229.9 353.2h0.8v0.8h-0.8zM214.8 333.8h0.8v0.8h-0.8zM215.6 349.7h0.8v0.8h-0.8zM220.8 362.1h0.8v0.8h-0.8zM218.0 369.0h0.8v0.8h-0.8zM228.2 343.8h0.8v0.8h-0.8zM234.5 345.8h0.8v0.8h-0.8zM228.5 353.6h0.8v0.8h-0.8zM212.3 352.5h0.8v0.8h-0.8zM223.5 358.1h0.8v0.8h-0.8zM213.0 348.1h0.8v0.8h-0.8zM219.5 349.7h0.8v0.8h-0.8zM214.0 346.8h0.8v0.8h-0.8zM216.8 334.5h0.8v0.8h-0.8zM220.2 344.9h0.8v0.8h-0.8zM210.3 368.2h0.8v0.8h-0.8zM209.3 347.3h0.8v0.8h-0.8zM231.8 351.4h0.8v0.8h-0.8zM210.7 346.0h0.8v0.8h-0.8zM214.5 371.4h0.8v0.8h-0.8zM210.4 337.4h0.8v0.8h-0.8zM226.6 356.4h0.8v0.8h-0.8zM230.0 367.9h0.8v0.8h-0.8zM224.9 368.2h0.8v0.8h-0.8zM226.0 366.8h0.8v0.8h-0.8zM224.0 370.7h0.8v0.8h-0.8zM223.2 367.4h0.8v0.8h-0.8zM233.9 365.8h0.8v0.8h-0.8zM224.3 359.3h0.8v0.8h-0.8zM219.0 334.6h0.8v0.8h-0.8zM219.3 365.8h0.8v0.8h-0.8zM210.7 342.0h0.8v0.8h-0.8zM218.0 343.7h0.8v0.8h-0.8zM208.9 335.0h0.8v0.8h-0.8zM212.8 340.4h0.8v0.8h-0.8zM209.7 370.3h0.8v0.8h-0.8z"/></g>
<rect x="223.0" y="355.8" width="2.6" height="2.4" fill="#e4e0f0" stroke="none" stroke-width="0.8"/>
<g filter="url(#bl05)"><path d="M196.6,371.2 L196.6,334.0 Q196.6,330.8 199.79999999999998,330.8 L206.60000000000002,330.8 Q209.8,330.8 209.8,334.0 L209.8,371.2 Z" fill="#3a2890"/><path d="M196.6,371.2 L196.6,334.0 Q196.6,330.8 199.79999999999998,330.8 L206.60000000000002,330.8 Q209.8,330.8 209.8,334.0 L209.8,371.2 Z" fill="#3234ac" transform="translate(202.2 366.0) scale(0.86 0.94) translate(-202.2 -366.0)"/><ellipse cx="202.2" cy="353.0" rx="4.752000000000006" ry="20.19999999999999" fill="#2c44bc" transform="translate(202.2 366.0) scale(1.000 0.920) translate(-202.2 -366.0)"/><ellipse cx="202.2" cy="353.0" rx="4.752000000000006" ry="20.19999999999999" fill="#2670c8" transform="translate(202.2 366.0) scale(1.000 0.780) translate(-202.2 -366.0)"/><ellipse cx="202.2" cy="353.0" rx="4.752000000000006" ry="20.19999999999999" fill="#2298c4" transform="translate(202.2 366.0) scale(0.851 0.630) translate(-202.2 -366.0)"/><ellipse cx="202.2" cy="353.0" rx="4.752000000000006" ry="20.19999999999999" fill="#24aab0" transform="translate(202.2 366.0) scale(0.675 0.500) translate(-202.2 -366.0)"/><ellipse cx="202.2" cy="353.0" rx="4.752000000000006" ry="20.19999999999999" fill="#3cb478" transform="translate(202.2 366.0) scale(0.513 0.380) translate(-202.2 -366.0)"/><ellipse cx="202.2" cy="353.0" rx="4.752000000000006" ry="20.19999999999999" fill="#70c040" transform="translate(202.2 366.0) scale(0.378 0.280) translate(-202.2 -366.0)"/><ellipse cx="202.2" cy="353.0" rx="4.752000000000006" ry="20.19999999999999" fill="#e4d830" transform="translate(202.2 366.0) scale(0.243 0.180) translate(-202.2 -366.0)"/><ellipse cx="202.2" cy="353.0" rx="4.752000000000006" ry="20.19999999999999" fill="#e0401e" transform="translate(202.2 366.0) scale(0.121 0.090) translate(-202.2 -366.0)"/></g>
</g>
<rect x="209.0" y="323.8" width="28.69999999999999" height="47.80000000000001" fill="none" stroke="#a5223f" stroke-width="0.9"/>
<text x="186.8" y="326.3" font-size="5.5" fill="#333" text-anchor="end">250K</text>
<text x="186.8" y="335.94" font-size="5.5" fill="#333" text-anchor="end">200K</text>
<text x="186.8" y="345.58" font-size="5.5" fill="#333" text-anchor="end">150K</text>
<text x="186.8" y="355.22" font-size="5.5" fill="#333" text-anchor="end">100K</text>
<text x="186.8" y="364.86" font-size="5.5" fill="#333" text-anchor="end">50K</text>
<text x="186.8" y="374.5" font-size="5.5" fill="#333" text-anchor="end">0K</text>
<text x="193.9" y="381.6" font-size="5.5" fill="#333" text-anchor="middle">−10<tspan font-size="3.8" dy="-2.30">3</tspan></text>
<text x="202.6" y="381.6" font-size="5.5" fill="#333" text-anchor="middle">0</text>
<text x="208.4" y="381.6" font-size="5.5" fill="#333" text-anchor="middle">10<tspan font-size="3.8" dy="-2.30">3</tspan></text>
<text x="223.1" y="381.6" font-size="5.5" fill="#333" text-anchor="middle">10<tspan font-size="3.8" dy="-2.30">4</tspan></text>
<text x="233.6" y="381.6" font-size="5.5" fill="#333" text-anchor="middle">10<tspan font-size="3.8" dy="-2.30">5</tspan></text>
<line x1="190.1" y1="324.3" x2="191.70000000000002" y2="324.3" stroke="#666" stroke-width="0.55"/>
<line x1="190.1" y1="333.94" x2="191.70000000000002" y2="333.94" stroke="#666" stroke-width="0.55"/>
<line x1="190.1" y1="343.58" x2="191.70000000000002" y2="343.58" stroke="#666" stroke-width="0.55"/>
<line x1="190.1" y1="353.22" x2="191.70000000000002" y2="353.22" stroke="#666" stroke-width="0.55"/>
<line x1="190.1" y1="362.86" x2="191.70000000000002" y2="362.86" stroke="#666" stroke-width="0.55"/>
<line x1="190.1" y1="372.5" x2="191.70000000000002" y2="372.5" stroke="#666" stroke-width="0.55"/>
<line x1="193.9" y1="372.2" x2="193.9" y2="373.8" stroke="#666" stroke-width="0.55"/>
<line x1="202.6" y1="372.2" x2="202.6" y2="373.8" stroke="#666" stroke-width="0.55"/>
<line x1="208.4" y1="372.2" x2="208.4" y2="373.8" stroke="#666" stroke-width="0.55"/>
<line x1="223.1" y1="372.2" x2="223.1" y2="373.8" stroke="#666" stroke-width="0.55"/>
<line x1="233.6" y1="372.2" x2="233.6" y2="373.8" stroke="#666" stroke-width="0.55"/>
<circle cx="202.60" cy="372.50" r="0.7" fill="#111"/>
<text x="215.2" y="337.2" font-size="5.2" fill="#c0415e">3.6%</text>
<rect x="192.3" y="392.2" width="46.29999999999998" height="49.10000000000002" fill="none" stroke="#c8c8c8" stroke-width="0.55"/>
<g clip-path="url(#c8)">
<g filter="url(#bl2)"><ellipse cx="220.00" cy="422.00" rx="11" ry="15" fill="#4a3aaa" fill-opacity="0.75"/><ellipse cx="220.00" cy="429.00" rx="10" ry="7" fill="#3a2a9c" fill-opacity="0.85"/></g>
<g fill-opacity="0.8"><path fill="#6a5cbc" d="M221.1 421.6h0.8v0.8h-0.8zM211.4 413.9h0.8v0.8h-0.8zM212.8 429.5h0.8v0.8h-0.8zM220.6 434.3h0.8v0.8h-0.8zM223.7 436.0h0.8v0.8h-0.8zM220.1 437.1h0.8v0.8h-0.8zM224.0 425.6h0.8v0.8h-0.8zM227.9 427.3h0.8v0.8h-0.8zM216.4 420.4h0.8v0.8h-0.8zM219.2 416.7h0.8v0.8h-0.8zM210.0 423.1h0.8v0.8h-0.8zM215.2 405.9h0.8v0.8h-0.8zM220.3 426.3h0.8v0.8h-0.8zM209.9 436.2h0.8v0.8h-0.8zM212.8 413.4h0.8v0.8h-0.8zM227.6 419.5h0.8v0.8h-0.8zM209.9 431.8h0.8v0.8h-0.8zM226.0 431.2h0.8v0.8h-0.8zM218.9 432.7h0.8v0.8h-0.8zM221.6 433.9h0.8v0.8h-0.8zM209.7 426.3h0.8v0.8h-0.8zM231.2 419.2h0.8v0.8h-0.8zM217.9 434.4h0.8v0.8h-0.8zM221.6 419.1h0.8v0.8h-0.8zM210.4 420.1h0.8v0.8h-0.8zM213.6 423.5h0.8v0.8h-0.8zM211.5 414.3h0.8v0.8h-0.8zM213.2 411.4h0.8v0.8h-0.8zM228.7 438.8h0.8v0.8h-0.8zM218.5 409.1h0.8v0.8h-0.8zM212.4 406.9h0.8v0.8h-0.8zM218.2 428.6h0.8v0.8h-0.8zM214.7 431.6h0.8v0.8h-0.8zM223.1 416.9h0.8v0.8h-0.8zM223.5 437.6h0.8v0.8h-0.8zM226.9 438.0h0.8v0.8h-0.8zM222.0 425.8h0.8v0.8h-0.8zM226.0 422.5h0.8v0.8h-0.8zM223.8 403.6h0.8v0.8h-0.8zM226.4 417.1h0.8v0.8h-0.8zM221.4 413.2h0.8v0.8h-0.8zM225.2 432.7h0.8v0.8h-0.8zM226.4 405.4h0.8v0.8h-0.8zM232.8 431.1h0.8v0.8h-0.8zM214.8 437.3h0.8v0.8h-0.8zM219.0 407.7h0.8v0.8h-0.8zM221.5 432.3h0.8v0.8h-0.8zM224.4 438.1h0.8v0.8h-0.8zM216.8 418.7h0.8v0.8h-0.8zM213.9 418.4h0.8v0.8h-0.8zM209.5 435.0h0.8v0.8h-0.8zM219.8 412.4h0.8v0.8h-0.8zM211.8 425.2h0.8v0.8h-0.8zM218.3 437.4h0.8v0.8h-0.8zM216.9 423.9h0.8v0.8h-0.8zM209.7 411.5h0.8v0.8h-0.8zM217.5 436.5h0.8v0.8h-0.8zM212.6 416.0h0.8v0.8h-0.8zM225.0 429.1h0.8v0.8h-0.8zM210.4 425.5h0.8v0.8h-0.8zM225.9 426.7h0.8v0.8h-0.8zM219.9 438.3h0.8v0.8h-0.8zM216.5 433.1h0.8v0.8h-0.8zM214.2 428.7h0.8v0.8h-0.8zM231.8 428.8h0.8v0.8h-0.8zM211.5 419.9h0.8v0.8h-0.8zM229.3 437.3h0.8v0.8h-0.8zM210.8 412.4h0.8v0.8h-0.8zM211.8 423.3h0.8v0.8h-0.8zM232.3 432.8h0.8v0.8h-0.8zM219.4 432.8h0.8v0.8h-0.8zM218.2 435.5h0.8v0.8h-0.8zM220.7 438.0h0.8v0.8h-0.8zM217.5 429.0h0.8v0.8h-0.8zM219.1 425.8h0.8v0.8h-0.8zM216.8 432.2h0.8v0.8h-0.8zM209.7 409.8h0.8v0.8h-0.8zM220.8 433.4h0.8v0.8h-0.8zM230.6 427.2h0.8v0.8h-0.8zM224.0 433.8h0.8v0.8h-0.8zM214.6 410.7h0.8v0.8h-0.8zM219.8 433.1h0.8v0.8h-0.8zM227.7 430.8h0.8v0.8h-0.8zM213.5 419.6h0.8v0.8h-0.8zM214.6 422.3h0.8v0.8h-0.8zM211.5 415.7h0.8v0.8h-0.8zM226.0 430.7h0.8v0.8h-0.8zM215.5 415.2h0.8v0.8h-0.8zM214.8 427.8h0.8v0.8h-0.8zM221.0 405.2h0.8v0.8h-0.8zM224.7 432.2h0.8v0.8h-0.8zM223.3 437.8h0.8v0.8h-0.8zM230.2 438.7h0.8v0.8h-0.8zM213.9 425.5h0.8v0.8h-0.8zM212.7 405.5h0.8v0.8h-0.8zM213.1 431.6h0.8v0.8h-0.8zM225.7 418.6h0.8v0.8h-0.8zM221.8 425.5h0.8v0.8h-0.8zM227.4 420.0h0.8v0.8h-0.8zM217.7 405.2h0.8v0.8h-0.8zM220.0 419.9h0.8v0.8h-0.8zM215.6 419.2h0.8v0.8h-0.8zM224.9 409.4h0.8v0.8h-0.8zM226.4 432.4h0.8v0.8h-0.8zM225.8 425.1h0.8v0.8h-0.8zM226.4 423.0h0.8v0.8h-0.8zM215.8 415.4h0.8v0.8h-0.8zM209.8 413.6h0.8v0.8h-0.8zM210.1 410.7h0.8v0.8h-0.8zM211.6 400.3h0.8v0.8h-0.8zM226.8 436.1h0.8v0.8h-0.8zM225.0 421.8h0.8v0.8h-0.8zM229.8 435.6h0.8v0.8h-0.8zM211.5 401.8h0.8v0.8h-0.8zM229.9 409.2h0.8v0.8h-0.8zM212.5 427.6h0.8v0.8h-0.8zM223.2 429.3h0.8v0.8h-0.8zM214.7 436.2h0.8v0.8h-0.8zM214.6 432.6h0.8v0.8h-0.8zM220.0 438.1h0.8v0.8h-0.8zM228.8 432.1h0.8v0.8h-0.8zM220.3 411.6h0.8v0.8h-0.8zM214.4 425.5h0.8v0.8h-0.8zM228.1 422.7h0.8v0.8h-0.8zM225.9 431.4h0.8v0.8h-0.8zM216.0 413.7h0.8v0.8h-0.8zM212.4 431.8h0.8v0.8h-0.8zM218.3 438.7h0.8v0.8h-0.8zM216.6 412.2h0.8v0.8h-0.8zM216.4 436.3h0.8v0.8h-0.8zM221.0 425.7h0.8v0.8h-0.8zM210.3 423.6h0.8v0.8h-0.8zM220.2 433.5h0.8v0.8h-0.8zM217.2 438.7h0.8v0.8h-0.8zM222.9 435.3h0.8v0.8h-0.8zM215.6 419.8h0.8v0.8h-0.8zM210.3 412.4h0.8v0.8h-0.8zM212.4 415.8h0.8v0.8h-0.8zM216.8 416.5h0.8v0.8h-0.8zM220.6 416.5h0.8v0.8h-0.8zM211.9 412.3h0.8v0.8h-0.8zM224.6 421.1h0.8v0.8h-0.8zM209.5 401.1h0.8v0.8h-0.8zM222.5 433.7h0.8v0.8h-0.8zM212.1 405.4h0.8v0.8h-0.8zM224.1 419.6h0.8v0.8h-0.8zM210.0 410.7h0.8v0.8h-0.8zM209.9 418.6h0.8v0.8h-0.8zM210.0 430.3h0.8v0.8h-0.8zM218.7 437.4h0.8v0.8h-0.8zM216.2 432.7h0.8v0.8h-0.8zM222.4 433.0h0.8v0.8h-0.8zM219.9 429.3h0.8v0.8h-0.8zM227.7 434.8h0.8v0.8h-0.8zM210.1 429.9h0.8v0.8h-0.8zM216.7 426.3h0.8v0.8h-0.8zM211.4 418.7h0.8v0.8h-0.8zM223.2 422.6h0.8v0.8h-0.8zM215.5 435.2h0.8v0.8h-0.8zM221.7 426.7h0.8v0.8h-0.8zM211.8 432.5h0.8v0.8h-0.8zM212.2 429.7h0.8v0.8h-0.8zM217.5 420.4h0.8v0.8h-0.8zM214.7 415.6h0.8v0.8h-0.8zM225.6 419.2h0.8v0.8h-0.8zM209.8 425.9h0.8v0.8h-0.8zM209.8 405.3h0.8v0.8h-0.8zM219.0 425.5h0.8v0.8h-0.8zM223.2 413.2h0.8v0.8h-0.8zM222.8 427.0h0.8v0.8h-0.8zM224.1 420.5h0.8v0.8h-0.8zM224.2 417.6h0.8v0.8h-0.8zM217.8 432.7h0.8v0.8h-0.8zM210.8 438.1h0.8v0.8h-0.8zM223.7 430.6h0.8v0.8h-0.8zM209.7 412.2h0.8v0.8h-0.8zM213.0 416.8h0.8v0.8h-0.8zM225.2 430.8h0.8v0.8h-0.8zM219.7 412.5h0.8v0.8h-0.8zM213.4 415.6h0.8v0.8h-0.8zM221.5 413.2h0.8v0.8h-0.8zM217.7 428.1h0.8v0.8h-0.8zM216.5 438.6h0.8v0.8h-0.8zM222.7 420.1h0.8v0.8h-0.8zM216.5 417.3h0.8v0.8h-0.8zM212.3 426.0h0.8v0.8h-0.8zM220.6 426.5h0.8v0.8h-0.8zM224.3 434.3h0.8v0.8h-0.8zM232.5 423.3h0.8v0.8h-0.8zM213.8 411.6h0.8v0.8h-0.8zM218.0 435.5h0.8v0.8h-0.8zM211.8 433.3h0.8v0.8h-0.8zM209.5 399.8h0.8v0.8h-0.8zM211.9 434.7h0.8v0.8h-0.8zM214.4 424.2h0.8v0.8h-0.8zM216.0 400.1h0.8v0.8h-0.8zM214.8 415.3h0.8v0.8h-0.8zM220.1 435.9h0.8v0.8h-0.8zM220.9 434.6h0.8v0.8h-0.8zM212.6 434.1h0.8v0.8h-0.8zM227.1 431.0h0.8v0.8h-0.8zM212.5 422.4h0.8v0.8h-0.8zM213.0 413.0h0.8v0.8h-0.8zM210.9 437.1h0.8v0.8h-0.8zM213.0 434.6h0.8v0.8h-0.8zM212.0 427.1h0.8v0.8h-0.8zM227.5 427.9h0.8v0.8h-0.8zM226.9 434.8h0.8v0.8h-0.8zM229.9 401.8h0.8v0.8h-0.8zM221.2 417.8h0.8v0.8h-0.8zM210.0 423.5h0.8v0.8h-0.8zM225.9 433.9h0.8v0.8h-0.8zM219.9 431.8h0.8v0.8h-0.8zM211.8 403.9h0.8v0.8h-0.8zM227.2 431.6h0.8v0.8h-0.8zM211.7 430.4h0.8v0.8h-0.8zM215.3 438.4h0.8v0.8h-0.8zM228.9 428.3h0.8v0.8h-0.8zM212.1 433.9h0.8v0.8h-0.8zM210.5 400.9h0.8v0.8h-0.8zM219.3 430.5h0.8v0.8h-0.8zM223.5 418.9h0.8v0.8h-0.8zM209.5 407.3h0.8v0.8h-0.8zM216.2 419.2h0.8v0.8h-0.8zM210.1 433.9h0.8v0.8h-0.8zM214.9 423.8h0.8v0.8h-0.8zM214.4 416.0h0.8v0.8h-0.8zM212.8 436.0h0.8v0.8h-0.8zM216.5 399.9h0.8v0.8h-0.8zM211.9 410.0h0.8v0.8h-0.8zM217.3 435.3h0.8v0.8h-0.8zM209.6 417.2h0.8v0.8h-0.8zM224.7 427.3h0.8v0.8h-0.8zM211.0 437.7h0.8v0.8h-0.8zM211.1 422.7h0.8v0.8h-0.8zM211.6 413.8h0.8v0.8h-0.8zM220.6 426.7h0.8v0.8h-0.8zM228.1 410.7h0.8v0.8h-0.8zM219.9 420.5h0.8v0.8h-0.8zM217.9 428.6h0.8v0.8h-0.8zM212.7 419.7h0.8v0.8h-0.8zM220.0 433.4h0.8v0.8h-0.8zM209.8 425.2h0.8v0.8h-0.8zM210.1 420.2h0.8v0.8h-0.8zM212.5 412.6h0.8v0.8h-0.8zM228.6 434.7h0.8v0.8h-0.8zM210.9 413.4h0.8v0.8h-0.8zM221.8 429.3h0.8v0.8h-0.8z"/><path fill="#3a30a0" d="M220.7 422.5h0.8v0.8h-0.8zM215.4 425.2h0.8v0.8h-0.8zM218.3 434.4h0.8v0.8h-0.8zM210.4 413.5h0.8v0.8h-0.8zM210.7 435.4h0.8v0.8h-0.8zM216.1 403.1h0.8v0.8h-0.8zM217.4 428.2h0.8v0.8h-0.8zM223.0 435.8h0.8v0.8h-0.8zM209.6 423.3h0.8v0.8h-0.8zM229.5 426.6h0.8v0.8h-0.8zM216.9 430.3h0.8v0.8h-0.8zM210.9 432.1h0.8v0.8h-0.8zM210.8 418.5h0.8v0.8h-0.8zM222.5 416.0h0.8v0.8h-0.8zM210.4 429.2h0.8v0.8h-0.8zM224.4 434.7h0.8v0.8h-0.8zM217.0 411.7h0.8v0.8h-0.8zM220.1 420.9h0.8v0.8h-0.8zM215.9 431.0h0.8v0.8h-0.8zM224.8 411.4h0.8v0.8h-0.8zM214.4 437.1h0.8v0.8h-0.8zM215.7 424.4h0.8v0.8h-0.8zM224.1 422.5h0.8v0.8h-0.8zM223.0 414.5h0.8v0.8h-0.8zM225.4 436.1h0.8v0.8h-0.8zM215.0 423.6h0.8v0.8h-0.8zM222.8 432.8h0.8v0.8h-0.8zM215.3 421.5h0.8v0.8h-0.8zM216.8 423.7h0.8v0.8h-0.8zM210.3 422.4h0.8v0.8h-0.8zM209.8 423.3h0.8v0.8h-0.8zM224.3 437.7h0.8v0.8h-0.8zM223.3 401.8h0.8v0.8h-0.8zM216.7 434.5h0.8v0.8h-0.8zM224.3 434.9h0.8v0.8h-0.8zM223.1 429.4h0.8v0.8h-0.8zM222.7 436.8h0.8v0.8h-0.8zM215.3 409.5h0.8v0.8h-0.8zM230.1 438.2h0.8v0.8h-0.8zM225.7 438.9h0.8v0.8h-0.8zM210.3 403.9h0.8v0.8h-0.8zM214.7 427.8h0.8v0.8h-0.8zM210.2 418.1h0.8v0.8h-0.8zM211.8 436.3h0.8v0.8h-0.8zM213.5 411.0h0.8v0.8h-0.8zM218.9 428.6h0.8v0.8h-0.8zM209.5 407.3h0.8v0.8h-0.8zM213.8 416.7h0.8v0.8h-0.8zM212.8 417.0h0.8v0.8h-0.8zM213.2 407.5h0.8v0.8h-0.8zM215.0 412.2h0.8v0.8h-0.8zM210.1 399.9h0.8v0.8h-0.8zM215.6 419.6h0.8v0.8h-0.8zM216.8 419.6h0.8v0.8h-0.8zM211.1 401.2h0.8v0.8h-0.8zM228.7 421.5h0.8v0.8h-0.8zM214.6 413.2h0.8v0.8h-0.8zM231.0 434.8h0.8v0.8h-0.8zM210.6 421.6h0.8v0.8h-0.8zM226.7 411.5h0.8v0.8h-0.8zM224.5 430.5h0.8v0.8h-0.8zM209.5 406.9h0.8v0.8h-0.8zM216.4 438.3h0.8v0.8h-0.8zM214.7 427.1h0.8v0.8h-0.8zM213.5 428.4h0.8v0.8h-0.8zM216.1 403.1h0.8v0.8h-0.8zM226.0 421.0h0.8v0.8h-0.8zM231.1 422.8h0.8v0.8h-0.8zM216.3 407.7h0.8v0.8h-0.8zM230.2 422.0h0.8v0.8h-0.8zM216.3 437.2h0.8v0.8h-0.8zM222.6 436.4h0.8v0.8h-0.8zM229.8 402.0h0.8v0.8h-0.8zM216.4 415.2h0.8v0.8h-0.8zM210.3 433.8h0.8v0.8h-0.8zM212.4 428.6h0.8v0.8h-0.8zM211.1 405.3h0.8v0.8h-0.8zM223.0 428.0h0.8v0.8h-0.8zM214.5 420.0h0.8v0.8h-0.8zM232.6 429.3h0.8v0.8h-0.8zM221.9 418.0h0.8v0.8h-0.8zM211.2 407.6h0.8v0.8h-0.8zM222.1 420.4h0.8v0.8h-0.8zM221.0 417.0h0.8v0.8h-0.8zM231.5 438.4h0.8v0.8h-0.8zM220.6 424.6h0.8v0.8h-0.8zM215.2 431.6h0.8v0.8h-0.8zM210.4 436.9h0.8v0.8h-0.8zM232.2 435.7h0.8v0.8h-0.8zM224.5 437.9h0.8v0.8h-0.8zM211.3 427.6h0.8v0.8h-0.8zM214.8 401.7h0.8v0.8h-0.8zM215.9 414.7h0.8v0.8h-0.8zM220.0 427.2h0.8v0.8h-0.8zM213.8 427.9h0.8v0.8h-0.8zM211.5 431.6h0.8v0.8h-0.8zM224.9 429.5h0.8v0.8h-0.8zM217.8 435.7h0.8v0.8h-0.8zM216.0 429.1h0.8v0.8h-0.8zM216.4 425.3h0.8v0.8h-0.8zM216.8 420.1h0.8v0.8h-0.8zM210.7 414.3h0.8v0.8h-0.8zM225.0 424.3h0.8v0.8h-0.8zM221.6 405.4h0.8v0.8h-0.8zM214.8 412.4h0.8v0.8h-0.8zM214.9 434.0h0.8v0.8h-0.8zM219.8 419.5h0.8v0.8h-0.8zM229.8 438.1h0.8v0.8h-0.8zM220.6 434.8h0.8v0.8h-0.8zM218.6 436.6h0.8v0.8h-0.8zM210.8 436.9h0.8v0.8h-0.8zM224.1 428.3h0.8v0.8h-0.8zM218.5 425.2h0.8v0.8h-0.8zM221.7 430.7h0.8v0.8h-0.8zM224.7 413.9h0.8v0.8h-0.8zM229.8 434.3h0.8v0.8h-0.8zM225.5 403.6h0.8v0.8h-0.8zM211.8 421.4h0.8v0.8h-0.8zM223.4 409.1h0.8v0.8h-0.8zM231.5 415.3h0.8v0.8h-0.8zM222.1 414.3h0.8v0.8h-0.8zM220.5 418.4h0.8v0.8h-0.8zM219.8 426.9h0.8v0.8h-0.8zM231.5 433.0h0.8v0.8h-0.8zM232.0 434.6h0.8v0.8h-0.8zM210.8 432.0h0.8v0.8h-0.8zM220.9 410.5h0.8v0.8h-0.8zM212.2 408.9h0.8v0.8h-0.8zM215.3 438.4h0.8v0.8h-0.8zM222.1 438.8h0.8v0.8h-0.8zM225.5 429.3h0.8v0.8h-0.8zM227.9 416.0h0.8v0.8h-0.8zM216.2 421.3h0.8v0.8h-0.8zM219.0 429.1h0.8v0.8h-0.8zM232.8 426.8h0.8v0.8h-0.8zM231.1 427.8h0.8v0.8h-0.8zM228.7 432.8h0.8v0.8h-0.8zM218.4 418.9h0.8v0.8h-0.8zM231.0 422.2h0.8v0.8h-0.8zM215.4 429.9h0.8v0.8h-0.8zM217.1 411.5h0.8v0.8h-0.8zM214.8 427.3h0.8v0.8h-0.8zM213.0 416.5h0.8v0.8h-0.8zM209.7 422.2h0.8v0.8h-0.8zM217.5 415.8h0.8v0.8h-0.8zM217.8 421.3h0.8v0.8h-0.8zM215.8 433.9h0.8v0.8h-0.8zM217.9 421.3h0.8v0.8h-0.8zM214.3 421.0h0.8v0.8h-0.8zM211.4 438.8h0.8v0.8h-0.8zM217.4 415.0h0.8v0.8h-0.8zM221.6 433.0h0.8v0.8h-0.8zM220.8 430.0h0.8v0.8h-0.8zM231.4 401.1h0.8v0.8h-0.8zM225.6 432.9h0.8v0.8h-0.8zM209.5 416.9h0.8v0.8h-0.8zM227.0 432.6h0.8v0.8h-0.8zM209.8 410.7h0.8v0.8h-0.8zM211.5 423.6h0.8v0.8h-0.8zM228.5 437.8h0.8v0.8h-0.8zM226.6 438.0h0.8v0.8h-0.8zM218.6 410.9h0.8v0.8h-0.8zM215.0 424.5h0.8v0.8h-0.8zM216.6 408.7h0.8v0.8h-0.8zM214.3 401.1h0.8v0.8h-0.8zM209.5 419.7h0.8v0.8h-0.8zM229.5 435.3h0.8v0.8h-0.8zM221.3 420.9h0.8v0.8h-0.8zM220.8 435.5h0.8v0.8h-0.8zM229.6 438.8h0.8v0.8h-0.8zM214.4 437.8h0.8v0.8h-0.8zM214.3 436.4h0.8v0.8h-0.8zM223.9 433.0h0.8v0.8h-0.8zM232.1 435.4h0.8v0.8h-0.8zM209.5 433.7h0.8v0.8h-0.8zM215.7 430.2h0.8v0.8h-0.8zM224.8 421.0h0.8v0.8h-0.8zM212.1 400.3h0.8v0.8h-0.8zM210.6 425.2h0.8v0.8h-0.8zM220.2 429.2h0.8v0.8h-0.8zM215.5 411.4h0.8v0.8h-0.8zM215.7 416.9h0.8v0.8h-0.8zM215.7 416.3h0.8v0.8h-0.8zM211.8 432.0h0.8v0.8h-0.8zM217.5 414.0h0.8v0.8h-0.8zM220.9 433.2h0.8v0.8h-0.8zM213.4 427.8h0.8v0.8h-0.8zM220.8 435.4h0.8v0.8h-0.8zM210.7 434.8h0.8v0.8h-0.8zM210.0 429.0h0.8v0.8h-0.8zM222.3 423.5h0.8v0.8h-0.8zM214.4 409.4h0.8v0.8h-0.8zM213.1 430.1h0.8v0.8h-0.8zM210.9 412.0h0.8v0.8h-0.8zM210.1 438.7h0.8v0.8h-0.8zM213.1 421.6h0.8v0.8h-0.8zM223.9 421.3h0.8v0.8h-0.8zM214.5 422.8h0.8v0.8h-0.8zM220.2 438.2h0.8v0.8h-0.8zM211.0 415.7h0.8v0.8h-0.8zM212.8 433.1h0.8v0.8h-0.8zM213.3 420.0h0.8v0.8h-0.8zM223.3 437.1h0.8v0.8h-0.8zM217.0 404.6h0.8v0.8h-0.8zM212.9 436.6h0.8v0.8h-0.8zM219.2 438.6h0.8v0.8h-0.8zM223.0 431.6h0.8v0.8h-0.8zM209.5 409.7h0.8v0.8h-0.8zM219.5 423.5h0.8v0.8h-0.8zM212.9 432.4h0.8v0.8h-0.8zM210.4 412.7h0.8v0.8h-0.8zM213.9 413.9h0.8v0.8h-0.8zM215.0 407.2h0.8v0.8h-0.8zM212.0 405.1h0.8v0.8h-0.8zM224.7 430.9h0.8v0.8h-0.8zM223.8 433.4h0.8v0.8h-0.8zM217.8 429.2h0.8v0.8h-0.8zM228.3 411.5h0.8v0.8h-0.8zM214.0 424.9h0.8v0.8h-0.8zM218.5 434.6h0.8v0.8h-0.8zM225.2 432.9h0.8v0.8h-0.8zM220.9 431.0h0.8v0.8h-0.8zM227.4 433.3h0.8v0.8h-0.8zM212.1 410.5h0.8v0.8h-0.8zM210.0 401.8h0.8v0.8h-0.8zM226.5 424.5h0.8v0.8h-0.8zM227.4 421.4h0.8v0.8h-0.8zM218.8 419.0h0.8v0.8h-0.8zM232.1 436.6h0.8v0.8h-0.8zM222.1 412.0h0.8v0.8h-0.8zM212.2 410.5h0.8v0.8h-0.8zM231.6 427.0h0.8v0.8h-0.8zM215.2 416.9h0.8v0.8h-0.8zM224.6 404.4h0.8v0.8h-0.8zM209.9 435.2h0.8v0.8h-0.8zM232.3 423.8h0.8v0.8h-0.8zM220.4 433.3h0.8v0.8h-0.8zM210.6 435.8h0.8v0.8h-0.8zM213.8 432.6h0.8v0.8h-0.8zM220.1 414.0h0.8v0.8h-0.8zM214.1 406.1h0.8v0.8h-0.8zM213.9 437.3h0.8v0.8h-0.8zM210.9 416.3h0.8v0.8h-0.8zM221.6 430.7h0.8v0.8h-0.8zM228.5 434.1h0.8v0.8h-0.8zM227.7 435.2h0.8v0.8h-0.8zM219.6 431.9h0.8v0.8h-0.8zM211.0 435.1h0.8v0.8h-0.8zM214.9 428.8h0.8v0.8h-0.8zM210.6 416.9h0.8v0.8h-0.8zM210.9 436.4h0.8v0.8h-0.8zM210.0 404.9h0.8v0.8h-0.8zM213.0 400.8h0.8v0.8h-0.8zM215.7 433.2h0.8v0.8h-0.8zM211.6 405.3h0.8v0.8h-0.8zM226.0 423.6h0.8v0.8h-0.8zM220.4 421.8h0.8v0.8h-0.8zM210.8 428.0h0.8v0.8h-0.8zM210.9 408.1h0.8v0.8h-0.8zM215.3 417.0h0.8v0.8h-0.8zM211.1 414.5h0.8v0.8h-0.8zM229.0 437.9h0.8v0.8h-0.8zM228.1 426.1h0.8v0.8h-0.8zM224.3 414.2h0.8v0.8h-0.8zM222.4 433.3h0.8v0.8h-0.8zM213.9 435.1h0.8v0.8h-0.8zM216.1 437.2h0.8v0.8h-0.8zM212.2 435.1h0.8v0.8h-0.8zM223.3 434.7h0.8v0.8h-0.8zM217.6 422.3h0.8v0.8h-0.8zM209.6 434.4h0.8v0.8h-0.8z"/><path fill="#2e2488" d="M210.9 434.3h0.8v0.8h-0.8zM221.6 429.2h0.8v0.8h-0.8zM218.2 423.7h0.8v0.8h-0.8zM210.3 427.5h0.8v0.8h-0.8zM227.0 437.5h0.8v0.8h-0.8zM209.6 420.0h0.8v0.8h-0.8zM225.6 425.3h0.8v0.8h-0.8zM224.3 432.2h0.8v0.8h-0.8zM230.6 419.9h0.8v0.8h-0.8zM226.4 414.2h0.8v0.8h-0.8zM215.9 422.0h0.8v0.8h-0.8zM211.6 407.7h0.8v0.8h-0.8zM219.9 424.5h0.8v0.8h-0.8zM228.6 436.4h0.8v0.8h-0.8zM213.9 437.7h0.8v0.8h-0.8zM222.6 431.4h0.8v0.8h-0.8zM210.3 434.4h0.8v0.8h-0.8zM216.5 434.6h0.8v0.8h-0.8zM225.2 433.5h0.8v0.8h-0.8zM210.8 403.6h0.8v0.8h-0.8zM224.5 436.1h0.8v0.8h-0.8zM222.3 426.8h0.8v0.8h-0.8zM230.7 431.2h0.8v0.8h-0.8zM231.0 424.0h0.8v0.8h-0.8zM217.5 438.8h0.8v0.8h-0.8zM220.9 429.7h0.8v0.8h-0.8zM232.7 428.2h0.8v0.8h-0.8zM214.2 434.5h0.8v0.8h-0.8zM215.5 431.4h0.8v0.8h-0.8zM224.2 413.0h0.8v0.8h-0.8zM210.0 427.0h0.8v0.8h-0.8zM215.8 428.0h0.8v0.8h-0.8zM226.7 436.3h0.8v0.8h-0.8zM210.0 436.5h0.8v0.8h-0.8zM210.3 418.2h0.8v0.8h-0.8zM210.5 433.3h0.8v0.8h-0.8zM212.4 438.8h0.8v0.8h-0.8zM215.4 408.9h0.8v0.8h-0.8zM215.3 436.7h0.8v0.8h-0.8zM210.4 427.1h0.8v0.8h-0.8zM219.9 421.7h0.8v0.8h-0.8zM219.7 432.9h0.8v0.8h-0.8zM224.6 417.7h0.8v0.8h-0.8zM211.6 403.6h0.8v0.8h-0.8zM211.1 437.5h0.8v0.8h-0.8zM222.8 411.2h0.8v0.8h-0.8zM222.5 438.0h0.8v0.8h-0.8zM222.1 430.3h0.8v0.8h-0.8zM223.0 433.7h0.8v0.8h-0.8zM220.0 430.5h0.8v0.8h-0.8zM225.9 427.1h0.8v0.8h-0.8zM222.1 415.1h0.8v0.8h-0.8zM221.1 427.7h0.8v0.8h-0.8zM229.7 428.9h0.8v0.8h-0.8zM215.6 424.3h0.8v0.8h-0.8zM222.6 423.3h0.8v0.8h-0.8zM211.1 425.4h0.8v0.8h-0.8zM211.1 431.9h0.8v0.8h-0.8zM215.3 406.1h0.8v0.8h-0.8zM209.9 402.1h0.8v0.8h-0.8zM211.7 438.2h0.8v0.8h-0.8zM218.4 401.3h0.8v0.8h-0.8zM221.2 418.4h0.8v0.8h-0.8zM214.7 437.0h0.8v0.8h-0.8zM221.5 418.9h0.8v0.8h-0.8zM220.9 429.6h0.8v0.8h-0.8zM214.8 424.4h0.8v0.8h-0.8zM220.1 427.8h0.8v0.8h-0.8zM210.1 425.2h0.8v0.8h-0.8zM216.3 431.6h0.8v0.8h-0.8zM216.6 413.5h0.8v0.8h-0.8zM209.7 409.1h0.8v0.8h-0.8zM218.9 420.1h0.8v0.8h-0.8zM209.7 420.7h0.8v0.8h-0.8zM215.3 405.9h0.8v0.8h-0.8zM214.7 428.8h0.8v0.8h-0.8zM211.5 404.8h0.8v0.8h-0.8zM223.4 426.4h0.8v0.8h-0.8zM221.8 426.1h0.8v0.8h-0.8zM221.1 432.6h0.8v0.8h-0.8zM221.8 438.1h0.8v0.8h-0.8zM217.9 425.3h0.8v0.8h-0.8zM213.1 410.2h0.8v0.8h-0.8zM221.9 430.5h0.8v0.8h-0.8zM212.6 417.4h0.8v0.8h-0.8zM217.1 434.3h0.8v0.8h-0.8zM222.5 426.1h0.8v0.8h-0.8zM210.5 419.9h0.8v0.8h-0.8zM213.6 424.0h0.8v0.8h-0.8zM223.0 427.7h0.8v0.8h-0.8zM211.3 428.6h0.8v0.8h-0.8zM215.3 417.0h0.8v0.8h-0.8zM213.7 421.4h0.8v0.8h-0.8zM225.8 431.0h0.8v0.8h-0.8zM231.0 428.8h0.8v0.8h-0.8zM213.6 417.5h0.8v0.8h-0.8zM220.7 427.8h0.8v0.8h-0.8zM215.3 415.3h0.8v0.8h-0.8zM214.1 427.4h0.8v0.8h-0.8zM215.6 426.5h0.8v0.8h-0.8zM211.0 414.2h0.8v0.8h-0.8zM219.9 413.3h0.8v0.8h-0.8zM210.0 429.8h0.8v0.8h-0.8zM224.2 435.1h0.8v0.8h-0.8zM215.6 419.4h0.8v0.8h-0.8zM222.0 434.8h0.8v0.8h-0.8zM222.2 408.4h0.8v0.8h-0.8zM210.5 424.0h0.8v0.8h-0.8zM216.7 426.6h0.8v0.8h-0.8zM220.2 424.0h0.8v0.8h-0.8zM209.6 428.1h0.8v0.8h-0.8zM223.3 431.6h0.8v0.8h-0.8zM226.0 412.5h0.8v0.8h-0.8zM220.1 425.8h0.8v0.8h-0.8zM210.9 403.8h0.8v0.8h-0.8zM209.7 436.6h0.8v0.8h-0.8zM212.0 412.2h0.8v0.8h-0.8zM219.7 419.4h0.8v0.8h-0.8zM225.5 432.2h0.8v0.8h-0.8zM218.9 423.0h0.8v0.8h-0.8zM209.7 432.6h0.8v0.8h-0.8zM226.4 421.2h0.8v0.8h-0.8zM219.9 410.1h0.8v0.8h-0.8zM225.2 413.3h0.8v0.8h-0.8zM215.0 438.7h0.8v0.8h-0.8zM229.1 438.5h0.8v0.8h-0.8zM220.1 421.4h0.8v0.8h-0.8zM215.2 421.6h0.8v0.8h-0.8zM219.6 429.3h0.8v0.8h-0.8zM209.8 432.2h0.8v0.8h-0.8zM209.9 437.6h0.8v0.8h-0.8zM224.0 426.9h0.8v0.8h-0.8zM224.1 426.8h0.8v0.8h-0.8zM226.1 414.1h0.8v0.8h-0.8zM214.9 432.1h0.8v0.8h-0.8zM229.4 435.7h0.8v0.8h-0.8zM231.9 421.3h0.8v0.8h-0.8zM217.6 430.2h0.8v0.8h-0.8zM227.5 426.1h0.8v0.8h-0.8zM210.8 435.1h0.8v0.8h-0.8zM213.1 437.2h0.8v0.8h-0.8zM224.3 431.2h0.8v0.8h-0.8zM220.0 426.7h0.8v0.8h-0.8zM216.6 423.0h0.8v0.8h-0.8zM225.4 428.5h0.8v0.8h-0.8zM232.6 402.5h0.8v0.8h-0.8zM212.7 430.8h0.8v0.8h-0.8zM214.3 424.8h0.8v0.8h-0.8zM213.7 432.1h0.8v0.8h-0.8zM223.4 436.7h0.8v0.8h-0.8zM214.5 429.3h0.8v0.8h-0.8zM224.9 433.0h0.8v0.8h-0.8zM210.8 420.9h0.8v0.8h-0.8zM219.5 414.1h0.8v0.8h-0.8zM215.1 412.4h0.8v0.8h-0.8zM210.9 424.9h0.8v0.8h-0.8zM215.6 436.6h0.8v0.8h-0.8zM224.1 429.9h0.8v0.8h-0.8zM209.6 402.8h0.8v0.8h-0.8zM211.8 435.6h0.8v0.8h-0.8zM217.2 430.7h0.8v0.8h-0.8zM212.2 436.5h0.8v0.8h-0.8zM211.7 427.8h0.8v0.8h-0.8zM218.5 416.5h0.8v0.8h-0.8zM223.1 436.8h0.8v0.8h-0.8zM217.5 437.1h0.8v0.8h-0.8zM217.2 431.0h0.8v0.8h-0.8zM217.5 421.5h0.8v0.8h-0.8zM210.1 416.3h0.8v0.8h-0.8zM221.8 438.0h0.8v0.8h-0.8zM222.3 430.8h0.8v0.8h-0.8zM209.6 406.1h0.8v0.8h-0.8zM210.2 415.3h0.8v0.8h-0.8zM217.1 438.4h0.8v0.8h-0.8zM217.4 425.4h0.8v0.8h-0.8zM211.4 434.3h0.8v0.8h-0.8zM218.2 406.8h0.8v0.8h-0.8zM209.9 425.9h0.8v0.8h-0.8zM219.1 417.3h0.8v0.8h-0.8zM214.1 437.8h0.8v0.8h-0.8zM210.0 407.8h0.8v0.8h-0.8zM213.4 434.0h0.8v0.8h-0.8zM220.6 433.8h0.8v0.8h-0.8zM222.2 406.4h0.8v0.8h-0.8zM220.8 428.2h0.8v0.8h-0.8zM215.4 425.0h0.8v0.8h-0.8zM211.2 408.6h0.8v0.8h-0.8zM225.0 436.1h0.8v0.8h-0.8zM224.6 435.8h0.8v0.8h-0.8zM216.8 420.8h0.8v0.8h-0.8zM221.8 438.7h0.8v0.8h-0.8zM216.4 409.2h0.8v0.8h-0.8zM219.7 438.5h0.8v0.8h-0.8zM212.5 412.8h0.8v0.8h-0.8zM216.3 416.0h0.8v0.8h-0.8zM220.6 423.5h0.8v0.8h-0.8zM212.4 434.6h0.8v0.8h-0.8zM212.4 416.0h0.8v0.8h-0.8zM225.0 414.4h0.8v0.8h-0.8zM218.3 435.4h0.8v0.8h-0.8zM218.4 421.6h0.8v0.8h-0.8zM213.4 427.1h0.8v0.8h-0.8zM217.6 419.4h0.8v0.8h-0.8zM219.2 421.8h0.8v0.8h-0.8zM211.9 416.7h0.8v0.8h-0.8zM218.4 438.7h0.8v0.8h-0.8zM217.3 412.2h0.8v0.8h-0.8zM221.0 430.5h0.8v0.8h-0.8zM230.1 431.0h0.8v0.8h-0.8zM211.5 435.8h0.8v0.8h-0.8zM221.6 431.8h0.8v0.8h-0.8zM222.6 422.9h0.8v0.8h-0.8zM219.6 408.2h0.8v0.8h-0.8zM215.5 431.2h0.8v0.8h-0.8zM220.4 425.5h0.8v0.8h-0.8zM210.2 437.5h0.8v0.8h-0.8zM211.8 419.0h0.8v0.8h-0.8zM232.7 426.5h0.8v0.8h-0.8zM215.2 417.4h0.8v0.8h-0.8zM221.9 421.7h0.8v0.8h-0.8zM225.7 431.4h0.8v0.8h-0.8zM231.4 423.7h0.8v0.8h-0.8zM214.8 438.5h0.8v0.8h-0.8zM217.5 435.4h0.8v0.8h-0.8zM233.1 426.9h0.8v0.8h-0.8zM213.1 438.8h0.8v0.8h-0.8zM222.6 436.9h0.8v0.8h-0.8zM221.4 435.6h0.8v0.8h-0.8zM216.2 438.7h0.8v0.8h-0.8zM229.7 420.2h0.8v0.8h-0.8zM220.0 429.5h0.8v0.8h-0.8zM224.7 416.5h0.8v0.8h-0.8zM213.0 430.5h0.8v0.8h-0.8zM209.8 428.8h0.8v0.8h-0.8zM220.5 407.6h0.8v0.8h-0.8zM213.0 420.2h0.8v0.8h-0.8zM209.6 418.9h0.8v0.8h-0.8zM224.3 422.5h0.8v0.8h-0.8zM220.4 425.9h0.8v0.8h-0.8zM219.7 413.4h0.8v0.8h-0.8zM218.4 405.7h0.8v0.8h-0.8zM214.6 436.0h0.8v0.8h-0.8zM226.1 434.0h0.8v0.8h-0.8zM227.7 426.2h0.8v0.8h-0.8zM226.6 428.2h0.8v0.8h-0.8zM219.0 425.5h0.8v0.8h-0.8zM218.7 400.2h0.8v0.8h-0.8zM229.1 434.1h0.8v0.8h-0.8zM215.0 436.1h0.8v0.8h-0.8zM210.6 410.5h0.8v0.8h-0.8zM213.1 435.7h0.8v0.8h-0.8zM216.4 412.0h0.8v0.8h-0.8zM213.1 421.9h0.8v0.8h-0.8zM220.7 416.2h0.8v0.8h-0.8zM213.3 431.5h0.8v0.8h-0.8zM229.8 434.7h0.8v0.8h-0.8zM223.8 419.2h0.8v0.8h-0.8z"/><path fill="#3a2896" d="M212.5 418.7h0.8v0.8h-0.8zM226.2 431.5h0.8v0.8h-0.8zM211.6 430.3h0.8v0.8h-0.8zM217.9 419.6h0.8v0.8h-0.8zM216.0 434.7h0.8v0.8h-0.8zM220.2 434.8h0.8v0.8h-0.8zM221.2 431.8h0.8v0.8h-0.8zM222.0 435.5h0.8v0.8h-0.8zM219.0 430.9h0.8v0.8h-0.8zM209.9 421.3h0.8v0.8h-0.8zM218.2 435.1h0.8v0.8h-0.8zM214.5 427.6h0.8v0.8h-0.8zM217.1 425.6h0.8v0.8h-0.8zM217.2 438.9h0.8v0.8h-0.8zM232.9 433.7h0.8v0.8h-0.8zM211.0 417.4h0.8v0.8h-0.8zM219.0 407.3h0.8v0.8h-0.8zM222.3 422.2h0.8v0.8h-0.8zM216.4 415.8h0.8v0.8h-0.8zM217.5 430.8h0.8v0.8h-0.8zM212.8 419.0h0.8v0.8h-0.8zM211.4 416.7h0.8v0.8h-0.8zM216.1 419.2h0.8v0.8h-0.8zM221.5 436.1h0.8v0.8h-0.8zM211.5 434.7h0.8v0.8h-0.8zM212.1 409.0h0.8v0.8h-0.8zM217.7 429.6h0.8v0.8h-0.8zM217.7 414.1h0.8v0.8h-0.8zM214.4 416.6h0.8v0.8h-0.8zM231.6 432.8h0.8v0.8h-0.8zM220.5 432.2h0.8v0.8h-0.8zM217.9 426.7h0.8v0.8h-0.8zM216.5 402.6h0.8v0.8h-0.8zM216.9 424.9h0.8v0.8h-0.8zM210.4 418.4h0.8v0.8h-0.8zM220.2 422.4h0.8v0.8h-0.8zM216.7 424.9h0.8v0.8h-0.8zM229.5 415.5h0.8v0.8h-0.8zM212.6 420.1h0.8v0.8h-0.8zM211.0 407.5h0.8v0.8h-0.8zM223.8 412.2h0.8v0.8h-0.8zM228.4 424.2h0.8v0.8h-0.8zM210.3 433.6h0.8v0.8h-0.8zM220.4 431.8h0.8v0.8h-0.8zM226.8 420.9h0.8v0.8h-0.8zM221.4 438.0h0.8v0.8h-0.8zM217.2 437.7h0.8v0.8h-0.8zM219.1 405.3h0.8v0.8h-0.8zM232.0 432.3h0.8v0.8h-0.8zM228.6 430.9h0.8v0.8h-0.8zM211.9 401.7h0.8v0.8h-0.8zM211.0 437.7h0.8v0.8h-0.8zM217.5 409.9h0.8v0.8h-0.8zM209.6 435.7h0.8v0.8h-0.8zM209.6 431.7h0.8v0.8h-0.8zM221.3 431.6h0.8v0.8h-0.8zM217.4 438.6h0.8v0.8h-0.8zM226.4 419.4h0.8v0.8h-0.8zM211.0 431.9h0.8v0.8h-0.8zM228.3 436.6h0.8v0.8h-0.8zM211.6 437.5h0.8v0.8h-0.8zM220.7 420.9h0.8v0.8h-0.8zM212.3 411.3h0.8v0.8h-0.8zM214.4 418.2h0.8v0.8h-0.8zM215.4 421.7h0.8v0.8h-0.8zM227.6 435.6h0.8v0.8h-0.8zM211.2 422.8h0.8v0.8h-0.8zM228.8 405.3h0.8v0.8h-0.8zM209.7 438.0h0.8v0.8h-0.8zM224.6 436.3h0.8v0.8h-0.8zM227.4 438.0h0.8v0.8h-0.8zM219.1 432.4h0.8v0.8h-0.8zM223.0 418.3h0.8v0.8h-0.8zM216.9 438.2h0.8v0.8h-0.8zM210.8 427.2h0.8v0.8h-0.8zM226.2 437.4h0.8v0.8h-0.8zM217.1 419.9h0.8v0.8h-0.8zM211.8 434.1h0.8v0.8h-0.8zM217.8 412.7h0.8v0.8h-0.8zM222.7 432.4h0.8v0.8h-0.8zM217.7 420.4h0.8v0.8h-0.8zM224.9 425.7h0.8v0.8h-0.8zM212.2 425.9h0.8v0.8h-0.8zM211.5 425.5h0.8v0.8h-0.8zM216.1 430.3h0.8v0.8h-0.8zM216.8 415.1h0.8v0.8h-0.8zM218.5 434.5h0.8v0.8h-0.8zM209.6 436.7h0.8v0.8h-0.8zM226.2 419.2h0.8v0.8h-0.8zM219.6 407.0h0.8v0.8h-0.8zM212.2 435.6h0.8v0.8h-0.8zM230.6 427.5h0.8v0.8h-0.8zM227.1 417.2h0.8v0.8h-0.8zM221.5 437.0h0.8v0.8h-0.8zM218.1 411.4h0.8v0.8h-0.8zM210.8 436.4h0.8v0.8h-0.8zM213.8 437.8h0.8v0.8h-0.8zM217.9 425.0h0.8v0.8h-0.8zM213.4 422.0h0.8v0.8h-0.8zM213.1 413.6h0.8v0.8h-0.8zM212.2 412.2h0.8v0.8h-0.8zM213.1 423.8h0.8v0.8h-0.8zM226.7 429.1h0.8v0.8h-0.8zM211.8 415.9h0.8v0.8h-0.8zM214.2 424.2h0.8v0.8h-0.8zM212.4 435.6h0.8v0.8h-0.8zM218.1 418.2h0.8v0.8h-0.8zM217.1 415.2h0.8v0.8h-0.8zM231.3 415.3h0.8v0.8h-0.8zM228.1 430.5h0.8v0.8h-0.8zM214.2 417.9h0.8v0.8h-0.8zM209.5 412.6h0.8v0.8h-0.8zM225.9 424.1h0.8v0.8h-0.8zM224.5 428.0h0.8v0.8h-0.8zM218.2 437.2h0.8v0.8h-0.8zM214.2 435.7h0.8v0.8h-0.8zM212.2 425.5h0.8v0.8h-0.8zM213.4 430.5h0.8v0.8h-0.8zM229.9 438.1h0.8v0.8h-0.8zM224.2 435.3h0.8v0.8h-0.8zM213.2 432.6h0.8v0.8h-0.8zM210.4 416.2h0.8v0.8h-0.8zM211.8 436.8h0.8v0.8h-0.8zM219.7 418.6h0.8v0.8h-0.8zM215.6 418.2h0.8v0.8h-0.8zM216.2 420.7h0.8v0.8h-0.8zM213.2 412.7h0.8v0.8h-0.8zM210.6 423.8h0.8v0.8h-0.8zM211.8 419.1h0.8v0.8h-0.8zM219.9 414.6h0.8v0.8h-0.8zM209.4 402.0h0.8v0.8h-0.8zM211.5 421.5h0.8v0.8h-0.8zM214.6 416.0h0.8v0.8h-0.8zM223.5 418.8h0.8v0.8h-0.8zM220.8 415.2h0.8v0.8h-0.8zM216.5 421.4h0.8v0.8h-0.8zM221.8 438.1h0.8v0.8h-0.8zM210.4 421.9h0.8v0.8h-0.8zM214.4 434.8h0.8v0.8h-0.8zM217.8 435.7h0.8v0.8h-0.8zM214.5 406.4h0.8v0.8h-0.8zM224.2 429.0h0.8v0.8h-0.8zM218.0 403.2h0.8v0.8h-0.8zM215.5 429.8h0.8v0.8h-0.8zM217.6 412.8h0.8v0.8h-0.8zM217.7 432.5h0.8v0.8h-0.8zM211.8 428.9h0.8v0.8h-0.8zM218.2 426.4h0.8v0.8h-0.8zM217.1 415.2h0.8v0.8h-0.8zM216.3 420.4h0.8v0.8h-0.8zM216.3 419.7h0.8v0.8h-0.8zM215.1 420.7h0.8v0.8h-0.8zM214.0 431.6h0.8v0.8h-0.8zM210.3 419.8h0.8v0.8h-0.8zM213.6 404.3h0.8v0.8h-0.8zM231.6 426.2h0.8v0.8h-0.8zM227.1 417.4h0.8v0.8h-0.8zM212.1 422.0h0.8v0.8h-0.8zM220.9 418.3h0.8v0.8h-0.8zM225.7 416.6h0.8v0.8h-0.8zM224.3 403.9h0.8v0.8h-0.8zM216.6 438.0h0.8v0.8h-0.8zM228.3 421.6h0.8v0.8h-0.8zM211.9 413.2h0.8v0.8h-0.8zM229.7 425.3h0.8v0.8h-0.8zM216.8 432.9h0.8v0.8h-0.8zM222.0 414.5h0.8v0.8h-0.8zM216.5 437.1h0.8v0.8h-0.8zM219.7 401.0h0.8v0.8h-0.8zM222.6 432.2h0.8v0.8h-0.8zM219.4 404.5h0.8v0.8h-0.8zM212.8 418.8h0.8v0.8h-0.8zM222.4 419.6h0.8v0.8h-0.8zM219.8 427.9h0.8v0.8h-0.8zM230.4 438.2h0.8v0.8h-0.8zM214.3 416.6h0.8v0.8h-0.8zM213.9 434.0h0.8v0.8h-0.8zM214.8 405.6h0.8v0.8h-0.8zM225.5 427.8h0.8v0.8h-0.8zM220.2 424.9h0.8v0.8h-0.8zM209.4 430.3h0.8v0.8h-0.8zM210.4 428.6h0.8v0.8h-0.8zM216.9 403.7h0.8v0.8h-0.8zM211.0 430.4h0.8v0.8h-0.8zM226.5 419.5h0.8v0.8h-0.8zM228.1 435.7h0.8v0.8h-0.8zM217.0 422.5h0.8v0.8h-0.8zM209.7 419.7h0.8v0.8h-0.8zM211.1 422.7h0.8v0.8h-0.8zM215.7 436.1h0.8v0.8h-0.8zM229.2 428.4h0.8v0.8h-0.8zM214.3 426.5h0.8v0.8h-0.8zM227.1 435.1h0.8v0.8h-0.8zM212.3 416.0h0.8v0.8h-0.8zM216.3 433.6h0.8v0.8h-0.8zM215.9 406.5h0.8v0.8h-0.8zM211.6 410.0h0.8v0.8h-0.8zM210.7 401.8h0.8v0.8h-0.8zM211.5 411.4h0.8v0.8h-0.8zM217.6 417.2h0.8v0.8h-0.8zM211.8 404.1h0.8v0.8h-0.8zM211.0 422.7h0.8v0.8h-0.8zM219.4 413.5h0.8v0.8h-0.8zM223.8 425.3h0.8v0.8h-0.8zM211.5 401.1h0.8v0.8h-0.8zM221.9 421.5h0.8v0.8h-0.8zM231.4 415.6h0.8v0.8h-0.8zM224.5 437.6h0.8v0.8h-0.8zM220.9 438.9h0.8v0.8h-0.8zM213.4 418.0h0.8v0.8h-0.8zM209.8 417.0h0.8v0.8h-0.8zM214.2 409.1h0.8v0.8h-0.8zM210.1 412.7h0.8v0.8h-0.8zM211.3 431.1h0.8v0.8h-0.8zM214.7 423.1h0.8v0.8h-0.8zM213.0 413.9h0.8v0.8h-0.8zM211.9 416.4h0.8v0.8h-0.8zM222.9 433.7h0.8v0.8h-0.8zM211.0 437.6h0.8v0.8h-0.8zM225.3 421.8h0.8v0.8h-0.8zM219.9 436.5h0.8v0.8h-0.8zM219.6 409.0h0.8v0.8h-0.8zM221.2 438.6h0.8v0.8h-0.8zM210.9 437.2h0.8v0.8h-0.8zM210.0 429.1h0.8v0.8h-0.8zM227.3 436.0h0.8v0.8h-0.8zM228.6 421.8h0.8v0.8h-0.8zM213.0 430.5h0.8v0.8h-0.8zM229.2 438.6h0.8v0.8h-0.8zM214.4 434.3h0.8v0.8h-0.8zM210.8 409.4h0.8v0.8h-0.8zM220.3 437.3h0.8v0.8h-0.8zM218.5 414.0h0.8v0.8h-0.8zM219.4 431.3h0.8v0.8h-0.8z"/><path fill="#5040b0" d="M218.2 433.8h0.8v0.8h-0.8zM215.0 438.7h0.8v0.8h-0.8zM230.4 428.2h0.8v0.8h-0.8zM227.7 422.4h0.8v0.8h-0.8zM222.4 438.7h0.8v0.8h-0.8zM212.6 436.2h0.8v0.8h-0.8zM214.6 408.0h0.8v0.8h-0.8zM229.4 433.3h0.8v0.8h-0.8zM214.5 410.8h0.8v0.8h-0.8zM226.1 432.1h0.8v0.8h-0.8zM218.5 437.2h0.8v0.8h-0.8zM211.8 429.1h0.8v0.8h-0.8zM212.3 406.1h0.8v0.8h-0.8zM220.2 438.0h0.8v0.8h-0.8zM210.3 418.8h0.8v0.8h-0.8zM210.4 434.8h0.8v0.8h-0.8zM215.6 417.2h0.8v0.8h-0.8zM213.7 404.0h0.8v0.8h-0.8zM232.0 426.6h0.8v0.8h-0.8zM218.9 435.6h0.8v0.8h-0.8zM222.1 426.6h0.8v0.8h-0.8zM215.3 419.1h0.8v0.8h-0.8zM222.7 422.2h0.8v0.8h-0.8zM212.9 431.7h0.8v0.8h-0.8zM211.3 433.6h0.8v0.8h-0.8zM215.5 423.8h0.8v0.8h-0.8zM212.9 434.2h0.8v0.8h-0.8zM217.5 434.8h0.8v0.8h-0.8zM212.0 401.1h0.8v0.8h-0.8zM220.0 427.1h0.8v0.8h-0.8zM216.4 417.7h0.8v0.8h-0.8zM209.5 429.8h0.8v0.8h-0.8zM220.7 437.4h0.8v0.8h-0.8zM221.1 432.1h0.8v0.8h-0.8zM219.6 432.8h0.8v0.8h-0.8zM212.6 433.7h0.8v0.8h-0.8zM216.4 415.7h0.8v0.8h-0.8zM214.2 405.7h0.8v0.8h-0.8zM211.7 434.8h0.8v0.8h-0.8zM209.9 401.5h0.8v0.8h-0.8zM216.1 433.0h0.8v0.8h-0.8zM218.5 420.2h0.8v0.8h-0.8zM222.3 420.1h0.8v0.8h-0.8zM213.1 438.8h0.8v0.8h-0.8zM226.0 426.8h0.8v0.8h-0.8zM209.6 427.2h0.8v0.8h-0.8zM215.0 415.1h0.8v0.8h-0.8zM216.3 421.9h0.8v0.8h-0.8zM210.7 415.0h0.8v0.8h-0.8zM218.5 422.8h0.8v0.8h-0.8zM221.1 401.1h0.8v0.8h-0.8zM214.0 425.7h0.8v0.8h-0.8zM226.6 431.6h0.8v0.8h-0.8zM211.8 431.6h0.8v0.8h-0.8zM217.0 421.7h0.8v0.8h-0.8zM212.1 424.5h0.8v0.8h-0.8zM220.6 425.0h0.8v0.8h-0.8zM232.6 435.2h0.8v0.8h-0.8zM221.5 436.1h0.8v0.8h-0.8zM226.9 421.2h0.8v0.8h-0.8zM219.2 435.8h0.8v0.8h-0.8zM229.1 433.7h0.8v0.8h-0.8zM227.7 429.9h0.8v0.8h-0.8zM209.5 426.7h0.8v0.8h-0.8zM231.6 433.9h0.8v0.8h-0.8zM216.6 415.8h0.8v0.8h-0.8zM212.8 417.7h0.8v0.8h-0.8zM214.7 432.6h0.8v0.8h-0.8zM219.9 434.7h0.8v0.8h-0.8zM227.0 415.0h0.8v0.8h-0.8zM216.0 431.8h0.8v0.8h-0.8zM212.9 428.3h0.8v0.8h-0.8zM226.5 426.8h0.8v0.8h-0.8zM225.4 425.8h0.8v0.8h-0.8zM213.8 420.3h0.8v0.8h-0.8zM213.0 400.6h0.8v0.8h-0.8zM222.1 437.7h0.8v0.8h-0.8zM209.5 430.4h0.8v0.8h-0.8zM226.3 426.4h0.8v0.8h-0.8zM222.9 417.3h0.8v0.8h-0.8zM214.4 422.1h0.8v0.8h-0.8zM227.3 436.4h0.8v0.8h-0.8zM223.3 438.2h0.8v0.8h-0.8zM222.2 429.8h0.8v0.8h-0.8zM210.6 438.3h0.8v0.8h-0.8zM217.4 430.1h0.8v0.8h-0.8zM213.2 400.1h0.8v0.8h-0.8zM216.5 429.7h0.8v0.8h-0.8zM227.1 436.4h0.8v0.8h-0.8zM215.9 419.7h0.8v0.8h-0.8zM214.4 429.2h0.8v0.8h-0.8zM227.2 421.9h0.8v0.8h-0.8zM217.9 411.6h0.8v0.8h-0.8zM218.4 414.0h0.8v0.8h-0.8zM227.1 415.1h0.8v0.8h-0.8zM213.1 428.8h0.8v0.8h-0.8zM220.5 430.0h0.8v0.8h-0.8zM218.3 407.7h0.8v0.8h-0.8zM209.4 405.2h0.8v0.8h-0.8zM213.1 432.9h0.8v0.8h-0.8zM211.6 431.8h0.8v0.8h-0.8zM229.7 434.2h0.8v0.8h-0.8zM210.7 437.1h0.8v0.8h-0.8zM213.6 431.1h0.8v0.8h-0.8zM211.8 404.5h0.8v0.8h-0.8zM209.9 405.9h0.8v0.8h-0.8zM219.2 431.2h0.8v0.8h-0.8zM224.8 430.6h0.8v0.8h-0.8zM211.7 418.5h0.8v0.8h-0.8zM215.5 435.8h0.8v0.8h-0.8zM219.1 415.1h0.8v0.8h-0.8zM209.5 438.4h0.8v0.8h-0.8zM210.7 435.8h0.8v0.8h-0.8zM211.0 427.4h0.8v0.8h-0.8zM216.3 424.9h0.8v0.8h-0.8zM214.2 408.4h0.8v0.8h-0.8zM224.5 416.3h0.8v0.8h-0.8zM224.9 418.3h0.8v0.8h-0.8zM212.1 400.4h0.8v0.8h-0.8zM213.0 423.9h0.8v0.8h-0.8zM210.9 429.9h0.8v0.8h-0.8zM228.6 405.5h0.8v0.8h-0.8zM212.5 423.1h0.8v0.8h-0.8zM225.6 431.8h0.8v0.8h-0.8zM212.5 409.0h0.8v0.8h-0.8zM211.5 429.8h0.8v0.8h-0.8zM218.8 409.1h0.8v0.8h-0.8zM210.1 417.9h0.8v0.8h-0.8zM230.3 438.2h0.8v0.8h-0.8zM213.6 419.4h0.8v0.8h-0.8zM226.6 432.2h0.8v0.8h-0.8zM213.8 403.6h0.8v0.8h-0.8zM214.9 406.4h0.8v0.8h-0.8zM214.3 403.1h0.8v0.8h-0.8zM223.2 429.2h0.8v0.8h-0.8zM214.4 406.7h0.8v0.8h-0.8zM214.7 401.9h0.8v0.8h-0.8zM223.9 415.2h0.8v0.8h-0.8zM232.6 422.6h0.8v0.8h-0.8zM212.7 403.6h0.8v0.8h-0.8zM210.1 430.0h0.8v0.8h-0.8zM214.7 415.0h0.8v0.8h-0.8zM224.9 438.3h0.8v0.8h-0.8zM212.4 422.2h0.8v0.8h-0.8zM215.7 434.3h0.8v0.8h-0.8zM214.0 415.9h0.8v0.8h-0.8zM212.4 435.0h0.8v0.8h-0.8zM226.7 426.4h0.8v0.8h-0.8zM224.6 426.0h0.8v0.8h-0.8zM209.6 433.8h0.8v0.8h-0.8zM210.7 436.6h0.8v0.8h-0.8zM214.2 415.2h0.8v0.8h-0.8zM214.2 438.4h0.8v0.8h-0.8zM228.8 427.3h0.8v0.8h-0.8zM224.0 425.9h0.8v0.8h-0.8zM214.3 421.7h0.8v0.8h-0.8zM214.4 431.0h0.8v0.8h-0.8zM214.6 409.3h0.8v0.8h-0.8zM222.4 407.9h0.8v0.8h-0.8zM211.7 431.0h0.8v0.8h-0.8zM212.8 404.2h0.8v0.8h-0.8zM214.2 425.4h0.8v0.8h-0.8zM212.0 406.3h0.8v0.8h-0.8zM212.7 425.0h0.8v0.8h-0.8zM225.5 422.7h0.8v0.8h-0.8zM216.6 430.4h0.8v0.8h-0.8zM218.6 405.7h0.8v0.8h-0.8zM226.3 430.5h0.8v0.8h-0.8zM227.2 427.0h0.8v0.8h-0.8zM219.0 436.5h0.8v0.8h-0.8zM221.7 420.9h0.8v0.8h-0.8zM225.6 433.1h0.8v0.8h-0.8zM223.1 436.7h0.8v0.8h-0.8zM231.0 431.5h0.8v0.8h-0.8zM213.0 410.6h0.8v0.8h-0.8zM224.3 433.0h0.8v0.8h-0.8zM220.8 425.8h0.8v0.8h-0.8zM212.4 429.6h0.8v0.8h-0.8zM214.6 433.4h0.8v0.8h-0.8zM218.0 431.4h0.8v0.8h-0.8zM218.5 423.9h0.8v0.8h-0.8zM214.5 420.0h0.8v0.8h-0.8zM211.1 434.6h0.8v0.8h-0.8zM211.3 426.8h0.8v0.8h-0.8zM230.7 417.1h0.8v0.8h-0.8zM213.0 436.2h0.8v0.8h-0.8zM212.4 435.8h0.8v0.8h-0.8zM212.2 433.5h0.8v0.8h-0.8zM221.7 419.8h0.8v0.8h-0.8zM226.9 434.1h0.8v0.8h-0.8zM217.4 436.9h0.8v0.8h-0.8zM211.2 437.1h0.8v0.8h-0.8zM210.8 412.5h0.8v0.8h-0.8zM217.6 424.2h0.8v0.8h-0.8zM209.6 430.9h0.8v0.8h-0.8zM229.5 438.0h0.8v0.8h-0.8zM214.5 431.5h0.8v0.8h-0.8zM209.9 435.5h0.8v0.8h-0.8zM213.1 408.5h0.8v0.8h-0.8zM210.4 406.9h0.8v0.8h-0.8zM217.5 416.6h0.8v0.8h-0.8zM231.3 407.8h0.8v0.8h-0.8zM217.1 437.5h0.8v0.8h-0.8zM217.7 420.8h0.8v0.8h-0.8zM224.0 436.6h0.8v0.8h-0.8zM223.8 409.7h0.8v0.8h-0.8zM214.1 419.0h0.8v0.8h-0.8zM215.9 436.4h0.8v0.8h-0.8zM215.3 434.2h0.8v0.8h-0.8zM213.3 412.6h0.8v0.8h-0.8zM231.2 435.6h0.8v0.8h-0.8zM212.6 429.2h0.8v0.8h-0.8zM223.7 434.1h0.8v0.8h-0.8zM219.2 415.5h0.8v0.8h-0.8zM211.6 419.4h0.8v0.8h-0.8zM224.0 437.5h0.8v0.8h-0.8zM210.2 433.2h0.8v0.8h-0.8zM225.3 418.7h0.8v0.8h-0.8zM220.3 429.4h0.8v0.8h-0.8zM216.7 437.6h0.8v0.8h-0.8zM216.2 425.9h0.8v0.8h-0.8zM231.0 420.2h0.8v0.8h-0.8zM218.6 430.9h0.8v0.8h-0.8zM211.4 424.1h0.8v0.8h-0.8zM213.7 430.9h0.8v0.8h-0.8zM224.9 432.2h0.8v0.8h-0.8zM212.7 438.7h0.8v0.8h-0.8zM212.7 424.1h0.8v0.8h-0.8zM211.6 432.9h0.8v0.8h-0.8zM224.5 412.6h0.8v0.8h-0.8zM213.3 417.9h0.8v0.8h-0.8zM212.3 435.9h0.8v0.8h-0.8zM222.6 437.7h0.8v0.8h-0.8zM232.8 427.2h0.8v0.8h-0.8zM211.8 409.5h0.8v0.8h-0.8zM226.7 420.6h0.8v0.8h-0.8zM226.0 431.9h0.8v0.8h-0.8zM211.9 424.3h0.8v0.8h-0.8zM212.8 423.4h0.8v0.8h-0.8zM211.5 411.5h0.8v0.8h-0.8zM214.2 417.3h0.8v0.8h-0.8zM217.6 425.9h0.8v0.8h-0.8zM225.1 435.2h0.8v0.8h-0.8zM231.4 422.8h0.8v0.8h-0.8zM211.6 436.8h0.8v0.8h-0.8zM228.1 420.7h0.8v0.8h-0.8zM214.7 409.8h0.8v0.8h-0.8zM220.7 433.2h0.8v0.8h-0.8zM216.4 422.5h0.8v0.8h-0.8zM219.1 438.6h0.8v0.8h-0.8zM218.1 427.0h0.8v0.8h-0.8zM212.2 407.9h0.8v0.8h-0.8zM218.3 409.5h0.8v0.8h-0.8zM214.6 410.9h0.8v0.8h-0.8zM219.8 431.5h0.8v0.8h-0.8zM222.6 410.8h0.8v0.8h-0.8zM220.3 420.2h0.8v0.8h-0.8zM212.7 424.7h0.8v0.8h-0.8zM212.7 401.6h0.8v0.8h-0.8zM209.5 431.7h0.8v0.8h-0.8zM222.3 429.4h0.8v0.8h-0.8zM210.6 405.2h0.8v0.8h-0.8zM214.4 437.0h0.8v0.8h-0.8zM212.6 438.0h0.8v0.8h-0.8zM218.1 418.8h0.8v0.8h-0.8zM222.6 423.5h0.8v0.8h-0.8zM230.8 433.7h0.8v0.8h-0.8zM211.4 422.5h0.8v0.8h-0.8zM230.3 414.6h0.8v0.8h-0.8zM217.5 435.8h0.8v0.8h-0.8zM220.1 421.2h0.8v0.8h-0.8zM212.4 408.4h0.8v0.8h-0.8zM218.5 435.9h0.8v0.8h-0.8zM228.1 415.8h0.8v0.8h-0.8zM220.3 426.6h0.8v0.8h-0.8zM212.7 432.4h0.8v0.8h-0.8zM220.4 423.6h0.8v0.8h-0.8zM216.0 430.2h0.8v0.8h-0.8zM211.1 435.9h0.8v0.8h-0.8zM216.9 426.0h0.8v0.8h-0.8z"/><path fill="#8a80cc" d="M211.1 436.5h0.8v0.8h-0.8zM213.6 419.0h0.8v0.8h-0.8zM221.8 434.6h0.8v0.8h-0.8zM213.3 424.7h0.8v0.8h-0.8zM211.4 428.9h0.8v0.8h-0.8zM213.5 414.4h0.8v0.8h-0.8zM213.2 427.5h0.8v0.8h-0.8zM220.1 419.5h0.8v0.8h-0.8zM216.1 408.1h0.8v0.8h-0.8zM230.7 431.8h0.8v0.8h-0.8zM218.3 403.8h0.8v0.8h-0.8zM214.2 429.8h0.8v0.8h-0.8zM212.7 429.0h0.8v0.8h-0.8zM217.8 422.9h0.8v0.8h-0.8zM211.1 423.3h0.8v0.8h-0.8zM228.8 418.9h0.8v0.8h-0.8zM227.2 433.1h0.8v0.8h-0.8zM219.5 429.1h0.8v0.8h-0.8zM214.5 405.5h0.8v0.8h-0.8zM212.3 428.9h0.8v0.8h-0.8zM218.2 432.3h0.8v0.8h-0.8zM225.1 432.8h0.8v0.8h-0.8zM213.7 433.9h0.8v0.8h-0.8zM230.2 426.6h0.8v0.8h-0.8zM215.4 421.7h0.8v0.8h-0.8zM216.1 430.6h0.8v0.8h-0.8zM217.3 420.5h0.8v0.8h-0.8zM215.0 435.9h0.8v0.8h-0.8zM223.2 436.2h0.8v0.8h-0.8zM215.7 414.4h0.8v0.8h-0.8zM219.7 427.1h0.8v0.8h-0.8zM210.8 434.2h0.8v0.8h-0.8zM211.4 425.0h0.8v0.8h-0.8zM214.0 431.3h0.8v0.8h-0.8zM209.5 416.0h0.8v0.8h-0.8zM212.0 436.7h0.8v0.8h-0.8zM214.6 438.8h0.8v0.8h-0.8zM212.2 427.2h0.8v0.8h-0.8zM220.0 433.0h0.8v0.8h-0.8zM211.6 430.3h0.8v0.8h-0.8zM215.9 427.9h0.8v0.8h-0.8zM217.8 407.1h0.8v0.8h-0.8zM220.0 419.5h0.8v0.8h-0.8zM226.4 433.3h0.8v0.8h-0.8zM225.5 421.4h0.8v0.8h-0.8zM226.2 429.7h0.8v0.8h-0.8zM214.7 420.4h0.8v0.8h-0.8zM220.2 438.2h0.8v0.8h-0.8zM218.1 411.5h0.8v0.8h-0.8zM223.9 405.4h0.8v0.8h-0.8zM228.5 437.1h0.8v0.8h-0.8zM221.4 432.4h0.8v0.8h-0.8zM224.6 438.8h0.8v0.8h-0.8zM217.8 416.4h0.8v0.8h-0.8zM211.7 434.6h0.8v0.8h-0.8zM219.4 435.4h0.8v0.8h-0.8zM216.2 419.7h0.8v0.8h-0.8zM219.7 437.3h0.8v0.8h-0.8zM219.8 438.6h0.8v0.8h-0.8zM209.6 410.4h0.8v0.8h-0.8zM217.7 417.8h0.8v0.8h-0.8zM214.1 402.4h0.8v0.8h-0.8zM216.2 419.0h0.8v0.8h-0.8zM229.4 432.8h0.8v0.8h-0.8zM215.8 403.1h0.8v0.8h-0.8zM223.7 429.4h0.8v0.8h-0.8zM216.1 421.5h0.8v0.8h-0.8zM219.7 426.0h0.8v0.8h-0.8zM223.3 427.0h0.8v0.8h-0.8zM222.9 437.0h0.8v0.8h-0.8zM212.3 425.7h0.8v0.8h-0.8zM211.1 430.3h0.8v0.8h-0.8zM215.0 433.8h0.8v0.8h-0.8zM211.7 432.3h0.8v0.8h-0.8zM218.1 435.9h0.8v0.8h-0.8zM217.5 400.7h0.8v0.8h-0.8zM225.4 427.7h0.8v0.8h-0.8zM222.4 427.6h0.8v0.8h-0.8zM219.7 406.0h0.8v0.8h-0.8zM221.9 428.1h0.8v0.8h-0.8zM212.0 413.8h0.8v0.8h-0.8zM231.9 425.0h0.8v0.8h-0.8zM211.8 423.9h0.8v0.8h-0.8zM225.3 425.7h0.8v0.8h-0.8zM210.2 422.4h0.8v0.8h-0.8zM227.9 432.7h0.8v0.8h-0.8zM212.3 430.3h0.8v0.8h-0.8zM217.2 403.6h0.8v0.8h-0.8zM211.6 434.5h0.8v0.8h-0.8zM219.7 418.1h0.8v0.8h-0.8zM212.8 433.5h0.8v0.8h-0.8zM221.8 431.4h0.8v0.8h-0.8zM229.5 431.7h0.8v0.8h-0.8zM227.6 421.1h0.8v0.8h-0.8zM210.0 407.2h0.8v0.8h-0.8zM209.5 405.5h0.8v0.8h-0.8zM214.9 426.2h0.8v0.8h-0.8zM217.7 429.8h0.8v0.8h-0.8zM227.6 433.3h0.8v0.8h-0.8zM210.7 417.8h0.8v0.8h-0.8zM219.8 419.0h0.8v0.8h-0.8zM211.5 435.4h0.8v0.8h-0.8zM227.3 435.9h0.8v0.8h-0.8zM215.7 420.1h0.8v0.8h-0.8zM218.1 431.1h0.8v0.8h-0.8zM212.8 422.9h0.8v0.8h-0.8zM228.2 432.5h0.8v0.8h-0.8zM232.2 423.1h0.8v0.8h-0.8zM213.6 435.7h0.8v0.8h-0.8zM228.1 420.0h0.8v0.8h-0.8zM224.1 422.2h0.8v0.8h-0.8zM211.2 416.1h0.8v0.8h-0.8zM228.2 436.3h0.8v0.8h-0.8zM221.2 424.8h0.8v0.8h-0.8zM213.0 437.8h0.8v0.8h-0.8zM225.2 424.6h0.8v0.8h-0.8zM222.7 429.6h0.8v0.8h-0.8zM221.0 428.0h0.8v0.8h-0.8zM212.7 433.7h0.8v0.8h-0.8zM212.2 436.2h0.8v0.8h-0.8zM212.0 432.8h0.8v0.8h-0.8zM215.1 416.2h0.8v0.8h-0.8zM213.0 416.4h0.8v0.8h-0.8zM210.3 433.4h0.8v0.8h-0.8zM217.9 432.8h0.8v0.8h-0.8zM222.1 435.6h0.8v0.8h-0.8zM223.8 424.6h0.8v0.8h-0.8zM212.2 425.6h0.8v0.8h-0.8zM221.5 436.3h0.8v0.8h-0.8zM218.8 432.9h0.8v0.8h-0.8zM213.7 414.3h0.8v0.8h-0.8zM218.9 410.2h0.8v0.8h-0.8zM217.6 419.3h0.8v0.8h-0.8zM221.3 418.9h0.8v0.8h-0.8zM216.1 429.5h0.8v0.8h-0.8zM213.9 433.9h0.8v0.8h-0.8zM216.9 427.7h0.8v0.8h-0.8zM214.6 433.7h0.8v0.8h-0.8zM212.1 428.1h0.8v0.8h-0.8zM219.2 432.8h0.8v0.8h-0.8zM222.2 430.8h0.8v0.8h-0.8zM218.4 416.0h0.8v0.8h-0.8zM220.4 410.2h0.8v0.8h-0.8zM212.2 436.4h0.8v0.8h-0.8zM229.0 432.9h0.8v0.8h-0.8zM210.0 425.8h0.8v0.8h-0.8zM224.6 433.1h0.8v0.8h-0.8zM216.0 404.4h0.8v0.8h-0.8zM214.6 436.5h0.8v0.8h-0.8zM222.7 431.6h0.8v0.8h-0.8zM225.9 426.8h0.8v0.8h-0.8zM221.7 435.8h0.8v0.8h-0.8zM213.6 428.5h0.8v0.8h-0.8zM209.7 422.9h0.8v0.8h-0.8zM216.0 418.4h0.8v0.8h-0.8zM220.1 434.4h0.8v0.8h-0.8zM214.6 408.1h0.8v0.8h-0.8zM224.8 431.7h0.8v0.8h-0.8zM210.0 434.4h0.8v0.8h-0.8zM210.0 434.8h0.8v0.8h-0.8zM222.7 420.4h0.8v0.8h-0.8zM219.3 434.0h0.8v0.8h-0.8zM219.6 427.3h0.8v0.8h-0.8zM214.7 430.8h0.8v0.8h-0.8zM214.3 412.3h0.8v0.8h-0.8zM213.7 425.6h0.8v0.8h-0.8zM214.1 404.1h0.8v0.8h-0.8zM216.0 416.5h0.8v0.8h-0.8zM216.6 426.6h0.8v0.8h-0.8zM217.2 433.0h0.8v0.8h-0.8zM215.4 434.8h0.8v0.8h-0.8zM218.1 406.2h0.8v0.8h-0.8zM209.7 413.0h0.8v0.8h-0.8zM218.0 402.0h0.8v0.8h-0.8zM231.8 434.4h0.8v0.8h-0.8zM217.9 432.4h0.8v0.8h-0.8zM217.3 431.5h0.8v0.8h-0.8zM227.5 433.6h0.8v0.8h-0.8zM225.8 434.4h0.8v0.8h-0.8zM214.5 419.2h0.8v0.8h-0.8zM217.8 431.9h0.8v0.8h-0.8zM228.0 418.7h0.8v0.8h-0.8zM209.4 422.6h0.8v0.8h-0.8zM210.6 434.1h0.8v0.8h-0.8zM209.5 431.0h0.8v0.8h-0.8zM213.5 423.0h0.8v0.8h-0.8zM229.9 435.9h0.8v0.8h-0.8zM222.2 434.6h0.8v0.8h-0.8zM224.4 436.8h0.8v0.8h-0.8zM214.5 431.9h0.8v0.8h-0.8zM219.6 407.3h0.8v0.8h-0.8zM220.7 434.9h0.8v0.8h-0.8zM218.9 428.8h0.8v0.8h-0.8zM222.7 431.2h0.8v0.8h-0.8zM216.8 427.8h0.8v0.8h-0.8zM220.6 419.9h0.8v0.8h-0.8zM226.9 423.1h0.8v0.8h-0.8zM223.3 427.1h0.8v0.8h-0.8zM213.4 437.5h0.8v0.8h-0.8zM214.7 401.5h0.8v0.8h-0.8zM212.3 434.6h0.8v0.8h-0.8zM211.0 406.6h0.8v0.8h-0.8zM214.7 403.1h0.8v0.8h-0.8zM225.8 425.1h0.8v0.8h-0.8zM214.8 432.2h0.8v0.8h-0.8zM222.3 431.0h0.8v0.8h-0.8zM210.7 430.3h0.8v0.8h-0.8zM214.4 403.5h0.8v0.8h-0.8zM214.2 435.0h0.8v0.8h-0.8zM215.3 438.0h0.8v0.8h-0.8zM225.6 438.5h0.8v0.8h-0.8zM224.5 426.4h0.8v0.8h-0.8zM216.2 438.4h0.8v0.8h-0.8zM230.0 431.2h0.8v0.8h-0.8zM227.8 410.8h0.8v0.8h-0.8zM223.2 403.8h0.8v0.8h-0.8zM219.0 413.1h0.8v0.8h-0.8zM210.6 424.1h0.8v0.8h-0.8zM220.6 410.7h0.8v0.8h-0.8zM230.1 431.9h0.8v0.8h-0.8zM225.8 411.6h0.8v0.8h-0.8zM217.9 421.2h0.8v0.8h-0.8zM224.7 424.9h0.8v0.8h-0.8zM219.6 420.1h0.8v0.8h-0.8zM213.1 426.8h0.8v0.8h-0.8zM215.7 436.4h0.8v0.8h-0.8zM210.7 413.8h0.8v0.8h-0.8zM211.0 406.9h0.8v0.8h-0.8zM211.8 423.2h0.8v0.8h-0.8zM219.0 415.6h0.8v0.8h-0.8zM214.1 409.5h0.8v0.8h-0.8zM228.9 429.5h0.8v0.8h-0.8zM209.5 405.9h0.8v0.8h-0.8zM212.9 434.8h0.8v0.8h-0.8zM230.9 434.8h0.8v0.8h-0.8zM209.8 438.4h0.8v0.8h-0.8zM218.4 409.8h0.8v0.8h-0.8zM210.1 415.3h0.8v0.8h-0.8zM210.1 437.9h0.8v0.8h-0.8zM210.3 425.9h0.8v0.8h-0.8zM228.1 430.4h0.8v0.8h-0.8zM210.2 431.8h0.8v0.8h-0.8zM209.6 434.0h0.8v0.8h-0.8zM216.6 425.3h0.8v0.8h-0.8zM213.8 432.5h0.8v0.8h-0.8zM227.7 431.2h0.8v0.8h-0.8z"/><path fill="#4634a6" d="M216.1 407.2h0.8v0.8h-0.8zM230.7 438.6h0.8v0.8h-0.8zM213.9 416.7h0.8v0.8h-0.8zM220.8 431.2h0.8v0.8h-0.8zM210.6 424.8h0.8v0.8h-0.8zM215.4 417.1h0.8v0.8h-0.8zM219.3 430.4h0.8v0.8h-0.8zM229.0 435.9h0.8v0.8h-0.8zM216.7 414.2h0.8v0.8h-0.8zM213.3 405.2h0.8v0.8h-0.8zM217.3 424.1h0.8v0.8h-0.8zM220.3 426.8h0.8v0.8h-0.8zM219.0 428.2h0.8v0.8h-0.8zM210.0 416.3h0.8v0.8h-0.8zM213.6 437.4h0.8v0.8h-0.8zM210.7 419.6h0.8v0.8h-0.8zM222.2 437.2h0.8v0.8h-0.8zM210.9 403.7h0.8v0.8h-0.8zM223.7 423.8h0.8v0.8h-0.8zM224.5 435.4h0.8v0.8h-0.8zM214.7 438.0h0.8v0.8h-0.8zM212.9 399.9h0.8v0.8h-0.8zM224.5 427.6h0.8v0.8h-0.8zM213.1 424.2h0.8v0.8h-0.8zM213.3 405.7h0.8v0.8h-0.8zM219.1 429.8h0.8v0.8h-0.8zM211.2 425.8h0.8v0.8h-0.8zM222.0 423.3h0.8v0.8h-0.8zM217.7 437.8h0.8v0.8h-0.8zM210.2 431.1h0.8v0.8h-0.8zM210.3 429.2h0.8v0.8h-0.8zM233.0 434.4h0.8v0.8h-0.8zM219.5 400.5h0.8v0.8h-0.8zM225.7 436.3h0.8v0.8h-0.8zM215.6 428.9h0.8v0.8h-0.8zM211.5 427.5h0.8v0.8h-0.8zM209.8 427.3h0.8v0.8h-0.8zM216.6 430.9h0.8v0.8h-0.8zM219.1 436.8h0.8v0.8h-0.8zM219.7 429.6h0.8v0.8h-0.8zM225.7 435.4h0.8v0.8h-0.8zM211.2 414.1h0.8v0.8h-0.8zM213.3 413.2h0.8v0.8h-0.8zM212.8 432.3h0.8v0.8h-0.8zM224.6 400.6h0.8v0.8h-0.8zM231.2 432.1h0.8v0.8h-0.8zM218.0 427.8h0.8v0.8h-0.8zM213.5 419.5h0.8v0.8h-0.8zM221.1 431.6h0.8v0.8h-0.8zM227.0 430.3h0.8v0.8h-0.8zM214.2 404.0h0.8v0.8h-0.8zM210.8 422.4h0.8v0.8h-0.8zM213.2 417.0h0.8v0.8h-0.8zM220.4 410.5h0.8v0.8h-0.8zM213.3 423.9h0.8v0.8h-0.8zM213.2 407.1h0.8v0.8h-0.8zM220.0 437.5h0.8v0.8h-0.8zM210.1 402.6h0.8v0.8h-0.8zM217.4 432.8h0.8v0.8h-0.8zM218.9 406.9h0.8v0.8h-0.8zM212.9 411.7h0.8v0.8h-0.8zM209.5 420.5h0.8v0.8h-0.8zM211.6 425.2h0.8v0.8h-0.8zM226.3 427.3h0.8v0.8h-0.8zM230.1 429.9h0.8v0.8h-0.8zM215.9 403.4h0.8v0.8h-0.8zM211.5 434.0h0.8v0.8h-0.8zM220.8 418.3h0.8v0.8h-0.8zM223.6 429.0h0.8v0.8h-0.8zM214.3 401.3h0.8v0.8h-0.8zM218.4 432.6h0.8v0.8h-0.8zM226.4 438.6h0.8v0.8h-0.8zM231.6 423.0h0.8v0.8h-0.8zM227.9 423.2h0.8v0.8h-0.8zM210.5 407.4h0.8v0.8h-0.8zM216.4 422.7h0.8v0.8h-0.8zM212.3 416.1h0.8v0.8h-0.8zM212.8 427.6h0.8v0.8h-0.8zM214.9 419.2h0.8v0.8h-0.8zM211.7 428.8h0.8v0.8h-0.8zM230.2 426.5h0.8v0.8h-0.8zM212.5 435.3h0.8v0.8h-0.8zM214.4 423.4h0.8v0.8h-0.8zM227.7 400.8h0.8v0.8h-0.8zM227.5 430.9h0.8v0.8h-0.8zM214.7 424.9h0.8v0.8h-0.8zM227.5 428.3h0.8v0.8h-0.8zM215.4 422.5h0.8v0.8h-0.8zM224.5 436.7h0.8v0.8h-0.8zM211.4 406.9h0.8v0.8h-0.8zM213.6 418.3h0.8v0.8h-0.8zM229.0 425.5h0.8v0.8h-0.8zM216.5 405.0h0.8v0.8h-0.8zM217.2 420.2h0.8v0.8h-0.8zM212.7 438.4h0.8v0.8h-0.8zM215.1 414.2h0.8v0.8h-0.8zM228.5 432.6h0.8v0.8h-0.8zM221.6 419.7h0.8v0.8h-0.8zM220.6 412.8h0.8v0.8h-0.8zM210.5 418.1h0.8v0.8h-0.8zM215.0 408.9h0.8v0.8h-0.8zM218.6 426.3h0.8v0.8h-0.8zM221.3 437.5h0.8v0.8h-0.8zM218.5 404.6h0.8v0.8h-0.8zM233.0 430.9h0.8v0.8h-0.8zM216.0 434.0h0.8v0.8h-0.8zM211.3 438.3h0.8v0.8h-0.8zM218.8 418.8h0.8v0.8h-0.8zM216.4 419.3h0.8v0.8h-0.8zM213.3 436.7h0.8v0.8h-0.8zM212.9 430.2h0.8v0.8h-0.8zM209.5 412.2h0.8v0.8h-0.8zM209.5 420.5h0.8v0.8h-0.8zM211.3 406.1h0.8v0.8h-0.8zM211.1 433.3h0.8v0.8h-0.8zM210.8 422.9h0.8v0.8h-0.8zM220.4 425.9h0.8v0.8h-0.8zM226.3 418.4h0.8v0.8h-0.8zM219.7 423.3h0.8v0.8h-0.8zM216.5 401.2h0.8v0.8h-0.8zM215.7 410.4h0.8v0.8h-0.8zM213.9 419.9h0.8v0.8h-0.8zM218.8 432.1h0.8v0.8h-0.8zM220.4 417.6h0.8v0.8h-0.8zM218.7 438.2h0.8v0.8h-0.8zM213.7 436.8h0.8v0.8h-0.8zM220.1 438.0h0.8v0.8h-0.8zM220.2 431.9h0.8v0.8h-0.8zM216.8 432.8h0.8v0.8h-0.8zM211.9 431.3h0.8v0.8h-0.8zM222.7 435.7h0.8v0.8h-0.8zM216.0 436.2h0.8v0.8h-0.8zM228.8 428.3h0.8v0.8h-0.8zM215.0 402.6h0.8v0.8h-0.8zM214.2 418.6h0.8v0.8h-0.8zM213.7 430.2h0.8v0.8h-0.8zM224.8 433.0h0.8v0.8h-0.8zM217.5 432.3h0.8v0.8h-0.8zM216.3 419.5h0.8v0.8h-0.8zM219.6 429.4h0.8v0.8h-0.8zM224.9 418.3h0.8v0.8h-0.8zM211.7 426.8h0.8v0.8h-0.8zM214.2 429.5h0.8v0.8h-0.8zM219.4 427.2h0.8v0.8h-0.8zM222.3 436.6h0.8v0.8h-0.8zM227.6 401.5h0.8v0.8h-0.8zM216.3 412.6h0.8v0.8h-0.8zM222.9 420.9h0.8v0.8h-0.8zM214.4 405.4h0.8v0.8h-0.8zM214.6 412.0h0.8v0.8h-0.8zM214.4 427.1h0.8v0.8h-0.8zM221.9 431.0h0.8v0.8h-0.8zM214.0 431.8h0.8v0.8h-0.8zM211.8 430.0h0.8v0.8h-0.8zM230.0 436.0h0.8v0.8h-0.8zM221.4 407.9h0.8v0.8h-0.8zM210.0 410.5h0.8v0.8h-0.8zM209.8 422.6h0.8v0.8h-0.8zM211.3 409.4h0.8v0.8h-0.8zM220.9 431.0h0.8v0.8h-0.8zM210.4 430.4h0.8v0.8h-0.8zM216.1 419.2h0.8v0.8h-0.8zM209.7 435.1h0.8v0.8h-0.8zM210.1 407.2h0.8v0.8h-0.8zM217.3 414.9h0.8v0.8h-0.8zM219.4 431.3h0.8v0.8h-0.8zM226.4 403.7h0.8v0.8h-0.8zM216.5 418.7h0.8v0.8h-0.8zM220.5 428.0h0.8v0.8h-0.8zM229.2 436.7h0.8v0.8h-0.8zM213.1 419.3h0.8v0.8h-0.8zM216.9 400.8h0.8v0.8h-0.8zM211.1 401.3h0.8v0.8h-0.8zM212.8 436.0h0.8v0.8h-0.8zM214.6 412.5h0.8v0.8h-0.8zM226.6 417.3h0.8v0.8h-0.8zM215.8 435.0h0.8v0.8h-0.8zM217.2 432.6h0.8v0.8h-0.8zM212.6 438.7h0.8v0.8h-0.8zM215.3 429.6h0.8v0.8h-0.8zM212.8 429.8h0.8v0.8h-0.8zM225.7 432.3h0.8v0.8h-0.8zM210.9 403.2h0.8v0.8h-0.8zM227.3 428.1h0.8v0.8h-0.8zM210.5 431.4h0.8v0.8h-0.8zM212.5 434.6h0.8v0.8h-0.8zM222.4 438.0h0.8v0.8h-0.8zM215.1 438.3h0.8v0.8h-0.8zM217.2 410.0h0.8v0.8h-0.8zM215.8 427.4h0.8v0.8h-0.8zM209.9 405.3h0.8v0.8h-0.8zM221.0 411.2h0.8v0.8h-0.8zM214.8 415.3h0.8v0.8h-0.8zM220.9 425.7h0.8v0.8h-0.8zM209.5 422.8h0.8v0.8h-0.8zM213.3 429.8h0.8v0.8h-0.8zM215.1 402.0h0.8v0.8h-0.8zM209.9 431.9h0.8v0.8h-0.8zM215.0 429.5h0.8v0.8h-0.8zM218.8 437.7h0.8v0.8h-0.8zM221.9 433.1h0.8v0.8h-0.8zM212.9 425.6h0.8v0.8h-0.8zM224.0 427.2h0.8v0.8h-0.8zM214.1 438.4h0.8v0.8h-0.8zM218.7 428.6h0.8v0.8h-0.8zM219.2 436.7h0.8v0.8h-0.8zM219.3 438.7h0.8v0.8h-0.8zM231.6 434.8h0.8v0.8h-0.8zM224.0 431.5h0.8v0.8h-0.8zM213.7 416.6h0.8v0.8h-0.8zM211.7 437.2h0.8v0.8h-0.8zM211.6 423.7h0.8v0.8h-0.8zM227.4 430.1h0.8v0.8h-0.8zM211.7 430.0h0.8v0.8h-0.8zM209.8 429.0h0.8v0.8h-0.8zM215.8 416.6h0.8v0.8h-0.8zM210.1 414.4h0.8v0.8h-0.8zM210.8 403.0h0.8v0.8h-0.8zM223.9 429.0h0.8v0.8h-0.8zM213.2 401.9h0.8v0.8h-0.8zM219.2 417.8h0.8v0.8h-0.8zM223.2 420.0h0.8v0.8h-0.8zM225.8 429.9h0.8v0.8h-0.8zM212.6 424.0h0.8v0.8h-0.8zM210.5 433.3h0.8v0.8h-0.8zM211.4 403.1h0.8v0.8h-0.8zM210.8 404.8h0.8v0.8h-0.8zM225.8 413.6h0.8v0.8h-0.8zM228.9 424.8h0.8v0.8h-0.8zM210.1 424.4h0.8v0.8h-0.8zM218.9 421.6h0.8v0.8h-0.8zM219.9 432.5h0.8v0.8h-0.8zM213.3 415.8h0.8v0.8h-0.8zM221.6 431.0h0.8v0.8h-0.8zM233.0 428.9h0.8v0.8h-0.8zM216.6 425.8h0.8v0.8h-0.8zM212.4 404.3h0.8v0.8h-0.8zM214.4 411.7h0.8v0.8h-0.8zM220.4 412.0h0.8v0.8h-0.8zM210.1 423.3h0.8v0.8h-0.8zM223.3 436.9h0.8v0.8h-0.8zM212.2 422.6h0.8v0.8h-0.8zM216.7 434.4h0.8v0.8h-0.8zM209.6 413.2h0.8v0.8h-0.8zM216.1 437.8h0.8v0.8h-0.8zM210.2 410.7h0.8v0.8h-0.8zM212.2 432.4h0.8v0.8h-0.8zM211.3 405.9h0.8v0.8h-0.8zM216.8 435.7h0.8v0.8h-0.8zM218.3 437.6h0.8v0.8h-0.8zM231.2 424.2h0.8v0.8h-0.8zM215.2 429.5h0.8v0.8h-0.8zM214.0 432.0h0.8v0.8h-0.8zM219.4 423.2h0.8v0.8h-0.8zM216.6 429.8h0.8v0.8h-0.8zM218.9 411.8h0.8v0.8h-0.8zM212.0 430.9h0.8v0.8h-0.8zM226.2 437.4h0.8v0.8h-0.8zM217.4 412.7h0.8v0.8h-0.8zM222.0 431.6h0.8v0.8h-0.8zM217.0 409.6h0.8v0.8h-0.8zM226.6 429.4h0.8v0.8h-0.8zM215.7 421.3h0.8v0.8h-0.8zM218.3 425.2h0.8v0.8h-0.8z"/></g>
<g filter="url(#bl1)"><ellipse cx="220.60" cy="429.60" rx="4.2" ry="2.8" fill="#2a6ad0" fill-opacity="0.9"/><ellipse cx="220.60" cy="429.60" rx="2.6" ry="1.6" fill="#22a8c8" fill-opacity="0.9"/></g>
<rect x="223.3" y="424.8" width="2.6" height="2.6" fill="#e4e0f0" stroke="none" stroke-width="0.8"/>
<g filter="url(#bl05)"><path d="M197.6,439.9 C197.2,430 198.8,412 202.2,403.6 C203.8,399.6 208.6,399.2 210.3,402.2 L210.3,439.9 Z" fill="#3a2890"/><path d="M197.6,439.9 C197.2,430 198.8,412 202.2,403.6 C203.8,399.6 208.6,399.2 210.3,402.2 L210.3,439.9 Z" fill="#3234ac" transform="translate(204.8 431.0) scale(0.86 0.94) translate(-204.8 -431.0)"/><ellipse cx="205.0" cy="421.5" rx="4.2" ry="19.0" fill="#2c44bc" transform="translate(204.8 431.0) scale(1.000 0.920) translate(-204.8 -431.0)"/><ellipse cx="205.0" cy="421.5" rx="4.2" ry="19.0" fill="#2670c8" transform="translate(204.8 431.0) scale(1.000 0.780) translate(-204.8 -431.0)"/><ellipse cx="205.0" cy="421.5" rx="4.2" ry="19.0" fill="#2298c4" transform="translate(204.8 431.0) scale(0.851 0.630) translate(-204.8 -431.0)"/><ellipse cx="205.0" cy="421.5" rx="4.2" ry="19.0" fill="#24aab0" transform="translate(204.8 431.0) scale(0.675 0.500) translate(-204.8 -431.0)"/><ellipse cx="205.0" cy="421.5" rx="4.2" ry="19.0" fill="#3cb478" transform="translate(204.8 431.0) scale(0.513 0.380) translate(-204.8 -431.0)"/><ellipse cx="205.0" cy="421.5" rx="4.2" ry="19.0" fill="#70c040" transform="translate(204.8 431.0) scale(0.378 0.280) translate(-204.8 -431.0)"/><ellipse cx="205.0" cy="421.5" rx="4.2" ry="19.0" fill="#e4d830" transform="translate(204.8 431.0) scale(0.243 0.180) translate(-204.8 -431.0)"/><ellipse cx="205.0" cy="421.5" rx="4.2" ry="19.0" fill="#e0401e" transform="translate(204.8 431.0) scale(0.121 0.090) translate(-204.8 -431.0)"/></g>
</g>
<rect x="209.8" y="393.8" width="28.49999999999997" height="46.60000000000002" fill="none" stroke="#a5223f" stroke-width="0.9"/>
<text x="186.8" y="396.3" font-size="5.5" fill="#333" text-anchor="end">250K</text>
<text x="186.8" y="405.7" font-size="5.5" fill="#333" text-anchor="end">200K</text>
<text x="186.8" y="415.1" font-size="5.5" fill="#333" text-anchor="end">150K</text>
<text x="186.8" y="424.5" font-size="5.5" fill="#333" text-anchor="end">100K</text>
<text x="186.8" y="433.90000000000003" font-size="5.5" fill="#333" text-anchor="end">50K</text>
<text x="186.8" y="443.3" font-size="5.5" fill="#333" text-anchor="end">0K</text>
<text x="193.9" y="450.40000000000003" font-size="5.5" fill="#333" text-anchor="middle">−10<tspan font-size="3.8" dy="-2.30">3</tspan></text>
<text x="202.6" y="450.40000000000003" font-size="5.5" fill="#333" text-anchor="middle">0</text>
<text x="208.4" y="450.40000000000003" font-size="5.5" fill="#333" text-anchor="middle">10<tspan font-size="3.8" dy="-2.30">3</tspan></text>
<text x="223.1" y="450.40000000000003" font-size="5.5" fill="#333" text-anchor="middle">10<tspan font-size="3.8" dy="-2.30">4</tspan></text>
<text x="233.6" y="450.40000000000003" font-size="5.5" fill="#333" text-anchor="middle">10<tspan font-size="3.8" dy="-2.30">5</tspan></text>
<line x1="191.0" y1="394.3" x2="192.60000000000002" y2="394.3" stroke="#666" stroke-width="0.55"/>
<line x1="191.0" y1="403.7" x2="192.60000000000002" y2="403.7" stroke="#666" stroke-width="0.55"/>
<line x1="191.0" y1="413.1" x2="192.60000000000002" y2="413.1" stroke="#666" stroke-width="0.55"/>
<line x1="191.0" y1="422.5" x2="192.60000000000002" y2="422.5" stroke="#666" stroke-width="0.55"/>
<line x1="191.0" y1="431.90000000000003" x2="192.60000000000002" y2="431.90000000000003" stroke="#666" stroke-width="0.55"/>
<line x1="191.0" y1="441.3" x2="192.60000000000002" y2="441.3" stroke="#666" stroke-width="0.55"/>
<line x1="193.9" y1="441.0" x2="193.9" y2="442.6" stroke="#666" stroke-width="0.55"/>
<line x1="202.6" y1="441.0" x2="202.6" y2="442.6" stroke="#666" stroke-width="0.55"/>
<line x1="208.4" y1="441.0" x2="208.4" y2="442.6" stroke="#666" stroke-width="0.55"/>
<line x1="223.1" y1="441.0" x2="223.1" y2="442.6" stroke="#666" stroke-width="0.55"/>
<line x1="233.6" y1="441.0" x2="233.6" y2="442.6" stroke="#666" stroke-width="0.55"/>
<circle cx="202.60" cy="441.30" r="0.7" fill="#111"/>
<text x="215.6" y="406.4" font-size="5.2" fill="#c0415e">12.1%</text>
<rect x="191.6" y="462.5" width="48.0" height="48.69999999999999" fill="none" stroke="#c8c8c8" stroke-width="0.55"/>
<g clip-path="url(#c9)">
<g fill-opacity="0.45"><path fill="#3a30a0" d="M209.4 493.3h0.8v0.8h-0.8zM217.2 471.4h0.8v0.8h-0.8zM235.2 475.2h0.8v0.8h-0.8z"/><path fill="#6a5cbc" d="M234.1 504.0h0.8v0.8h-0.8zM230.6 477.1h0.8v0.8h-0.8zM210.0 470.8h0.8v0.8h-0.8zM211.4 488.2h0.8v0.8h-0.8zM238.5 483.3h0.8v0.8h-0.8zM218.9 482.1h0.8v0.8h-0.8z"/><path fill="#8a80cc" d="M231.6 500.0h0.8v0.8h-0.8zM223.1 498.3h0.8v0.8h-0.8zM221.9 496.1h0.8v0.8h-0.8zM225.2 493.8h0.8v0.8h-0.8z"/><path fill="#2e2488" d="M223.5 499.2h0.8v0.8h-0.8zM211.5 483.6h0.8v0.8h-0.8zM210.7 478.7h0.8v0.8h-0.8z"/><path fill="#a0a0d0" d="M225.4 474.8h0.8v0.8h-0.8zM217.5 478.1h0.8v0.8h-0.8zM217.9 485.4h0.8v0.8h-0.8zM221.3 487.6h0.8v0.8h-0.8zM229.6 498.5h0.8v0.8h-0.8zM231.8 485.3h0.8v0.8h-0.8zM225.2 501.9h0.8v0.8h-0.8zM212.5 504.3h0.8v0.8h-0.8zM217.0 508.8h0.8v0.8h-0.8z"/><path fill="#5040b0" d="M220.1 498.9h0.8v0.8h-0.8zM218.6 498.6h0.8v0.8h-0.8zM216.0 499.6h0.8v0.8h-0.8zM224.3 502.3h0.8v0.8h-0.8zM218.6 507.8h0.8v0.8h-0.8zM222.3 484.4h0.8v0.8h-0.8z"/><path fill="#4634a6" d="M229.8 495.6h0.8v0.8h-0.8zM227.9 493.1h0.8v0.8h-0.8zM222.3 481.6h0.8v0.8h-0.8zM230.4 502.8h0.8v0.8h-0.8zM211.5 478.5h0.8v0.8h-0.8zM222.5 491.4h0.8v0.8h-0.8z"/><path fill="#3a2896" d="M231.4 502.1h0.8v0.8h-0.8zM215.6 498.9h0.8v0.8h-0.8zM220.8 508.6h0.8v0.8h-0.8z"/></g>
<g filter="url(#bl05)"><ellipse cx="230.70" cy="503.50" rx="2.6" ry="1.5" fill="#2a1a7a" fill-opacity="0.9"/></g>
<g fill-opacity="0.85"><path fill="#3a2a9c" d="M231.3 503.0h0.8v0.8h-0.8zM228.9 503.5h0.8v0.8h-0.8zM227.4 504.3h0.8v0.8h-0.8zM233.4 503.1h0.8v0.8h-0.8zM228.6 502.8h0.8v0.8h-0.8zM228.5 500.2h0.8v0.8h-0.8zM231.3 499.6h0.8v0.8h-0.8zM230.4 505.7h0.8v0.8h-0.8zM234.7 503.6h0.8v0.8h-0.8zM229.7 502.0h0.8v0.8h-0.8zM232.6 502.8h0.8v0.8h-0.8zM229.2 504.3h0.8v0.8h-0.8z"/><path fill="#5040b0" d="M230.3 502.9h0.8v0.8h-0.8zM227.5 502.0h0.8v0.8h-0.8zM233.1 503.2h0.8v0.8h-0.8zM234.7 503.0h0.8v0.8h-0.8zM228.1 503.2h0.8v0.8h-0.8zM228.8 502.3h0.8v0.8h-0.8zM233.0 501.3h0.8v0.8h-0.8zM226.5 501.7h0.8v0.8h-0.8zM229.6 504.3h0.8v0.8h-0.8zM231.8 499.9h0.8v0.8h-0.8zM234.4 500.7h0.8v0.8h-0.8zM227.2 505.3h0.8v0.8h-0.8zM231.5 502.9h0.8v0.8h-0.8zM235.1 502.6h0.8v0.8h-0.8zM231.3 503.4h0.8v0.8h-0.8zM231.8 502.9h0.8v0.8h-0.8zM232.7 502.9h0.8v0.8h-0.8zM229.4 501.9h0.8v0.8h-0.8z"/><path fill="#2a1a7a" d="M229.4 501.8h0.8v0.8h-0.8zM233.1 504.1h0.8v0.8h-0.8zM230.9 502.5h0.8v0.8h-0.8zM228.7 502.9h0.8v0.8h-0.8zM228.4 503.3h0.8v0.8h-0.8zM230.2 504.6h0.8v0.8h-0.8zM229.4 502.9h0.8v0.8h-0.8zM232.6 502.8h0.8v0.8h-0.8zM229.8 506.4h0.8v0.8h-0.8zM225.8 502.5h0.8v0.8h-0.8z"/></g>
<line x1="222.8" y1="495.2" x2="225.2" y2="495.2" stroke="#5040b0" stroke-width="0.5"/>
<g filter="url(#bl05)"><path d="M198.2,509.6 L198.2,474.0 Q198.2,470.8 201.39999999999998,470.8 L206.8,470.8 Q210.0,470.8 210.0,474.0 L210.0,509.6 Z" fill="#3a2890"/><path d="M198.2,509.6 L198.2,474.0 Q198.2,470.8 201.39999999999998,470.8 L206.8,470.8 Q210.0,470.8 210.0,474.0 L210.0,509.6 Z" fill="#3234ac" transform="translate(202.6 504.0) scale(0.86 0.94) translate(-202.6 -504.0)"/><ellipse cx="202.6" cy="492.20000000000005" rx="4.248000000000004" ry="19.400000000000006" fill="#2c44bc" transform="translate(202.6 504.0) scale(1.000 0.920) translate(-202.6 -504.0)"/><ellipse cx="202.6" cy="492.20000000000005" rx="4.248000000000004" ry="19.400000000000006" fill="#2670c8" transform="translate(202.6 504.0) scale(1.000 0.780) translate(-202.6 -504.0)"/><ellipse cx="202.6" cy="492.20000000000005" rx="4.248000000000004" ry="19.400000000000006" fill="#2298c4" transform="translate(202.6 504.0) scale(0.851 0.630) translate(-202.6 -504.0)"/><ellipse cx="202.6" cy="492.20000000000005" rx="4.248000000000004" ry="19.400000000000006" fill="#24aab0" transform="translate(202.6 504.0) scale(0.675 0.500) translate(-202.6 -504.0)"/><ellipse cx="202.6" cy="492.20000000000005" rx="4.248000000000004" ry="19.400000000000006" fill="#3cb478" transform="translate(202.6 504.0) scale(0.513 0.380) translate(-202.6 -504.0)"/><ellipse cx="202.6" cy="492.20000000000005" rx="4.248000000000004" ry="19.400000000000006" fill="#70c040" transform="translate(202.6 504.0) scale(0.378 0.280) translate(-202.6 -504.0)"/><ellipse cx="202.6" cy="492.20000000000005" rx="4.248000000000004" ry="19.400000000000006" fill="#e4d830" transform="translate(202.6 504.0) scale(0.243 0.180) translate(-202.6 -504.0)"/><ellipse cx="202.6" cy="492.20000000000005" rx="4.248000000000004" ry="19.400000000000006" fill="#e0401e" transform="translate(202.6 504.0) scale(0.121 0.090) translate(-202.6 -504.0)"/></g>
</g>
<rect x="209.4" y="464.1" width="29.899999999999977" height="46.19999999999999" fill="none" stroke="#a5223f" stroke-width="0.9"/>
<text x="186.8" y="466.6" font-size="5.5" fill="#333" text-anchor="end">250K</text>
<text x="186.8" y="475.92" font-size="5.5" fill="#333" text-anchor="end">200K</text>
<text x="186.8" y="485.24" font-size="5.5" fill="#333" text-anchor="end">150K</text>
<text x="186.8" y="494.56" font-size="5.5" fill="#333" text-anchor="end">100K</text>
<text x="186.8" y="503.88" font-size="5.5" fill="#333" text-anchor="end">50K</text>
<text x="186.8" y="513.2" font-size="5.5" fill="#333" text-anchor="end">0K</text>
<text x="193.9" y="520.3" font-size="5.5" fill="#333" text-anchor="middle">−10<tspan font-size="3.8" dy="-2.30">3</tspan></text>
<text x="202.6" y="520.3" font-size="5.5" fill="#333" text-anchor="middle">0</text>
<text x="208.4" y="520.3" font-size="5.5" fill="#333" text-anchor="middle">10<tspan font-size="3.8" dy="-2.30">3</tspan></text>
<text x="223.1" y="520.3" font-size="5.5" fill="#333" text-anchor="middle">10<tspan font-size="3.8" dy="-2.30">4</tspan></text>
<text x="233.6" y="520.3" font-size="5.5" fill="#333" text-anchor="middle">10<tspan font-size="3.8" dy="-2.30">5</tspan></text>
<line x1="190.29999999999998" y1="464.6" x2="191.9" y2="464.6" stroke="#666" stroke-width="0.55"/>
<line x1="190.29999999999998" y1="473.92" x2="191.9" y2="473.92" stroke="#666" stroke-width="0.55"/>
<line x1="190.29999999999998" y1="483.24" x2="191.9" y2="483.24" stroke="#666" stroke-width="0.55"/>
<line x1="190.29999999999998" y1="492.56" x2="191.9" y2="492.56" stroke="#666" stroke-width="0.55"/>
<line x1="190.29999999999998" y1="501.88" x2="191.9" y2="501.88" stroke="#666" stroke-width="0.55"/>
<line x1="190.29999999999998" y1="511.2" x2="191.9" y2="511.2" stroke="#666" stroke-width="0.55"/>
<line x1="193.9" y1="510.9" x2="193.9" y2="512.5" stroke="#666" stroke-width="0.55"/>
<line x1="202.6" y1="510.9" x2="202.6" y2="512.5" stroke="#666" stroke-width="0.55"/>
<line x1="208.4" y1="510.9" x2="208.4" y2="512.5" stroke="#666" stroke-width="0.55"/>
<line x1="223.1" y1="510.9" x2="223.1" y2="512.5" stroke="#666" stroke-width="0.55"/>
<line x1="233.6" y1="510.9" x2="233.6" y2="512.5" stroke="#666" stroke-width="0.55"/>
<circle cx="202.60" cy="511.20" r="0.7" fill="#111"/>
<text x="218.0" y="474.6" font-size="5.2" fill="#c0415e">0.4%</text>
<line x1="238.8" y1="347.0" x2="246.0" y2="347.0" stroke="#a5223f" stroke-width="0.9"/>
<path d="M248.6,347 L245.4,345.3 L245.4,348.7 Z" fill="#a5223f" stroke="none" stroke-width="0.8"/>
<rect x="263.6" y="322.6" width="48.0" height="49.799999999999955" fill="none" stroke="#c8c8c8" stroke-width="0.55"/>
<g clip-path="url(#c10)">
<g fill-opacity="0.85"><path fill="#7d97c9" d="M280.6 343.3h0.8v0.8h-0.8zM274.2 338.2h0.8v0.8h-0.8zM274.0 338.4h0.8v0.8h-0.8zM274.3 342.6h0.8v0.8h-0.8zM279.4 340.3h0.8v0.8h-0.8zM271.4 336.8h0.8v0.8h-0.8zM274.7 335.9h0.8v0.8h-0.8zM274.1 340.6h0.8v0.8h-0.8zM273.2 339.9h0.8v0.8h-0.8zM270.1 341.9h0.8v0.8h-0.8zM271.1 337.3h0.8v0.8h-0.8zM273.1 340.0h0.8v0.8h-0.8zM276.2 341.5h0.8v0.8h-0.8zM273.7 341.5h0.8v0.8h-0.8zM279.9 333.0h0.8v0.8h-0.8zM277.9 332.0h0.8v0.8h-0.8zM277.4 340.7h0.8v0.8h-0.8zM275.2 342.3h0.8v0.8h-0.8zM278.7 339.5h0.8v0.8h-0.8z"/><path fill="#5d7cb8" d="M278.7 335.9h0.8v0.8h-0.8zM276.8 338.8h0.8v0.8h-0.8zM273.6 341.5h0.8v0.8h-0.8zM276.6 337.5h0.8v0.8h-0.8zM275.2 340.5h0.8v0.8h-0.8zM273.4 333.5h0.8v0.8h-0.8zM269.8 337.4h0.8v0.8h-0.8zM274.9 336.6h0.8v0.8h-0.8zM278.6 332.5h0.8v0.8h-0.8zM277.3 343.7h0.8v0.8h-0.8zM274.1 339.1h0.8v0.8h-0.8zM273.5 334.0h0.8v0.8h-0.8zM278.3 336.8h0.8v0.8h-0.8zM285.3 339.7h0.8v0.8h-0.8zM271.1 334.7h0.8v0.8h-0.8zM274.6 342.5h0.8v0.8h-0.8zM269.1 338.8h0.8v0.8h-0.8zM274.4 340.7h0.8v0.8h-0.8zM271.0 341.3h0.8v0.8h-0.8zM275.0 337.3h0.8v0.8h-0.8z"/><path fill="#8fa6d2" d="M275.0 345.7h0.8v0.8h-0.8zM277.4 342.6h0.8v0.8h-0.8zM270.7 343.6h0.8v0.8h-0.8zM282.6 335.5h0.8v0.8h-0.8zM281.2 338.7h0.8v0.8h-0.8zM272.1 341.8h0.8v0.8h-0.8zM279.6 334.5h0.8v0.8h-0.8zM274.7 340.1h0.8v0.8h-0.8zM277.8 335.8h0.8v0.8h-0.8zM276.7 338.1h0.8v0.8h-0.8zM280.7 336.0h0.8v0.8h-0.8zM275.9 338.8h0.8v0.8h-0.8zM272.5 342.2h0.8v0.8h-0.8zM282.5 332.4h0.8v0.8h-0.8zM277.5 337.1h0.8v0.8h-0.8zM276.7 334.2h0.8v0.8h-0.8zM276.5 335.7h0.8v0.8h-0.8zM275.4 337.6h0.8v0.8h-0.8zM274.5 342.1h0.8v0.8h-0.8zM274.9 340.4h0.8v0.8h-0.8zM279.2 340.0h0.8v0.8h-0.8zM273.8 335.9h0.8v0.8h-0.8zM272.3 339.6h0.8v0.8h-0.8zM274.8 340.8h0.8v0.8h-0.8z"/><path fill="#a7b7da" d="M277.1 337.9h0.8v0.8h-0.8zM277.1 336.8h0.8v0.8h-0.8zM276.6 335.2h0.8v0.8h-0.8zM280.4 336.6h0.8v0.8h-0.8zM276.5 341.8h0.8v0.8h-0.8zM282.3 333.7h0.8v0.8h-0.8zM276.1 331.8h0.8v0.8h-0.8zM281.6 334.5h0.8v0.8h-0.8zM280.0 340.5h0.8v0.8h-0.8zM271.2 340.4h0.8v0.8h-0.8zM278.4 341.6h0.8v0.8h-0.8zM274.5 336.4h0.8v0.8h-0.8zM273.7 335.3h0.8v0.8h-0.8zM279.5 344.3h0.8v0.8h-0.8zM272.4 336.9h0.8v0.8h-0.8zM278.1 330.6h0.8v0.8h-0.8zM274.1 340.2h0.8v0.8h-0.8zM282.3 337.8h0.8v0.8h-0.8zM280.3 339.0h0.8v0.8h-0.8zM282.8 342.3h0.8v0.8h-0.8zM272.6 339.7h0.8v0.8h-0.8zM276.9 343.2h0.8v0.8h-0.8z"/><path fill="#6a86bf" d="M271.6 339.6h0.8v0.8h-0.8zM268.4 332.1h0.8v0.8h-0.8zM274.6 339.1h0.8v0.8h-0.8zM274.6 343.3h0.8v0.8h-0.8zM275.0 336.1h0.8v0.8h-0.8zM284.3 337.5h0.8v0.8h-0.8zM280.1 340.2h0.8v0.8h-0.8zM269.5 338.3h0.8v0.8h-0.8zM282.1 342.9h0.8v0.8h-0.8zM281.4 336.4h0.8v0.8h-0.8zM277.6 345.9h0.8v0.8h-0.8zM277.2 339.8h0.8v0.8h-0.8zM268.6 337.7h0.8v0.8h-0.8zM268.7 328.8h0.8v0.8h-0.8zM276.3 337.6h0.8v0.8h-0.8zM266.4 335.3h0.8v0.8h-0.8zM273.0 334.9h0.8v0.8h-0.8zM276.1 342.1h0.8v0.8h-0.8zM279.7 335.6h0.8v0.8h-0.8zM277.5 336.2h0.8v0.8h-0.8zM273.5 339.1h0.8v0.8h-0.8zM270.9 342.2h0.8v0.8h-0.8zM279.1 349.4h0.8v0.8h-0.8zM278.6 342.1h0.8v0.8h-0.8zM277.0 341.4h0.8v0.8h-0.8z"/></g>
<g fill-opacity="0.85"><path fill="#a7b7da" d="M303.0 343.4h0.8v0.8h-0.8zM301.2 342.1h0.8v0.8h-0.8zM291.1 344.1h0.8v0.8h-0.8zM302.8 347.7h0.8v0.8h-0.8zM294.9 344.2h0.8v0.8h-0.8zM286.4 344.0h0.8v0.8h-0.8zM292.4 347.9h0.8v0.8h-0.8zM293.6 345.7h0.8v0.8h-0.8zM302.5 341.4h0.8v0.8h-0.8zM283.9 347.6h0.8v0.8h-0.8zM299.1 349.3h0.8v0.8h-0.8zM295.9 345.4h0.8v0.8h-0.8zM291.8 344.0h0.8v0.8h-0.8zM301.0 341.7h0.8v0.8h-0.8zM291.9 345.9h0.8v0.8h-0.8zM296.8 345.3h0.8v0.8h-0.8zM293.6 342.7h0.8v0.8h-0.8zM310.0 348.3h0.8v0.8h-0.8zM301.4 342.3h0.8v0.8h-0.8zM298.0 348.1h0.8v0.8h-0.8zM288.4 345.6h0.8v0.8h-0.8zM284.1 348.7h0.8v0.8h-0.8zM302.9 346.8h0.8v0.8h-0.8zM302.5 341.8h0.8v0.8h-0.8zM300.9 344.1h0.8v0.8h-0.8zM290.4 339.2h0.8v0.8h-0.8zM297.4 347.7h0.8v0.8h-0.8zM305.3 344.0h0.8v0.8h-0.8zM296.8 344.6h0.8v0.8h-0.8zM288.8 343.1h0.8v0.8h-0.8zM289.8 347.4h0.8v0.8h-0.8zM306.6 349.3h0.8v0.8h-0.8zM301.5 344.3h0.8v0.8h-0.8zM306.1 346.1h0.8v0.8h-0.8zM308.5 345.5h0.8v0.8h-0.8zM305.9 345.8h0.8v0.8h-0.8z"/><path fill="#8fa6d2" d="M276.3 348.0h0.8v0.8h-0.8zM292.7 351.7h0.8v0.8h-0.8zM303.2 343.5h0.8v0.8h-0.8zM296.6 342.7h0.8v0.8h-0.8zM307.2 348.5h0.8v0.8h-0.8zM291.3 344.9h0.8v0.8h-0.8zM285.3 343.2h0.8v0.8h-0.8zM296.4 344.8h0.8v0.8h-0.8zM291.4 349.9h0.8v0.8h-0.8zM308.4 344.4h0.8v0.8h-0.8zM294.9 350.1h0.8v0.8h-0.8zM302.3 347.0h0.8v0.8h-0.8zM294.4 344.2h0.8v0.8h-0.8zM291.4 343.4h0.8v0.8h-0.8zM282.8 350.2h0.8v0.8h-0.8zM301.1 340.2h0.8v0.8h-0.8zM305.6 346.1h0.8v0.8h-0.8zM310.1 342.8h0.8v0.8h-0.8zM296.1 346.4h0.8v0.8h-0.8zM306.7 346.2h0.8v0.8h-0.8zM306.1 346.0h0.8v0.8h-0.8zM306.2 347.4h0.8v0.8h-0.8zM308.3 345.0h0.8v0.8h-0.8zM285.0 343.9h0.8v0.8h-0.8zM294.5 343.9h0.8v0.8h-0.8zM304.1 340.0h0.8v0.8h-0.8zM305.7 345.9h0.8v0.8h-0.8zM297.0 349.0h0.8v0.8h-0.8z"/><path fill="#b8c4e0" d="M299.1 347.0h0.8v0.8h-0.8zM304.5 344.4h0.8v0.8h-0.8zM292.0 347.6h0.8v0.8h-0.8zM302.4 345.6h0.8v0.8h-0.8zM307.9 346.3h0.8v0.8h-0.8zM308.6 349.6h0.8v0.8h-0.8zM301.9 351.9h0.8v0.8h-0.8zM296.5 347.3h0.8v0.8h-0.8zM306.4 344.2h0.8v0.8h-0.8zM299.5 347.7h0.8v0.8h-0.8zM301.2 342.1h0.8v0.8h-0.8zM301.2 342.8h0.8v0.8h-0.8zM301.5 340.4h0.8v0.8h-0.8zM295.1 351.7h0.8v0.8h-0.8zM303.3 346.3h0.8v0.8h-0.8zM295.6 352.3h0.8v0.8h-0.8zM292.7 344.0h0.8v0.8h-0.8zM300.7 342.1h0.8v0.8h-0.8zM290.2 350.0h0.8v0.8h-0.8zM289.0 339.2h0.8v0.8h-0.8zM307.6 342.7h0.8v0.8h-0.8z"/></g>
<g filter="url(#bl05)"><ellipse cx="287.50" cy="358.20" rx="22.5" ry="6.2" fill="#5a7ed0" fill-opacity="0.95"/><ellipse cx="287.50" cy="358.20" rx="21" ry="5.2" fill="#2a68c0" fill-opacity="1"/><ellipse cx="287.50" cy="358.20" rx="19" ry="4.2" fill="#2a9ab8" fill-opacity="1"/><ellipse cx="287.50" cy="358.20" rx="15" ry="3.0" fill="#38b080" fill-opacity="1"/><ellipse cx="283.50" cy="358.60" rx="10" ry="1.8" fill="#48b860" fill-opacity="1"/></g>
<g filter="url(#bl05)"><ellipse cx="297.00" cy="359.60" rx="6.4" ry="4.6" fill="#3aa870" fill-opacity="1"/><ellipse cx="297.00" cy="359.60" rx="4.8" ry="3.4" fill="#78bc40" fill-opacity="1"/><ellipse cx="297.00" cy="359.60" rx="3.2" ry="2.4" fill="#d0c828" fill-opacity="1"/><ellipse cx="297.00" cy="359.60" rx="1.6" ry="1.3" fill="#e89a20" fill-opacity="1"/></g>
<g fill-opacity="0.7"><path fill="#2a90b8" d="M274.0 355.5h0.8v0.8h-0.8zM282.3 364.4h0.8v0.8h-0.8zM272.1 361.5h0.8v0.8h-0.8zM291.0 356.9h0.8v0.8h-0.8zM292.3 356.6h0.8v0.8h-0.8zM278.6 354.1h0.8v0.8h-0.8zM286.0 358.6h0.8v0.8h-0.8zM288.9 363.4h0.8v0.8h-0.8zM278.6 358.6h0.8v0.8h-0.8zM277.2 358.3h0.8v0.8h-0.8zM296.4 361.7h0.8v0.8h-0.8zM284.0 352.9h0.8v0.8h-0.8zM286.0 350.4h0.8v0.8h-0.8zM280.6 351.6h0.8v0.8h-0.8zM290.1 355.8h0.8v0.8h-0.8zM288.7 355.0h0.8v0.8h-0.8zM305.6 356.6h0.8v0.8h-0.8zM294.2 357.7h0.8v0.8h-0.8zM294.6 356.2h0.8v0.8h-0.8zM283.0 357.5h0.8v0.8h-0.8zM306.7 352.2h0.8v0.8h-0.8zM299.2 356.5h0.8v0.8h-0.8zM289.0 366.3h0.8v0.8h-0.8zM280.6 358.7h0.8v0.8h-0.8zM274.9 360.2h0.8v0.8h-0.8zM308.5 356.1h0.8v0.8h-0.8zM282.3 359.3h0.8v0.8h-0.8zM283.3 363.7h0.8v0.8h-0.8zM288.6 358.4h0.8v0.8h-0.8zM264.7 351.9h0.8v0.8h-0.8zM293.6 358.6h0.8v0.8h-0.8zM294.3 360.1h0.8v0.8h-0.8zM292.6 356.0h0.8v0.8h-0.8zM278.1 361.8h0.8v0.8h-0.8zM292.1 354.5h0.8v0.8h-0.8zM264.6 359.6h0.8v0.8h-0.8zM287.4 360.0h0.8v0.8h-0.8zM294.8 360.9h0.8v0.8h-0.8zM298.8 361.7h0.8v0.8h-0.8zM291.6 360.0h0.8v0.8h-0.8zM289.3 358.4h0.8v0.8h-0.8zM283.7 357.1h0.8v0.8h-0.8zM267.3 363.0h0.8v0.8h-0.8zM303.3 356.4h0.8v0.8h-0.8zM287.8 356.5h0.8v0.8h-0.8zM294.8 355.6h0.8v0.8h-0.8zM277.0 358.9h0.8v0.8h-0.8zM285.1 359.1h0.8v0.8h-0.8zM277.5 360.7h0.8v0.8h-0.8zM294.0 360.3h0.8v0.8h-0.8zM268.1 358.8h0.8v0.8h-0.8zM287.0 358.6h0.8v0.8h-0.8zM281.8 356.1h0.8v0.8h-0.8zM294.7 359.6h0.8v0.8h-0.8zM270.5 359.0h0.8v0.8h-0.8zM278.7 356.7h0.8v0.8h-0.8zM287.0 355.5h0.8v0.8h-0.8zM292.9 353.7h0.8v0.8h-0.8zM281.7 349.2h0.8v0.8h-0.8zM296.7 351.5h0.8v0.8h-0.8zM274.0 364.9h0.8v0.8h-0.8zM304.9 355.1h0.8v0.8h-0.8zM280.7 359.0h0.8v0.8h-0.8zM278.3 354.5h0.8v0.8h-0.8zM285.6 356.8h0.8v0.8h-0.8zM288.9 360.3h0.8v0.8h-0.8zM274.9 352.0h0.8v0.8h-0.8zM289.0 358.2h0.8v0.8h-0.8zM292.4 361.1h0.8v0.8h-0.8zM286.7 355.7h0.8v0.8h-0.8z"/><path fill="#4a70c8" d="M287.1 355.2h0.8v0.8h-0.8zM279.1 358.8h0.8v0.8h-0.8zM298.1 353.7h0.8v0.8h-0.8zM278.4 355.5h0.8v0.8h-0.8zM284.6 361.5h0.8v0.8h-0.8zM278.7 360.5h0.8v0.8h-0.8zM285.9 359.0h0.8v0.8h-0.8zM306.6 363.8h0.8v0.8h-0.8zM285.1 359.1h0.8v0.8h-0.8zM293.9 359.0h0.8v0.8h-0.8zM286.2 359.2h0.8v0.8h-0.8zM298.2 360.2h0.8v0.8h-0.8zM289.5 356.0h0.8v0.8h-0.8zM283.3 355.7h0.8v0.8h-0.8zM282.2 355.7h0.8v0.8h-0.8zM277.0 362.8h0.8v0.8h-0.8zM272.8 357.2h0.8v0.8h-0.8zM281.9 363.1h0.8v0.8h-0.8zM280.5 360.7h0.8v0.8h-0.8zM292.0 351.2h0.8v0.8h-0.8zM294.4 357.0h0.8v0.8h-0.8zM284.0 355.4h0.8v0.8h-0.8zM271.6 356.5h0.8v0.8h-0.8zM302.9 356.6h0.8v0.8h-0.8zM282.4 357.1h0.8v0.8h-0.8zM276.1 364.9h0.8v0.8h-0.8zM276.5 354.5h0.8v0.8h-0.8zM264.4 351.8h0.8v0.8h-0.8zM285.7 351.9h0.8v0.8h-0.8zM285.8 355.9h0.8v0.8h-0.8zM288.3 359.3h0.8v0.8h-0.8zM284.7 358.7h0.8v0.8h-0.8zM280.6 358.7h0.8v0.8h-0.8zM280.8 355.7h0.8v0.8h-0.8zM301.3 355.3h0.8v0.8h-0.8zM285.1 359.8h0.8v0.8h-0.8zM291.3 355.6h0.8v0.8h-0.8zM292.2 355.7h0.8v0.8h-0.8zM301.0 358.5h0.8v0.8h-0.8zM272.5 357.2h0.8v0.8h-0.8zM293.0 357.0h0.8v0.8h-0.8zM291.0 355.2h0.8v0.8h-0.8zM289.9 363.8h0.8v0.8h-0.8zM284.2 358.2h0.8v0.8h-0.8zM293.6 366.2h0.8v0.8h-0.8zM280.7 356.1h0.8v0.8h-0.8zM275.8 362.6h0.8v0.8h-0.8zM284.6 357.8h0.8v0.8h-0.8zM276.3 358.7h0.8v0.8h-0.8zM280.4 359.8h0.8v0.8h-0.8zM285.7 358.0h0.8v0.8h-0.8zM273.9 357.1h0.8v0.8h-0.8zM273.5 358.0h0.8v0.8h-0.8zM276.1 357.4h0.8v0.8h-0.8zM286.8 356.9h0.8v0.8h-0.8zM284.3 357.8h0.8v0.8h-0.8zM292.3 356.6h0.8v0.8h-0.8zM292.8 355.6h0.8v0.8h-0.8zM279.9 359.2h0.8v0.8h-0.8zM281.9 363.5h0.8v0.8h-0.8zM286.7 358.4h0.8v0.8h-0.8zM298.6 354.6h0.8v0.8h-0.8zM288.6 353.7h0.8v0.8h-0.8z"/><path fill="#38a880" d="M282.5 355.7h0.8v0.8h-0.8zM281.0 357.0h0.8v0.8h-0.8zM278.2 362.0h0.8v0.8h-0.8zM273.4 355.0h0.8v0.8h-0.8zM287.0 357.0h0.8v0.8h-0.8zM274.3 353.5h0.8v0.8h-0.8zM298.0 356.6h0.8v0.8h-0.8zM288.0 358.9h0.8v0.8h-0.8zM301.6 357.6h0.8v0.8h-0.8zM289.3 353.1h0.8v0.8h-0.8zM303.1 364.3h0.8v0.8h-0.8zM296.7 353.8h0.8v0.8h-0.8zM268.0 353.5h0.8v0.8h-0.8zM268.5 362.8h0.8v0.8h-0.8zM276.6 354.0h0.8v0.8h-0.8zM284.0 360.2h0.8v0.8h-0.8zM298.9 365.1h0.8v0.8h-0.8zM296.2 355.6h0.8v0.8h-0.8zM287.4 356.9h0.8v0.8h-0.8zM285.8 360.7h0.8v0.8h-0.8zM295.3 367.6h0.8v0.8h-0.8zM301.6 353.7h0.8v0.8h-0.8zM304.3 359.2h0.8v0.8h-0.8zM297.2 357.3h0.8v0.8h-0.8zM310.6 357.9h0.8v0.8h-0.8zM289.8 354.3h0.8v0.8h-0.8zM299.4 357.4h0.8v0.8h-0.8zM288.3 360.0h0.8v0.8h-0.8zM295.4 361.9h0.8v0.8h-0.8zM298.0 358.5h0.8v0.8h-0.8zM298.9 358.3h0.8v0.8h-0.8zM302.2 359.7h0.8v0.8h-0.8zM289.5 359.5h0.8v0.8h-0.8zM293.9 362.1h0.8v0.8h-0.8zM296.5 357.4h0.8v0.8h-0.8zM272.5 352.7h0.8v0.8h-0.8zM282.1 358.6h0.8v0.8h-0.8zM277.4 358.6h0.8v0.8h-0.8zM288.2 361.6h0.8v0.8h-0.8zM276.0 356.9h0.8v0.8h-0.8zM283.4 356.1h0.8v0.8h-0.8zM288.6 358.8h0.8v0.8h-0.8zM300.3 360.1h0.8v0.8h-0.8zM289.4 356.6h0.8v0.8h-0.8zM284.0 354.9h0.8v0.8h-0.8zM294.4 359.0h0.8v0.8h-0.8zM281.8 362.0h0.8v0.8h-0.8zM290.7 356.0h0.8v0.8h-0.8zM263.8 355.0h0.8v0.8h-0.8zM289.5 358.7h0.8v0.8h-0.8zM293.3 355.5h0.8v0.8h-0.8zM281.1 358.8h0.8v0.8h-0.8zM282.1 357.9h0.8v0.8h-0.8zM306.3 357.4h0.8v0.8h-0.8z"/><path fill="#2a60b8" d="M306.4 357.6h0.8v0.8h-0.8zM284.3 355.5h0.8v0.8h-0.8zM267.5 356.9h0.8v0.8h-0.8zM284.2 354.7h0.8v0.8h-0.8zM285.4 358.5h0.8v0.8h-0.8zM286.1 361.2h0.8v0.8h-0.8zM288.2 356.9h0.8v0.8h-0.8zM300.9 359.5h0.8v0.8h-0.8zM290.6 351.4h0.8v0.8h-0.8zM281.3 362.8h0.8v0.8h-0.8zM287.8 359.2h0.8v0.8h-0.8zM298.3 360.0h0.8v0.8h-0.8zM281.7 356.6h0.8v0.8h-0.8zM288.7 354.6h0.8v0.8h-0.8zM282.0 357.4h0.8v0.8h-0.8zM271.4 354.2h0.8v0.8h-0.8zM292.8 358.0h0.8v0.8h-0.8zM272.7 355.6h0.8v0.8h-0.8zM270.1 358.3h0.8v0.8h-0.8zM291.7 361.0h0.8v0.8h-0.8zM293.3 357.6h0.8v0.8h-0.8zM289.9 355.3h0.8v0.8h-0.8zM295.0 359.6h0.8v0.8h-0.8zM290.1 355.2h0.8v0.8h-0.8zM292.7 361.3h0.8v0.8h-0.8zM282.9 352.4h0.8v0.8h-0.8zM281.4 358.8h0.8v0.8h-0.8zM287.7 364.0h0.8v0.8h-0.8zM305.8 357.9h0.8v0.8h-0.8zM292.0 363.2h0.8v0.8h-0.8zM294.3 358.2h0.8v0.8h-0.8zM287.9 354.1h0.8v0.8h-0.8zM282.0 355.2h0.8v0.8h-0.8zM296.3 359.7h0.8v0.8h-0.8zM279.4 357.9h0.8v0.8h-0.8zM276.2 362.8h0.8v0.8h-0.8zM286.0 361.6h0.8v0.8h-0.8zM279.3 361.8h0.8v0.8h-0.8zM270.8 354.5h0.8v0.8h-0.8zM289.2 363.5h0.8v0.8h-0.8zM284.3 358.2h0.8v0.8h-0.8zM296.4 357.2h0.8v0.8h-0.8zM292.6 353.6h0.8v0.8h-0.8zM283.4 355.7h0.8v0.8h-0.8zM293.4 360.1h0.8v0.8h-0.8zM281.9 358.7h0.8v0.8h-0.8zM268.6 366.2h0.8v0.8h-0.8zM290.1 352.9h0.8v0.8h-0.8zM295.5 359.7h0.8v0.8h-0.8zM289.7 357.3h0.8v0.8h-0.8zM293.1 358.5h0.8v0.8h-0.8zM289.8 355.2h0.8v0.8h-0.8zM291.4 353.4h0.8v0.8h-0.8z"/></g>
</g>
<rect x="264.5" y="323.1" width="20.899999999999977" height="25.19999999999999" fill="none" stroke="#a5223f" stroke-width="0.9"/>
<rect x="290.5" y="353.3" width="20.5" height="18.899999999999977" fill="none" stroke="#a5223f" stroke-width="0.9"/>
<text x="266.5" y="330.9" font-size="5.2" fill="#c0415e">2.1%</text>
<text x="266.8" y="338.3" font-size="5.2" fill="#c0415e">T</text>
<text x="291.4" y="371.2" font-size="5.2" fill="#c0415e">45.4%</text>
<text x="305.4" y="362.9" font-size="5.2" fill="#c0415e">B</text>
<text x="259.8" y="330.1" font-size="5.5" fill="#333" text-anchor="end">10<tspan font-size="3.8" dy="-2.30">5</tspan></text>
<text x="259.8" y="341.3" font-size="5.5" fill="#333" text-anchor="end">10<tspan font-size="3.8" dy="-2.30">4</tspan></text>
<text x="259.8" y="355.3" font-size="5.5" fill="#333" text-anchor="end">10<tspan font-size="3.8" dy="-2.30">3</tspan></text>
<text x="259.8" y="363.3" font-size="5.5" fill="#333" text-anchor="end">0</text>
<text x="259.8" y="371.8" font-size="5.5" fill="#333" text-anchor="end">−10<tspan font-size="3.8" dy="-2.30">3</tspan></text>
<line x1="262.3" y1="328.1" x2="263.90000000000003" y2="328.1" stroke="#666" stroke-width="0.55"/>
<line x1="262.3" y1="339.3" x2="263.90000000000003" y2="339.3" stroke="#666" stroke-width="0.55"/>
<line x1="262.3" y1="353.3" x2="263.90000000000003" y2="353.3" stroke="#666" stroke-width="0.55"/>
<line x1="262.3" y1="361.3" x2="263.90000000000003" y2="361.3" stroke="#666" stroke-width="0.55"/>
<line x1="262.3" y1="369.8" x2="263.90000000000003" y2="369.8" stroke="#666" stroke-width="0.55"/>
<line x1="266.9" y1="372.09999999999997" x2="266.9" y2="373.7" stroke="#666" stroke-width="0.55"/>
<line x1="274.6" y1="372.09999999999997" x2="274.6" y2="373.7" stroke="#666" stroke-width="0.55"/>
<line x1="281.0" y1="372.09999999999997" x2="281.0" y2="373.7" stroke="#666" stroke-width="0.55"/>
<line x1="296.1" y1="372.09999999999997" x2="296.1" y2="373.7" stroke="#666" stroke-width="0.55"/>
<line x1="307.2" y1="372.09999999999997" x2="307.2" y2="373.7" stroke="#666" stroke-width="0.55"/>
<text x="266.9" y="381.6" font-size="5.5" fill="#333" text-anchor="middle">−10<tspan font-size="3.8" dy="-2.30">3</tspan></text>
<text x="274.6" y="381.6" font-size="5.5" fill="#333" text-anchor="middle">0</text>
<text x="281.0" y="381.6" font-size="5.5" fill="#333" text-anchor="middle">10<tspan font-size="3.8" dy="-2.30">3</tspan></text>
<text x="296.1" y="381.6" font-size="5.5" fill="#333" text-anchor="middle">10<tspan font-size="3.8" dy="-2.30">4</tspan></text>
<text x="307.2" y="381.6" font-size="5.5" fill="#333" text-anchor="middle">10<tspan font-size="3.8" dy="-2.30">5</tspan></text>
<rect x="263.3" y="391.7" width="47.69999999999999" height="49.5" fill="none" stroke="#c8c8c8" stroke-width="0.55"/>
<g clip-path="url(#c11)">
<g fill-opacity="0.85"><path fill="#7d97c9" d="M281.5 411.2h0.8v0.8h-0.8zM280.5 407.2h0.8v0.8h-0.8zM268.0 423.4h0.8v0.8h-0.8zM273.6 403.2h0.8v0.8h-0.8zM282.0 414.6h0.8v0.8h-0.8zM282.7 413.1h0.8v0.8h-0.8zM278.8 401.3h0.8v0.8h-0.8zM284.9 403.2h0.8v0.8h-0.8zM280.2 406.5h0.8v0.8h-0.8zM275.6 414.0h0.8v0.8h-0.8zM277.4 403.0h0.8v0.8h-0.8zM275.9 401.2h0.8v0.8h-0.8z"/><path fill="#a7b7da" d="M280.2 402.6h0.8v0.8h-0.8zM277.8 401.2h0.8v0.8h-0.8zM280.0 408.8h0.8v0.8h-0.8zM268.3 411.8h0.8v0.8h-0.8zM279.7 407.9h0.8v0.8h-0.8zM275.3 403.8h0.8v0.8h-0.8zM273.7 405.7h0.8v0.8h-0.8z"/><path fill="#8fa6d2" d="M273.6 413.6h0.8v0.8h-0.8zM279.1 404.3h0.8v0.8h-0.8zM282.4 412.9h0.8v0.8h-0.8zM273.6 412.9h0.8v0.8h-0.8zM277.4 411.1h0.8v0.8h-0.8zM278.9 416.2h0.8v0.8h-0.8zM272.7 413.0h0.8v0.8h-0.8zM270.5 406.2h0.8v0.8h-0.8zM277.4 413.8h0.8v0.8h-0.8z"/><path fill="#5d7cb8" d="M273.8 405.9h0.8v0.8h-0.8zM267.0 407.4h0.8v0.8h-0.8zM276.8 406.0h0.8v0.8h-0.8zM271.8 414.1h0.8v0.8h-0.8zM274.2 414.6h0.8v0.8h-0.8zM274.8 411.0h0.8v0.8h-0.8zM277.5 401.4h0.8v0.8h-0.8zM271.4 401.3h0.8v0.8h-0.8z"/><path fill="#6a86bf" d="M276.5 413.2h0.8v0.8h-0.8zM277.0 401.2h0.8v0.8h-0.8zM271.7 400.5h0.8v0.8h-0.8zM283.5 413.2h0.8v0.8h-0.8z"/></g>
<g fill-opacity="0.85"><path fill="#7d8fc9" d="M297.4 429.1h0.8v0.8h-0.8zM298.5 427.6h0.8v0.8h-0.8zM292.3 427.2h0.8v0.8h-0.8zM291.7 428.9h0.8v0.8h-0.8zM302.2 427.8h0.8v0.8h-0.8zM295.4 423.3h0.8v0.8h-0.8zM299.5 428.6h0.8v0.8h-0.8zM293.6 431.8h0.8v0.8h-0.8zM295.9 428.7h0.8v0.8h-0.8zM295.7 429.1h0.8v0.8h-0.8zM290.2 430.2h0.8v0.8h-0.8zM298.7 425.4h0.8v0.8h-0.8zM290.8 426.5h0.8v0.8h-0.8zM295.2 433.6h0.8v0.8h-0.8zM295.2 427.1h0.8v0.8h-0.8zM295.5 426.6h0.8v0.8h-0.8zM291.4 428.7h0.8v0.8h-0.8zM301.0 424.1h0.8v0.8h-0.8zM299.4 427.1h0.8v0.8h-0.8zM294.6 428.8h0.8v0.8h-0.8zM288.8 427.1h0.8v0.8h-0.8zM290.7 425.4h0.8v0.8h-0.8zM302.0 426.5h0.8v0.8h-0.8zM298.3 429.6h0.8v0.8h-0.8zM293.3 426.9h0.8v0.8h-0.8zM292.3 423.8h0.8v0.8h-0.8zM296.1 423.6h0.8v0.8h-0.8zM295.8 429.0h0.8v0.8h-0.8z"/><path fill="#5d6cb8" d="M295.2 424.0h0.8v0.8h-0.8zM301.5 427.3h0.8v0.8h-0.8zM292.7 427.0h0.8v0.8h-0.8zM297.1 430.1h0.8v0.8h-0.8zM296.9 426.9h0.8v0.8h-0.8zM296.1 434.0h0.8v0.8h-0.8zM291.3 429.1h0.8v0.8h-0.8zM296.2 427.6h0.8v0.8h-0.8zM291.3 428.8h0.8v0.8h-0.8zM302.2 426.5h0.8v0.8h-0.8zM293.3 426.4h0.8v0.8h-0.8zM294.3 425.1h0.8v0.8h-0.8zM294.2 424.1h0.8v0.8h-0.8zM295.8 426.6h0.8v0.8h-0.8zM299.5 428.4h0.8v0.8h-0.8zM290.4 426.2h0.8v0.8h-0.8z"/><path fill="#4a5aa8" d="M293.5 426.1h0.8v0.8h-0.8zM292.9 428.4h0.8v0.8h-0.8zM291.2 426.9h0.8v0.8h-0.8zM293.2 425.7h0.8v0.8h-0.8zM295.6 429.0h0.8v0.8h-0.8zM292.7 427.4h0.8v0.8h-0.8zM292.8 429.7h0.8v0.8h-0.8zM298.5 429.5h0.8v0.8h-0.8zM302.6 430.2h0.8v0.8h-0.8zM296.4 430.1h0.8v0.8h-0.8zM291.6 423.5h0.8v0.8h-0.8zM301.8 430.3h0.8v0.8h-0.8zM300.4 430.9h0.8v0.8h-0.8zM295.4 427.9h0.8v0.8h-0.8zM295.9 425.6h0.8v0.8h-0.8zM299.4 428.5h0.8v0.8h-0.8zM300.0 425.9h0.8v0.8h-0.8zM299.6 431.9h0.8v0.8h-0.8zM298.6 422.0h0.8v0.8h-0.8zM297.3 425.8h0.8v0.8h-0.8zM302.1 428.5h0.8v0.8h-0.8zM298.5 429.2h0.8v0.8h-0.8zM292.2 431.4h0.8v0.8h-0.8zM291.0 428.9h0.8v0.8h-0.8zM295.7 429.3h0.8v0.8h-0.8zM292.9 427.1h0.8v0.8h-0.8z"/></g>
<g filter="url(#bl05)"><ellipse cx="277.00" cy="428.00" rx="12.2" ry="6.3" fill="#2a2ea8" fill-opacity="1"/><ellipse cx="277.00" cy="428.00" rx="10.8" ry="5.4" fill="#2a6ad0" fill-opacity="1"/><ellipse cx="277.00" cy="428.00" rx="9" ry="4.4" fill="#22b0c8" fill-opacity="1"/><ellipse cx="277.00" cy="428.00" rx="6.8" ry="3.4" fill="#40bc58" fill-opacity="1"/><ellipse cx="277.00" cy="428.00" rx="4.4" ry="2.3" fill="#d8d028" fill-opacity="1"/><ellipse cx="277.00" cy="428.00" rx="2.4" ry="1.3" fill="#f07a20" fill-opacity="1"/></g>
</g>
<rect x="263.6" y="392.0" width="21.099999999999966" height="25.19999999999999" fill="none" stroke="#a5223f" stroke-width="0.9"/>
<rect x="290.1" y="421.7" width="20.599999999999966" height="19.30000000000001" fill="none" stroke="#a5223f" stroke-width="0.9"/>
<text x="265.9" y="401.3" font-size="5.2" fill="#c0415e">0.3%</text>
<text x="292.8" y="438.6" font-size="5.2" fill="#c0415e">0.8%</text>
<text x="259.8" y="399.8" font-size="5.5" fill="#333" text-anchor="end">10<tspan font-size="3.8" dy="-2.30">5</tspan></text>
<text x="259.8" y="410.9" font-size="5.5" fill="#333" text-anchor="end">10<tspan font-size="3.8" dy="-2.30">4</tspan></text>
<text x="259.8" y="424.6" font-size="5.5" fill="#333" text-anchor="end">10<tspan font-size="3.8" dy="-2.30">3</tspan></text>
<text x="259.8" y="433.1" font-size="5.5" fill="#333" text-anchor="end">0</text>
<text x="259.8" y="441.2" font-size="5.5" fill="#333" text-anchor="end">−10<tspan font-size="3.8" dy="-2.30">3</tspan></text>
<line x1="262.0" y1="397.8" x2="263.6" y2="397.8" stroke="#666" stroke-width="0.55"/>
<line x1="262.0" y1="408.9" x2="263.6" y2="408.9" stroke="#666" stroke-width="0.55"/>
<line x1="262.0" y1="422.6" x2="263.6" y2="422.6" stroke="#666" stroke-width="0.55"/>
<line x1="262.0" y1="431.1" x2="263.6" y2="431.1" stroke="#666" stroke-width="0.55"/>
<line x1="262.0" y1="439.2" x2="263.6" y2="439.2" stroke="#666" stroke-width="0.55"/>
<line x1="266.9" y1="440.9" x2="266.9" y2="442.5" stroke="#666" stroke-width="0.55"/>
<line x1="274.6" y1="440.9" x2="274.6" y2="442.5" stroke="#666" stroke-width="0.55"/>
<line x1="281.0" y1="440.9" x2="281.0" y2="442.5" stroke="#666" stroke-width="0.55"/>
<line x1="296.1" y1="440.9" x2="296.1" y2="442.5" stroke="#666" stroke-width="0.55"/>
<line x1="307.2" y1="440.9" x2="307.2" y2="442.5" stroke="#666" stroke-width="0.55"/>
<text x="266.9" y="450.6" font-size="5.5" fill="#333" text-anchor="middle">−10<tspan font-size="3.8" dy="-2.30">3</tspan></text>
<text x="274.6" y="450.6" font-size="5.5" fill="#333" text-anchor="middle">0</text>
<text x="281.0" y="450.6" font-size="5.5" fill="#333" text-anchor="middle">10<tspan font-size="3.8" dy="-2.30">3</tspan></text>
<text x="296.1" y="450.6" font-size="5.5" fill="#333" text-anchor="middle">10<tspan font-size="3.8" dy="-2.30">4</tspan></text>
<text x="307.2" y="450.6" font-size="5.5" fill="#333" text-anchor="middle">10<tspan font-size="3.8" dy="-2.30">5</tspan></text>
<rect x="263.6" y="462.7" width="48.0" height="48.5" fill="none" stroke="#c8c8c8" stroke-width="0.55"/>
<g clip-path="url(#c12)">
<g fill-opacity="0.75"><path fill="#7078b0" d="M282.6 492.9h0.8v0.8h-0.8zM285.4 494.7h0.8v0.8h-0.8zM290.3 493.9h0.8v0.8h-0.8zM290.0 491.2h0.8v0.8h-0.8zM278.9 494.9h0.8v0.8h-0.8zM280.7 491.8h0.8v0.8h-0.8zM280.9 489.6h0.8v0.8h-0.8zM275.0 493.8h0.8v0.8h-0.8zM287.5 492.9h0.8v0.8h-0.8zM278.5 493.3h0.8v0.8h-0.8zM278.4 487.0h0.8v0.8h-0.8zM278.9 493.0h0.8v0.8h-0.8zM290.1 489.0h0.8v0.8h-0.8zM279.6 490.2h0.8v0.8h-0.8zM287.4 488.8h0.8v0.8h-0.8zM283.6 488.3h0.8v0.8h-0.8zM290.9 488.1h0.8v0.8h-0.8zM274.8 492.2h0.8v0.8h-0.8zM281.9 485.4h0.8v0.8h-0.8zM281.7 489.2h0.8v0.8h-0.8zM299.6 486.3h0.8v0.8h-0.8zM275.9 497.5h0.8v0.8h-0.8zM278.2 489.7h0.8v0.8h-0.8zM276.3 497.4h0.8v0.8h-0.8zM292.9 484.9h0.8v0.8h-0.8zM280.3 493.9h0.8v0.8h-0.8zM280.2 487.0h0.8v0.8h-0.8zM270.8 490.9h0.8v0.8h-0.8zM281.9 495.5h0.8v0.8h-0.8zM267.8 492.5h0.8v0.8h-0.8zM273.5 489.4h0.8v0.8h-0.8zM272.5 492.5h0.8v0.8h-0.8zM275.2 490.4h0.8v0.8h-0.8zM277.0 492.9h0.8v0.8h-0.8zM282.0 490.4h0.8v0.8h-0.8zM285.0 486.7h0.8v0.8h-0.8zM272.5 490.8h0.8v0.8h-0.8zM285.8 488.8h0.8v0.8h-0.8zM280.7 491.3h0.8v0.8h-0.8zM283.0 488.9h0.8v0.8h-0.8zM284.8 486.4h0.8v0.8h-0.8zM288.8 491.4h0.8v0.8h-0.8zM280.6 489.2h0.8v0.8h-0.8zM283.9 489.9h0.8v0.8h-0.8z"/><path fill="#a8acd0" d="M284.1 489.9h0.8v0.8h-0.8zM285.6 488.7h0.8v0.8h-0.8zM285.2 494.6h0.8v0.8h-0.8zM288.6 492.8h0.8v0.8h-0.8zM273.7 491.6h0.8v0.8h-0.8zM276.9 492.8h0.8v0.8h-0.8zM289.7 487.5h0.8v0.8h-0.8zM275.3 490.2h0.8v0.8h-0.8zM282.5 487.1h0.8v0.8h-0.8zM278.0 493.5h0.8v0.8h-0.8zM286.6 486.7h0.8v0.8h-0.8zM288.3 485.8h0.8v0.8h-0.8zM276.8 493.5h0.8v0.8h-0.8zM294.8 488.2h0.8v0.8h-0.8zM287.8 487.4h0.8v0.8h-0.8zM292.4 490.2h0.8v0.8h-0.8zM286.0 491.0h0.8v0.8h-0.8zM277.2 495.0h0.8v0.8h-0.8zM271.8 494.1h0.8v0.8h-0.8zM285.9 487.5h0.8v0.8h-0.8zM284.8 491.0h0.8v0.8h-0.8zM269.7 492.4h0.8v0.8h-0.8zM284.7 488.0h0.8v0.8h-0.8zM280.4 489.9h0.8v0.8h-0.8zM276.7 490.0h0.8v0.8h-0.8zM294.1 489.4h0.8v0.8h-0.8zM274.6 496.6h0.8v0.8h-0.8zM290.1 485.8h0.8v0.8h-0.8zM288.9 486.1h0.8v0.8h-0.8zM285.4 487.0h0.8v0.8h-0.8zM282.9 488.7h0.8v0.8h-0.8zM282.6 489.9h0.8v0.8h-0.8zM281.1 487.2h0.8v0.8h-0.8zM277.7 487.8h0.8v0.8h-0.8zM288.6 488.2h0.8v0.8h-0.8zM274.9 495.3h0.8v0.8h-0.8zM276.5 488.7h0.8v0.8h-0.8zM272.0 494.0h0.8v0.8h-0.8zM285.5 490.2h0.8v0.8h-0.8zM271.3 493.0h0.8v0.8h-0.8zM275.0 492.5h0.8v0.8h-0.8zM279.2 489.4h0.8v0.8h-0.8zM282.6 490.5h0.8v0.8h-0.8zM283.2 491.5h0.8v0.8h-0.8zM277.0 491.7h0.8v0.8h-0.8z"/><path fill="#8a90c0" d="M284.3 492.2h0.8v0.8h-0.8zM269.9 491.0h0.8v0.8h-0.8zM283.9 495.6h0.8v0.8h-0.8zM275.4 486.8h0.8v0.8h-0.8zM270.2 493.4h0.8v0.8h-0.8zM282.5 490.4h0.8v0.8h-0.8zM276.2 489.6h0.8v0.8h-0.8zM285.3 490.6h0.8v0.8h-0.8zM271.1 494.7h0.8v0.8h-0.8zM270.9 491.6h0.8v0.8h-0.8zM286.7 489.0h0.8v0.8h-0.8zM283.1 487.1h0.8v0.8h-0.8zM269.5 498.6h0.8v0.8h-0.8zM279.4 494.1h0.8v0.8h-0.8zM278.7 486.6h0.8v0.8h-0.8zM272.7 486.1h0.8v0.8h-0.8zM291.4 489.2h0.8v0.8h-0.8zM285.4 490.0h0.8v0.8h-0.8zM284.1 491.5h0.8v0.8h-0.8zM286.2 488.5h0.8v0.8h-0.8zM285.0 487.2h0.8v0.8h-0.8zM278.9 487.1h0.8v0.8h-0.8zM287.7 489.1h0.8v0.8h-0.8zM275.3 484.7h0.8v0.8h-0.8zM276.4 493.4h0.8v0.8h-0.8zM287.4 490.4h0.8v0.8h-0.8zM286.7 489.8h0.8v0.8h-0.8zM278.7 492.7h0.8v0.8h-0.8zM273.4 491.1h0.8v0.8h-0.8zM272.8 492.9h0.8v0.8h-0.8zM281.2 493.3h0.8v0.8h-0.8zM278.5 492.6h0.8v0.8h-0.8zM282.5 488.8h0.8v0.8h-0.8zM283.1 487.7h0.8v0.8h-0.8zM292.4 482.2h0.8v0.8h-0.8zM281.3 490.8h0.8v0.8h-0.8zM274.0 491.3h0.8v0.8h-0.8zM284.0 484.9h0.8v0.8h-0.8zM273.3 487.9h0.8v0.8h-0.8zM272.9 489.3h0.8v0.8h-0.8zM279.8 489.3h0.8v0.8h-0.8zM285.8 490.9h0.8v0.8h-0.8zM279.7 485.7h0.8v0.8h-0.8zM282.6 489.9h0.8v0.8h-0.8zM288.8 488.3h0.8v0.8h-0.8zM275.0 488.6h0.8v0.8h-0.8zM290.1 489.4h0.8v0.8h-0.8zM278.2 491.5h0.8v0.8h-0.8zM278.5 491.3h0.8v0.8h-0.8zM287.8 486.3h0.8v0.8h-0.8z"/><path fill="#9aa0c8" d="M286.4 491.9h0.8v0.8h-0.8zM296.4 486.4h0.8v0.8h-0.8zM289.3 489.3h0.8v0.8h-0.8zM276.0 490.4h0.8v0.8h-0.8zM279.2 489.9h0.8v0.8h-0.8zM280.1 488.9h0.8v0.8h-0.8zM285.6 488.1h0.8v0.8h-0.8zM279.1 489.9h0.8v0.8h-0.8zM279.0 489.0h0.8v0.8h-0.8zM274.4 489.7h0.8v0.8h-0.8zM288.3 482.8h0.8v0.8h-0.8zM286.3 485.5h0.8v0.8h-0.8zM280.7 489.6h0.8v0.8h-0.8zM273.5 494.1h0.8v0.8h-0.8zM290.3 488.5h0.8v0.8h-0.8zM283.7 491.9h0.8v0.8h-0.8zM273.8 492.2h0.8v0.8h-0.8zM278.8 489.0h0.8v0.8h-0.8zM287.5 488.8h0.8v0.8h-0.8zM277.3 493.4h0.8v0.8h-0.8zM271.6 496.6h0.8v0.8h-0.8zM283.6 491.5h0.8v0.8h-0.8zM299.6 488.1h0.8v0.8h-0.8zM287.1 490.7h0.8v0.8h-0.8zM300.8 488.1h0.8v0.8h-0.8zM283.1 489.4h0.8v0.8h-0.8zM276.2 488.3h0.8v0.8h-0.8zM270.3 491.2h0.8v0.8h-0.8zM285.8 486.5h0.8v0.8h-0.8z"/></g>
<g fill-opacity="0.85"><path fill="#8fa6d2" d="M278.9 475.2h0.8v0.8h-0.8zM269.5 477.5h0.8v0.8h-0.8zM275.6 473.1h0.8v0.8h-0.8zM274.5 473.2h0.8v0.8h-0.8zM274.4 477.3h0.8v0.8h-0.8zM277.3 470.4h0.8v0.8h-0.8z"/><path fill="#a7b7da" d="M276.5 476.6h0.8v0.8h-0.8zM276.0 472.7h0.8v0.8h-0.8zM273.6 477.4h0.8v0.8h-0.8zM277.6 484.4h0.8v0.8h-0.8z"/><path fill="#7d97c9" d="M270.3 475.6h0.8v0.8h-0.8zM273.6 468.4h0.8v0.8h-0.8zM274.1 474.0h0.8v0.8h-0.8zM274.4 474.7h0.8v0.8h-0.8z"/><path fill="#6a86bf" d="M274.3 470.6h0.8v0.8h-0.8zM274.8 472.3h0.8v0.8h-0.8zM269.3 476.6h0.8v0.8h-0.8zM273.2 477.6h0.8v0.8h-0.8zM277.4 473.9h0.8v0.8h-0.8z"/><path fill="#5d7cb8" d="M272.1 470.4h0.8v0.8h-0.8zM274.5 475.0h0.8v0.8h-0.8zM272.0 472.4h0.8v0.8h-0.8zM278.2 478.0h0.8v0.8h-0.8zM272.7 480.2h0.8v0.8h-0.8zM281.6 462.6h0.8v0.8h-0.8z"/></g>
<g fill-opacity="0.85"><path fill="#8a90c0" d="M298.7 502.8h0.8v0.8h-0.8zM299.6 498.0h0.8v0.8h-0.8zM299.8 497.3h0.8v0.8h-0.8zM301.7 499.5h0.8v0.8h-0.8zM301.6 497.5h0.8v0.8h-0.8zM299.1 499.4h0.8v0.8h-0.8zM299.8 500.8h0.8v0.8h-0.8zM299.0 499.4h0.8v0.8h-0.8zM297.9 496.2h0.8v0.8h-0.8zM300.4 497.1h0.8v0.8h-0.8zM296.5 498.7h0.8v0.8h-0.8zM300.4 493.7h0.8v0.8h-0.8zM298.8 493.4h0.8v0.8h-0.8zM298.6 499.6h0.8v0.8h-0.8zM301.4 499.8h0.8v0.8h-0.8zM300.2 504.7h0.8v0.8h-0.8zM298.2 497.9h0.8v0.8h-0.8zM295.7 500.0h0.8v0.8h-0.8z"/><path fill="#5a6098" d="M298.9 495.4h0.8v0.8h-0.8zM297.6 505.9h0.8v0.8h-0.8zM299.3 500.1h0.8v0.8h-0.8zM296.8 497.4h0.8v0.8h-0.8zM299.7 494.5h0.8v0.8h-0.8zM299.0 493.1h0.8v0.8h-0.8zM297.0 498.2h0.8v0.8h-0.8zM299.4 499.2h0.8v0.8h-0.8zM299.7 500.5h0.8v0.8h-0.8zM297.4 496.1h0.8v0.8h-0.8zM297.1 498.4h0.8v0.8h-0.8zM297.9 501.0h0.8v0.8h-0.8zM298.8 495.6h0.8v0.8h-0.8zM296.2 498.3h0.8v0.8h-0.8zM299.0 498.9h0.8v0.8h-0.8zM296.6 503.4h0.8v0.8h-0.8z"/><path fill="#6a70a8" d="M298.8 497.1h0.8v0.8h-0.8zM295.0 499.2h0.8v0.8h-0.8zM299.1 495.0h0.8v0.8h-0.8zM299.0 500.1h0.8v0.8h-0.8zM298.0 496.6h0.8v0.8h-0.8zM298.1 495.8h0.8v0.8h-0.8zM298.8 493.0h0.8v0.8h-0.8zM302.1 496.1h0.8v0.8h-0.8zM300.4 502.8h0.8v0.8h-0.8zM297.9 493.3h0.8v0.8h-0.8zM302.1 501.7h0.8v0.8h-0.8zM301.1 501.0h0.8v0.8h-0.8zM298.7 496.0h0.8v0.8h-0.8zM302.2 496.9h0.8v0.8h-0.8zM301.7 499.3h0.8v0.8h-0.8zM299.2 496.5h0.8v0.8h-0.8zM297.5 496.9h0.8v0.8h-0.8zM297.5 497.7h0.8v0.8h-0.8z"/><path fill="#4a5088" d="M301.4 494.6h0.8v0.8h-0.8zM300.0 499.9h0.8v0.8h-0.8zM302.6 498.3h0.8v0.8h-0.8zM299.8 493.7h0.8v0.8h-0.8zM301.1 497.8h0.8v0.8h-0.8zM298.7 495.6h0.8v0.8h-0.8zM298.1 498.4h0.8v0.8h-0.8zM298.8 497.5h0.8v0.8h-0.8zM301.2 496.6h0.8v0.8h-0.8zM296.3 495.8h0.8v0.8h-0.8zM298.0 498.0h0.8v0.8h-0.8zM299.9 495.1h0.8v0.8h-0.8zM298.3 495.8h0.8v0.8h-0.8zM301.9 500.3h0.8v0.8h-0.8zM301.2 497.7h0.8v0.8h-0.8zM299.9 499.1h0.8v0.8h-0.8zM303.8 502.3h0.8v0.8h-0.8zM298.9 497.4h0.8v0.8h-0.8z"/></g>
</g>
<rect x="263.8" y="463.4" width="22.19999999999999" height="24.900000000000034" fill="none" stroke="#a5223f" stroke-width="0.9"/>
<rect x="290.1" y="492.3" width="21.299999999999955" height="18.69999999999999" fill="none" stroke="#a5223f" stroke-width="0.9"/>
<text x="265.9" y="471.6" font-size="5.2" fill="#c0415e">6.7%</text>
<text x="293.5" y="508.6" font-size="5.2" fill="#c0415e">25.5%</text>
<text x="259.8" y="470.1" font-size="5.5" fill="#333" text-anchor="end">10<tspan font-size="3.8" dy="-2.30">5</tspan></text>
<text x="259.8" y="481.1" font-size="5.5" fill="#333" text-anchor="end">10<tspan font-size="3.8" dy="-2.30">4</tspan></text>
<text x="259.8" y="494.6" font-size="5.5" fill="#333" text-anchor="end">10<tspan font-size="3.8" dy="-2.30">3</tspan></text>
<text x="259.8" y="503.1" font-size="5.5" fill="#333" text-anchor="end">0</text>
<text x="259.8" y="511.2" font-size="5.5" fill="#333" text-anchor="end">−10<tspan font-size="3.8" dy="-2.30">3</tspan></text>
<line x1="262.3" y1="468.1" x2="263.90000000000003" y2="468.1" stroke="#666" stroke-width="0.55"/>
<line x1="262.3" y1="479.1" x2="263.90000000000003" y2="479.1" stroke="#666" stroke-width="0.55"/>
<line x1="262.3" y1="492.6" x2="263.90000000000003" y2="492.6" stroke="#666" stroke-width="0.55"/>
<line x1="262.3" y1="501.1" x2="263.90000000000003" y2="501.1" stroke="#666" stroke-width="0.55"/>
<line x1="262.3" y1="509.2" x2="263.90000000000003" y2="509.2" stroke="#666" stroke-width="0.55"/>
<line x1="266.9" y1="510.9" x2="266.9" y2="512.5" stroke="#666" stroke-width="0.55"/>
<line x1="274.6" y1="510.9" x2="274.6" y2="512.5" stroke="#666" stroke-width="0.55"/>
<line x1="281.0" y1="510.9" x2="281.0" y2="512.5" stroke="#666" stroke-width="0.55"/>
<line x1="296.1" y1="510.9" x2="296.1" y2="512.5" stroke="#666" stroke-width="0.55"/>
<line x1="307.2" y1="510.9" x2="307.2" y2="512.5" stroke="#666" stroke-width="0.55"/>
<text x="266.9" y="520.4" font-size="5.5" fill="#333" text-anchor="middle">−10<tspan font-size="3.8" dy="-2.30">3</tspan></text>
<text x="274.6" y="520.4" font-size="5.5" fill="#333" text-anchor="middle">0</text>
<text x="281.0" y="520.4" font-size="5.5" fill="#333" text-anchor="middle">10<tspan font-size="3.8" dy="-2.30">3</tspan></text>
<text x="296.1" y="520.4" font-size="5.5" fill="#333" text-anchor="middle">10<tspan font-size="3.8" dy="-2.30">4</tspan></text>
<text x="307.2" y="520.4" font-size="5.5" fill="#333" text-anchor="middle">10<tspan font-size="3.8" dy="-2.30">5</tspan></text>
<circle cx="263.40" cy="361.30" r="0.75" fill="#111"/>
<circle cx="274.60" cy="372.40" r="0.7" fill="#111"/>
<circle cx="263.40" cy="431.10" r="0.75" fill="#111"/>
<circle cx="274.60" cy="441.20" r="0.7" fill="#111"/>
<circle cx="263.40" cy="501.10" r="0.75" fill="#111"/>
<circle cx="274.60" cy="511.20" r="0.7" fill="#111"/>
<rect x="336.2" y="322.0" width="47.5" height="50.5" fill="none" stroke="#c8c8c8" stroke-width="0.55"/>
<g clip-path="url(#c13)">
<g fill-opacity="0.85"><path fill="#8fa6d2" d="M365.5 323.4h0.8v0.8h-0.8zM362.7 347.1h0.8v0.8h-0.8zM365.3 336.5h0.8v0.8h-0.8zM363.6 336.0h0.8v0.8h-0.8zM364.0 338.4h0.8v0.8h-0.8zM364.9 321.8h0.8v0.8h-0.8zM365.3 343.3h0.8v0.8h-0.8zM364.0 340.6h0.8v0.8h-0.8zM360.6 349.3h0.8v0.8h-0.8zM365.8 333.1h0.8v0.8h-0.8zM365.9 340.1h0.8v0.8h-0.8zM363.7 335.2h0.8v0.8h-0.8zM365.6 324.4h0.8v0.8h-0.8zM367.2 343.5h0.8v0.8h-0.8zM375.8 333.2h0.8v0.8h-0.8zM364.7 337.9h0.8v0.8h-0.8zM368.8 334.8h0.8v0.8h-0.8zM364.7 337.6h0.8v0.8h-0.8zM368.9 347.7h0.8v0.8h-0.8zM358.9 339.8h0.8v0.8h-0.8zM363.1 327.3h0.8v0.8h-0.8zM366.3 353.5h0.8v0.8h-0.8zM362.3 332.9h0.8v0.8h-0.8zM360.8 323.5h0.8v0.8h-0.8zM365.9 351.6h0.8v0.8h-0.8zM364.7 340.3h0.8v0.8h-0.8zM366.5 329.1h0.8v0.8h-0.8zM366.2 348.5h0.8v0.8h-0.8zM367.2 340.8h0.8v0.8h-0.8z"/><path fill="#7d97c9" d="M364.6 343.0h0.8v0.8h-0.8zM361.8 341.9h0.8v0.8h-0.8zM364.5 349.6h0.8v0.8h-0.8zM360.4 340.5h0.8v0.8h-0.8zM362.8 328.7h0.8v0.8h-0.8zM364.3 342.4h0.8v0.8h-0.8zM362.5 347.8h0.8v0.8h-0.8zM366.2 345.2h0.8v0.8h-0.8zM362.9 333.3h0.8v0.8h-0.8zM364.1 344.8h0.8v0.8h-0.8zM363.1 359.9h0.8v0.8h-0.8zM366.2 330.4h0.8v0.8h-0.8zM365.4 346.0h0.8v0.8h-0.8zM364.0 342.6h0.8v0.8h-0.8zM362.1 340.9h0.8v0.8h-0.8zM370.0 328.6h0.8v0.8h-0.8zM359.7 337.1h0.8v0.8h-0.8zM369.4 338.5h0.8v0.8h-0.8zM364.0 351.9h0.8v0.8h-0.8zM367.1 347.0h0.8v0.8h-0.8zM363.8 355.8h0.8v0.8h-0.8zM362.6 344.9h0.8v0.8h-0.8zM370.8 348.4h0.8v0.8h-0.8zM361.5 350.3h0.8v0.8h-0.8zM357.6 344.7h0.8v0.8h-0.8zM364.1 330.6h0.8v0.8h-0.8zM368.9 350.1h0.8v0.8h-0.8zM368.7 333.8h0.8v0.8h-0.8zM368.2 348.5h0.8v0.8h-0.8zM366.2 328.4h0.8v0.8h-0.8zM364.8 338.4h0.8v0.8h-0.8zM368.0 343.4h0.8v0.8h-0.8z"/><path fill="#a7b7da" d="M365.5 357.5h0.8v0.8h-0.8zM369.6 341.1h0.8v0.8h-0.8zM366.7 335.7h0.8v0.8h-0.8zM360.5 333.7h0.8v0.8h-0.8zM363.7 331.6h0.8v0.8h-0.8zM363.3 335.2h0.8v0.8h-0.8zM367.8 342.9h0.8v0.8h-0.8zM365.6 331.0h0.8v0.8h-0.8zM365.5 341.8h0.8v0.8h-0.8zM363.3 333.2h0.8v0.8h-0.8zM365.9 334.8h0.8v0.8h-0.8zM364.9 340.8h0.8v0.8h-0.8zM367.8 344.9h0.8v0.8h-0.8zM368.4 348.0h0.8v0.8h-0.8zM369.3 337.7h0.8v0.8h-0.8zM366.4 346.8h0.8v0.8h-0.8zM363.9 342.6h0.8v0.8h-0.8zM367.8 355.5h0.8v0.8h-0.8zM363.6 347.3h0.8v0.8h-0.8zM364.9 339.0h0.8v0.8h-0.8zM363.5 358.1h0.8v0.8h-0.8zM367.7 339.9h0.8v0.8h-0.8zM366.9 337.6h0.8v0.8h-0.8zM367.8 348.2h0.8v0.8h-0.8zM362.8 337.4h0.8v0.8h-0.8zM363.8 328.9h0.8v0.8h-0.8zM366.1 330.9h0.8v0.8h-0.8zM366.8 344.4h0.8v0.8h-0.8z"/></g>
<rect x="338.2" y="325.0" width="20" height="26.5" rx="4" fill="#8aa4d8" fill-opacity="0.75" filter="url(#bl1)"/>
<g fill-opacity="0.85"><path fill="#8fa6d2" d="M345.0 336.6h0.8v0.8h-0.8zM336.7 331.0h0.8v0.8h-0.8zM357.4 349.8h0.8v0.8h-0.8zM356.9 332.1h0.8v0.8h-0.8zM348.2 339.6h0.8v0.8h-0.8zM351.2 330.9h0.8v0.8h-0.8zM352.7 327.9h0.8v0.8h-0.8zM353.4 349.5h0.8v0.8h-0.8zM346.6 327.1h0.8v0.8h-0.8zM347.8 336.5h0.8v0.8h-0.8zM353.0 328.9h0.8v0.8h-0.8zM352.9 336.3h0.8v0.8h-0.8zM344.6 332.5h0.8v0.8h-0.8zM348.3 327.9h0.8v0.8h-0.8zM347.9 328.2h0.8v0.8h-0.8zM340.2 342.9h0.8v0.8h-0.8zM337.8 339.9h0.8v0.8h-0.8zM346.2 324.7h0.8v0.8h-0.8zM351.0 324.0h0.8v0.8h-0.8zM351.4 345.6h0.8v0.8h-0.8zM356.6 333.7h0.8v0.8h-0.8zM341.8 328.9h0.8v0.8h-0.8zM355.3 344.2h0.8v0.8h-0.8zM338.9 343.2h0.8v0.8h-0.8zM340.2 340.9h0.8v0.8h-0.8zM351.5 324.4h0.8v0.8h-0.8zM351.8 341.3h0.8v0.8h-0.8zM342.1 338.8h0.8v0.8h-0.8zM341.2 335.4h0.8v0.8h-0.8zM352.1 345.9h0.8v0.8h-0.8zM355.1 331.5h0.8v0.8h-0.8zM341.1 345.3h0.8v0.8h-0.8zM342.5 323.6h0.8v0.8h-0.8zM353.2 337.6h0.8v0.8h-0.8zM348.3 338.5h0.8v0.8h-0.8zM341.5 350.8h0.8v0.8h-0.8zM349.8 350.3h0.8v0.8h-0.8zM350.3 328.4h0.8v0.8h-0.8zM351.1 343.9h0.8v0.8h-0.8zM350.1 324.3h0.8v0.8h-0.8zM355.4 330.2h0.8v0.8h-0.8zM351.6 328.8h0.8v0.8h-0.8zM339.7 329.4h0.8v0.8h-0.8zM349.8 330.4h0.8v0.8h-0.8zM346.8 335.5h0.8v0.8h-0.8zM339.8 325.6h0.8v0.8h-0.8zM355.6 343.6h0.8v0.8h-0.8zM355.3 335.8h0.8v0.8h-0.8zM353.1 335.8h0.8v0.8h-0.8zM344.7 343.1h0.8v0.8h-0.8zM351.7 326.4h0.8v0.8h-0.8zM345.5 323.6h0.8v0.8h-0.8zM343.7 327.2h0.8v0.8h-0.8zM344.9 327.0h0.8v0.8h-0.8zM348.5 325.1h0.8v0.8h-0.8zM344.6 338.1h0.8v0.8h-0.8zM352.1 335.1h0.8v0.8h-0.8zM355.1 337.5h0.8v0.8h-0.8zM341.9 337.9h0.8v0.8h-0.8zM345.2 331.0h0.8v0.8h-0.8zM357.2 327.0h0.8v0.8h-0.8zM342.7 324.1h0.8v0.8h-0.8zM347.5 343.8h0.8v0.8h-0.8zM338.9 334.2h0.8v0.8h-0.8zM339.1 341.6h0.8v0.8h-0.8zM346.2 336.9h0.8v0.8h-0.8zM349.5 326.4h0.8v0.8h-0.8zM346.3 344.4h0.8v0.8h-0.8zM353.5 332.3h0.8v0.8h-0.8zM352.2 326.8h0.8v0.8h-0.8zM343.2 349.6h0.8v0.8h-0.8zM344.0 340.8h0.8v0.8h-0.8zM354.3 324.7h0.8v0.8h-0.8zM357.8 323.0h0.8v0.8h-0.8zM348.6 323.1h0.8v0.8h-0.8zM351.1 345.6h0.8v0.8h-0.8zM345.9 324.6h0.8v0.8h-0.8zM346.3 328.9h0.8v0.8h-0.8zM350.5 349.2h0.8v0.8h-0.8zM345.2 328.4h0.8v0.8h-0.8zM354.6 335.0h0.8v0.8h-0.8zM345.0 331.5h0.8v0.8h-0.8zM347.5 329.3h0.8v0.8h-0.8zM354.4 330.2h0.8v0.8h-0.8zM345.1 323.6h0.8v0.8h-0.8zM355.9 336.0h0.8v0.8h-0.8zM351.9 344.7h0.8v0.8h-0.8zM346.9 340.4h0.8v0.8h-0.8zM349.6 339.7h0.8v0.8h-0.8zM337.4 349.6h0.8v0.8h-0.8zM356.9 333.3h0.8v0.8h-0.8zM352.1 325.2h0.8v0.8h-0.8zM343.3 341.4h0.8v0.8h-0.8zM350.3 342.5h0.8v0.8h-0.8zM353.5 335.4h0.8v0.8h-0.8zM349.9 341.2h0.8v0.8h-0.8zM354.9 328.9h0.8v0.8h-0.8zM338.1 330.0h0.8v0.8h-0.8zM350.1 328.8h0.8v0.8h-0.8zM347.1 331.5h0.8v0.8h-0.8zM347.7 338.1h0.8v0.8h-0.8zM350.4 337.7h0.8v0.8h-0.8zM343.9 350.4h0.8v0.8h-0.8zM344.9 325.7h0.8v0.8h-0.8zM343.1 328.8h0.8v0.8h-0.8zM352.8 342.1h0.8v0.8h-0.8zM342.5 343.7h0.8v0.8h-0.8zM338.6 322.6h0.8v0.8h-0.8zM341.0 325.3h0.8v0.8h-0.8zM337.4 342.3h0.8v0.8h-0.8zM348.1 340.2h0.8v0.8h-0.8zM346.9 327.4h0.8v0.8h-0.8zM338.0 330.3h0.8v0.8h-0.8zM350.1 323.1h0.8v0.8h-0.8z"/><path fill="#4a6ab8" d="M339.9 345.5h0.8v0.8h-0.8zM348.9 333.3h0.8v0.8h-0.8zM343.6 335.2h0.8v0.8h-0.8zM349.9 338.5h0.8v0.8h-0.8zM342.2 344.1h0.8v0.8h-0.8zM357.5 334.7h0.8v0.8h-0.8zM341.8 332.6h0.8v0.8h-0.8zM351.8 336.4h0.8v0.8h-0.8zM344.5 322.8h0.8v0.8h-0.8zM343.0 329.7h0.8v0.8h-0.8zM344.2 336.1h0.8v0.8h-0.8zM343.7 346.3h0.8v0.8h-0.8zM337.8 347.6h0.8v0.8h-0.8zM340.4 328.7h0.8v0.8h-0.8zM347.5 338.3h0.8v0.8h-0.8zM353.5 331.7h0.8v0.8h-0.8zM341.3 341.6h0.8v0.8h-0.8zM347.9 328.1h0.8v0.8h-0.8zM351.4 333.9h0.8v0.8h-0.8zM354.7 346.9h0.8v0.8h-0.8zM346.3 331.4h0.8v0.8h-0.8zM343.5 334.0h0.8v0.8h-0.8zM341.6 330.5h0.8v0.8h-0.8zM338.0 323.6h0.8v0.8h-0.8zM340.9 338.4h0.8v0.8h-0.8zM339.7 334.4h0.8v0.8h-0.8zM349.1 323.7h0.8v0.8h-0.8zM351.9 324.6h0.8v0.8h-0.8zM338.6 332.0h0.8v0.8h-0.8zM357.2 326.7h0.8v0.8h-0.8zM347.7 349.0h0.8v0.8h-0.8zM354.9 350.9h0.8v0.8h-0.8zM357.8 327.8h0.8v0.8h-0.8zM348.2 328.2h0.8v0.8h-0.8zM357.3 335.9h0.8v0.8h-0.8zM340.1 342.7h0.8v0.8h-0.8zM351.5 342.5h0.8v0.8h-0.8zM355.1 335.6h0.8v0.8h-0.8zM349.3 338.8h0.8v0.8h-0.8zM344.3 344.1h0.8v0.8h-0.8zM350.1 332.5h0.8v0.8h-0.8zM342.1 339.4h0.8v0.8h-0.8zM341.6 325.2h0.8v0.8h-0.8zM357.3 339.6h0.8v0.8h-0.8zM355.6 329.7h0.8v0.8h-0.8zM337.9 334.9h0.8v0.8h-0.8zM354.0 331.6h0.8v0.8h-0.8zM339.6 325.9h0.8v0.8h-0.8zM357.4 329.2h0.8v0.8h-0.8zM343.6 336.8h0.8v0.8h-0.8zM357.6 343.9h0.8v0.8h-0.8zM341.3 329.3h0.8v0.8h-0.8zM348.3 329.1h0.8v0.8h-0.8zM351.7 351.4h0.8v0.8h-0.8zM343.5 328.7h0.8v0.8h-0.8zM356.5 337.7h0.8v0.8h-0.8zM346.8 325.6h0.8v0.8h-0.8zM348.9 322.8h0.8v0.8h-0.8zM356.1 328.6h0.8v0.8h-0.8zM344.7 349.5h0.8v0.8h-0.8zM355.9 329.4h0.8v0.8h-0.8zM339.7 335.9h0.8v0.8h-0.8zM355.6 323.6h0.8v0.8h-0.8zM350.6 324.4h0.8v0.8h-0.8zM351.1 340.7h0.8v0.8h-0.8zM342.3 331.2h0.8v0.8h-0.8zM349.0 323.5h0.8v0.8h-0.8zM346.9 330.9h0.8v0.8h-0.8zM347.6 326.3h0.8v0.8h-0.8zM347.7 328.2h0.8v0.8h-0.8zM354.6 334.3h0.8v0.8h-0.8zM346.0 323.6h0.8v0.8h-0.8zM352.5 351.0h0.8v0.8h-0.8zM352.6 340.6h0.8v0.8h-0.8zM354.5 335.0h0.8v0.8h-0.8zM348.3 348.1h0.8v0.8h-0.8zM340.7 342.2h0.8v0.8h-0.8zM347.5 348.5h0.8v0.8h-0.8zM349.7 339.5h0.8v0.8h-0.8zM355.5 329.8h0.8v0.8h-0.8zM355.7 335.9h0.8v0.8h-0.8zM345.0 325.5h0.8v0.8h-0.8zM346.4 333.5h0.8v0.8h-0.8zM348.8 345.6h0.8v0.8h-0.8zM343.6 331.4h0.8v0.8h-0.8zM342.9 328.7h0.8v0.8h-0.8zM349.2 342.7h0.8v0.8h-0.8zM345.6 327.4h0.8v0.8h-0.8zM355.6 338.9h0.8v0.8h-0.8zM353.8 328.3h0.8v0.8h-0.8zM349.6 343.3h0.8v0.8h-0.8zM338.2 336.8h0.8v0.8h-0.8zM339.8 324.0h0.8v0.8h-0.8zM347.8 329.4h0.8v0.8h-0.8zM357.1 333.8h0.8v0.8h-0.8zM343.4 346.6h0.8v0.8h-0.8zM352.6 336.8h0.8v0.8h-0.8zM356.7 339.7h0.8v0.8h-0.8zM336.7 325.2h0.8v0.8h-0.8zM341.9 343.5h0.8v0.8h-0.8zM347.3 323.8h0.8v0.8h-0.8zM338.4 336.2h0.8v0.8h-0.8zM344.3 347.2h0.8v0.8h-0.8zM343.9 332.5h0.8v0.8h-0.8zM349.5 324.3h0.8v0.8h-0.8zM357.4 337.7h0.8v0.8h-0.8zM348.5 345.9h0.8v0.8h-0.8zM353.3 332.4h0.8v0.8h-0.8z"/><path fill="#2a7ab8" d="M343.5 335.1h0.8v0.8h-0.8zM357.7 338.9h0.8v0.8h-0.8zM340.3 337.1h0.8v0.8h-0.8zM356.7 334.5h0.8v0.8h-0.8zM340.1 331.0h0.8v0.8h-0.8zM353.1 331.6h0.8v0.8h-0.8zM358.0 334.6h0.8v0.8h-0.8zM341.0 334.2h0.8v0.8h-0.8zM343.3 344.8h0.8v0.8h-0.8zM350.2 324.4h0.8v0.8h-0.8zM354.0 351.5h0.8v0.8h-0.8zM351.8 340.1h0.8v0.8h-0.8zM355.8 346.3h0.8v0.8h-0.8zM336.9 324.1h0.8v0.8h-0.8zM342.9 328.8h0.8v0.8h-0.8zM352.0 330.8h0.8v0.8h-0.8zM342.1 341.1h0.8v0.8h-0.8zM345.7 324.4h0.8v0.8h-0.8zM348.8 330.5h0.8v0.8h-0.8zM347.4 334.2h0.8v0.8h-0.8zM348.2 323.7h0.8v0.8h-0.8zM356.1 343.1h0.8v0.8h-0.8zM353.7 323.7h0.8v0.8h-0.8zM347.2 333.9h0.8v0.8h-0.8zM340.6 331.7h0.8v0.8h-0.8zM349.6 328.6h0.8v0.8h-0.8zM342.0 324.9h0.8v0.8h-0.8zM338.3 329.8h0.8v0.8h-0.8zM339.6 324.2h0.8v0.8h-0.8zM336.6 336.0h0.8v0.8h-0.8zM350.0 333.1h0.8v0.8h-0.8zM347.5 334.9h0.8v0.8h-0.8zM344.7 329.9h0.8v0.8h-0.8zM347.0 323.0h0.8v0.8h-0.8zM350.6 329.5h0.8v0.8h-0.8zM348.3 327.8h0.8v0.8h-0.8zM349.2 327.6h0.8v0.8h-0.8zM343.6 338.4h0.8v0.8h-0.8zM354.6 325.4h0.8v0.8h-0.8zM352.3 327.1h0.8v0.8h-0.8zM347.3 333.3h0.8v0.8h-0.8zM339.1 335.0h0.8v0.8h-0.8zM348.6 335.1h0.8v0.8h-0.8zM355.2 333.6h0.8v0.8h-0.8zM337.7 341.1h0.8v0.8h-0.8zM349.6 327.5h0.8v0.8h-0.8zM351.1 329.7h0.8v0.8h-0.8zM351.1 343.6h0.8v0.8h-0.8zM340.5 333.1h0.8v0.8h-0.8zM347.1 331.9h0.8v0.8h-0.8zM336.9 343.9h0.8v0.8h-0.8zM346.7 339.4h0.8v0.8h-0.8zM351.8 327.2h0.8v0.8h-0.8zM353.8 347.1h0.8v0.8h-0.8zM354.4 324.3h0.8v0.8h-0.8zM350.0 323.5h0.8v0.8h-0.8zM340.9 334.8h0.8v0.8h-0.8zM354.9 328.6h0.8v0.8h-0.8zM345.6 330.2h0.8v0.8h-0.8zM347.0 338.5h0.8v0.8h-0.8zM338.6 332.6h0.8v0.8h-0.8zM350.7 326.7h0.8v0.8h-0.8zM337.8 333.0h0.8v0.8h-0.8zM340.9 333.2h0.8v0.8h-0.8zM350.9 335.1h0.8v0.8h-0.8zM342.2 348.0h0.8v0.8h-0.8zM356.5 327.4h0.8v0.8h-0.8zM339.8 336.1h0.8v0.8h-0.8zM344.9 326.8h0.8v0.8h-0.8zM347.5 336.2h0.8v0.8h-0.8zM354.5 336.0h0.8v0.8h-0.8zM343.5 348.4h0.8v0.8h-0.8zM337.6 337.6h0.8v0.8h-0.8zM354.2 336.7h0.8v0.8h-0.8zM349.6 346.5h0.8v0.8h-0.8zM349.1 327.0h0.8v0.8h-0.8zM341.5 346.7h0.8v0.8h-0.8zM356.8 323.9h0.8v0.8h-0.8zM337.6 341.2h0.8v0.8h-0.8zM345.3 346.4h0.8v0.8h-0.8zM340.7 342.8h0.8v0.8h-0.8zM356.3 348.1h0.8v0.8h-0.8zM357.4 337.8h0.8v0.8h-0.8zM343.7 336.3h0.8v0.8h-0.8zM355.1 347.0h0.8v0.8h-0.8zM345.9 341.8h0.8v0.8h-0.8zM357.8 345.4h0.8v0.8h-0.8zM354.5 332.0h0.8v0.8h-0.8zM355.1 336.5h0.8v0.8h-0.8zM343.7 330.4h0.8v0.8h-0.8zM339.1 345.4h0.8v0.8h-0.8zM352.5 326.5h0.8v0.8h-0.8zM349.6 324.3h0.8v0.8h-0.8zM341.3 338.1h0.8v0.8h-0.8zM345.9 344.4h0.8v0.8h-0.8zM342.7 347.2h0.8v0.8h-0.8zM346.3 348.6h0.8v0.8h-0.8zM340.5 323.8h0.8v0.8h-0.8zM355.1 324.4h0.8v0.8h-0.8zM350.4 338.1h0.8v0.8h-0.8zM357.4 345.9h0.8v0.8h-0.8zM339.0 339.3h0.8v0.8h-0.8zM353.4 327.3h0.8v0.8h-0.8zM337.9 328.8h0.8v0.8h-0.8zM353.5 332.5h0.8v0.8h-0.8zM355.3 333.5h0.8v0.8h-0.8zM337.3 326.2h0.8v0.8h-0.8zM347.9 331.9h0.8v0.8h-0.8zM344.0 329.3h0.8v0.8h-0.8zM351.8 345.1h0.8v0.8h-0.8zM341.3 325.5h0.8v0.8h-0.8zM343.5 339.3h0.8v0.8h-0.8zM338.7 332.2h0.8v0.8h-0.8zM342.1 333.3h0.8v0.8h-0.8zM355.2 329.1h0.8v0.8h-0.8zM356.3 340.8h0.8v0.8h-0.8zM349.5 350.4h0.8v0.8h-0.8zM346.3 337.6h0.8v0.8h-0.8zM354.3 347.1h0.8v0.8h-0.8zM355.5 341.0h0.8v0.8h-0.8zM343.7 346.9h0.8v0.8h-0.8zM342.4 325.9h0.8v0.8h-0.8zM345.6 330.5h0.8v0.8h-0.8zM356.1 338.3h0.8v0.8h-0.8z"/><path fill="#6f8fd0" d="M351.1 324.4h0.8v0.8h-0.8zM350.7 332.5h0.8v0.8h-0.8zM337.9 340.8h0.8v0.8h-0.8zM344.9 338.3h0.8v0.8h-0.8zM342.2 327.4h0.8v0.8h-0.8zM343.2 339.6h0.8v0.8h-0.8zM351.3 334.8h0.8v0.8h-0.8zM340.4 329.6h0.8v0.8h-0.8zM355.5 343.5h0.8v0.8h-0.8zM354.7 340.7h0.8v0.8h-0.8zM344.8 346.2h0.8v0.8h-0.8zM355.6 345.4h0.8v0.8h-0.8zM338.1 328.5h0.8v0.8h-0.8zM353.5 329.0h0.8v0.8h-0.8zM357.1 337.0h0.8v0.8h-0.8zM349.7 349.8h0.8v0.8h-0.8zM358.1 329.8h0.8v0.8h-0.8zM351.4 339.9h0.8v0.8h-0.8zM349.1 327.9h0.8v0.8h-0.8zM351.7 336.5h0.8v0.8h-0.8zM355.1 325.5h0.8v0.8h-0.8zM352.4 341.8h0.8v0.8h-0.8zM343.7 337.0h0.8v0.8h-0.8zM338.2 323.9h0.8v0.8h-0.8zM350.1 325.1h0.8v0.8h-0.8zM336.8 342.4h0.8v0.8h-0.8zM338.3 325.0h0.8v0.8h-0.8zM345.2 342.8h0.8v0.8h-0.8zM345.3 346.7h0.8v0.8h-0.8zM345.1 341.9h0.8v0.8h-0.8zM339.1 325.4h0.8v0.8h-0.8zM345.7 326.9h0.8v0.8h-0.8zM357.3 322.9h0.8v0.8h-0.8zM347.5 342.2h0.8v0.8h-0.8zM347.5 347.2h0.8v0.8h-0.8zM341.6 341.0h0.8v0.8h-0.8zM346.0 340.9h0.8v0.8h-0.8zM352.5 326.9h0.8v0.8h-0.8zM341.8 348.8h0.8v0.8h-0.8zM357.6 323.7h0.8v0.8h-0.8zM340.7 336.7h0.8v0.8h-0.8zM353.3 338.5h0.8v0.8h-0.8zM349.1 330.4h0.8v0.8h-0.8zM352.7 344.2h0.8v0.8h-0.8zM353.7 327.9h0.8v0.8h-0.8zM357.8 336.8h0.8v0.8h-0.8zM355.1 325.2h0.8v0.8h-0.8zM356.6 335.4h0.8v0.8h-0.8zM349.4 325.4h0.8v0.8h-0.8zM338.1 326.8h0.8v0.8h-0.8zM341.4 339.7h0.8v0.8h-0.8zM343.9 346.4h0.8v0.8h-0.8zM341.6 329.0h0.8v0.8h-0.8zM339.7 351.3h0.8v0.8h-0.8zM344.1 326.6h0.8v0.8h-0.8zM349.7 327.3h0.8v0.8h-0.8zM349.6 342.0h0.8v0.8h-0.8zM342.4 326.3h0.8v0.8h-0.8zM345.7 340.9h0.8v0.8h-0.8zM336.6 334.2h0.8v0.8h-0.8zM346.7 334.9h0.8v0.8h-0.8zM347.7 344.8h0.8v0.8h-0.8zM355.0 325.4h0.8v0.8h-0.8zM344.5 327.8h0.8v0.8h-0.8zM344.6 331.7h0.8v0.8h-0.8zM355.8 337.8h0.8v0.8h-0.8zM337.3 327.8h0.8v0.8h-0.8zM343.5 332.7h0.8v0.8h-0.8zM340.6 333.7h0.8v0.8h-0.8zM353.2 338.9h0.8v0.8h-0.8zM353.0 325.7h0.8v0.8h-0.8zM352.4 343.6h0.8v0.8h-0.8zM338.1 325.1h0.8v0.8h-0.8zM352.9 337.4h0.8v0.8h-0.8zM356.0 326.2h0.8v0.8h-0.8zM354.6 340.0h0.8v0.8h-0.8zM338.9 325.3h0.8v0.8h-0.8zM345.4 327.4h0.8v0.8h-0.8zM342.3 330.1h0.8v0.8h-0.8zM353.4 322.9h0.8v0.8h-0.8zM353.6 331.7h0.8v0.8h-0.8zM357.9 345.2h0.8v0.8h-0.8zM352.3 331.1h0.8v0.8h-0.8zM339.9 329.5h0.8v0.8h-0.8zM344.9 329.3h0.8v0.8h-0.8zM342.5 322.6h0.8v0.8h-0.8zM345.0 335.5h0.8v0.8h-0.8zM340.5 323.3h0.8v0.8h-0.8zM349.3 332.2h0.8v0.8h-0.8zM357.8 328.7h0.8v0.8h-0.8zM352.4 334.9h0.8v0.8h-0.8zM340.0 328.6h0.8v0.8h-0.8zM340.7 323.9h0.8v0.8h-0.8zM349.1 350.1h0.8v0.8h-0.8zM351.3 331.1h0.8v0.8h-0.8zM351.0 330.6h0.8v0.8h-0.8zM338.1 342.1h0.8v0.8h-0.8zM337.9 340.7h0.8v0.8h-0.8zM351.4 333.5h0.8v0.8h-0.8zM351.2 343.9h0.8v0.8h-0.8zM343.0 344.8h0.8v0.8h-0.8zM350.3 345.6h0.8v0.8h-0.8zM339.3 328.8h0.8v0.8h-0.8zM356.1 326.0h0.8v0.8h-0.8zM348.9 347.6h0.8v0.8h-0.8zM340.9 327.1h0.8v0.8h-0.8zM341.0 331.3h0.8v0.8h-0.8zM336.9 333.7h0.8v0.8h-0.8zM348.4 330.4h0.8v0.8h-0.8zM356.5 324.0h0.8v0.8h-0.8zM343.2 331.5h0.8v0.8h-0.8zM355.7 324.8h0.8v0.8h-0.8zM353.0 334.8h0.8v0.8h-0.8zM358.1 323.4h0.8v0.8h-0.8zM351.9 340.3h0.8v0.8h-0.8zM345.6 326.2h0.8v0.8h-0.8zM349.6 345.8h0.8v0.8h-0.8zM351.6 323.7h0.8v0.8h-0.8zM338.8 334.2h0.8v0.8h-0.8z"/><path fill="#3a5ab0" d="M340.0 336.3h0.8v0.8h-0.8zM343.5 324.0h0.8v0.8h-0.8zM348.6 345.3h0.8v0.8h-0.8zM352.2 341.4h0.8v0.8h-0.8zM340.1 349.7h0.8v0.8h-0.8zM339.6 335.7h0.8v0.8h-0.8zM345.9 342.2h0.8v0.8h-0.8zM340.5 349.3h0.8v0.8h-0.8zM350.8 324.8h0.8v0.8h-0.8zM345.3 334.0h0.8v0.8h-0.8zM357.2 345.1h0.8v0.8h-0.8zM343.8 331.2h0.8v0.8h-0.8zM337.5 335.4h0.8v0.8h-0.8zM346.4 335.6h0.8v0.8h-0.8zM343.9 339.8h0.8v0.8h-0.8zM354.8 325.9h0.8v0.8h-0.8zM349.1 332.4h0.8v0.8h-0.8zM352.6 338.1h0.8v0.8h-0.8zM343.6 342.0h0.8v0.8h-0.8zM338.6 349.0h0.8v0.8h-0.8zM352.0 332.1h0.8v0.8h-0.8zM341.9 336.1h0.8v0.8h-0.8zM350.7 322.7h0.8v0.8h-0.8zM345.1 339.0h0.8v0.8h-0.8zM338.5 327.0h0.8v0.8h-0.8zM349.8 339.0h0.8v0.8h-0.8zM354.9 333.8h0.8v0.8h-0.8zM344.1 340.0h0.8v0.8h-0.8zM352.6 342.1h0.8v0.8h-0.8zM338.0 322.9h0.8v0.8h-0.8zM341.5 342.1h0.8v0.8h-0.8zM357.3 337.6h0.8v0.8h-0.8zM338.5 325.2h0.8v0.8h-0.8zM347.7 346.4h0.8v0.8h-0.8zM337.6 323.6h0.8v0.8h-0.8zM353.8 329.6h0.8v0.8h-0.8zM348.2 334.0h0.8v0.8h-0.8zM356.7 334.8h0.8v0.8h-0.8zM343.7 327.2h0.8v0.8h-0.8zM351.4 335.4h0.8v0.8h-0.8zM342.8 328.5h0.8v0.8h-0.8zM346.7 322.7h0.8v0.8h-0.8zM348.0 330.3h0.8v0.8h-0.8zM343.9 327.1h0.8v0.8h-0.8zM353.1 329.9h0.8v0.8h-0.8zM351.4 334.7h0.8v0.8h-0.8zM351.6 325.3h0.8v0.8h-0.8zM357.6 350.5h0.8v0.8h-0.8zM344.4 328.4h0.8v0.8h-0.8zM343.0 325.3h0.8v0.8h-0.8zM357.5 343.2h0.8v0.8h-0.8zM343.3 347.1h0.8v0.8h-0.8zM357.6 325.5h0.8v0.8h-0.8zM347.9 327.7h0.8v0.8h-0.8zM352.4 343.9h0.8v0.8h-0.8zM343.7 336.2h0.8v0.8h-0.8zM355.6 324.8h0.8v0.8h-0.8zM347.7 334.8h0.8v0.8h-0.8zM350.3 331.2h0.8v0.8h-0.8zM351.2 337.2h0.8v0.8h-0.8zM353.9 332.5h0.8v0.8h-0.8zM344.6 329.8h0.8v0.8h-0.8zM353.5 338.6h0.8v0.8h-0.8zM339.8 325.0h0.8v0.8h-0.8zM342.5 343.7h0.8v0.8h-0.8zM349.7 326.5h0.8v0.8h-0.8zM354.3 342.4h0.8v0.8h-0.8zM339.0 344.4h0.8v0.8h-0.8zM341.5 342.4h0.8v0.8h-0.8zM341.7 331.2h0.8v0.8h-0.8zM352.6 322.6h0.8v0.8h-0.8zM343.2 336.3h0.8v0.8h-0.8zM355.1 324.7h0.8v0.8h-0.8zM341.0 333.2h0.8v0.8h-0.8zM350.5 328.9h0.8v0.8h-0.8zM340.6 334.7h0.8v0.8h-0.8zM357.6 342.6h0.8v0.8h-0.8zM353.0 326.2h0.8v0.8h-0.8zM351.2 331.6h0.8v0.8h-0.8zM346.5 335.3h0.8v0.8h-0.8zM345.0 327.6h0.8v0.8h-0.8zM338.9 326.7h0.8v0.8h-0.8zM357.7 326.5h0.8v0.8h-0.8zM337.1 328.9h0.8v0.8h-0.8zM347.5 350.9h0.8v0.8h-0.8zM337.9 347.6h0.8v0.8h-0.8zM354.6 327.4h0.8v0.8h-0.8zM336.6 337.8h0.8v0.8h-0.8zM338.2 337.4h0.8v0.8h-0.8zM346.4 348.3h0.8v0.8h-0.8zM338.0 345.1h0.8v0.8h-0.8zM346.7 331.1h0.8v0.8h-0.8zM339.4 341.2h0.8v0.8h-0.8zM355.9 345.7h0.8v0.8h-0.8zM357.4 346.0h0.8v0.8h-0.8zM340.3 332.9h0.8v0.8h-0.8zM353.4 322.7h0.8v0.8h-0.8zM343.2 342.6h0.8v0.8h-0.8zM352.1 343.7h0.8v0.8h-0.8zM353.4 326.6h0.8v0.8h-0.8zM344.6 348.8h0.8v0.8h-0.8zM348.4 351.2h0.8v0.8h-0.8zM343.7 335.8h0.8v0.8h-0.8zM351.0 325.5h0.8v0.8h-0.8zM350.5 325.1h0.8v0.8h-0.8zM349.4 325.9h0.8v0.8h-0.8zM344.8 335.3h0.8v0.8h-0.8zM345.7 334.3h0.8v0.8h-0.8zM344.6 343.0h0.8v0.8h-0.8zM353.8 341.2h0.8v0.8h-0.8zM349.8 337.2h0.8v0.8h-0.8zM351.9 339.6h0.8v0.8h-0.8zM350.6 349.2h0.8v0.8h-0.8zM351.9 324.1h0.8v0.8h-0.8zM336.7 328.5h0.8v0.8h-0.8z"/><path fill="#5a7ac0" d="M353.8 324.2h0.8v0.8h-0.8zM346.9 325.3h0.8v0.8h-0.8zM357.8 326.5h0.8v0.8h-0.8zM357.6 347.3h0.8v0.8h-0.8zM349.4 335.7h0.8v0.8h-0.8zM348.8 324.2h0.8v0.8h-0.8zM356.2 322.6h0.8v0.8h-0.8zM341.1 346.7h0.8v0.8h-0.8zM353.2 337.7h0.8v0.8h-0.8zM339.8 333.2h0.8v0.8h-0.8zM342.1 323.2h0.8v0.8h-0.8zM351.3 333.4h0.8v0.8h-0.8zM340.2 341.1h0.8v0.8h-0.8zM345.0 333.5h0.8v0.8h-0.8zM347.3 336.9h0.8v0.8h-0.8zM349.6 351.3h0.8v0.8h-0.8zM352.6 351.1h0.8v0.8h-0.8zM353.8 329.8h0.8v0.8h-0.8zM348.3 341.9h0.8v0.8h-0.8zM348.3 346.0h0.8v0.8h-0.8zM357.4 339.6h0.8v0.8h-0.8zM348.0 329.2h0.8v0.8h-0.8zM353.3 331.8h0.8v0.8h-0.8zM357.2 332.0h0.8v0.8h-0.8zM346.8 335.7h0.8v0.8h-0.8zM340.3 349.7h0.8v0.8h-0.8zM353.7 323.3h0.8v0.8h-0.8zM348.7 328.3h0.8v0.8h-0.8zM343.2 346.9h0.8v0.8h-0.8zM356.1 336.9h0.8v0.8h-0.8zM348.2 333.8h0.8v0.8h-0.8zM341.0 325.7h0.8v0.8h-0.8zM350.9 346.0h0.8v0.8h-0.8zM339.4 323.9h0.8v0.8h-0.8zM337.5 326.5h0.8v0.8h-0.8zM345.7 332.9h0.8v0.8h-0.8zM351.2 327.7h0.8v0.8h-0.8zM341.5 331.8h0.8v0.8h-0.8zM355.2 338.1h0.8v0.8h-0.8zM346.9 338.5h0.8v0.8h-0.8zM350.2 326.6h0.8v0.8h-0.8zM353.6 325.7h0.8v0.8h-0.8zM339.9 326.4h0.8v0.8h-0.8zM348.8 325.6h0.8v0.8h-0.8zM352.7 335.6h0.8v0.8h-0.8zM346.7 334.7h0.8v0.8h-0.8zM343.2 339.8h0.8v0.8h-0.8zM349.9 334.6h0.8v0.8h-0.8zM342.7 338.7h0.8v0.8h-0.8zM350.6 338.6h0.8v0.8h-0.8zM337.6 336.3h0.8v0.8h-0.8zM354.7 330.9h0.8v0.8h-0.8zM341.0 332.0h0.8v0.8h-0.8zM339.4 333.3h0.8v0.8h-0.8zM340.5 337.9h0.8v0.8h-0.8zM348.1 329.9h0.8v0.8h-0.8zM341.9 333.9h0.8v0.8h-0.8zM347.9 332.0h0.8v0.8h-0.8zM354.6 328.5h0.8v0.8h-0.8zM344.9 348.1h0.8v0.8h-0.8zM357.9 343.4h0.8v0.8h-0.8zM351.0 337.4h0.8v0.8h-0.8zM356.4 324.8h0.8v0.8h-0.8zM338.9 348.4h0.8v0.8h-0.8zM350.7 333.1h0.8v0.8h-0.8zM353.9 324.4h0.8v0.8h-0.8zM352.3 335.2h0.8v0.8h-0.8zM344.1 344.7h0.8v0.8h-0.8zM351.6 335.7h0.8v0.8h-0.8zM355.7 334.5h0.8v0.8h-0.8zM346.8 330.8h0.8v0.8h-0.8zM337.2 345.1h0.8v0.8h-0.8zM347.2 330.1h0.8v0.8h-0.8zM346.1 322.7h0.8v0.8h-0.8zM348.1 339.4h0.8v0.8h-0.8zM350.8 323.2h0.8v0.8h-0.8zM343.5 324.2h0.8v0.8h-0.8zM352.4 349.4h0.8v0.8h-0.8zM349.4 331.4h0.8v0.8h-0.8zM353.3 331.6h0.8v0.8h-0.8zM352.1 325.7h0.8v0.8h-0.8zM339.0 327.3h0.8v0.8h-0.8zM355.2 345.5h0.8v0.8h-0.8zM350.9 324.2h0.8v0.8h-0.8zM343.5 323.2h0.8v0.8h-0.8zM349.5 331.6h0.8v0.8h-0.8zM358.2 347.2h0.8v0.8h-0.8zM353.2 344.6h0.8v0.8h-0.8zM353.4 344.6h0.8v0.8h-0.8zM348.9 329.6h0.8v0.8h-0.8zM348.9 350.4h0.8v0.8h-0.8zM351.3 337.9h0.8v0.8h-0.8zM337.8 340.2h0.8v0.8h-0.8zM352.0 326.5h0.8v0.8h-0.8zM340.5 332.8h0.8v0.8h-0.8zM351.1 338.8h0.8v0.8h-0.8zM338.1 325.1h0.8v0.8h-0.8zM347.6 323.1h0.8v0.8h-0.8zM353.2 336.3h0.8v0.8h-0.8zM354.4 331.7h0.8v0.8h-0.8zM352.4 334.4h0.8v0.8h-0.8zM353.5 347.7h0.8v0.8h-0.8zM352.6 331.0h0.8v0.8h-0.8zM347.5 351.0h0.8v0.8h-0.8zM351.9 342.0h0.8v0.8h-0.8zM353.0 346.4h0.8v0.8h-0.8zM352.9 326.6h0.8v0.8h-0.8zM352.4 338.6h0.8v0.8h-0.8zM355.7 332.9h0.8v0.8h-0.8zM342.5 325.0h0.8v0.8h-0.8zM343.6 338.7h0.8v0.8h-0.8zM340.9 351.3h0.8v0.8h-0.8zM352.6 339.1h0.8v0.8h-0.8zM338.5 325.6h0.8v0.8h-0.8zM344.3 351.2h0.8v0.8h-0.8zM353.5 341.8h0.8v0.8h-0.8zM341.3 335.7h0.8v0.8h-0.8zM350.8 328.0h0.8v0.8h-0.8zM357.2 340.7h0.8v0.8h-0.8zM338.0 331.5h0.8v0.8h-0.8z"/></g>
<g filter="url(#bl1)"><ellipse cx="348.00" cy="333.50" rx="8" ry="7.5" fill="#3a7ac0" fill-opacity="0.9"/><ellipse cx="348.00" cy="333.50" rx="6.2" ry="5.2" fill="#2a98b0" fill-opacity="1"/><ellipse cx="348.00" cy="333.50" rx="4.4" ry="3.4" fill="#30b088" fill-opacity="1"/><ellipse cx="348.00" cy="333.50" rx="3.0" ry="2.2" fill="#3cbc5c" fill-opacity="1"/></g>
<g filter="url(#bl1)"><ellipse cx="354.00" cy="327.00" rx="4.4" ry="3.0" fill="#2f8fb8" fill-opacity="0.85"/><ellipse cx="354.00" cy="327.00" rx="2.6" ry="1.6" fill="#30b0a0" fill-opacity="0.9"/></g>
<g filter="url(#bl05)"><path d="M338.2,362.6 C338.2,357 342,354.2 347.5,354.2 C353,354.2 357,357 357,362.6 Z" fill="#3a5ac0"/><path d="M339.6,362.6 C339.6,358 343,355.4 347.5,355.4 C352,355.4 355.6,358 355.6,362.6 Z" fill="#2aa8c0"/><path d="M341.2,362.6 C341.2,359 344,357 347.4,357 C351,357 354,359 354,362.6 Z" fill="#50bc48"/><path d="M343.0,362.6 C343.0,360 345,358.6 347.3,358.6 C349.6,358.6 351.8,360 351.8,362.6 Z" fill="#d8cc2a"/><ellipse cx="347.2" cy="361.4" rx="2.4" ry="1.4" fill="#f08020"/><ellipse cx="347.2" cy="361.8" rx="1.2" ry="0.8" fill="#e04020"/></g>
<g filter="url(#bl1)"><ellipse cx="368.50" cy="359.50" rx="2.2" ry="1.6" fill="#3a7ab8" fill-opacity="0.9"/><ellipse cx="368.50" cy="359.50" rx="1.2" ry="0.9" fill="#2aa0b0" fill-opacity="1"/></g>
</g>
<rect x="336.2" y="322.3" width="22.400000000000034" height="30.0" fill="none" stroke="#a5223f" stroke-width="0.9"/>
<rect x="362.7" y="356.4" width="21.0" height="9.0" fill="none" stroke="#a5223f" stroke-width="0.9"/>
<text x="339.4" y="330.1" font-size="5.2" fill="#c0415e">M</text>
<text x="360.4" y="330.1" font-size="5.2" fill="#c0415e">43.4%</text>
<text x="346.3" y="371.1" font-size="5.2" fill="#c0415e">RBC</text>
<text x="367.1" y="371.1" font-size="5.2" fill="#c0415e">1.4%</text>
<text x="332.1" y="330.1" font-size="5.5" fill="#333" text-anchor="end">10<tspan font-size="3.8" dy="-2.30">5</tspan></text>
<text x="332.1" y="341.5" font-size="5.5" fill="#333" text-anchor="end">10<tspan font-size="3.8" dy="-2.30">4</tspan></text>
<text x="332.1" y="355.3" font-size="5.5" fill="#333" text-anchor="end">10<tspan font-size="3.8" dy="-2.30">3</tspan></text>
<text x="332.1" y="363.3" font-size="5.5" fill="#333" text-anchor="end">0</text>
<text x="332.1" y="371.8" font-size="5.5" fill="#333" text-anchor="end">−10<tspan font-size="3.8" dy="-2.30">3</tspan></text>
<line x1="334.9" y1="328.1" x2="336.5" y2="328.1" stroke="#666" stroke-width="0.55"/>
<line x1="334.9" y1="339.5" x2="336.5" y2="339.5" stroke="#666" stroke-width="0.55"/>
<line x1="334.9" y1="353.3" x2="336.5" y2="353.3" stroke="#666" stroke-width="0.55"/>
<line x1="334.9" y1="361.3" x2="336.5" y2="361.3" stroke="#666" stroke-width="0.55"/>
<line x1="334.9" y1="369.8" x2="336.5" y2="369.8" stroke="#666" stroke-width="0.55"/>
<line x1="339.2" y1="372.2" x2="339.2" y2="373.8" stroke="#666" stroke-width="0.55"/>
<line x1="347.3" y1="372.2" x2="347.3" y2="373.8" stroke="#666" stroke-width="0.55"/>
<line x1="353.7" y1="372.2" x2="353.7" y2="373.8" stroke="#666" stroke-width="0.55"/>
<line x1="369.1" y1="372.2" x2="369.1" y2="373.8" stroke="#666" stroke-width="0.55"/>
<line x1="380.2" y1="372.2" x2="380.2" y2="373.8" stroke="#666" stroke-width="0.55"/>
<text x="339.2" y="381.6" font-size="5.5" fill="#333" text-anchor="middle">−10<tspan font-size="3.8" dy="-2.30">3</tspan></text>
<text x="347.3" y="381.6" font-size="5.5" fill="#333" text-anchor="middle">0</text>
<text x="353.7" y="381.6" font-size="5.5" fill="#333" text-anchor="middle">10<tspan font-size="3.8" dy="-2.30">3</tspan></text>
<text x="369.1" y="381.6" font-size="5.5" fill="#333" text-anchor="middle">10<tspan font-size="3.8" dy="-2.30">4</tspan></text>
<text x="380.2" y="381.6" font-size="5.5" fill="#333" text-anchor="middle">10<tspan font-size="3.8" dy="-2.30">5</tspan></text>
<rect x="335.5" y="391.7" width="48.19999999999999" height="49.5" fill="none" stroke="#c8c8c8" stroke-width="0.55"/>
<g clip-path="url(#c14)">
<g fill-opacity="0.85"><path fill="#9a8ad0" d="M341.5 424.3h0.8v0.8h-0.8zM345.9 424.5h0.8v0.8h-0.8zM343.0 424.0h0.8v0.8h-0.8zM347.4 420.1h0.8v0.8h-0.8zM351.5 427.8h0.8v0.8h-0.8zM342.6 426.1h0.8v0.8h-0.8zM350.6 427.3h0.8v0.8h-0.8zM347.3 430.1h0.8v0.8h-0.8zM349.3 430.4h0.8v0.8h-0.8zM347.8 426.7h0.8v0.8h-0.8zM347.9 427.3h0.8v0.8h-0.8zM348.4 419.9h0.8v0.8h-0.8zM346.0 427.0h0.8v0.8h-0.8zM344.2 424.4h0.8v0.8h-0.8zM342.9 423.9h0.8v0.8h-0.8zM345.8 420.4h0.8v0.8h-0.8zM348.9 423.3h0.8v0.8h-0.8zM346.1 425.6h0.8v0.8h-0.8zM345.6 425.6h0.8v0.8h-0.8zM347.8 426.2h0.8v0.8h-0.8zM347.5 424.9h0.8v0.8h-0.8zM351.0 426.8h0.8v0.8h-0.8zM346.6 430.5h0.8v0.8h-0.8zM351.5 428.5h0.8v0.8h-0.8zM344.9 426.5h0.8v0.8h-0.8zM348.9 425.1h0.8v0.8h-0.8zM345.0 424.9h0.8v0.8h-0.8zM347.8 423.3h0.8v0.8h-0.8zM350.4 422.2h0.8v0.8h-0.8zM347.0 430.3h0.8v0.8h-0.8zM345.9 425.7h0.8v0.8h-0.8zM349.7 429.0h0.8v0.8h-0.8zM344.5 420.5h0.8v0.8h-0.8zM348.0 421.7h0.8v0.8h-0.8z"/><path fill="#6a5ab8" d="M349.8 425.1h0.8v0.8h-0.8zM347.1 429.6h0.8v0.8h-0.8zM344.0 428.1h0.8v0.8h-0.8zM346.0 423.3h0.8v0.8h-0.8zM348.0 430.1h0.8v0.8h-0.8zM345.5 428.0h0.8v0.8h-0.8zM346.4 425.9h0.8v0.8h-0.8zM346.3 427.0h0.8v0.8h-0.8zM346.5 424.0h0.8v0.8h-0.8zM341.7 431.7h0.8v0.8h-0.8zM349.5 422.8h0.8v0.8h-0.8zM348.3 435.4h0.8v0.8h-0.8zM347.2 429.4h0.8v0.8h-0.8zM347.2 428.5h0.8v0.8h-0.8zM345.9 419.3h0.8v0.8h-0.8zM345.8 428.6h0.8v0.8h-0.8zM351.3 420.5h0.8v0.8h-0.8zM347.3 423.2h0.8v0.8h-0.8zM346.3 428.5h0.8v0.8h-0.8zM349.7 422.6h0.8v0.8h-0.8zM345.2 420.2h0.8v0.8h-0.8zM344.9 425.4h0.8v0.8h-0.8zM349.2 421.5h0.8v0.8h-0.8zM345.3 423.5h0.8v0.8h-0.8zM343.4 426.0h0.8v0.8h-0.8zM351.5 423.1h0.8v0.8h-0.8zM347.0 425.8h0.8v0.8h-0.8zM347.9 426.9h0.8v0.8h-0.8zM352.8 425.9h0.8v0.8h-0.8zM346.2 423.9h0.8v0.8h-0.8zM347.8 429.7h0.8v0.8h-0.8zM344.9 427.2h0.8v0.8h-0.8zM348.9 429.2h0.8v0.8h-0.8zM349.4 424.4h0.8v0.8h-0.8zM345.8 427.4h0.8v0.8h-0.8zM345.9 426.1h0.8v0.8h-0.8z"/><path fill="#8a7ac8" d="M346.4 427.8h0.8v0.8h-0.8zM346.7 422.7h0.8v0.8h-0.8zM348.8 428.0h0.8v0.8h-0.8zM349.7 423.9h0.8v0.8h-0.8zM348.5 435.5h0.8v0.8h-0.8zM348.7 425.2h0.8v0.8h-0.8zM347.8 429.1h0.8v0.8h-0.8zM350.5 429.9h0.8v0.8h-0.8zM349.0 425.3h0.8v0.8h-0.8zM349.7 426.2h0.8v0.8h-0.8zM350.4 424.3h0.8v0.8h-0.8zM349.0 427.5h0.8v0.8h-0.8zM347.1 426.2h0.8v0.8h-0.8zM344.4 426.3h0.8v0.8h-0.8zM346.1 424.3h0.8v0.8h-0.8zM344.9 420.5h0.8v0.8h-0.8zM345.2 424.5h0.8v0.8h-0.8zM351.4 427.7h0.8v0.8h-0.8zM343.6 428.0h0.8v0.8h-0.8zM347.4 425.9h0.8v0.8h-0.8zM348.3 422.9h0.8v0.8h-0.8zM344.7 422.2h0.8v0.8h-0.8zM346.7 430.4h0.8v0.8h-0.8zM346.7 425.9h0.8v0.8h-0.8zM346.2 425.5h0.8v0.8h-0.8zM341.0 427.7h0.8v0.8h-0.8zM349.2 422.5h0.8v0.8h-0.8zM345.1 423.6h0.8v0.8h-0.8zM346.5 421.6h0.8v0.8h-0.8zM348.1 434.1h0.8v0.8h-0.8zM343.0 428.9h0.8v0.8h-0.8zM344.2 424.3h0.8v0.8h-0.8zM346.2 426.1h0.8v0.8h-0.8zM349.3 425.7h0.8v0.8h-0.8zM350.4 430.8h0.8v0.8h-0.8z"/><path fill="#5a4aa8" d="M345.8 422.0h0.8v0.8h-0.8zM351.9 418.0h0.8v0.8h-0.8zM347.9 430.5h0.8v0.8h-0.8zM348.8 426.5h0.8v0.8h-0.8zM345.7 427.9h0.8v0.8h-0.8zM346.9 428.0h0.8v0.8h-0.8zM353.9 430.7h0.8v0.8h-0.8zM341.9 423.4h0.8v0.8h-0.8zM345.7 421.3h0.8v0.8h-0.8zM349.2 431.4h0.8v0.8h-0.8zM347.0 422.9h0.8v0.8h-0.8zM349.5 430.5h0.8v0.8h-0.8zM349.4 421.7h0.8v0.8h-0.8zM342.9 416.7h0.8v0.8h-0.8zM343.9 422.9h0.8v0.8h-0.8zM350.0 428.4h0.8v0.8h-0.8zM345.9 429.2h0.8v0.8h-0.8zM347.9 421.4h0.8v0.8h-0.8zM348.5 427.1h0.8v0.8h-0.8zM348.6 427.1h0.8v0.8h-0.8zM343.8 428.1h0.8v0.8h-0.8zM349.2 424.5h0.8v0.8h-0.8zM350.6 425.8h0.8v0.8h-0.8zM345.0 426.1h0.8v0.8h-0.8zM347.4 421.7h0.8v0.8h-0.8z"/></g>
<g fill-opacity="0.85"><path fill="#8fa6d2" d="M370.6 407.8h0.8v0.8h-0.8zM373.6 410.1h0.8v0.8h-0.8zM370.4 399.2h0.8v0.8h-0.8zM372.5 419.2h0.8v0.8h-0.8zM376.9 407.1h0.8v0.8h-0.8zM372.9 405.1h0.8v0.8h-0.8zM372.8 413.5h0.8v0.8h-0.8zM374.7 409.6h0.8v0.8h-0.8zM372.0 417.6h0.8v0.8h-0.8zM370.6 407.8h0.8v0.8h-0.8zM372.1 406.9h0.8v0.8h-0.8zM375.3 413.4h0.8v0.8h-0.8zM369.5 413.0h0.8v0.8h-0.8zM371.1 411.7h0.8v0.8h-0.8zM373.4 412.2h0.8v0.8h-0.8zM370.7 409.8h0.8v0.8h-0.8zM373.9 405.9h0.8v0.8h-0.8zM371.9 406.9h0.8v0.8h-0.8zM375.1 417.4h0.8v0.8h-0.8zM371.9 416.3h0.8v0.8h-0.8z"/><path fill="#7d97c9" d="M374.9 410.1h0.8v0.8h-0.8zM373.5 415.6h0.8v0.8h-0.8zM370.7 403.5h0.8v0.8h-0.8zM371.9 400.2h0.8v0.8h-0.8zM374.2 408.2h0.8v0.8h-0.8zM370.3 401.6h0.8v0.8h-0.8zM367.4 415.7h0.8v0.8h-0.8zM373.4 407.3h0.8v0.8h-0.8zM374.6 409.5h0.8v0.8h-0.8zM369.2 418.2h0.8v0.8h-0.8zM371.5 417.1h0.8v0.8h-0.8zM374.0 409.4h0.8v0.8h-0.8zM371.1 407.5h0.8v0.8h-0.8zM372.6 410.1h0.8v0.8h-0.8zM371.6 397.3h0.8v0.8h-0.8zM375.9 410.0h0.8v0.8h-0.8zM373.4 402.7h0.8v0.8h-0.8zM373.1 415.2h0.8v0.8h-0.8zM374.1 411.1h0.8v0.8h-0.8zM375.0 403.4h0.8v0.8h-0.8zM371.3 401.6h0.8v0.8h-0.8z"/><path fill="#a7b7da" d="M372.5 402.4h0.8v0.8h-0.8zM374.0 407.5h0.8v0.8h-0.8zM373.6 403.2h0.8v0.8h-0.8zM372.0 411.5h0.8v0.8h-0.8zM374.7 405.9h0.8v0.8h-0.8zM372.6 400.1h0.8v0.8h-0.8zM373.2 418.6h0.8v0.8h-0.8zM368.1 410.7h0.8v0.8h-0.8zM370.4 407.2h0.8v0.8h-0.8zM371.9 403.2h0.8v0.8h-0.8zM373.1 409.6h0.8v0.8h-0.8zM373.1 409.5h0.8v0.8h-0.8zM372.0 403.0h0.8v0.8h-0.8zM374.3 413.7h0.8v0.8h-0.8zM370.9 409.6h0.8v0.8h-0.8zM369.8 422.3h0.8v0.8h-0.8zM375.1 395.8h0.8v0.8h-0.8zM376.7 404.1h0.8v0.8h-0.8zM375.6 397.4h0.8v0.8h-0.8z"/></g>
<g filter="url(#bl05)"><path d="M-8.2,-1.5 C-8.2,-9 8.2,-10 8.2,-2 C8.2,5 4,13 -2.2,19 C-6,13 -8.2,6 -8.2,-1.5 Z" fill="#3a24a8" transform="translate(349.2,401.8) scale(1.0)"/><path d="M-8.2,-1.5 C-8.2,-9 8.2,-10 8.2,-2 C8.2,5 4,13 -2.2,19 C-6,13 -8.2,6 -8.2,-1.5 Z" fill="#2a48c0" transform="translate(349.2,401.8) scale(0.85)"/><path d="M-8.2,-1.5 C-8.2,-9 8.2,-10 8.2,-2 C8.2,5 4,13 -2.2,19 C-6,13 -8.2,6 -8.2,-1.5 Z" fill="#2a8ad0" transform="translate(349.2,401.8) scale(0.68)"/><path d="M-8.2,-1.5 C-8.2,-9 8.2,-10 8.2,-2 C8.2,5 4,13 -2.2,19 C-6,13 -8.2,6 -8.2,-1.5 Z" fill="#2ab0a8" transform="translate(349.2,401.8) scale(0.52)"/><path d="M-8.2,-1.5 C-8.2,-9 8.2,-10 8.2,-2 C8.2,5 4,13 -2.2,19 C-6,13 -8.2,6 -8.2,-1.5 Z" fill="#48bc50" transform="translate(349.2,401.8) scale(0.38)"/><path d="M-8.2,-1.5 C-8.2,-9 8.2,-10 8.2,-2 C8.2,5 4,13 -2.2,19 C-6,13 -8.2,6 -8.2,-1.5 Z" fill="#c8c82a" transform="translate(349.2,401.8) scale(0.26)"/><path d="M-8.2,-1.5 C-8.2,-9 8.2,-10 8.2,-2 C8.2,5 4,13 -2.2,19 C-6,13 -8.2,6 -8.2,-1.5 Z" fill="#f07020" transform="translate(349.2,401.8) scale(0.15)"/></g>
<g filter="url(#bl1)"><ellipse cx="346.30" cy="429.00" rx="2.6" ry="1.4" fill="#4a3aa8" fill-opacity="0.8"/></g>
</g>
<rect x="335.5" y="392.0" width="22.19999999999999" height="30.30000000000001" fill="none" stroke="#a5223f" stroke-width="0.9"/>
<rect x="362.4" y="426.1" width="20.200000000000045" height="9.0" fill="none" stroke="#a5223f" stroke-width="0.9"/>
<text x="359.7" y="399.4" font-size="5.2" fill="#c0415e">98.8%</text>
<text x="370.5" y="441.2" font-size="5.2" fill="#c0415e">0%</text>
<text x="332.1" y="399.8" font-size="5.5" fill="#333" text-anchor="end">10<tspan font-size="3.8" dy="-2.30">5</tspan></text>
<text x="332.1" y="411.1" font-size="5.5" fill="#333" text-anchor="end">10<tspan font-size="3.8" dy="-2.30">4</tspan></text>
<text x="332.1" y="425.0" font-size="5.5" fill="#333" text-anchor="end">10<tspan font-size="3.8" dy="-2.30">3</tspan></text>
<text x="332.1" y="433.1" font-size="5.5" fill="#333" text-anchor="end">0</text>
<text x="332.1" y="441.2" font-size="5.5" fill="#333" text-anchor="end">−10<tspan font-size="3.8" dy="-2.30">3</tspan></text>
<line x1="334.2" y1="397.8" x2="335.8" y2="397.8" stroke="#666" stroke-width="0.55"/>
<line x1="334.2" y1="409.1" x2="335.8" y2="409.1" stroke="#666" stroke-width="0.55"/>
<line x1="334.2" y1="423.0" x2="335.8" y2="423.0" stroke="#666" stroke-width="0.55"/>
<line x1="334.2" y1="431.1" x2="335.8" y2="431.1" stroke="#666" stroke-width="0.55"/>
<line x1="334.2" y1="439.2" x2="335.8" y2="439.2" stroke="#666" stroke-width="0.55"/>
<line x1="339.2" y1="440.9" x2="339.2" y2="442.5" stroke="#666" stroke-width="0.55"/>
<line x1="347.3" y1="440.9" x2="347.3" y2="442.5" stroke="#666" stroke-width="0.55"/>
<line x1="353.7" y1="440.9" x2="353.7" y2="442.5" stroke="#666" stroke-width="0.55"/>
<line x1="369.1" y1="440.9" x2="369.1" y2="442.5" stroke="#666" stroke-width="0.55"/>
<line x1="380.2" y1="440.9" x2="380.2" y2="442.5" stroke="#666" stroke-width="0.55"/>
<text x="339.2" y="450.6" font-size="5.5" fill="#333" text-anchor="middle">−10<tspan font-size="3.8" dy="-2.30">3</tspan></text>
<text x="347.3" y="450.6" font-size="5.5" fill="#333" text-anchor="middle">0</text>
<text x="353.7" y="450.6" font-size="5.5" fill="#333" text-anchor="middle">10<tspan font-size="3.8" dy="-2.30">3</tspan></text>
<text x="369.1" y="450.6" font-size="5.5" fill="#333" text-anchor="middle">10<tspan font-size="3.8" dy="-2.30">4</tspan></text>
<text x="380.2" y="450.6" font-size="5.5" fill="#333" text-anchor="middle">10<tspan font-size="3.8" dy="-2.30">5</tspan></text>
<rect x="336.6" y="462.7" width="48.0" height="48.80000000000001" fill="none" stroke="#c8c8c8" stroke-width="0.55"/>
<g clip-path="url(#c15)">
<g fill-opacity="0.75"><path fill="#6a80b8" d="M353.5 489.4h0.8v0.8h-0.8zM356.2 477.7h0.8v0.8h-0.8zM359.3 472.1h0.8v0.8h-0.8zM356.2 479.6h0.8v0.8h-0.8zM354.9 467.8h0.8v0.8h-0.8zM354.4 476.0h0.8v0.8h-0.8zM353.2 475.2h0.8v0.8h-0.8zM355.6 473.2h0.8v0.8h-0.8zM356.9 478.7h0.8v0.8h-0.8zM356.0 478.0h0.8v0.8h-0.8zM352.5 474.1h0.8v0.8h-0.8zM353.3 481.6h0.8v0.8h-0.8zM358.9 478.2h0.8v0.8h-0.8zM358.4 495.1h0.8v0.8h-0.8zM354.8 474.2h0.8v0.8h-0.8zM353.6 475.0h0.8v0.8h-0.8zM354.2 482.6h0.8v0.8h-0.8zM356.5 479.7h0.8v0.8h-0.8zM357.4 493.1h0.8v0.8h-0.8zM356.2 478.3h0.8v0.8h-0.8zM352.7 484.7h0.8v0.8h-0.8zM356.9 470.9h0.8v0.8h-0.8zM350.8 474.2h0.8v0.8h-0.8zM356.4 475.3h0.8v0.8h-0.8zM355.8 471.3h0.8v0.8h-0.8zM353.4 478.7h0.8v0.8h-0.8zM352.8 491.2h0.8v0.8h-0.8zM353.0 478.3h0.8v0.8h-0.8zM355.7 488.4h0.8v0.8h-0.8zM355.9 480.1h0.8v0.8h-0.8zM357.5 478.4h0.8v0.8h-0.8zM356.4 491.5h0.8v0.8h-0.8zM355.2 482.4h0.8v0.8h-0.8zM356.7 464.3h0.8v0.8h-0.8zM356.9 490.3h0.8v0.8h-0.8zM355.7 483.9h0.8v0.8h-0.8zM357.7 487.1h0.8v0.8h-0.8zM358.2 483.9h0.8v0.8h-0.8zM356.1 477.8h0.8v0.8h-0.8zM355.9 482.1h0.8v0.8h-0.8zM352.1 476.2h0.8v0.8h-0.8zM354.8 487.1h0.8v0.8h-0.8zM354.9 482.7h0.8v0.8h-0.8zM355.0 478.2h0.8v0.8h-0.8z"/><path fill="#9a9ac8" d="M353.0 476.2h0.8v0.8h-0.8zM355.6 489.1h0.8v0.8h-0.8zM352.4 487.3h0.8v0.8h-0.8zM357.9 486.3h0.8v0.8h-0.8zM353.6 481.7h0.8v0.8h-0.8zM353.3 481.0h0.8v0.8h-0.8zM353.2 480.3h0.8v0.8h-0.8zM355.5 489.7h0.8v0.8h-0.8zM356.5 471.9h0.8v0.8h-0.8zM353.0 480.5h0.8v0.8h-0.8zM353.9 479.4h0.8v0.8h-0.8zM353.2 476.7h0.8v0.8h-0.8zM355.6 481.6h0.8v0.8h-0.8zM356.4 477.6h0.8v0.8h-0.8zM353.1 485.7h0.8v0.8h-0.8zM354.8 478.7h0.8v0.8h-0.8zM355.4 481.5h0.8v0.8h-0.8zM353.8 474.7h0.8v0.8h-0.8zM358.6 482.5h0.8v0.8h-0.8zM355.6 483.7h0.8v0.8h-0.8zM356.7 500.0h0.8v0.8h-0.8zM355.8 482.0h0.8v0.8h-0.8zM356.5 481.0h0.8v0.8h-0.8zM353.0 494.9h0.8v0.8h-0.8zM357.2 481.7h0.8v0.8h-0.8zM353.8 479.9h0.8v0.8h-0.8zM353.5 471.4h0.8v0.8h-0.8zM352.3 477.0h0.8v0.8h-0.8zM355.2 485.5h0.8v0.8h-0.8zM356.6 472.3h0.8v0.8h-0.8zM355.5 483.4h0.8v0.8h-0.8zM355.9 480.0h0.8v0.8h-0.8zM357.5 486.3h0.8v0.8h-0.8zM352.1 483.6h0.8v0.8h-0.8z"/><path fill="#6a6aa8" d="M353.4 476.8h0.8v0.8h-0.8zM355.9 476.2h0.8v0.8h-0.8zM354.5 478.1h0.8v0.8h-0.8zM356.0 477.2h0.8v0.8h-0.8zM356.1 476.3h0.8v0.8h-0.8zM352.2 482.5h0.8v0.8h-0.8zM356.2 484.6h0.8v0.8h-0.8zM353.9 484.0h0.8v0.8h-0.8zM354.3 482.0h0.8v0.8h-0.8zM356.7 476.9h0.8v0.8h-0.8zM355.8 489.3h0.8v0.8h-0.8zM356.5 472.3h0.8v0.8h-0.8zM356.7 475.2h0.8v0.8h-0.8zM354.3 475.2h0.8v0.8h-0.8zM354.8 473.4h0.8v0.8h-0.8zM353.2 462.7h0.8v0.8h-0.8zM352.2 474.6h0.8v0.8h-0.8zM356.8 485.9h0.8v0.8h-0.8zM358.2 484.1h0.8v0.8h-0.8zM355.2 464.4h0.8v0.8h-0.8zM354.2 472.1h0.8v0.8h-0.8zM357.4 484.4h0.8v0.8h-0.8zM357.3 486.4h0.8v0.8h-0.8zM357.5 485.0h0.8v0.8h-0.8zM355.1 479.1h0.8v0.8h-0.8zM355.2 475.9h0.8v0.8h-0.8zM352.2 471.3h0.8v0.8h-0.8zM353.6 480.7h0.8v0.8h-0.8zM354.6 479.9h0.8v0.8h-0.8zM355.5 484.6h0.8v0.8h-0.8zM353.3 476.4h0.8v0.8h-0.8zM355.4 490.8h0.8v0.8h-0.8zM355.5 475.5h0.8v0.8h-0.8zM354.9 478.2h0.8v0.8h-0.8zM351.9 475.5h0.8v0.8h-0.8zM353.3 484.8h0.8v0.8h-0.8zM357.0 487.2h0.8v0.8h-0.8zM355.3 474.5h0.8v0.8h-0.8zM360.0 473.0h0.8v0.8h-0.8zM354.1 477.4h0.8v0.8h-0.8zM353.1 466.5h0.8v0.8h-0.8zM356.0 482.7h0.8v0.8h-0.8zM357.4 479.0h0.8v0.8h-0.8zM355.4 477.1h0.8v0.8h-0.8zM351.7 476.0h0.8v0.8h-0.8z"/><path fill="#7a7ab8" d="M358.1 472.6h0.8v0.8h-0.8zM354.6 485.2h0.8v0.8h-0.8zM351.3 477.6h0.8v0.8h-0.8zM352.6 468.9h0.8v0.8h-0.8zM353.7 469.4h0.8v0.8h-0.8zM356.9 479.1h0.8v0.8h-0.8zM356.5 468.2h0.8v0.8h-0.8zM353.7 478.3h0.8v0.8h-0.8zM355.1 469.0h0.8v0.8h-0.8zM352.8 492.7h0.8v0.8h-0.8zM358.2 483.8h0.8v0.8h-0.8zM359.3 475.3h0.8v0.8h-0.8zM357.8 471.2h0.8v0.8h-0.8zM355.1 464.8h0.8v0.8h-0.8zM354.9 472.3h0.8v0.8h-0.8zM356.2 471.4h0.8v0.8h-0.8zM356.9 480.6h0.8v0.8h-0.8zM355.5 489.0h0.8v0.8h-0.8zM354.8 486.1h0.8v0.8h-0.8zM353.1 483.4h0.8v0.8h-0.8zM350.8 481.8h0.8v0.8h-0.8zM354.6 480.4h0.8v0.8h-0.8zM356.4 469.1h0.8v0.8h-0.8zM353.8 475.0h0.8v0.8h-0.8zM355.1 486.3h0.8v0.8h-0.8zM355.3 464.2h0.8v0.8h-0.8zM354.5 474.1h0.8v0.8h-0.8zM356.5 486.6h0.8v0.8h-0.8zM356.9 480.6h0.8v0.8h-0.8zM357.1 487.7h0.8v0.8h-0.8zM357.1 473.0h0.8v0.8h-0.8zM354.0 475.2h0.8v0.8h-0.8zM352.6 482.2h0.8v0.8h-0.8zM357.0 470.2h0.8v0.8h-0.8zM355.4 476.9h0.8v0.8h-0.8zM355.6 494.0h0.8v0.8h-0.8zM352.8 483.4h0.8v0.8h-0.8z"/><path fill="#a8a8d0" d="M354.5 495.0h0.8v0.8h-0.8zM352.7 481.0h0.8v0.8h-0.8zM356.2 483.6h0.8v0.8h-0.8zM353.7 475.3h0.8v0.8h-0.8zM353.2 466.8h0.8v0.8h-0.8zM358.2 493.2h0.8v0.8h-0.8zM354.5 490.4h0.8v0.8h-0.8zM353.4 473.7h0.8v0.8h-0.8zM354.8 491.0h0.8v0.8h-0.8zM354.8 471.0h0.8v0.8h-0.8zM353.6 467.0h0.8v0.8h-0.8zM356.7 483.1h0.8v0.8h-0.8zM355.9 464.7h0.8v0.8h-0.8zM353.2 481.8h0.8v0.8h-0.8zM352.3 481.8h0.8v0.8h-0.8zM356.5 479.5h0.8v0.8h-0.8zM356.6 472.2h0.8v0.8h-0.8zM354.8 478.7h0.8v0.8h-0.8zM356.1 476.5h0.8v0.8h-0.8zM351.9 493.1h0.8v0.8h-0.8zM356.0 479.1h0.8v0.8h-0.8zM353.2 476.2h0.8v0.8h-0.8zM357.8 482.8h0.8v0.8h-0.8zM356.5 475.3h0.8v0.8h-0.8zM352.5 491.5h0.8v0.8h-0.8zM352.6 471.5h0.8v0.8h-0.8zM353.5 471.0h0.8v0.8h-0.8zM352.5 483.5h0.8v0.8h-0.8zM355.5 472.2h0.8v0.8h-0.8zM354.3 482.4h0.8v0.8h-0.8zM355.8 476.0h0.8v0.8h-0.8zM350.8 487.8h0.8v0.8h-0.8zM355.8 476.9h0.8v0.8h-0.8zM355.9 470.7h0.8v0.8h-0.8zM353.9 470.8h0.8v0.8h-0.8zM352.5 473.3h0.8v0.8h-0.8z"/></g>
<g fill-opacity="0.7"><path fill="#b0bcdc" d="M372.6 487.5h0.8v0.8h-0.8zM358.5 491.3h0.8v0.8h-0.8zM369.9 492.1h0.8v0.8h-0.8zM369.6 481.1h0.8v0.8h-0.8zM372.3 487.6h0.8v0.8h-0.8zM365.0 474.6h0.8v0.8h-0.8zM370.3 469.3h0.8v0.8h-0.8zM371.9 466.3h0.8v0.8h-0.8zM365.7 462.4h0.8v0.8h-0.8zM365.4 481.7h0.8v0.8h-0.8zM372.5 482.2h0.8v0.8h-0.8zM368.5 493.5h0.8v0.8h-0.8zM369.4 470.9h0.8v0.8h-0.8zM370.6 476.5h0.8v0.8h-0.8zM366.1 479.1h0.8v0.8h-0.8zM367.3 482.5h0.8v0.8h-0.8zM368.1 484.1h0.8v0.8h-0.8zM362.6 480.6h0.8v0.8h-0.8zM371.9 489.3h0.8v0.8h-0.8zM367.1 476.5h0.8v0.8h-0.8zM366.2 482.3h0.8v0.8h-0.8zM375.1 488.8h0.8v0.8h-0.8zM365.2 487.7h0.8v0.8h-0.8zM369.5 475.1h0.8v0.8h-0.8zM365.6 484.4h0.8v0.8h-0.8zM372.0 475.8h0.8v0.8h-0.8zM374.6 486.9h0.8v0.8h-0.8zM374.4 498.1h0.8v0.8h-0.8zM361.9 472.1h0.8v0.8h-0.8zM368.2 468.3h0.8v0.8h-0.8zM362.9 482.2h0.8v0.8h-0.8zM368.5 478.1h0.8v0.8h-0.8zM369.3 467.0h0.8v0.8h-0.8zM367.6 483.0h0.8v0.8h-0.8z"/><path fill="#c0b0d8" d="M364.2 472.0h0.8v0.8h-0.8zM365.6 492.3h0.8v0.8h-0.8zM368.5 495.0h0.8v0.8h-0.8zM363.6 473.1h0.8v0.8h-0.8zM369.3 494.9h0.8v0.8h-0.8zM367.9 478.1h0.8v0.8h-0.8zM366.9 464.5h0.8v0.8h-0.8zM365.9 486.6h0.8v0.8h-0.8zM365.3 485.1h0.8v0.8h-0.8zM370.8 487.1h0.8v0.8h-0.8zM366.6 476.1h0.8v0.8h-0.8zM370.4 473.2h0.8v0.8h-0.8zM371.0 475.5h0.8v0.8h-0.8zM368.6 484.9h0.8v0.8h-0.8zM367.4 485.2h0.8v0.8h-0.8zM366.4 490.0h0.8v0.8h-0.8zM367.9 489.7h0.8v0.8h-0.8zM364.6 478.1h0.8v0.8h-0.8zM367.6 498.0h0.8v0.8h-0.8zM369.5 472.9h0.8v0.8h-0.8zM366.9 477.0h0.8v0.8h-0.8zM372.2 467.1h0.8v0.8h-0.8zM368.8 502.5h0.8v0.8h-0.8z"/><path fill="#a0b0d8" d="M366.7 483.2h0.8v0.8h-0.8zM366.8 473.1h0.8v0.8h-0.8zM362.2 491.3h0.8v0.8h-0.8zM367.1 486.5h0.8v0.8h-0.8zM370.3 482.3h0.8v0.8h-0.8zM367.3 477.4h0.8v0.8h-0.8zM369.8 483.5h0.8v0.8h-0.8zM366.7 474.3h0.8v0.8h-0.8zM373.0 470.7h0.8v0.8h-0.8zM367.9 490.7h0.8v0.8h-0.8zM364.6 476.9h0.8v0.8h-0.8zM364.0 490.0h0.8v0.8h-0.8zM366.7 498.8h0.8v0.8h-0.8zM371.6 489.6h0.8v0.8h-0.8zM365.9 465.5h0.8v0.8h-0.8zM360.7 483.7h0.8v0.8h-0.8zM363.6 489.6h0.8v0.8h-0.8zM370.1 467.2h0.8v0.8h-0.8zM364.2 490.4h0.8v0.8h-0.8zM363.0 484.4h0.8v0.8h-0.8z"/></g>
<g fill-opacity="0.85"><path fill="#4a4a70" d="M344.7 497.9h0.8v0.8h-0.8zM346.9 498.3h0.8v0.8h-0.8zM343.6 498.1h0.8v0.8h-0.8zM348.2 497.4h0.8v0.8h-0.8zM351.6 498.1h0.8v0.8h-0.8zM349.4 499.5h0.8v0.8h-0.8zM355.6 499.0h0.8v0.8h-0.8zM345.9 498.0h0.8v0.8h-0.8zM341.0 498.3h0.8v0.8h-0.8zM345.3 498.8h0.8v0.8h-0.8zM343.9 499.6h0.8v0.8h-0.8zM342.6 498.7h0.8v0.8h-0.8zM345.0 498.1h0.8v0.8h-0.8zM338.9 499.6h0.8v0.8h-0.8zM348.6 499.6h0.8v0.8h-0.8zM348.7 499.5h0.8v0.8h-0.8zM352.0 499.0h0.8v0.8h-0.8zM344.1 497.9h0.8v0.8h-0.8zM353.6 499.6h0.8v0.8h-0.8zM346.5 499.2h0.8v0.8h-0.8zM339.7 499.4h0.8v0.8h-0.8zM345.1 500.6h0.8v0.8h-0.8zM344.6 499.8h0.8v0.8h-0.8zM344.3 499.2h0.8v0.8h-0.8zM341.5 500.0h0.8v0.8h-0.8zM347.0 497.7h0.8v0.8h-0.8zM348.4 500.1h0.8v0.8h-0.8zM342.5 498.8h0.8v0.8h-0.8zM345.2 499.8h0.8v0.8h-0.8zM349.2 499.7h0.8v0.8h-0.8zM345.9 497.8h0.8v0.8h-0.8zM345.2 497.1h0.8v0.8h-0.8zM344.0 499.3h0.8v0.8h-0.8zM348.7 499.4h0.8v0.8h-0.8zM348.7 499.0h0.8v0.8h-0.8zM342.1 499.2h0.8v0.8h-0.8zM348.5 499.3h0.8v0.8h-0.8zM344.8 498.9h0.8v0.8h-0.8zM347.7 498.8h0.8v0.8h-0.8zM344.0 498.0h0.8v0.8h-0.8zM351.2 499.7h0.8v0.8h-0.8zM340.2 498.7h0.8v0.8h-0.8zM349.6 498.3h0.8v0.8h-0.8zM343.7 499.5h0.8v0.8h-0.8zM347.5 498.9h0.8v0.8h-0.8zM347.2 497.1h0.8v0.8h-0.8zM345.3 499.5h0.8v0.8h-0.8zM348.7 499.6h0.8v0.8h-0.8z"/><path fill="#5a5a80" d="M341.7 499.7h0.8v0.8h-0.8zM346.0 498.2h0.8v0.8h-0.8zM338.3 499.4h0.8v0.8h-0.8zM350.9 499.5h0.8v0.8h-0.8zM336.6 499.6h0.8v0.8h-0.8zM343.3 500.6h0.8v0.8h-0.8zM346.6 498.0h0.8v0.8h-0.8zM348.8 499.0h0.8v0.8h-0.8zM345.8 499.5h0.8v0.8h-0.8zM342.3 499.8h0.8v0.8h-0.8zM350.3 499.7h0.8v0.8h-0.8zM344.3 498.2h0.8v0.8h-0.8zM345.0 500.4h0.8v0.8h-0.8zM343.1 498.0h0.8v0.8h-0.8zM349.8 500.8h0.8v0.8h-0.8zM351.0 498.7h0.8v0.8h-0.8zM342.5 499.6h0.8v0.8h-0.8zM348.4 499.1h0.8v0.8h-0.8zM338.6 497.4h0.8v0.8h-0.8zM347.2 500.2h0.8v0.8h-0.8zM344.6 500.0h0.8v0.8h-0.8zM344.5 498.8h0.8v0.8h-0.8zM347.0 498.9h0.8v0.8h-0.8zM347.2 498.9h0.8v0.8h-0.8zM347.9 499.1h0.8v0.8h-0.8zM345.4 499.3h0.8v0.8h-0.8zM343.8 500.2h0.8v0.8h-0.8zM344.1 499.7h0.8v0.8h-0.8zM342.5 500.4h0.8v0.8h-0.8zM353.6 498.8h0.8v0.8h-0.8zM349.8 499.3h0.8v0.8h-0.8zM345.5 499.5h0.8v0.8h-0.8zM340.0 498.8h0.8v0.8h-0.8zM344.2 498.2h0.8v0.8h-0.8zM350.9 499.4h0.8v0.8h-0.8zM347.3 498.1h0.8v0.8h-0.8zM346.1 499.8h0.8v0.8h-0.8zM344.4 498.2h0.8v0.8h-0.8zM343.1 498.3h0.8v0.8h-0.8z"/><path fill="#8a8aa8" d="M347.8 499.7h0.8v0.8h-0.8zM345.5 499.2h0.8v0.8h-0.8zM342.1 498.1h0.8v0.8h-0.8zM344.3 500.0h0.8v0.8h-0.8zM351.8 498.7h0.8v0.8h-0.8zM347.9 500.0h0.8v0.8h-0.8zM344.7 499.6h0.8v0.8h-0.8zM348.5 499.2h0.8v0.8h-0.8zM346.2 499.2h0.8v0.8h-0.8zM344.0 499.5h0.8v0.8h-0.8zM346.0 499.4h0.8v0.8h-0.8zM351.0 499.0h0.8v0.8h-0.8zM350.2 499.3h0.8v0.8h-0.8zM350.0 498.1h0.8v0.8h-0.8zM342.6 497.8h0.8v0.8h-0.8zM346.1 498.5h0.8v0.8h-0.8zM343.2 497.7h0.8v0.8h-0.8zM340.8 500.1h0.8v0.8h-0.8zM343.8 498.4h0.8v0.8h-0.8zM352.4 499.5h0.8v0.8h-0.8zM344.8 499.3h0.8v0.8h-0.8zM347.9 499.2h0.8v0.8h-0.8zM350.4 498.7h0.8v0.8h-0.8zM342.4 498.4h0.8v0.8h-0.8zM342.4 498.2h0.8v0.8h-0.8zM349.8 498.7h0.8v0.8h-0.8zM351.2 498.3h0.8v0.8h-0.8zM349.4 499.5h0.8v0.8h-0.8zM346.7 498.2h0.8v0.8h-0.8zM352.4 499.0h0.8v0.8h-0.8z"/><path fill="#7a7a98" d="M347.0 500.7h0.8v0.8h-0.8zM343.5 499.2h0.8v0.8h-0.8zM341.4 499.3h0.8v0.8h-0.8zM345.8 499.0h0.8v0.8h-0.8zM343.4 499.2h0.8v0.8h-0.8zM350.9 499.4h0.8v0.8h-0.8zM346.0 498.7h0.8v0.8h-0.8zM342.4 499.7h0.8v0.8h-0.8zM348.3 498.2h0.8v0.8h-0.8zM353.3 497.9h0.8v0.8h-0.8zM344.8 498.7h0.8v0.8h-0.8zM341.6 498.8h0.8v0.8h-0.8zM349.8 498.2h0.8v0.8h-0.8zM347.4 500.4h0.8v0.8h-0.8zM350.9 499.1h0.8v0.8h-0.8zM338.5 499.0h0.8v0.8h-0.8zM341.3 499.5h0.8v0.8h-0.8zM344.2 499.4h0.8v0.8h-0.8zM346.9 499.3h0.8v0.8h-0.8zM339.8 498.8h0.8v0.8h-0.8zM344.7 499.2h0.8v0.8h-0.8zM344.7 497.9h0.8v0.8h-0.8zM343.9 498.4h0.8v0.8h-0.8zM350.2 499.9h0.8v0.8h-0.8zM345.0 499.3h0.8v0.8h-0.8zM346.9 499.7h0.8v0.8h-0.8zM344.3 498.6h0.8v0.8h-0.8zM348.5 499.1h0.8v0.8h-0.8zM346.7 499.1h0.8v0.8h-0.8zM341.5 500.7h0.8v0.8h-0.8zM345.2 500.0h0.8v0.8h-0.8z"/></g>
</g>
<rect x="336.6" y="463.0" width="22.899999999999977" height="30.399999999999977" fill="none" stroke="#a5223f" stroke-width="0.9"/>
<rect x="363.5" y="496.4" width="20.69999999999999" height="9.100000000000023" fill="none" stroke="#a5223f" stroke-width="0.9"/>
<text x="361.0" y="470.8" font-size="5.2" fill="#c0415e">41.7%</text>
<text x="371.8" y="511.8" font-size="5.2" fill="#c0415e">1.5%</text>
<text x="332.1" y="468.8" font-size="5.5" fill="#333" text-anchor="end">10<tspan font-size="3.8" dy="-2.30">5</tspan></text>
<text x="332.1" y="481.1" font-size="5.5" fill="#333" text-anchor="end">10<tspan font-size="3.8" dy="-2.30">4</tspan></text>
<text x="332.1" y="494.3" font-size="5.5" fill="#333" text-anchor="end">10<tspan font-size="3.8" dy="-2.30">3</tspan></text>
<text x="332.1" y="503.1" font-size="5.5" fill="#333" text-anchor="end">0</text>
<text x="332.1" y="510.8" font-size="5.5" fill="#333" text-anchor="end">−10<tspan font-size="3.8" dy="-2.30">3</tspan></text>
<line x1="335.3" y1="466.8" x2="336.90000000000003" y2="466.8" stroke="#666" stroke-width="0.55"/>
<line x1="335.3" y1="479.1" x2="336.90000000000003" y2="479.1" stroke="#666" stroke-width="0.55"/>
<line x1="335.3" y1="492.3" x2="336.90000000000003" y2="492.3" stroke="#666" stroke-width="0.55"/>
<line x1="335.3" y1="501.1" x2="336.90000000000003" y2="501.1" stroke="#666" stroke-width="0.55"/>
<line x1="335.3" y1="508.8" x2="336.90000000000003" y2="508.8" stroke="#666" stroke-width="0.55"/>
<line x1="339.2" y1="511.2" x2="339.2" y2="512.8" stroke="#666" stroke-width="0.55"/>
<line x1="347.3" y1="511.2" x2="347.3" y2="512.8" stroke="#666" stroke-width="0.55"/>
<line x1="353.7" y1="511.2" x2="353.7" y2="512.8" stroke="#666" stroke-width="0.55"/>
<line x1="369.1" y1="511.2" x2="369.1" y2="512.8" stroke="#666" stroke-width="0.55"/>
<line x1="380.2" y1="511.2" x2="380.2" y2="512.8" stroke="#666" stroke-width="0.55"/>
<text x="339.2" y="520.4" font-size="5.5" fill="#333" text-anchor="middle">−10<tspan font-size="3.8" dy="-2.30">3</tspan></text>
<text x="347.3" y="520.4" font-size="5.5" fill="#333" text-anchor="middle">0</text>
<text x="353.7" y="520.4" font-size="5.5" fill="#333" text-anchor="middle">10<tspan font-size="3.8" dy="-2.30">3</tspan></text>
<text x="369.1" y="520.4" font-size="5.5" fill="#333" text-anchor="middle">10<tspan font-size="3.8" dy="-2.30">4</tspan></text>
<text x="380.2" y="520.4" font-size="5.5" fill="#333" text-anchor="middle">10<tspan font-size="3.8" dy="-2.30">5</tspan></text>
<circle cx="335.80" cy="361.30" r="0.75" fill="#111"/>
<circle cx="347.30" cy="372.50" r="0.7" fill="#111"/>
<circle cx="335.80" cy="431.10" r="0.75" fill="#111"/>
<circle cx="347.30" cy="441.20" r="0.7" fill="#111"/>
<circle cx="335.80" cy="501.10" r="0.75" fill="#111"/>
<circle cx="347.30" cy="511.50" r="0.7" fill="#111"/>
<text x="169.4" y="498.7" font-size="5.8" fill="#333" text-anchor="middle" transform="rotate(-90 169.4 498.7)">SSC-A</text>
<line x1="170.0" y1="528.7" x2="170.0" y2="512.6" stroke="#111" stroke-width="0.8"/>
<path d="M170.0,510.4 L168.6,513.1999999999999 L171.4,513.1999999999999 Z" fill="#111" stroke="none" stroke-width="0.8"/>
<line x1="169.6" y1="528.7" x2="192.4" y2="528.7" stroke="#111" stroke-width="0.8"/>
<path d="M194.6,528.7 L191.79999999999998,527.3000000000001 L191.79999999999998,530.1 Z" fill="#111" stroke="none" stroke-width="0.8"/>
<text x="195.4" y="530.6" font-size="6.0" fill="#333">GFP</text>
<text x="247.8" y="492.5" font-size="5.8" fill="#333" text-anchor="middle" transform="rotate(-90 247.8 492.5)">CD3e-APC</text>
<line x1="246.2" y1="528.9" x2="246.2" y2="512.6" stroke="#111" stroke-width="0.8"/>
<path d="M246.2,510.4 L244.79999999999998,513.1999999999999 L247.6,513.1999999999999 Z" fill="#111" stroke="none" stroke-width="0.8"/>
<line x1="245.79999999999998" y1="528.9" x2="265.2" y2="528.9" stroke="#111" stroke-width="0.8"/>
<path d="M267.4,528.9 L264.59999999999997,527.5 L264.59999999999997,530.3 Z" fill="#111" stroke="none" stroke-width="0.8"/>
<text x="268.8" y="530.8" font-size="6.0" fill="#333">CD19-PECy7</text>
<text x="318.6" y="488.2" font-size="5.8" fill="#333" text-anchor="middle" transform="rotate(-90 318.6 488.2)">CD11b-BV421</text>
<line x1="319.6" y1="528.9" x2="319.6" y2="512.6" stroke="#111" stroke-width="0.8"/>
<path d="M319.6,510.4 L318.20000000000005,513.1999999999999 L321.0,513.1999999999999 Z" fill="#111" stroke="none" stroke-width="0.8"/>
<line x1="319.20000000000005" y1="528.9" x2="337.7" y2="528.9" stroke="#111" stroke-width="0.8"/>
<path d="M339.9,528.9 L337.09999999999997,527.5 L337.09999999999997,530.3 Z" fill="#111" stroke="none" stroke-width="0.8"/>
<text x="340.8" y="530.8" font-size="6.0" fill="#333">TER119-PE</text>
<text x="394.0" y="415.4" font-size="10.6" fill="#111" font-weight="bold">L</text>
<text x="423.3" y="416.2" font-size="7.4" fill="#222" text-anchor="middle" font-family="Liberation Serif, serif" stroke="#222" stroke-width="0.16">Δ/+</text>
<text x="484.6" y="416.2" font-size="7.4" fill="#222" text-anchor="middle" font-family="Liberation Serif, serif" stroke="#222" stroke-width="0.16">Δ/Δ</text>
<g clip-path="url(#c16)">
<rect x="394.6" y="421.2" width="58.4" height="48.2" fill="#c7dbe5" stroke="none" stroke-width="0.8"/>
<g filter="url(#bl08)"><ellipse cx="434" cy="430" rx="16" ry="8" fill="#7a3a9e" transform="rotate(-28 434 430)"/><ellipse cx="424" cy="441" rx="11" ry="8.5" fill="#7b3c9e" transform="rotate(-20 424 441)"/><ellipse cx="418" cy="434" rx="6.5" ry="6" fill="#6a3090" transform="rotate(0 418 434)"/><ellipse cx="442" cy="425" rx="9" ry="4.8" fill="#84449f" transform="rotate(0 442 425)"/><ellipse cx="411" cy="454" rx="14.5" ry="10.5" fill="#8446a6" transform="rotate(-10 411 454)"/><ellipse cx="404" cy="447" rx="7.5" ry="5.5" fill="#7a3a9c" transform="rotate(0 404 447)"/><ellipse cx="428" cy="457" rx="9" ry="5.5" fill="#8a4aa8" transform="rotate(0 428 457)"/><ellipse cx="420" cy="463" rx="10" ry="4.5" fill="#8848a6" transform="rotate(0 420 463)"/><ellipse cx="400" cy="458" rx="4.5" ry="4.5" fill="#6a3090" transform="rotate(0 400 458)"/><ellipse cx="434" cy="448" rx="5" ry="3.5" fill="#7a3a98" transform="rotate(0 434 448)"/><ellipse cx="428" cy="424" rx="6" ry="3.5" fill="#7a3a9c" transform="rotate(0 428 424)"/><ellipse cx="426" cy="436" rx="3" ry="2" fill="#9a58b4" fill-opacity="0.8"/><ellipse cx="420" cy="443" rx="3" ry="2" fill="#9a58b4" fill-opacity="0.8"/><ellipse cx="414" cy="452" rx="3" ry="2" fill="#9a58b4" fill-opacity="0.8"/><ellipse cx="430" cy="433" rx="3" ry="2" fill="#9a58b4" fill-opacity="0.8"/><ellipse cx="407" cy="457" rx="3" ry="2" fill="#9a58b4" fill-opacity="0.8"/><ellipse cx="440" cy="465" rx="6" ry="4" fill="#d8c8e8" fill-opacity="0.7"/></g>
<g filter="url(#bl05)"><circle cx="417.1" cy="424.2" r="2.5" fill="#2c1468"/><circle cx="414.5" cy="428.6" r="2.0" fill="#2c1468"/><circle cx="412.6" cy="434.4" r="3.2" fill="#2c1468"/><circle cx="409.6" cy="437.5" r="1.6" fill="#2c1468"/><circle cx="446.6" cy="437.8" r="2.0" fill="#2c1468"/><circle cx="399.3" cy="457.8" r="2.5" fill="#2c1468"/><circle cx="401.6" cy="455.2" r="2.0" fill="#2c1468"/><circle cx="411.3" cy="463.6" r="1.6" fill="#2c1468"/><circle cx="431.8" cy="466.8" r="2.1" fill="#2c1468"/><circle cx="420.5" cy="431.0" r="1.4" fill="#2c1468"/><circle cx="437.0" cy="422.6" r="1.4" fill="#2c1468"/><circle cx="425.5" cy="427.0" r="1.2" fill="#2c1468"/><rect x="448.6" y="421.0" width="4.6" height="6.4" rx="1.2" fill="#3a1a72"/><rect x="445.2" y="462.2" width="8" height="7.4" rx="2.5" fill="#4a2080"/><circle cx="438.6" cy="439.7" r="2.70" fill="#5a2a88"/><circle cx="438.6" cy="439.7" r="1.60" fill="#ecd8f0"/><circle cx="411.3" cy="448.6" r="2.20" fill="#5a2a88"/><circle cx="411.3" cy="448.6" r="1.20" fill="#ecd8f0"/><circle cx="421.1" cy="449.8" r="2.40" fill="#5a2a88"/><circle cx="421.1" cy="449.8" r="1.36" fill="#ecd8f0"/><circle cx="422.3" cy="461.9" r="2.10" fill="#5a2a88"/><circle cx="422.3" cy="461.9" r="1.12" fill="#ecd8f0"/><circle cx="426.0" cy="457.0" r="2.00" fill="#5a2a88"/><circle cx="426.0" cy="457.0" r="1.04" fill="#ecd8f0"/><circle cx="431.5" cy="458.0" r="2.00" fill="#5a2a88"/><circle cx="431.5" cy="458.0" r="1.04" fill="#ecd8f0"/><circle cx="440.0" cy="424.6" r="2.30" fill="#5a2a88"/><circle cx="440.0" cy="424.6" r="1.28" fill="#ecd8f0"/><circle cx="434.8" cy="425.2" r="1.90" fill="#5a2a88"/><circle cx="434.8" cy="425.2" r="0.96" fill="#ecd8f0"/><circle cx="444.0" cy="430.5" r="1.90" fill="#5a2a88"/><circle cx="444.0" cy="430.5" r="0.96" fill="#ecd8f0"/></g>
</g>
<g clip-path="url(#c17)">
<rect x="456.2" y="421.2" width="57.2" height="48.4" fill="#e9e4ef" stroke="none" stroke-width="0.8"/>
<g filter="url(#bl065)"><circle cx="460.2" cy="425.6" r="4.8" fill="#5e2a8e"/><circle cx="467.1" cy="437.3" r="5.5" fill="#5e2a8e"/><circle cx="485.0" cy="433.8" r="5.8" fill="#5e2a8e"/><circle cx="475.8" cy="440.8" r="5.3" fill="#5e2a8e"/><circle cx="489.6" cy="442.5" r="5.5" fill="#5e2a8e"/><circle cx="500.6" cy="447.1" r="5.3" fill="#5e2a8e"/><circle cx="470.0" cy="454.0" r="6.2" fill="#5e2a8e"/><circle cx="482.1" cy="454.0" r="5.0" fill="#5e2a8e"/><circle cx="494.8" cy="455.2" r="5.3" fill="#5e2a8e"/><circle cx="467.7" cy="446.0" r="5.0" fill="#5e2a8e"/><circle cx="483.8" cy="446.0" r="5.0" fill="#5e2a8e"/><circle cx="493.0" cy="448.8" r="4.6" fill="#5e2a8e"/><circle cx="476.0" cy="448.0" r="4.6" fill="#5e2a8e"/><circle cx="459.7" cy="425.3" r="3.46" fill="#8250ac" fill-opacity="0.85"/><circle cx="459.65" cy="425.48" r="0.93" fill="#9a68ba" fill-opacity="0.7"/><circle cx="461.79" cy="425.48" r="0.95" fill="#9a68ba" fill-opacity="0.7"/><circle cx="461.00" cy="425.83" r="1.26" fill="#9a68ba" fill-opacity="0.7"/><circle cx="466.6" cy="437.0" r="3.96" fill="#8250ac" fill-opacity="0.85"/><circle cx="466.64" cy="435.99" r="1.17" fill="#9a68ba" fill-opacity="0.7"/><circle cx="468.08" cy="437.79" r="0.91" fill="#9a68ba" fill-opacity="0.7"/><circle cx="467.13" cy="435.09" r="1.17" fill="#9a68ba" fill-opacity="0.7"/><circle cx="484.5" cy="433.5" r="4.18" fill="#8250ac" fill-opacity="0.85"/><circle cx="485.49" cy="433.57" r="1.11" fill="#9a68ba" fill-opacity="0.7"/><circle cx="484.36" cy="435.80" r="0.90" fill="#9a68ba" fill-opacity="0.7"/><circle cx="487.21" cy="434.91" r="0.90" fill="#9a68ba" fill-opacity="0.7"/><circle cx="475.3" cy="440.5" r="3.82" fill="#8250ac" fill-opacity="0.85"/><circle cx="476.27" cy="439.93" r="1.17" fill="#9a68ba" fill-opacity="0.7"/><circle cx="477.77" cy="439.78" r="1.29" fill="#9a68ba" fill-opacity="0.7"/><circle cx="477.53" cy="440.42" r="1.00" fill="#9a68ba" fill-opacity="0.7"/><circle cx="489.1" cy="442.2" r="3.96" fill="#8250ac" fill-opacity="0.85"/><circle cx="490.68" cy="444.60" r="1.31" fill="#9a68ba" fill-opacity="0.7"/><circle cx="490.51" cy="441.89" r="1.41" fill="#9a68ba" fill-opacity="0.7"/><circle cx="490.16" cy="442.54" r="1.06" fill="#9a68ba" fill-opacity="0.7"/><circle cx="500.1" cy="446.8" r="3.82" fill="#8250ac" fill-opacity="0.85"/><circle cx="500.79" cy="447.80" r="1.38" fill="#9a68ba" fill-opacity="0.7"/><circle cx="501.20" cy="448.01" r="0.98" fill="#9a68ba" fill-opacity="0.7"/><circle cx="500.09" cy="447.40" r="1.31" fill="#9a68ba" fill-opacity="0.7"/><circle cx="469.5" cy="453.7" r="4.46" fill="#8250ac" fill-opacity="0.85"/><circle cx="468.96" cy="456.00" r="1.06" fill="#9a68ba" fill-opacity="0.7"/><circle cx="472.19" cy="455.18" r="1.49" fill="#9a68ba" fill-opacity="0.7"/><circle cx="468.63" cy="452.45" r="1.08" fill="#9a68ba" fill-opacity="0.7"/><circle cx="481.6" cy="453.7" r="3.60" fill="#8250ac" fill-opacity="0.85"/><circle cx="482.75" cy="454.29" r="1.40" fill="#9a68ba" fill-opacity="0.7"/><circle cx="482.07" cy="452.72" r="1.26" fill="#9a68ba" fill-opacity="0.7"/><circle cx="483.33" cy="453.74" r="1.29" fill="#9a68ba" fill-opacity="0.7"/><circle cx="494.3" cy="454.9" r="3.82" fill="#8250ac" fill-opacity="0.85"/><circle cx="496.72" cy="455.27" r="1.20" fill="#9a68ba" fill-opacity="0.7"/><circle cx="495.30" cy="453.42" r="1.03" fill="#9a68ba" fill-opacity="0.7"/><circle cx="495.92" cy="454.83" r="0.91" fill="#9a68ba" fill-opacity="0.7"/><circle cx="467.2" cy="445.7" r="3.60" fill="#8250ac" fill-opacity="0.85"/><circle cx="467.25" cy="446.22" r="1.47" fill="#9a68ba" fill-opacity="0.7"/><circle cx="466.06" cy="444.93" r="1.39" fill="#9a68ba" fill-opacity="0.7"/><circle cx="468.27" cy="445.92" r="1.44" fill="#9a68ba" fill-opacity="0.7"/><circle cx="483.3" cy="445.7" r="3.60" fill="#8250ac" fill-opacity="0.85"/><circle cx="484.01" cy="446.69" r="1.43" fill="#9a68ba" fill-opacity="0.7"/><circle cx="485.65" cy="447.46" r="0.98" fill="#9a68ba" fill-opacity="0.7"/><circle cx="483.44" cy="445.54" r="0.92" fill="#9a68ba" fill-opacity="0.7"/><circle cx="492.5" cy="448.5" r="3.31" fill="#8250ac" fill-opacity="0.85"/><circle cx="493.01" cy="450.39" r="1.22" fill="#9a68ba" fill-opacity="0.7"/><circle cx="495.25" cy="448.57" r="1.28" fill="#9a68ba" fill-opacity="0.7"/><circle cx="491.73" cy="448.82" r="0.88" fill="#9a68ba" fill-opacity="0.7"/><circle cx="475.5" cy="447.7" r="3.31" fill="#8250ac" fill-opacity="0.85"/><circle cx="475.93" cy="447.26" r="1.46" fill="#9a68ba" fill-opacity="0.7"/><circle cx="473.92" cy="447.74" r="1.48" fill="#9a68ba" fill-opacity="0.7"/><circle cx="475.26" cy="448.57" r="0.96" fill="#9a68ba" fill-opacity="0.7"/><circle cx="510.4" cy="459.8" r="1.8" fill="#a050a0"/><rect x="512.2" y="454" width="1.2" height="11" fill="#5a2a7a"/><ellipse cx="459.8" cy="439.3" rx="1.5" ry="2" fill="#f8f0f8"/></g>
</g>
<rect x="429.6" y="471.7" width="22.0" height="8.6" fill="#d3e2ea" stroke="none" stroke-width="0.8"/>
<text x="440.6" y="477.6" font-size="6.2" fill="#222" text-anchor="middle">20 µm</text>
<line x1="433.0" y1="479.2" x2="448.20000000000005" y2="479.2" stroke="#111" stroke-width="0.9"/>
<rect x="490.0" y="471.7" width="22.0" height="8.6" fill="#dde2ec" stroke="none" stroke-width="0.8"/>
<text x="501.0" y="477.6" font-size="6.2" fill="#222" text-anchor="middle">20 µm</text>
<line x1="493.4" y1="479.2" x2="508.6" y2="479.2" stroke="#111" stroke-width="0.9"/>
</svg>
</body></html>
